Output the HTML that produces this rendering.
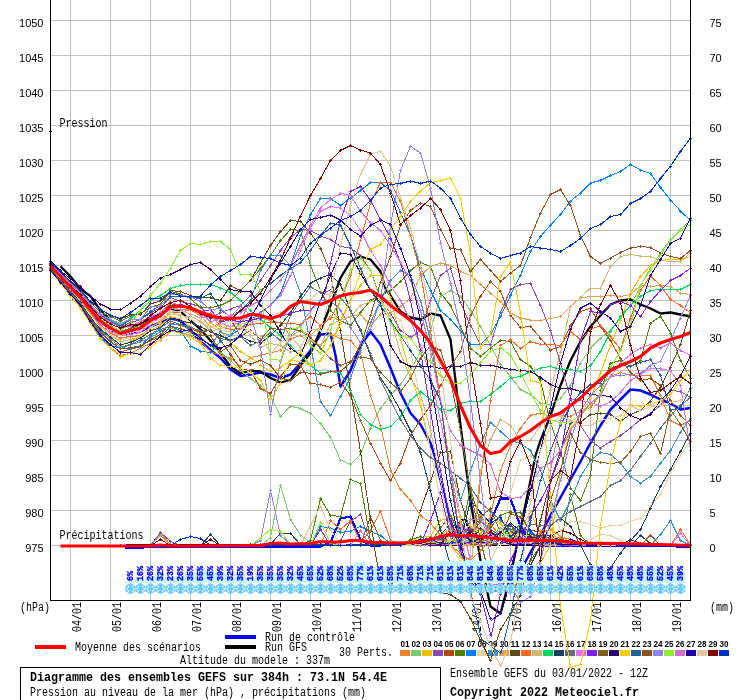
<!DOCTYPE html>
<html lang="fr"><head><meta charset="utf-8"><title>Diagramme des ensembles GEFS</title>
<style>html,body{margin:0;padding:0;background:#fff}svg{display:block;will-change:transform}text{white-space:pre}</style>
</head><body>
<svg width="740" height="700" viewBox="0 0 740 700">
<rect width="740" height="700" fill="#fff"/>
<g shape-rendering="crispEdges" stroke="#c0c0c0" stroke-width="1">
<line x1="70.5" y1="0" x2="70.5" y2="600"/>
<line x1="110.5" y1="0" x2="110.5" y2="600"/>
<line x1="150.5" y1="0" x2="150.5" y2="600"/>
<line x1="190.5" y1="0" x2="190.5" y2="600"/>
<line x1="230.5" y1="0" x2="230.5" y2="600"/>
<line x1="270.5" y1="0" x2="270.5" y2="600"/>
<line x1="310.5" y1="0" x2="310.5" y2="600"/>
<line x1="350.5" y1="0" x2="350.5" y2="600"/>
<line x1="390.5" y1="0" x2="390.5" y2="600"/>
<line x1="430.5" y1="0" x2="430.5" y2="600"/>
<line x1="470.5" y1="0" x2="470.5" y2="600"/>
<line x1="510.5" y1="0" x2="510.5" y2="600"/>
<line x1="550.5" y1="0" x2="550.5" y2="600"/>
<line x1="590.5" y1="0" x2="590.5" y2="600"/>
<line x1="630.5" y1="0" x2="630.5" y2="600"/>
<line x1="670.5" y1="0" x2="670.5" y2="600"/>
<line x1="51" y1="20.5" x2="690" y2="20.5"/>
<line x1="51" y1="55.5" x2="690" y2="55.5"/>
<line x1="51" y1="90.5" x2="690" y2="90.5"/>
<line x1="51" y1="125.5" x2="690" y2="125.5"/>
<line x1="51" y1="160.5" x2="690" y2="160.5"/>
<line x1="51" y1="195.5" x2="690" y2="195.5"/>
<line x1="51" y1="230.5" x2="690" y2="230.5"/>
<line x1="51" y1="265.5" x2="690" y2="265.5"/>
<line x1="51" y1="300.5" x2="690" y2="300.5"/>
<line x1="51" y1="335.5" x2="690" y2="335.5"/>
<line x1="51" y1="370.5" x2="690" y2="370.5"/>
<line x1="51" y1="405.5" x2="690" y2="405.5"/>
<line x1="51" y1="440.5" x2="690" y2="440.5"/>
<line x1="51" y1="475.5" x2="690" y2="475.5"/>
<line x1="51" y1="510.5" x2="690" y2="510.5"/>
<line x1="51" y1="545.5" x2="690" y2="545.5"/>
</g>
<g shape-rendering="crispEdges" fill="#000">
<rect x="50" y="0" width="1" height="601"/>
<rect x="690" y="0" width="1" height="601"/>
<rect x="50" y="600" width="641" height="1"/>
<rect x="49" y="131" width="3" height="1"/>
</g>
<g font-family="'Liberation Sans', sans-serif" font-size="11" fill="#000">
<text x="43.5" y="27" text-anchor="end">1050</text>
<text x="709.5" y="27">75</text>
<text x="43.5" y="62" text-anchor="end">1045</text>
<text x="709.5" y="62">70</text>
<text x="43.5" y="97" text-anchor="end">1040</text>
<text x="709.5" y="97">65</text>
<text x="43.5" y="132" text-anchor="end">1035</text>
<text x="709.5" y="132">60</text>
<text x="43.5" y="167" text-anchor="end">1030</text>
<text x="709.5" y="167">55</text>
<text x="43.5" y="202" text-anchor="end">1025</text>
<text x="709.5" y="202">50</text>
<text x="43.5" y="237" text-anchor="end">1020</text>
<text x="709.5" y="237">45</text>
<text x="43.5" y="272" text-anchor="end">1015</text>
<text x="709.5" y="272">40</text>
<text x="43.5" y="307" text-anchor="end">1010</text>
<text x="709.5" y="307">35</text>
<text x="43.5" y="342" text-anchor="end">1005</text>
<text x="709.5" y="342">30</text>
<text x="43.5" y="377" text-anchor="end">1000</text>
<text x="709.5" y="377">25</text>
<text x="43.5" y="412" text-anchor="end">995</text>
<text x="709.5" y="412">20</text>
<text x="43.5" y="447" text-anchor="end">990</text>
<text x="709.5" y="447">15</text>
<text x="43.5" y="482" text-anchor="end">985</text>
<text x="709.5" y="482">10</text>
<text x="43.5" y="517" text-anchor="end">980</text>
<text x="709.5" y="517">5</text>
<text x="43.5" y="552" text-anchor="end">975</text>
<text x="709.5" y="552">0</text>
</g>
<g font-family="'Liberation Mono', monospace">
<text x="59.5" y="127" font-size="12" textLength="48" lengthAdjust="spacingAndGlyphs" fill="#000" >Pression</text>
<text x="59.5" y="539" font-size="12" textLength="84" lengthAdjust="spacingAndGlyphs" fill="#000" >Précipitations</text>
<text x="20" y="611" font-size="12" textLength="30" lengthAdjust="spacingAndGlyphs" fill="#000" >(hPa)</text>
<text x="710" y="611" font-size="12" textLength="24" lengthAdjust="spacingAndGlyphs" fill="#000" >(mm)</text>
<g transform="translate(81,632) rotate(-90)"><text x="0" y="0" font-size="12" textLength="30" lengthAdjust="spacingAndGlyphs" fill="#000" >04/01</text></g>
<g transform="translate(121,632) rotate(-90)"><text x="0" y="0" font-size="12" textLength="30" lengthAdjust="spacingAndGlyphs" fill="#000" >05/01</text></g>
<g transform="translate(161,632) rotate(-90)"><text x="0" y="0" font-size="12" textLength="30" lengthAdjust="spacingAndGlyphs" fill="#000" >06/01</text></g>
<g transform="translate(201,632) rotate(-90)"><text x="0" y="0" font-size="12" textLength="30" lengthAdjust="spacingAndGlyphs" fill="#000" >07/01</text></g>
<g transform="translate(241,632) rotate(-90)"><text x="0" y="0" font-size="12" textLength="30" lengthAdjust="spacingAndGlyphs" fill="#000" >08/01</text></g>
<g transform="translate(281,632) rotate(-90)"><text x="0" y="0" font-size="12" textLength="30" lengthAdjust="spacingAndGlyphs" fill="#000" >09/01</text></g>
<g transform="translate(321,632) rotate(-90)"><text x="0" y="0" font-size="12" textLength="30" lengthAdjust="spacingAndGlyphs" fill="#000" >10/01</text></g>
<g transform="translate(361,632) rotate(-90)"><text x="0" y="0" font-size="12" textLength="30" lengthAdjust="spacingAndGlyphs" fill="#000" >11/01</text></g>
<g transform="translate(401,632) rotate(-90)"><text x="0" y="0" font-size="12" textLength="30" lengthAdjust="spacingAndGlyphs" fill="#000" >12/01</text></g>
<g transform="translate(441,632) rotate(-90)"><text x="0" y="0" font-size="12" textLength="30" lengthAdjust="spacingAndGlyphs" fill="#000" >13/01</text></g>
<g transform="translate(481,632) rotate(-90)"><text x="0" y="0" font-size="12" textLength="30" lengthAdjust="spacingAndGlyphs" fill="#000" >14/01</text></g>
<g transform="translate(521,632) rotate(-90)"><text x="0" y="0" font-size="12" textLength="30" lengthAdjust="spacingAndGlyphs" fill="#000" >15/01</text></g>
<g transform="translate(561,632) rotate(-90)"><text x="0" y="0" font-size="12" textLength="30" lengthAdjust="spacingAndGlyphs" fill="#000" >16/01</text></g>
<g transform="translate(601,632) rotate(-90)"><text x="0" y="0" font-size="12" textLength="30" lengthAdjust="spacingAndGlyphs" fill="#000" >17/01</text></g>
<g transform="translate(641,632) rotate(-90)"><text x="0" y="0" font-size="12" textLength="30" lengthAdjust="spacingAndGlyphs" fill="#000" >18/01</text></g>
<g transform="translate(681,632) rotate(-90)"><text x="0" y="0" font-size="12" textLength="30" lengthAdjust="spacingAndGlyphs" fill="#000" >19/01</text></g>
<text x="75" y="651" font-size="12" textLength="126" lengthAdjust="spacingAndGlyphs" fill="#000" >Moyenne des scénarios</text>
<text x="265" y="641" font-size="12" textLength="90" lengthAdjust="spacingAndGlyphs" fill="#000" >Run de contrôle</text>
<text x="265" y="651" font-size="12" textLength="42" lengthAdjust="spacingAndGlyphs" fill="#000" >Run GFS</text>
<text x="339" y="656" font-size="12" textLength="54" lengthAdjust="spacingAndGlyphs" fill="#000" >30 Perts.</text>
<text x="180" y="664" font-size="12" textLength="150" lengthAdjust="spacingAndGlyphs" fill="#000" >Altitude du modele : 337m</text>
<text x="30" y="681" font-size="12" font-weight="bold" textLength="357" lengthAdjust="spacingAndGlyphs" fill="#000" >Diagramme des ensembles GEFS sur 384h : 73.1N 54.4E</text>
<text x="30" y="696" font-size="12" textLength="336" lengthAdjust="spacingAndGlyphs" fill="#000" >Pression au niveau de la mer (hPa) , précipitations (mm)</text>
<text x="450" y="677" font-size="12" textLength="198" lengthAdjust="spacingAndGlyphs" fill="#000" >Ensemble GEFS du 03/01/2022 - 12Z</text>
<text x="450" y="696" font-size="12" font-weight="bold" textLength="189" lengthAdjust="spacingAndGlyphs" fill="#000" >Copyright 2022 Meteociel.fr</text>
</g>
<g shape-rendering="crispEdges">
<rect x="35" y="645" width="31" height="4" fill="#ff0000"/>
<rect x="225" y="635" width="31" height="4" fill="#0000ff"/>
<rect x="225" y="645" width="31" height="4" fill="#000"/>
<rect x="400" y="650" width="10" height="6" fill="#e88030"/>
<rect x="411" y="650" width="10" height="6" fill="#80c870"/>
<rect x="422" y="650" width="10" height="6" fill="#f0c000"/>
<rect x="433" y="650" width="10" height="6" fill="#9048b0"/>
<rect x="444" y="650" width="10" height="6" fill="#b04808"/>
<rect x="455" y="650" width="10" height="6" fill="#508008"/>
<rect x="466" y="650" width="10" height="6" fill="#0080ff"/>
<rect x="477" y="650" width="10" height="6" fill="#e8d0a0"/>
<rect x="488" y="650" width="10" height="6" fill="#4090c0"/>
<rect x="499" y="650" width="10" height="6" fill="#e0a050"/>
<rect x="510" y="650" width="10" height="6" fill="#604818"/>
<rect x="521" y="650" width="10" height="6" fill="#ff6820"/>
<rect x="532" y="650" width="10" height="6" fill="#d0b870"/>
<rect x="543" y="650" width="10" height="6" fill="#00d860"/>
<rect x="554" y="650" width="10" height="6" fill="#204060"/>
<rect x="565" y="650" width="10" height="6" fill="#607080"/>
<rect x="576" y="650" width="10" height="6" fill="#e070f0"/>
<rect x="587" y="650" width="10" height="6" fill="#8020f0"/>
<rect x="598" y="650" width="10" height="6" fill="#806020"/>
<rect x="609" y="650" width="10" height="6" fill="#300070"/>
<rect x="620" y="650" width="10" height="6" fill="#f0d000"/>
<rect x="631" y="650" width="10" height="6" fill="#2060a0"/>
<rect x="642" y="650" width="10" height="6" fill="#905020"/>
<rect x="653" y="650" width="10" height="6" fill="#9080f0"/>
<rect x="664" y="650" width="10" height="6" fill="#90f030"/>
<rect x="675" y="650" width="10" height="6" fill="#d070d0"/>
<rect x="686" y="650" width="10" height="6" fill="#2000a0"/>
<rect x="697" y="650" width="10" height="6" fill="#e0c8a0"/>
<rect x="708" y="650" width="10" height="6" fill="#800000"/>
<rect x="719" y="650" width="10" height="6" fill="#0030c0"/>
<rect x="20.5" y="667.5" width="420" height="40" fill="none" stroke="#000" stroke-width="1"/>
</g>
<g font-family="'Liberation Sans', sans-serif" font-size="8.5" font-weight="bold" fill="#000">
<text x="400.5" y="647" textLength="9" lengthAdjust="spacingAndGlyphs">01</text>
<text x="411.5" y="647" textLength="9" lengthAdjust="spacingAndGlyphs">02</text>
<text x="422.5" y="647" textLength="9" lengthAdjust="spacingAndGlyphs">03</text>
<text x="433.5" y="647" textLength="9" lengthAdjust="spacingAndGlyphs">04</text>
<text x="444.5" y="647" textLength="9" lengthAdjust="spacingAndGlyphs">05</text>
<text x="455.5" y="647" textLength="9" lengthAdjust="spacingAndGlyphs">06</text>
<text x="466.5" y="647" textLength="9" lengthAdjust="spacingAndGlyphs">07</text>
<text x="477.5" y="647" textLength="9" lengthAdjust="spacingAndGlyphs">08</text>
<text x="488.5" y="647" textLength="9" lengthAdjust="spacingAndGlyphs">09</text>
<text x="499.5" y="647" textLength="9" lengthAdjust="spacingAndGlyphs">10</text>
<text x="510.5" y="647" textLength="9" lengthAdjust="spacingAndGlyphs">11</text>
<text x="521.5" y="647" textLength="9" lengthAdjust="spacingAndGlyphs">12</text>
<text x="532.5" y="647" textLength="9" lengthAdjust="spacingAndGlyphs">13</text>
<text x="543.5" y="647" textLength="9" lengthAdjust="spacingAndGlyphs">14</text>
<text x="554.5" y="647" textLength="9" lengthAdjust="spacingAndGlyphs">15</text>
<text x="565.5" y="647" textLength="9" lengthAdjust="spacingAndGlyphs">16</text>
<text x="576.5" y="647" textLength="9" lengthAdjust="spacingAndGlyphs">17</text>
<text x="587.5" y="647" textLength="9" lengthAdjust="spacingAndGlyphs">18</text>
<text x="598.5" y="647" textLength="9" lengthAdjust="spacingAndGlyphs">19</text>
<text x="609.5" y="647" textLength="9" lengthAdjust="spacingAndGlyphs">20</text>
<text x="620.5" y="647" textLength="9" lengthAdjust="spacingAndGlyphs">21</text>
<text x="631.5" y="647" textLength="9" lengthAdjust="spacingAndGlyphs">22</text>
<text x="642.5" y="647" textLength="9" lengthAdjust="spacingAndGlyphs">23</text>
<text x="653.5" y="647" textLength="9" lengthAdjust="spacingAndGlyphs">24</text>
<text x="664.5" y="647" textLength="9" lengthAdjust="spacingAndGlyphs">25</text>
<text x="675.5" y="647" textLength="9" lengthAdjust="spacingAndGlyphs">26</text>
<text x="686.5" y="647" textLength="9" lengthAdjust="spacingAndGlyphs">27</text>
<text x="697.5" y="647" textLength="9" lengthAdjust="spacingAndGlyphs">28</text>
<text x="708.5" y="647" textLength="9" lengthAdjust="spacingAndGlyphs">29</text>
<text x="719.5" y="647" textLength="9" lengthAdjust="spacingAndGlyphs">30</text>
</g>
<g shape-rendering="crispEdges" stroke-linejoin="round">
<polyline points="125.5,545.0 430.5,545.0 440.5,542.0 450.5,535.0 460.5,520.0 465.5,520.0 470.5,535.0 480.5,542.0 490.5,545.0 690.5,545.0" fill="none" stroke="#000" stroke-width="1.6" />
<polyline points="125.5,547.5 320.5,546.5 330.5,542.5 340.5,518.5 350.5,516.5 360.5,539.5 370.5,545.5 470.5,544.5 480.5,539.5 490.5,521.5 500.5,498.5 510.5,498.5 520.5,526.5 530.5,541.5 540.5,545.5 690.5,546.5" fill="none" stroke="#0000ff" stroke-width="2.2" />
<polyline points="50.5,265.5 60.5,276.5 70.5,288.5 80.5,299.5 90.5,311.5 100.5,322.5 110.5,329.5 120.5,334.5 130.5,333.5 140.5,331.5 150.5,326.5 160.5,322.5 170.5,318.5 180.5,320.5 190.5,330.5 200.5,341.5 210.5,350.0 220.5,358.0 230.5,369.5 240.5,376.0 250.5,374.5 260.5,372.5 270.5,374.5 280.5,378.0 290.5,374.5 300.5,363.0 310.5,350.5 320.5,334.5 330.5,333.5 335.5,355.5 340.5,386.5 350.5,370.5 360.5,345.5 370.5,331.5 380.5,344.5 390.5,368.0 400.5,393.0 410.5,413.0 420.5,424.5 430.5,443.0 434.5,455.5 440.5,480.5 450.5,520.5 460.5,550.5 470.5,572.5 480.5,585.5 490.5,590.5 500.5,590.5 510.5,585.5 520.5,570.5 530.5,552.5 540.5,535.5 545.5,525.5 550.5,515.5 560.5,497.5 570.5,479.5 580.5,461.5 590.5,443.0 600.5,425.5 610.5,409.5 620.5,399.5 630.5,389.5 640.5,390.5 650.5,394.5 660.5,399.5 670.5,403.5 680.5,409.5 690.5,408.0" fill="none" stroke="#0000ff" stroke-width="2.5" shape-rendering="geometricPrecision"/>
<polyline points="60.5,266.2 70.5,276.5 80.5,289.0 90.5,296.1 100.5,310.5 110.5,320.5 120.5,326.0 130.5,326.0 140.5,324.5 150.5,318.5 160.5,313.5 170.5,308.5 180.5,311.5 190.5,320.5 200.5,329.5 210.5,340.5 220.5,353.0 230.5,366.5 240.5,373.5 250.5,370.5 260.5,371.5 270.5,378.0 280.5,382.5 290.5,380.0 300.5,365.5 310.5,353.0 320.5,330.5 330.5,305.5 340.5,278.0 350.5,261.5 360.5,256.5 370.5,259.5 380.5,271.5 385.5,288.5 390.5,295.5 400.5,311.5 410.5,317.5 420.5,319.5 430.5,313.5 440.5,315.5 450.5,339.5 455.5,380.5 460.5,425.5 464.5,455.5 470.5,500.5 480.5,560.5 490.5,606.5 500.5,613.5 510.5,575.5 520.5,528.5 530.5,480.5 535.5,455.5 540.5,440.5 550.5,415.5 560.5,385.5 570.5,360.5 580.5,341.5 590.5,326.5 600.5,315.5 610.5,304.5 620.5,300.5 630.5,299.5 640.5,304.5 650.5,308.5 660.5,313.5 670.5,312.5 680.5,314.5 690.5,316.5" fill="none" stroke="#000" stroke-width="2.3" shape-rendering="geometricPrecision"/>
<polyline points="120.5,545.5 130.5,545.5 140.5,545.5 150.5,545.5 160.5,533.5 170.5,544.5 180.5,545.5 190.5,545.5 200.5,545.5 210.5,545.5 220.5,545.5 230.5,545.5 240.5,545.5 250.5,545.5 260.5,545.5 270.5,545.5 280.5,545.5 290.5,545.5 300.5,545.5 310.5,545.5 320.5,545.5 330.5,545.5 340.5,545.5 350.5,545.5 360.5,545.5 370.5,545.5 380.5,545.5 390.5,545.5 400.5,544.5 410.5,544.5 420.5,544.8 430.5,545.3 440.5,543.1 450.5,539.8 460.5,527.1 470.5,535.6 480.5,529.0 490.5,538.5 500.5,539.4 510.5,542.6 520.5,544.3 530.5,543.2 540.5,542.7 550.5,544.5 560.5,543.0 570.5,544.6 580.5,544.0 590.5,544.8 600.5,545.3 610.5,545.3 620.5,545.5 630.5,545.5 640.5,545.5 650.5,545.5 660.5,545.5 670.5,545.5 680.5,545.5 690.5,545.5" fill="none" stroke="#e88030" stroke-width="1" /><path d="M120 544h1v1h1v1h-1v1h-1v-1h-1v-1h1zM130 544h1v1h1v1h-1v1h-1v-1h-1v-1h1zM140 544h1v1h1v1h-1v1h-1v-1h-1v-1h1zM150 544h1v1h1v1h-1v1h-1v-1h-1v-1h1zM160 532h1v1h1v1h-1v1h-1v-1h-1v-1h1zM170 543h1v1h1v1h-1v1h-1v-1h-1v-1h1zM180 544h1v1h1v1h-1v1h-1v-1h-1v-1h1zM190 544h1v1h1v1h-1v1h-1v-1h-1v-1h1zM200 544h1v1h1v1h-1v1h-1v-1h-1v-1h1zM210 544h1v1h1v1h-1v1h-1v-1h-1v-1h1zM220 544h1v1h1v1h-1v1h-1v-1h-1v-1h1zM230 544h1v1h1v1h-1v1h-1v-1h-1v-1h1zM240 544h1v1h1v1h-1v1h-1v-1h-1v-1h1zM250 544h1v1h1v1h-1v1h-1v-1h-1v-1h1zM260 544h1v1h1v1h-1v1h-1v-1h-1v-1h1zM270 544h1v1h1v1h-1v1h-1v-1h-1v-1h1zM280 544h1v1h1v1h-1v1h-1v-1h-1v-1h1zM290 544h1v1h1v1h-1v1h-1v-1h-1v-1h1zM300 544h1v1h1v1h-1v1h-1v-1h-1v-1h1zM310 544h1v1h1v1h-1v1h-1v-1h-1v-1h1zM320 544h1v1h1v1h-1v1h-1v-1h-1v-1h1zM330 544h1v1h1v1h-1v1h-1v-1h-1v-1h1zM340 544h1v1h1v1h-1v1h-1v-1h-1v-1h1zM350 544h1v1h1v1h-1v1h-1v-1h-1v-1h1zM360 544h1v1h1v1h-1v1h-1v-1h-1v-1h1zM370 544h1v1h1v1h-1v1h-1v-1h-1v-1h1zM380 544h1v1h1v1h-1v1h-1v-1h-1v-1h1zM390 544h1v1h1v1h-1v1h-1v-1h-1v-1h1zM400 543h1v1h1v1h-1v1h-1v-1h-1v-1h1zM410 543h1v1h1v1h-1v1h-1v-1h-1v-1h1zM420 543h1v1h1v1h-1v1h-1v-1h-1v-1h1zM430 544h1v1h1v1h-1v1h-1v-1h-1v-1h1zM440 542h1v1h1v1h-1v1h-1v-1h-1v-1h1zM450 538h1v1h1v1h-1v1h-1v-1h-1v-1h1zM460 526h1v1h1v1h-1v1h-1v-1h-1v-1h1zM470 534h1v1h1v1h-1v1h-1v-1h-1v-1h1zM480 528h1v1h1v1h-1v1h-1v-1h-1v-1h1zM490 537h1v1h1v1h-1v1h-1v-1h-1v-1h1zM500 538h1v1h1v1h-1v1h-1v-1h-1v-1h1zM510 541h1v1h1v1h-1v1h-1v-1h-1v-1h1zM520 543h1v1h1v1h-1v1h-1v-1h-1v-1h1zM530 542h1v1h1v1h-1v1h-1v-1h-1v-1h1zM540 541h1v1h1v1h-1v1h-1v-1h-1v-1h1zM550 543h1v1h1v1h-1v1h-1v-1h-1v-1h1zM560 541h1v1h1v1h-1v1h-1v-1h-1v-1h1zM570 543h1v1h1v1h-1v1h-1v-1h-1v-1h1zM580 542h1v1h1v1h-1v1h-1v-1h-1v-1h1zM590 543h1v1h1v1h-1v1h-1v-1h-1v-1h1zM600 544h1v1h1v1h-1v1h-1v-1h-1v-1h1zM610 544h1v1h1v1h-1v1h-1v-1h-1v-1h1zM620 544h1v1h1v1h-1v1h-1v-1h-1v-1h1zM630 544h1v1h1v1h-1v1h-1v-1h-1v-1h1zM640 544h1v1h1v1h-1v1h-1v-1h-1v-1h1zM650 544h1v1h1v1h-1v1h-1v-1h-1v-1h1zM660 544h1v1h1v1h-1v1h-1v-1h-1v-1h1zM670 544h1v1h1v1h-1v1h-1v-1h-1v-1h1zM680 544h1v1h1v1h-1v1h-1v-1h-1v-1h1zM690 544h1v1h1v1h-1v1h-1v-1h-1v-1h1z" fill="#e88030"/>
<polyline points="120.5,545.5 130.5,545.5 140.5,545.5 150.5,545.5 160.5,535.5 170.5,545.5 180.5,545.5 190.5,545.5 200.5,545.5 210.5,545.5 220.5,545.5 230.5,545.5 240.5,545.5 250.5,545.5 260.5,545.5 270.5,538.0 280.5,485.5 290.5,519.5 300.5,535.0 310.5,542.5 320.5,545.5 330.5,545.5 340.5,545.5 350.5,545.5 360.5,545.5 370.5,545.5 380.5,545.5 390.5,545.5 400.5,545.1 410.5,545.2 420.5,544.5 430.5,543.4 440.5,544.7 450.5,544.5 460.5,542.8 470.5,539.8 480.5,535.3 490.5,537.8 500.5,533.6 510.5,529.9 520.5,540.5 530.5,538.7 540.5,542.4 550.5,543.6 560.5,544.9 570.5,545.3 580.5,545.4 590.5,545.1 600.5,544.6 610.5,544.9 620.5,545.5 630.5,545.5 640.5,545.5 650.5,545.5 660.5,545.5 670.5,545.5 680.5,545.5 690.5,545.5" fill="none" stroke="#80c870" stroke-width="1" /><path d="M120 544h1v1h1v1h-1v1h-1v-1h-1v-1h1zM130 544h1v1h1v1h-1v1h-1v-1h-1v-1h1zM140 544h1v1h1v1h-1v1h-1v-1h-1v-1h1zM150 544h1v1h1v1h-1v1h-1v-1h-1v-1h1zM160 534h1v1h1v1h-1v1h-1v-1h-1v-1h1zM170 544h1v1h1v1h-1v1h-1v-1h-1v-1h1zM180 544h1v1h1v1h-1v1h-1v-1h-1v-1h1zM190 544h1v1h1v1h-1v1h-1v-1h-1v-1h1zM200 544h1v1h1v1h-1v1h-1v-1h-1v-1h1zM210 544h1v1h1v1h-1v1h-1v-1h-1v-1h1zM220 544h1v1h1v1h-1v1h-1v-1h-1v-1h1zM230 544h1v1h1v1h-1v1h-1v-1h-1v-1h1zM240 544h1v1h1v1h-1v1h-1v-1h-1v-1h1zM250 544h1v1h1v1h-1v1h-1v-1h-1v-1h1zM260 544h1v1h1v1h-1v1h-1v-1h-1v-1h1zM270 537h1v1h1v1h-1v1h-1v-1h-1v-1h1zM280 484h1v1h1v1h-1v1h-1v-1h-1v-1h1zM290 518h1v1h1v1h-1v1h-1v-1h-1v-1h1zM300 534h1v1h1v1h-1v1h-1v-1h-1v-1h1zM310 541h1v1h1v1h-1v1h-1v-1h-1v-1h1zM320 544h1v1h1v1h-1v1h-1v-1h-1v-1h1zM330 544h1v1h1v1h-1v1h-1v-1h-1v-1h1zM340 544h1v1h1v1h-1v1h-1v-1h-1v-1h1zM350 544h1v1h1v1h-1v1h-1v-1h-1v-1h1zM360 544h1v1h1v1h-1v1h-1v-1h-1v-1h1zM370 544h1v1h1v1h-1v1h-1v-1h-1v-1h1zM380 544h1v1h1v1h-1v1h-1v-1h-1v-1h1zM390 544h1v1h1v1h-1v1h-1v-1h-1v-1h1zM400 544h1v1h1v1h-1v1h-1v-1h-1v-1h1zM410 544h1v1h1v1h-1v1h-1v-1h-1v-1h1zM420 543h1v1h1v1h-1v1h-1v-1h-1v-1h1zM430 542h1v1h1v1h-1v1h-1v-1h-1v-1h1zM440 543h1v1h1v1h-1v1h-1v-1h-1v-1h1zM450 543h1v1h1v1h-1v1h-1v-1h-1v-1h1zM460 541h1v1h1v1h-1v1h-1v-1h-1v-1h1zM470 538h1v1h1v1h-1v1h-1v-1h-1v-1h1zM480 534h1v1h1v1h-1v1h-1v-1h-1v-1h1zM490 536h1v1h1v1h-1v1h-1v-1h-1v-1h1zM500 532h1v1h1v1h-1v1h-1v-1h-1v-1h1zM510 528h1v1h1v1h-1v1h-1v-1h-1v-1h1zM520 539h1v1h1v1h-1v1h-1v-1h-1v-1h1zM530 537h1v1h1v1h-1v1h-1v-1h-1v-1h1zM540 541h1v1h1v1h-1v1h-1v-1h-1v-1h1zM550 542h1v1h1v1h-1v1h-1v-1h-1v-1h1zM560 543h1v1h1v1h-1v1h-1v-1h-1v-1h1zM570 544h1v1h1v1h-1v1h-1v-1h-1v-1h1zM580 544h1v1h1v1h-1v1h-1v-1h-1v-1h1zM590 544h1v1h1v1h-1v1h-1v-1h-1v-1h1zM600 543h1v1h1v1h-1v1h-1v-1h-1v-1h1zM610 543h1v1h1v1h-1v1h-1v-1h-1v-1h1zM620 544h1v1h1v1h-1v1h-1v-1h-1v-1h1zM630 544h1v1h1v1h-1v1h-1v-1h-1v-1h1zM640 544h1v1h1v1h-1v1h-1v-1h-1v-1h1zM650 544h1v1h1v1h-1v1h-1v-1h-1v-1h1zM660 544h1v1h1v1h-1v1h-1v-1h-1v-1h1zM670 544h1v1h1v1h-1v1h-1v-1h-1v-1h1zM680 544h1v1h1v1h-1v1h-1v-1h-1v-1h1zM690 544h1v1h1v1h-1v1h-1v-1h-1v-1h1z" fill="#80c870"/>
<polyline points="120.5,545.5 130.5,545.5 140.5,545.5 150.5,545.5 160.5,545.5 170.5,545.5 180.5,545.5 190.5,545.5 200.5,545.5 210.5,545.5 220.5,545.5 230.5,545.5 240.5,545.5 250.5,545.5 260.5,545.5 270.5,545.5 280.5,545.5 290.5,545.5 300.5,545.5 310.5,545.5 320.5,545.5 330.5,545.5 340.5,545.5 350.5,545.5 360.5,545.5 370.5,545.5 380.5,545.5 390.5,545.5 400.5,542.7 410.5,541.7 420.5,537.3 430.5,536.2 440.5,520.5 450.5,517.6 460.5,516.3 470.5,526.4 480.5,534.2 490.5,515.8 500.5,523.3 510.5,538.2 520.5,529.8 530.5,511.7 540.5,535.3 550.5,528.6 560.5,536.0 570.5,540.1 580.5,543.5 590.5,542.6 600.5,542.2 610.5,544.0 620.5,545.5 630.5,545.5 640.5,545.5 650.5,545.5 660.5,545.5 670.5,545.5 680.5,545.5 690.5,545.5" fill="none" stroke="#f0c000" stroke-width="1" /><path d="M120 544h1v1h1v1h-1v1h-1v-1h-1v-1h1zM130 544h1v1h1v1h-1v1h-1v-1h-1v-1h1zM140 544h1v1h1v1h-1v1h-1v-1h-1v-1h1zM150 544h1v1h1v1h-1v1h-1v-1h-1v-1h1zM160 544h1v1h1v1h-1v1h-1v-1h-1v-1h1zM170 544h1v1h1v1h-1v1h-1v-1h-1v-1h1zM180 544h1v1h1v1h-1v1h-1v-1h-1v-1h1zM190 544h1v1h1v1h-1v1h-1v-1h-1v-1h1zM200 544h1v1h1v1h-1v1h-1v-1h-1v-1h1zM210 544h1v1h1v1h-1v1h-1v-1h-1v-1h1zM220 544h1v1h1v1h-1v1h-1v-1h-1v-1h1zM230 544h1v1h1v1h-1v1h-1v-1h-1v-1h1zM240 544h1v1h1v1h-1v1h-1v-1h-1v-1h1zM250 544h1v1h1v1h-1v1h-1v-1h-1v-1h1zM260 544h1v1h1v1h-1v1h-1v-1h-1v-1h1zM270 544h1v1h1v1h-1v1h-1v-1h-1v-1h1zM280 544h1v1h1v1h-1v1h-1v-1h-1v-1h1zM290 544h1v1h1v1h-1v1h-1v-1h-1v-1h1zM300 544h1v1h1v1h-1v1h-1v-1h-1v-1h1zM310 544h1v1h1v1h-1v1h-1v-1h-1v-1h1zM320 544h1v1h1v1h-1v1h-1v-1h-1v-1h1zM330 544h1v1h1v1h-1v1h-1v-1h-1v-1h1zM340 544h1v1h1v1h-1v1h-1v-1h-1v-1h1zM350 544h1v1h1v1h-1v1h-1v-1h-1v-1h1zM360 544h1v1h1v1h-1v1h-1v-1h-1v-1h1zM370 544h1v1h1v1h-1v1h-1v-1h-1v-1h1zM380 544h1v1h1v1h-1v1h-1v-1h-1v-1h1zM390 544h1v1h1v1h-1v1h-1v-1h-1v-1h1zM400 541h1v1h1v1h-1v1h-1v-1h-1v-1h1zM410 540h1v1h1v1h-1v1h-1v-1h-1v-1h1zM420 536h1v1h1v1h-1v1h-1v-1h-1v-1h1zM430 535h1v1h1v1h-1v1h-1v-1h-1v-1h1zM440 519h1v1h1v1h-1v1h-1v-1h-1v-1h1zM450 516h1v1h1v1h-1v1h-1v-1h-1v-1h1zM460 515h1v1h1v1h-1v1h-1v-1h-1v-1h1zM470 525h1v1h1v1h-1v1h-1v-1h-1v-1h1zM480 533h1v1h1v1h-1v1h-1v-1h-1v-1h1zM490 514h1v1h1v1h-1v1h-1v-1h-1v-1h1zM500 522h1v1h1v1h-1v1h-1v-1h-1v-1h1zM510 537h1v1h1v1h-1v1h-1v-1h-1v-1h1zM520 528h1v1h1v1h-1v1h-1v-1h-1v-1h1zM530 510h1v1h1v1h-1v1h-1v-1h-1v-1h1zM540 534h1v1h1v1h-1v1h-1v-1h-1v-1h1zM550 527h1v1h1v1h-1v1h-1v-1h-1v-1h1zM560 535h1v1h1v1h-1v1h-1v-1h-1v-1h1zM570 539h1v1h1v1h-1v1h-1v-1h-1v-1h1zM580 542h1v1h1v1h-1v1h-1v-1h-1v-1h1zM590 541h1v1h1v1h-1v1h-1v-1h-1v-1h1zM600 541h1v1h1v1h-1v1h-1v-1h-1v-1h1zM610 543h1v1h1v1h-1v1h-1v-1h-1v-1h1zM620 544h1v1h1v1h-1v1h-1v-1h-1v-1h1zM630 544h1v1h1v1h-1v1h-1v-1h-1v-1h1zM640 544h1v1h1v1h-1v1h-1v-1h-1v-1h1zM650 544h1v1h1v1h-1v1h-1v-1h-1v-1h1zM660 544h1v1h1v1h-1v1h-1v-1h-1v-1h1zM670 544h1v1h1v1h-1v1h-1v-1h-1v-1h1zM680 544h1v1h1v1h-1v1h-1v-1h-1v-1h1zM690 544h1v1h1v1h-1v1h-1v-1h-1v-1h1z" fill="#f0c000"/>
<polyline points="120.5,545.5 130.5,545.5 140.5,545.5 150.5,545.5 160.5,532.5 170.5,541.5 180.5,545.5 190.5,545.5 200.5,545.5 210.5,545.5 220.5,545.5 230.5,545.5 240.5,545.5 250.5,545.5 260.5,545.5 270.5,545.5 280.5,545.5 290.5,545.5 300.5,545.5 310.5,545.5 320.5,545.5 330.5,545.5 340.5,540.5 350.5,521.5 360.5,514.5 370.5,543.5 380.5,545.5 390.5,545.5 400.5,545.2 410.5,544.9 420.5,545.3 430.5,545.2 440.5,543.6 450.5,541.4 460.5,544.3 470.5,545.0 480.5,538.5 490.5,543.3 500.5,541.2 510.5,543.5 520.5,542.5 530.5,541.4 540.5,543.3 550.5,544.6 560.5,545.1 570.5,545.0 580.5,545.1 590.5,545.3 600.5,545.3 610.5,545.4 620.5,545.5 630.5,545.5 640.5,545.5 650.5,545.5 660.5,545.5 670.5,545.5 680.5,545.5 690.5,545.5" fill="none" stroke="#9048b0" stroke-width="1" /><path d="M120 544h1v1h1v1h-1v1h-1v-1h-1v-1h1zM130 544h1v1h1v1h-1v1h-1v-1h-1v-1h1zM140 544h1v1h1v1h-1v1h-1v-1h-1v-1h1zM150 544h1v1h1v1h-1v1h-1v-1h-1v-1h1zM160 531h1v1h1v1h-1v1h-1v-1h-1v-1h1zM170 540h1v1h1v1h-1v1h-1v-1h-1v-1h1zM180 544h1v1h1v1h-1v1h-1v-1h-1v-1h1zM190 544h1v1h1v1h-1v1h-1v-1h-1v-1h1zM200 544h1v1h1v1h-1v1h-1v-1h-1v-1h1zM210 544h1v1h1v1h-1v1h-1v-1h-1v-1h1zM220 544h1v1h1v1h-1v1h-1v-1h-1v-1h1zM230 544h1v1h1v1h-1v1h-1v-1h-1v-1h1zM240 544h1v1h1v1h-1v1h-1v-1h-1v-1h1zM250 544h1v1h1v1h-1v1h-1v-1h-1v-1h1zM260 544h1v1h1v1h-1v1h-1v-1h-1v-1h1zM270 544h1v1h1v1h-1v1h-1v-1h-1v-1h1zM280 544h1v1h1v1h-1v1h-1v-1h-1v-1h1zM290 544h1v1h1v1h-1v1h-1v-1h-1v-1h1zM300 544h1v1h1v1h-1v1h-1v-1h-1v-1h1zM310 544h1v1h1v1h-1v1h-1v-1h-1v-1h1zM320 544h1v1h1v1h-1v1h-1v-1h-1v-1h1zM330 544h1v1h1v1h-1v1h-1v-1h-1v-1h1zM340 539h1v1h1v1h-1v1h-1v-1h-1v-1h1zM350 520h1v1h1v1h-1v1h-1v-1h-1v-1h1zM360 513h1v1h1v1h-1v1h-1v-1h-1v-1h1zM370 542h1v1h1v1h-1v1h-1v-1h-1v-1h1zM380 544h1v1h1v1h-1v1h-1v-1h-1v-1h1zM390 544h1v1h1v1h-1v1h-1v-1h-1v-1h1zM400 544h1v1h1v1h-1v1h-1v-1h-1v-1h1zM410 543h1v1h1v1h-1v1h-1v-1h-1v-1h1zM420 544h1v1h1v1h-1v1h-1v-1h-1v-1h1zM430 544h1v1h1v1h-1v1h-1v-1h-1v-1h1zM440 542h1v1h1v1h-1v1h-1v-1h-1v-1h1zM450 540h1v1h1v1h-1v1h-1v-1h-1v-1h1zM460 543h1v1h1v1h-1v1h-1v-1h-1v-1h1zM470 543h1v1h1v1h-1v1h-1v-1h-1v-1h1zM480 537h1v1h1v1h-1v1h-1v-1h-1v-1h1zM490 542h1v1h1v1h-1v1h-1v-1h-1v-1h1zM500 540h1v1h1v1h-1v1h-1v-1h-1v-1h1zM510 542h1v1h1v1h-1v1h-1v-1h-1v-1h1zM520 541h1v1h1v1h-1v1h-1v-1h-1v-1h1zM530 540h1v1h1v1h-1v1h-1v-1h-1v-1h1zM540 542h1v1h1v1h-1v1h-1v-1h-1v-1h1zM550 543h1v1h1v1h-1v1h-1v-1h-1v-1h1zM560 544h1v1h1v1h-1v1h-1v-1h-1v-1h1zM570 543h1v1h1v1h-1v1h-1v-1h-1v-1h1zM580 544h1v1h1v1h-1v1h-1v-1h-1v-1h1zM590 544h1v1h1v1h-1v1h-1v-1h-1v-1h1zM600 544h1v1h1v1h-1v1h-1v-1h-1v-1h1zM610 544h1v1h1v1h-1v1h-1v-1h-1v-1h1zM620 544h1v1h1v1h-1v1h-1v-1h-1v-1h1zM630 544h1v1h1v1h-1v1h-1v-1h-1v-1h1zM640 544h1v1h1v1h-1v1h-1v-1h-1v-1h1zM650 544h1v1h1v1h-1v1h-1v-1h-1v-1h1zM660 544h1v1h1v1h-1v1h-1v-1h-1v-1h1zM670 544h1v1h1v1h-1v1h-1v-1h-1v-1h1zM680 544h1v1h1v1h-1v1h-1v-1h-1v-1h1zM690 544h1v1h1v1h-1v1h-1v-1h-1v-1h1z" fill="#9048b0"/>
<polyline points="120.5,545.5 130.5,545.5 140.5,545.5 150.5,545.5 160.5,545.5 170.5,545.5 180.5,545.5 190.5,545.5 200.5,545.5 210.5,545.5 220.5,545.5 230.5,545.5 240.5,545.5 250.5,545.5 260.5,545.5 270.5,545.5 280.5,545.5 290.5,545.5 300.5,545.5 310.5,545.5 320.5,545.5 330.5,545.5 340.5,545.5 350.5,545.5 360.5,545.5 370.5,545.5 380.5,545.5 390.5,545.5 400.5,544.9 410.5,545.3 420.5,545.4 430.5,543.2 440.5,539.9 450.5,542.2 460.5,521.6 470.5,537.7 480.5,514.1 490.5,535.9 500.5,537.4 510.5,513.9 520.5,517.1 530.5,530.4 540.5,531.9 550.5,539.4 560.5,539.1 570.5,541.6 580.5,542.7 590.5,544.6 600.5,545.1 610.5,544.5 620.5,545.5 630.5,545.5 640.5,545.5 650.5,545.5 660.5,545.5 670.5,545.5 680.5,545.5 690.5,545.5" fill="none" stroke="#b04808" stroke-width="1" /><path d="M120 544h1v1h1v1h-1v1h-1v-1h-1v-1h1zM130 544h1v1h1v1h-1v1h-1v-1h-1v-1h1zM140 544h1v1h1v1h-1v1h-1v-1h-1v-1h1zM150 544h1v1h1v1h-1v1h-1v-1h-1v-1h1zM160 544h1v1h1v1h-1v1h-1v-1h-1v-1h1zM170 544h1v1h1v1h-1v1h-1v-1h-1v-1h1zM180 544h1v1h1v1h-1v1h-1v-1h-1v-1h1zM190 544h1v1h1v1h-1v1h-1v-1h-1v-1h1zM200 544h1v1h1v1h-1v1h-1v-1h-1v-1h1zM210 544h1v1h1v1h-1v1h-1v-1h-1v-1h1zM220 544h1v1h1v1h-1v1h-1v-1h-1v-1h1zM230 544h1v1h1v1h-1v1h-1v-1h-1v-1h1zM240 544h1v1h1v1h-1v1h-1v-1h-1v-1h1zM250 544h1v1h1v1h-1v1h-1v-1h-1v-1h1zM260 544h1v1h1v1h-1v1h-1v-1h-1v-1h1zM270 544h1v1h1v1h-1v1h-1v-1h-1v-1h1zM280 544h1v1h1v1h-1v1h-1v-1h-1v-1h1zM290 544h1v1h1v1h-1v1h-1v-1h-1v-1h1zM300 544h1v1h1v1h-1v1h-1v-1h-1v-1h1zM310 544h1v1h1v1h-1v1h-1v-1h-1v-1h1zM320 544h1v1h1v1h-1v1h-1v-1h-1v-1h1zM330 544h1v1h1v1h-1v1h-1v-1h-1v-1h1zM340 544h1v1h1v1h-1v1h-1v-1h-1v-1h1zM350 544h1v1h1v1h-1v1h-1v-1h-1v-1h1zM360 544h1v1h1v1h-1v1h-1v-1h-1v-1h1zM370 544h1v1h1v1h-1v1h-1v-1h-1v-1h1zM380 544h1v1h1v1h-1v1h-1v-1h-1v-1h1zM390 544h1v1h1v1h-1v1h-1v-1h-1v-1h1zM400 543h1v1h1v1h-1v1h-1v-1h-1v-1h1zM410 544h1v1h1v1h-1v1h-1v-1h-1v-1h1zM420 544h1v1h1v1h-1v1h-1v-1h-1v-1h1zM430 542h1v1h1v1h-1v1h-1v-1h-1v-1h1zM440 538h1v1h1v1h-1v1h-1v-1h-1v-1h1zM450 541h1v1h1v1h-1v1h-1v-1h-1v-1h1zM460 520h1v1h1v1h-1v1h-1v-1h-1v-1h1zM470 536h1v1h1v1h-1v1h-1v-1h-1v-1h1zM480 513h1v1h1v1h-1v1h-1v-1h-1v-1h1zM490 534h1v1h1v1h-1v1h-1v-1h-1v-1h1zM500 536h1v1h1v1h-1v1h-1v-1h-1v-1h1zM510 512h1v1h1v1h-1v1h-1v-1h-1v-1h1zM520 516h1v1h1v1h-1v1h-1v-1h-1v-1h1zM530 529h1v1h1v1h-1v1h-1v-1h-1v-1h1zM540 530h1v1h1v1h-1v1h-1v-1h-1v-1h1zM550 538h1v1h1v1h-1v1h-1v-1h-1v-1h1zM560 538h1v1h1v1h-1v1h-1v-1h-1v-1h1zM570 540h1v1h1v1h-1v1h-1v-1h-1v-1h1zM580 541h1v1h1v1h-1v1h-1v-1h-1v-1h1zM590 543h1v1h1v1h-1v1h-1v-1h-1v-1h1zM600 544h1v1h1v1h-1v1h-1v-1h-1v-1h1zM610 543h1v1h1v1h-1v1h-1v-1h-1v-1h1zM620 544h1v1h1v1h-1v1h-1v-1h-1v-1h1zM630 544h1v1h1v1h-1v1h-1v-1h-1v-1h1zM640 544h1v1h1v1h-1v1h-1v-1h-1v-1h1zM650 544h1v1h1v1h-1v1h-1v-1h-1v-1h1zM660 544h1v1h1v1h-1v1h-1v-1h-1v-1h1zM670 544h1v1h1v1h-1v1h-1v-1h-1v-1h1zM680 544h1v1h1v1h-1v1h-1v-1h-1v-1h1zM690 544h1v1h1v1h-1v1h-1v-1h-1v-1h1z" fill="#b04808"/>
<polyline points="120.5,545.5 130.5,545.5 140.5,545.5 150.5,545.5 160.5,545.5 170.5,545.5 180.5,545.5 190.5,545.5 200.5,545.5 210.5,545.5 220.5,545.5 230.5,545.5 240.5,545.5 250.5,545.5 260.5,545.5 270.5,545.5 280.5,545.5 290.5,545.5 300.5,545.5 310.5,540.5 320.5,498.5 330.5,515.5 340.5,516.5 350.5,479.5 360.5,483.5 370.5,540.5 380.5,545.5 390.5,545.5 400.5,545.5 410.5,539.7 420.5,536.6 430.5,542.8 440.5,527.8 450.5,515.6 460.5,535.2 470.5,489.1 480.5,522.0 490.5,527.7 500.5,515.0 510.5,512.0 520.5,512.3 530.5,533.7 540.5,537.5 550.5,542.9 560.5,544.1 570.5,494.5 580.5,535.5 590.5,544.9 600.5,543.2 610.5,544.8 620.5,545.5 630.5,545.5 640.5,545.5 650.5,545.5 660.5,545.5 670.5,545.5 680.5,545.5 690.5,545.5" fill="none" stroke="#508008" stroke-width="1" /><path d="M120 544h1v1h1v1h-1v1h-1v-1h-1v-1h1zM130 544h1v1h1v1h-1v1h-1v-1h-1v-1h1zM140 544h1v1h1v1h-1v1h-1v-1h-1v-1h1zM150 544h1v1h1v1h-1v1h-1v-1h-1v-1h1zM160 544h1v1h1v1h-1v1h-1v-1h-1v-1h1zM170 544h1v1h1v1h-1v1h-1v-1h-1v-1h1zM180 544h1v1h1v1h-1v1h-1v-1h-1v-1h1zM190 544h1v1h1v1h-1v1h-1v-1h-1v-1h1zM200 544h1v1h1v1h-1v1h-1v-1h-1v-1h1zM210 544h1v1h1v1h-1v1h-1v-1h-1v-1h1zM220 544h1v1h1v1h-1v1h-1v-1h-1v-1h1zM230 544h1v1h1v1h-1v1h-1v-1h-1v-1h1zM240 544h1v1h1v1h-1v1h-1v-1h-1v-1h1zM250 544h1v1h1v1h-1v1h-1v-1h-1v-1h1zM260 544h1v1h1v1h-1v1h-1v-1h-1v-1h1zM270 544h1v1h1v1h-1v1h-1v-1h-1v-1h1zM280 544h1v1h1v1h-1v1h-1v-1h-1v-1h1zM290 544h1v1h1v1h-1v1h-1v-1h-1v-1h1zM300 544h1v1h1v1h-1v1h-1v-1h-1v-1h1zM310 539h1v1h1v1h-1v1h-1v-1h-1v-1h1zM320 497h1v1h1v1h-1v1h-1v-1h-1v-1h1zM330 514h1v1h1v1h-1v1h-1v-1h-1v-1h1zM340 515h1v1h1v1h-1v1h-1v-1h-1v-1h1zM350 478h1v1h1v1h-1v1h-1v-1h-1v-1h1zM360 482h1v1h1v1h-1v1h-1v-1h-1v-1h1zM370 539h1v1h1v1h-1v1h-1v-1h-1v-1h1zM380 544h1v1h1v1h-1v1h-1v-1h-1v-1h1zM390 544h1v1h1v1h-1v1h-1v-1h-1v-1h1zM400 544h1v1h1v1h-1v1h-1v-1h-1v-1h1zM410 538h1v1h1v1h-1v1h-1v-1h-1v-1h1zM420 535h1v1h1v1h-1v1h-1v-1h-1v-1h1zM430 541h1v1h1v1h-1v1h-1v-1h-1v-1h1zM440 526h1v1h1v1h-1v1h-1v-1h-1v-1h1zM450 514h1v1h1v1h-1v1h-1v-1h-1v-1h1zM460 534h1v1h1v1h-1v1h-1v-1h-1v-1h1zM470 488h1v1h1v1h-1v1h-1v-1h-1v-1h1zM480 521h1v1h1v1h-1v1h-1v-1h-1v-1h1zM490 526h1v1h1v1h-1v1h-1v-1h-1v-1h1zM500 514h1v1h1v1h-1v1h-1v-1h-1v-1h1zM510 510h1v1h1v1h-1v1h-1v-1h-1v-1h1zM520 511h1v1h1v1h-1v1h-1v-1h-1v-1h1zM530 532h1v1h1v1h-1v1h-1v-1h-1v-1h1zM540 536h1v1h1v1h-1v1h-1v-1h-1v-1h1zM550 541h1v1h1v1h-1v1h-1v-1h-1v-1h1zM560 543h1v1h1v1h-1v1h-1v-1h-1v-1h1zM570 493h1v1h1v1h-1v1h-1v-1h-1v-1h1zM580 534h1v1h1v1h-1v1h-1v-1h-1v-1h1zM590 543h1v1h1v1h-1v1h-1v-1h-1v-1h1zM600 542h1v1h1v1h-1v1h-1v-1h-1v-1h1zM610 543h1v1h1v1h-1v1h-1v-1h-1v-1h1zM620 544h1v1h1v1h-1v1h-1v-1h-1v-1h1zM630 544h1v1h1v1h-1v1h-1v-1h-1v-1h1zM640 544h1v1h1v1h-1v1h-1v-1h-1v-1h1zM650 544h1v1h1v1h-1v1h-1v-1h-1v-1h1zM660 544h1v1h1v1h-1v1h-1v-1h-1v-1h1zM670 544h1v1h1v1h-1v1h-1v-1h-1v-1h1zM680 544h1v1h1v1h-1v1h-1v-1h-1v-1h1zM690 544h1v1h1v1h-1v1h-1v-1h-1v-1h1z" fill="#508008"/>
<polyline points="120.5,545.5 130.5,545.5 140.5,545.5 150.5,545.5 160.5,545.5 170.5,545.5 180.5,545.5 190.5,545.5 200.5,545.5 210.5,545.5 220.5,545.5 230.5,545.5 240.5,545.5 250.5,545.5 260.5,545.5 270.5,545.5 280.5,545.5 290.5,545.5 300.5,545.5 310.5,545.5 320.5,526.5 330.5,528.0 340.5,532.5 350.5,531.0 360.5,526.5 370.5,531.5 380.5,535.5 390.5,543.5 400.5,545.1 410.5,544.0 420.5,543.0 430.5,543.8 440.5,539.3 450.5,529.9 460.5,537.8 470.5,537.5 480.5,542.9 490.5,543.1 500.5,544.8 510.5,536.9 520.5,528.7 530.5,532.3 540.5,541.3 550.5,539.6 560.5,543.6 570.5,544.9 580.5,544.8 590.5,545.2 600.5,545.4 610.5,544.9 620.5,545.5 630.5,545.5 640.5,545.5 650.5,545.5 660.5,545.5 670.5,545.5 680.5,545.5 690.5,545.5" fill="none" stroke="#0080ff" stroke-width="1" /><path d="M120 544h1v1h1v1h-1v1h-1v-1h-1v-1h1zM130 544h1v1h1v1h-1v1h-1v-1h-1v-1h1zM140 544h1v1h1v1h-1v1h-1v-1h-1v-1h1zM150 544h1v1h1v1h-1v1h-1v-1h-1v-1h1zM160 544h1v1h1v1h-1v1h-1v-1h-1v-1h1zM170 544h1v1h1v1h-1v1h-1v-1h-1v-1h1zM180 544h1v1h1v1h-1v1h-1v-1h-1v-1h1zM190 544h1v1h1v1h-1v1h-1v-1h-1v-1h1zM200 544h1v1h1v1h-1v1h-1v-1h-1v-1h1zM210 544h1v1h1v1h-1v1h-1v-1h-1v-1h1zM220 544h1v1h1v1h-1v1h-1v-1h-1v-1h1zM230 544h1v1h1v1h-1v1h-1v-1h-1v-1h1zM240 544h1v1h1v1h-1v1h-1v-1h-1v-1h1zM250 544h1v1h1v1h-1v1h-1v-1h-1v-1h1zM260 544h1v1h1v1h-1v1h-1v-1h-1v-1h1zM270 544h1v1h1v1h-1v1h-1v-1h-1v-1h1zM280 544h1v1h1v1h-1v1h-1v-1h-1v-1h1zM290 544h1v1h1v1h-1v1h-1v-1h-1v-1h1zM300 544h1v1h1v1h-1v1h-1v-1h-1v-1h1zM310 544h1v1h1v1h-1v1h-1v-1h-1v-1h1zM320 525h1v1h1v1h-1v1h-1v-1h-1v-1h1zM330 527h1v1h1v1h-1v1h-1v-1h-1v-1h1zM340 531h1v1h1v1h-1v1h-1v-1h-1v-1h1zM350 530h1v1h1v1h-1v1h-1v-1h-1v-1h1zM360 525h1v1h1v1h-1v1h-1v-1h-1v-1h1zM370 530h1v1h1v1h-1v1h-1v-1h-1v-1h1zM380 534h1v1h1v1h-1v1h-1v-1h-1v-1h1zM390 542h1v1h1v1h-1v1h-1v-1h-1v-1h1zM400 544h1v1h1v1h-1v1h-1v-1h-1v-1h1zM410 542h1v1h1v1h-1v1h-1v-1h-1v-1h1zM420 541h1v1h1v1h-1v1h-1v-1h-1v-1h1zM430 542h1v1h1v1h-1v1h-1v-1h-1v-1h1zM440 538h1v1h1v1h-1v1h-1v-1h-1v-1h1zM450 528h1v1h1v1h-1v1h-1v-1h-1v-1h1zM460 536h1v1h1v1h-1v1h-1v-1h-1v-1h1zM470 536h1v1h1v1h-1v1h-1v-1h-1v-1h1zM480 541h1v1h1v1h-1v1h-1v-1h-1v-1h1zM490 542h1v1h1v1h-1v1h-1v-1h-1v-1h1zM500 543h1v1h1v1h-1v1h-1v-1h-1v-1h1zM510 535h1v1h1v1h-1v1h-1v-1h-1v-1h1zM520 527h1v1h1v1h-1v1h-1v-1h-1v-1h1zM530 531h1v1h1v1h-1v1h-1v-1h-1v-1h1zM540 540h1v1h1v1h-1v1h-1v-1h-1v-1h1zM550 538h1v1h1v1h-1v1h-1v-1h-1v-1h1zM560 542h1v1h1v1h-1v1h-1v-1h-1v-1h1zM570 543h1v1h1v1h-1v1h-1v-1h-1v-1h1zM580 543h1v1h1v1h-1v1h-1v-1h-1v-1h1zM590 544h1v1h1v1h-1v1h-1v-1h-1v-1h1zM600 544h1v1h1v1h-1v1h-1v-1h-1v-1h1zM610 543h1v1h1v1h-1v1h-1v-1h-1v-1h1zM620 544h1v1h1v1h-1v1h-1v-1h-1v-1h1zM630 544h1v1h1v1h-1v1h-1v-1h-1v-1h1zM640 544h1v1h1v1h-1v1h-1v-1h-1v-1h1zM650 544h1v1h1v1h-1v1h-1v-1h-1v-1h1zM660 544h1v1h1v1h-1v1h-1v-1h-1v-1h1zM670 544h1v1h1v1h-1v1h-1v-1h-1v-1h1zM680 544h1v1h1v1h-1v1h-1v-1h-1v-1h1zM690 544h1v1h1v1h-1v1h-1v-1h-1v-1h1z" fill="#0080ff"/>
<polyline points="120.5,545.5 130.5,545.5 140.5,545.5 150.5,545.5 160.5,545.5 170.5,545.5 180.5,545.5 190.5,545.5 200.5,545.5 210.5,545.5 220.5,545.5 230.5,545.5 240.5,545.5 250.5,545.5 260.5,545.5 270.5,545.5 280.5,545.5 290.5,545.5 300.5,545.5 310.5,545.5 320.5,545.5 330.5,545.5 340.5,545.5 350.5,545.5 360.5,545.5 370.5,545.5 380.5,545.5 390.5,545.5 400.5,545.0 410.5,545.4 420.5,544.2 430.5,542.9 440.5,543.8 450.5,534.4 460.5,541.1 470.5,543.8 480.5,536.8 490.5,541.5 500.5,544.1 510.5,545.0 520.5,541.8 530.5,543.1 540.5,543.2 550.5,543.1 560.5,542.7 570.5,544.6 580.5,544.0 590.5,539.5 600.5,534.5 610.5,535.5 620.5,540.5 630.5,545.5 640.5,545.5 650.5,545.5 660.5,545.5 670.5,545.5 680.5,545.5 690.5,545.5" fill="none" stroke="#e8d0a0" stroke-width="1" /><path d="M120 544h1v1h1v1h-1v1h-1v-1h-1v-1h1zM130 544h1v1h1v1h-1v1h-1v-1h-1v-1h1zM140 544h1v1h1v1h-1v1h-1v-1h-1v-1h1zM150 544h1v1h1v1h-1v1h-1v-1h-1v-1h1zM160 544h1v1h1v1h-1v1h-1v-1h-1v-1h1zM170 544h1v1h1v1h-1v1h-1v-1h-1v-1h1zM180 544h1v1h1v1h-1v1h-1v-1h-1v-1h1zM190 544h1v1h1v1h-1v1h-1v-1h-1v-1h1zM200 544h1v1h1v1h-1v1h-1v-1h-1v-1h1zM210 544h1v1h1v1h-1v1h-1v-1h-1v-1h1zM220 544h1v1h1v1h-1v1h-1v-1h-1v-1h1zM230 544h1v1h1v1h-1v1h-1v-1h-1v-1h1zM240 544h1v1h1v1h-1v1h-1v-1h-1v-1h1zM250 544h1v1h1v1h-1v1h-1v-1h-1v-1h1zM260 544h1v1h1v1h-1v1h-1v-1h-1v-1h1zM270 544h1v1h1v1h-1v1h-1v-1h-1v-1h1zM280 544h1v1h1v1h-1v1h-1v-1h-1v-1h1zM290 544h1v1h1v1h-1v1h-1v-1h-1v-1h1zM300 544h1v1h1v1h-1v1h-1v-1h-1v-1h1zM310 544h1v1h1v1h-1v1h-1v-1h-1v-1h1zM320 544h1v1h1v1h-1v1h-1v-1h-1v-1h1zM330 544h1v1h1v1h-1v1h-1v-1h-1v-1h1zM340 544h1v1h1v1h-1v1h-1v-1h-1v-1h1zM350 544h1v1h1v1h-1v1h-1v-1h-1v-1h1zM360 544h1v1h1v1h-1v1h-1v-1h-1v-1h1zM370 544h1v1h1v1h-1v1h-1v-1h-1v-1h1zM380 544h1v1h1v1h-1v1h-1v-1h-1v-1h1zM390 544h1v1h1v1h-1v1h-1v-1h-1v-1h1zM400 544h1v1h1v1h-1v1h-1v-1h-1v-1h1zM410 544h1v1h1v1h-1v1h-1v-1h-1v-1h1zM420 543h1v1h1v1h-1v1h-1v-1h-1v-1h1zM430 541h1v1h1v1h-1v1h-1v-1h-1v-1h1zM440 542h1v1h1v1h-1v1h-1v-1h-1v-1h1zM450 533h1v1h1v1h-1v1h-1v-1h-1v-1h1zM460 540h1v1h1v1h-1v1h-1v-1h-1v-1h1zM470 542h1v1h1v1h-1v1h-1v-1h-1v-1h1zM480 535h1v1h1v1h-1v1h-1v-1h-1v-1h1zM490 540h1v1h1v1h-1v1h-1v-1h-1v-1h1zM500 543h1v1h1v1h-1v1h-1v-1h-1v-1h1zM510 544h1v1h1v1h-1v1h-1v-1h-1v-1h1zM520 540h1v1h1v1h-1v1h-1v-1h-1v-1h1zM530 542h1v1h1v1h-1v1h-1v-1h-1v-1h1zM540 542h1v1h1v1h-1v1h-1v-1h-1v-1h1zM550 542h1v1h1v1h-1v1h-1v-1h-1v-1h1zM560 541h1v1h1v1h-1v1h-1v-1h-1v-1h1zM570 543h1v1h1v1h-1v1h-1v-1h-1v-1h1zM580 543h1v1h1v1h-1v1h-1v-1h-1v-1h1zM590 538h1v1h1v1h-1v1h-1v-1h-1v-1h1zM600 533h1v1h1v1h-1v1h-1v-1h-1v-1h1zM610 534h1v1h1v1h-1v1h-1v-1h-1v-1h1zM620 539h1v1h1v1h-1v1h-1v-1h-1v-1h1zM630 544h1v1h1v1h-1v1h-1v-1h-1v-1h1zM640 544h1v1h1v1h-1v1h-1v-1h-1v-1h1zM650 544h1v1h1v1h-1v1h-1v-1h-1v-1h1zM660 544h1v1h1v1h-1v1h-1v-1h-1v-1h1zM670 544h1v1h1v1h-1v1h-1v-1h-1v-1h1zM680 544h1v1h1v1h-1v1h-1v-1h-1v-1h1zM690 544h1v1h1v1h-1v1h-1v-1h-1v-1h1z" fill="#e8d0a0"/>
<polyline points="120.5,545.5 130.5,545.5 140.5,545.5 150.5,545.5 160.5,545.5 170.5,545.5 180.5,545.5 190.5,545.5 200.5,545.5 210.5,545.5 220.5,545.5 230.5,545.5 240.5,545.5 250.5,545.5 260.5,545.5 270.5,545.5 280.5,545.5 290.5,545.5 300.5,545.5 310.5,545.5 320.5,545.5 330.5,545.5 340.5,545.5 350.5,545.5 360.5,545.5 370.5,545.5 380.5,545.5 390.5,545.5 400.5,545.4 410.5,544.9 420.5,545.3 430.5,545.2 440.5,542.6 450.5,543.3 460.5,524.0 470.5,539.0 480.5,542.3 490.5,537.9 500.5,538.5 510.5,532.7 520.5,524.5 530.5,538.1 540.5,538.1 550.5,537.9 560.5,542.8 570.5,543.8 580.5,544.1 590.5,545.1 600.5,545.2 610.5,545.4 620.5,545.5 630.5,545.5 640.5,545.5 650.5,545.5 660.5,534.5 670.5,520.5 680.5,540.5 690.5,545.5" fill="none" stroke="#4090c0" stroke-width="1" /><path d="M120 544h1v1h1v1h-1v1h-1v-1h-1v-1h1zM130 544h1v1h1v1h-1v1h-1v-1h-1v-1h1zM140 544h1v1h1v1h-1v1h-1v-1h-1v-1h1zM150 544h1v1h1v1h-1v1h-1v-1h-1v-1h1zM160 544h1v1h1v1h-1v1h-1v-1h-1v-1h1zM170 544h1v1h1v1h-1v1h-1v-1h-1v-1h1zM180 544h1v1h1v1h-1v1h-1v-1h-1v-1h1zM190 544h1v1h1v1h-1v1h-1v-1h-1v-1h1zM200 544h1v1h1v1h-1v1h-1v-1h-1v-1h1zM210 544h1v1h1v1h-1v1h-1v-1h-1v-1h1zM220 544h1v1h1v1h-1v1h-1v-1h-1v-1h1zM230 544h1v1h1v1h-1v1h-1v-1h-1v-1h1zM240 544h1v1h1v1h-1v1h-1v-1h-1v-1h1zM250 544h1v1h1v1h-1v1h-1v-1h-1v-1h1zM260 544h1v1h1v1h-1v1h-1v-1h-1v-1h1zM270 544h1v1h1v1h-1v1h-1v-1h-1v-1h1zM280 544h1v1h1v1h-1v1h-1v-1h-1v-1h1zM290 544h1v1h1v1h-1v1h-1v-1h-1v-1h1zM300 544h1v1h1v1h-1v1h-1v-1h-1v-1h1zM310 544h1v1h1v1h-1v1h-1v-1h-1v-1h1zM320 544h1v1h1v1h-1v1h-1v-1h-1v-1h1zM330 544h1v1h1v1h-1v1h-1v-1h-1v-1h1zM340 544h1v1h1v1h-1v1h-1v-1h-1v-1h1zM350 544h1v1h1v1h-1v1h-1v-1h-1v-1h1zM360 544h1v1h1v1h-1v1h-1v-1h-1v-1h1zM370 544h1v1h1v1h-1v1h-1v-1h-1v-1h1zM380 544h1v1h1v1h-1v1h-1v-1h-1v-1h1zM390 544h1v1h1v1h-1v1h-1v-1h-1v-1h1zM400 544h1v1h1v1h-1v1h-1v-1h-1v-1h1zM410 543h1v1h1v1h-1v1h-1v-1h-1v-1h1zM420 544h1v1h1v1h-1v1h-1v-1h-1v-1h1zM430 544h1v1h1v1h-1v1h-1v-1h-1v-1h1zM440 541h1v1h1v1h-1v1h-1v-1h-1v-1h1zM450 542h1v1h1v1h-1v1h-1v-1h-1v-1h1zM460 523h1v1h1v1h-1v1h-1v-1h-1v-1h1zM470 537h1v1h1v1h-1v1h-1v-1h-1v-1h1zM480 541h1v1h1v1h-1v1h-1v-1h-1v-1h1zM490 536h1v1h1v1h-1v1h-1v-1h-1v-1h1zM500 537h1v1h1v1h-1v1h-1v-1h-1v-1h1zM510 531h1v1h1v1h-1v1h-1v-1h-1v-1h1zM520 523h1v1h1v1h-1v1h-1v-1h-1v-1h1zM530 537h1v1h1v1h-1v1h-1v-1h-1v-1h1zM540 537h1v1h1v1h-1v1h-1v-1h-1v-1h1zM550 536h1v1h1v1h-1v1h-1v-1h-1v-1h1zM560 541h1v1h1v1h-1v1h-1v-1h-1v-1h1zM570 542h1v1h1v1h-1v1h-1v-1h-1v-1h1zM580 543h1v1h1v1h-1v1h-1v-1h-1v-1h1zM590 544h1v1h1v1h-1v1h-1v-1h-1v-1h1zM600 544h1v1h1v1h-1v1h-1v-1h-1v-1h1zM610 544h1v1h1v1h-1v1h-1v-1h-1v-1h1zM620 544h1v1h1v1h-1v1h-1v-1h-1v-1h1zM630 544h1v1h1v1h-1v1h-1v-1h-1v-1h1zM640 544h1v1h1v1h-1v1h-1v-1h-1v-1h1zM650 544h1v1h1v1h-1v1h-1v-1h-1v-1h1zM660 533h1v1h1v1h-1v1h-1v-1h-1v-1h1zM670 519h1v1h1v1h-1v1h-1v-1h-1v-1h1zM680 539h1v1h1v1h-1v1h-1v-1h-1v-1h1zM690 544h1v1h1v1h-1v1h-1v-1h-1v-1h1z" fill="#4090c0"/>
<polyline points="120.5,545.5 130.5,545.5 140.5,545.5 150.5,545.5 160.5,545.5 170.5,545.5 180.5,545.5 190.5,545.5 200.5,545.5 210.5,545.5 220.5,545.5 230.5,545.5 240.5,545.5 250.5,545.5 260.5,545.5 270.5,545.5 280.5,545.5 290.5,545.5 300.5,545.5 310.5,545.5 320.5,545.5 330.5,545.5 340.5,545.5 350.5,545.5 360.5,545.5 370.5,545.5 380.5,545.5 390.5,545.5 400.5,543.9 410.5,543.3 420.5,543.6 430.5,539.0 440.5,535.3 450.5,528.3 460.5,529.1 470.5,530.5 480.5,515.3 490.5,536.0 500.5,530.6 510.5,540.9 520.5,538.2 530.5,543.3 540.5,531.0 550.5,530.3 560.5,536.1 570.5,542.4 580.5,544.3 590.5,544.8 600.5,545.3 610.5,545.2 620.5,545.5 630.5,545.5 640.5,545.5 650.5,545.5 660.5,545.5 670.5,545.5 680.5,545.5 690.5,545.5" fill="none" stroke="#e0a050" stroke-width="1" /><path d="M120 544h1v1h1v1h-1v1h-1v-1h-1v-1h1zM130 544h1v1h1v1h-1v1h-1v-1h-1v-1h1zM140 544h1v1h1v1h-1v1h-1v-1h-1v-1h1zM150 544h1v1h1v1h-1v1h-1v-1h-1v-1h1zM160 544h1v1h1v1h-1v1h-1v-1h-1v-1h1zM170 544h1v1h1v1h-1v1h-1v-1h-1v-1h1zM180 544h1v1h1v1h-1v1h-1v-1h-1v-1h1zM190 544h1v1h1v1h-1v1h-1v-1h-1v-1h1zM200 544h1v1h1v1h-1v1h-1v-1h-1v-1h1zM210 544h1v1h1v1h-1v1h-1v-1h-1v-1h1zM220 544h1v1h1v1h-1v1h-1v-1h-1v-1h1zM230 544h1v1h1v1h-1v1h-1v-1h-1v-1h1zM240 544h1v1h1v1h-1v1h-1v-1h-1v-1h1zM250 544h1v1h1v1h-1v1h-1v-1h-1v-1h1zM260 544h1v1h1v1h-1v1h-1v-1h-1v-1h1zM270 544h1v1h1v1h-1v1h-1v-1h-1v-1h1zM280 544h1v1h1v1h-1v1h-1v-1h-1v-1h1zM290 544h1v1h1v1h-1v1h-1v-1h-1v-1h1zM300 544h1v1h1v1h-1v1h-1v-1h-1v-1h1zM310 544h1v1h1v1h-1v1h-1v-1h-1v-1h1zM320 544h1v1h1v1h-1v1h-1v-1h-1v-1h1zM330 544h1v1h1v1h-1v1h-1v-1h-1v-1h1zM340 544h1v1h1v1h-1v1h-1v-1h-1v-1h1zM350 544h1v1h1v1h-1v1h-1v-1h-1v-1h1zM360 544h1v1h1v1h-1v1h-1v-1h-1v-1h1zM370 544h1v1h1v1h-1v1h-1v-1h-1v-1h1zM380 544h1v1h1v1h-1v1h-1v-1h-1v-1h1zM390 544h1v1h1v1h-1v1h-1v-1h-1v-1h1zM400 542h1v1h1v1h-1v1h-1v-1h-1v-1h1zM410 542h1v1h1v1h-1v1h-1v-1h-1v-1h1zM420 542h1v1h1v1h-1v1h-1v-1h-1v-1h1zM430 537h1v1h1v1h-1v1h-1v-1h-1v-1h1zM440 534h1v1h1v1h-1v1h-1v-1h-1v-1h1zM450 527h1v1h1v1h-1v1h-1v-1h-1v-1h1zM460 528h1v1h1v1h-1v1h-1v-1h-1v-1h1zM470 529h1v1h1v1h-1v1h-1v-1h-1v-1h1zM480 514h1v1h1v1h-1v1h-1v-1h-1v-1h1zM490 534h1v1h1v1h-1v1h-1v-1h-1v-1h1zM500 529h1v1h1v1h-1v1h-1v-1h-1v-1h1zM510 539h1v1h1v1h-1v1h-1v-1h-1v-1h1zM520 537h1v1h1v1h-1v1h-1v-1h-1v-1h1zM530 542h1v1h1v1h-1v1h-1v-1h-1v-1h1zM540 529h1v1h1v1h-1v1h-1v-1h-1v-1h1zM550 529h1v1h1v1h-1v1h-1v-1h-1v-1h1zM560 535h1v1h1v1h-1v1h-1v-1h-1v-1h1zM570 541h1v1h1v1h-1v1h-1v-1h-1v-1h1zM580 543h1v1h1v1h-1v1h-1v-1h-1v-1h1zM590 543h1v1h1v1h-1v1h-1v-1h-1v-1h1zM600 544h1v1h1v1h-1v1h-1v-1h-1v-1h1zM610 544h1v1h1v1h-1v1h-1v-1h-1v-1h1zM620 544h1v1h1v1h-1v1h-1v-1h-1v-1h1zM630 544h1v1h1v1h-1v1h-1v-1h-1v-1h1zM640 544h1v1h1v1h-1v1h-1v-1h-1v-1h1zM650 544h1v1h1v1h-1v1h-1v-1h-1v-1h1zM660 544h1v1h1v1h-1v1h-1v-1h-1v-1h1zM670 544h1v1h1v1h-1v1h-1v-1h-1v-1h1zM680 544h1v1h1v1h-1v1h-1v-1h-1v-1h1zM690 544h1v1h1v1h-1v1h-1v-1h-1v-1h1z" fill="#e0a050"/>
<polyline points="120.5,545.5 130.5,545.5 140.5,545.5 150.5,545.5 160.5,545.5 170.5,545.5 180.5,545.5 190.5,545.5 200.5,545.5 210.5,545.5 220.5,545.5 230.5,545.5 240.5,545.5 250.5,545.5 260.5,545.5 270.5,545.5 280.5,545.5 290.5,545.5 300.5,545.5 310.5,545.5 320.5,545.5 330.5,545.5 340.5,545.5 350.5,545.5 360.5,545.5 370.5,545.5 380.5,545.5 390.5,545.5 400.5,544.4 410.5,545.0 420.5,510.5 430.5,481.5 440.5,452.5 450.5,451.5 460.5,500.5 470.5,530.5 480.5,542.1 490.5,540.1 500.5,528.1 510.5,530.2 520.5,538.9 530.5,536.2 540.5,538.6 550.5,540.2 560.5,543.1 570.5,544.8 580.5,544.4 590.5,544.4 600.5,544.2 610.5,545.0 620.5,545.5 630.5,545.5 640.5,545.5 650.5,545.5 660.5,545.5 670.5,545.5 680.5,545.5 690.5,545.5" fill="none" stroke="#604818" stroke-width="1" /><path d="M120 544h1v1h1v1h-1v1h-1v-1h-1v-1h1zM130 544h1v1h1v1h-1v1h-1v-1h-1v-1h1zM140 544h1v1h1v1h-1v1h-1v-1h-1v-1h1zM150 544h1v1h1v1h-1v1h-1v-1h-1v-1h1zM160 544h1v1h1v1h-1v1h-1v-1h-1v-1h1zM170 544h1v1h1v1h-1v1h-1v-1h-1v-1h1zM180 544h1v1h1v1h-1v1h-1v-1h-1v-1h1zM190 544h1v1h1v1h-1v1h-1v-1h-1v-1h1zM200 544h1v1h1v1h-1v1h-1v-1h-1v-1h1zM210 544h1v1h1v1h-1v1h-1v-1h-1v-1h1zM220 544h1v1h1v1h-1v1h-1v-1h-1v-1h1zM230 544h1v1h1v1h-1v1h-1v-1h-1v-1h1zM240 544h1v1h1v1h-1v1h-1v-1h-1v-1h1zM250 544h1v1h1v1h-1v1h-1v-1h-1v-1h1zM260 544h1v1h1v1h-1v1h-1v-1h-1v-1h1zM270 544h1v1h1v1h-1v1h-1v-1h-1v-1h1zM280 544h1v1h1v1h-1v1h-1v-1h-1v-1h1zM290 544h1v1h1v1h-1v1h-1v-1h-1v-1h1zM300 544h1v1h1v1h-1v1h-1v-1h-1v-1h1zM310 544h1v1h1v1h-1v1h-1v-1h-1v-1h1zM320 544h1v1h1v1h-1v1h-1v-1h-1v-1h1zM330 544h1v1h1v1h-1v1h-1v-1h-1v-1h1zM340 544h1v1h1v1h-1v1h-1v-1h-1v-1h1zM350 544h1v1h1v1h-1v1h-1v-1h-1v-1h1zM360 544h1v1h1v1h-1v1h-1v-1h-1v-1h1zM370 544h1v1h1v1h-1v1h-1v-1h-1v-1h1zM380 544h1v1h1v1h-1v1h-1v-1h-1v-1h1zM390 544h1v1h1v1h-1v1h-1v-1h-1v-1h1zM400 543h1v1h1v1h-1v1h-1v-1h-1v-1h1zM410 543h1v1h1v1h-1v1h-1v-1h-1v-1h1zM420 509h1v1h1v1h-1v1h-1v-1h-1v-1h1zM430 480h1v1h1v1h-1v1h-1v-1h-1v-1h1zM440 451h1v1h1v1h-1v1h-1v-1h-1v-1h1zM450 450h1v1h1v1h-1v1h-1v-1h-1v-1h1zM460 499h1v1h1v1h-1v1h-1v-1h-1v-1h1zM470 529h1v1h1v1h-1v1h-1v-1h-1v-1h1zM480 541h1v1h1v1h-1v1h-1v-1h-1v-1h1zM490 539h1v1h1v1h-1v1h-1v-1h-1v-1h1zM500 527h1v1h1v1h-1v1h-1v-1h-1v-1h1zM510 529h1v1h1v1h-1v1h-1v-1h-1v-1h1zM520 537h1v1h1v1h-1v1h-1v-1h-1v-1h1zM530 535h1v1h1v1h-1v1h-1v-1h-1v-1h1zM540 537h1v1h1v1h-1v1h-1v-1h-1v-1h1zM550 539h1v1h1v1h-1v1h-1v-1h-1v-1h1zM560 542h1v1h1v1h-1v1h-1v-1h-1v-1h1zM570 543h1v1h1v1h-1v1h-1v-1h-1v-1h1zM580 543h1v1h1v1h-1v1h-1v-1h-1v-1h1zM590 543h1v1h1v1h-1v1h-1v-1h-1v-1h1zM600 543h1v1h1v1h-1v1h-1v-1h-1v-1h1zM610 544h1v1h1v1h-1v1h-1v-1h-1v-1h1zM620 544h1v1h1v1h-1v1h-1v-1h-1v-1h1zM630 544h1v1h1v1h-1v1h-1v-1h-1v-1h1zM640 544h1v1h1v1h-1v1h-1v-1h-1v-1h1zM650 544h1v1h1v1h-1v1h-1v-1h-1v-1h1zM660 544h1v1h1v1h-1v1h-1v-1h-1v-1h1zM670 544h1v1h1v1h-1v1h-1v-1h-1v-1h1zM680 544h1v1h1v1h-1v1h-1v-1h-1v-1h1zM690 544h1v1h1v1h-1v1h-1v-1h-1v-1h1z" fill="#604818"/>
<polyline points="120.5,545.5 130.5,545.5 140.5,545.5 150.5,545.5 160.5,545.5 170.5,545.5 180.5,545.5 190.5,545.5 200.5,545.5 210.5,545.5 220.5,545.5 230.5,545.5 240.5,545.5 250.5,545.5 260.5,545.5 270.5,545.5 280.5,545.5 290.5,545.5 300.5,545.5 310.5,545.5 320.5,545.5 330.5,520.5 340.5,529.5 350.5,520.5 360.5,542.5 370.5,530.5 380.5,511.5 390.5,540.5 400.5,543.3 410.5,542.8 420.5,543.9 430.5,542.2 440.5,540.4 450.5,527.9 460.5,534.5 470.5,528.4 480.5,540.3 490.5,524.0 500.5,536.4 510.5,533.0 520.5,539.4 530.5,542.8 540.5,533.5 550.5,535.6 560.5,538.2 570.5,539.2 580.5,542.3 590.5,543.9 600.5,544.6 610.5,545.2 620.5,545.5 630.5,545.5 640.5,545.5 650.5,545.5 660.5,545.5 670.5,545.5 680.5,529.5 690.5,544.5" fill="none" stroke="#ff6820" stroke-width="1" /><path d="M120 544h1v1h1v1h-1v1h-1v-1h-1v-1h1zM130 544h1v1h1v1h-1v1h-1v-1h-1v-1h1zM140 544h1v1h1v1h-1v1h-1v-1h-1v-1h1zM150 544h1v1h1v1h-1v1h-1v-1h-1v-1h1zM160 544h1v1h1v1h-1v1h-1v-1h-1v-1h1zM170 544h1v1h1v1h-1v1h-1v-1h-1v-1h1zM180 544h1v1h1v1h-1v1h-1v-1h-1v-1h1zM190 544h1v1h1v1h-1v1h-1v-1h-1v-1h1zM200 544h1v1h1v1h-1v1h-1v-1h-1v-1h1zM210 544h1v1h1v1h-1v1h-1v-1h-1v-1h1zM220 544h1v1h1v1h-1v1h-1v-1h-1v-1h1zM230 544h1v1h1v1h-1v1h-1v-1h-1v-1h1zM240 544h1v1h1v1h-1v1h-1v-1h-1v-1h1zM250 544h1v1h1v1h-1v1h-1v-1h-1v-1h1zM260 544h1v1h1v1h-1v1h-1v-1h-1v-1h1zM270 544h1v1h1v1h-1v1h-1v-1h-1v-1h1zM280 544h1v1h1v1h-1v1h-1v-1h-1v-1h1zM290 544h1v1h1v1h-1v1h-1v-1h-1v-1h1zM300 544h1v1h1v1h-1v1h-1v-1h-1v-1h1zM310 544h1v1h1v1h-1v1h-1v-1h-1v-1h1zM320 544h1v1h1v1h-1v1h-1v-1h-1v-1h1zM330 519h1v1h1v1h-1v1h-1v-1h-1v-1h1zM340 528h1v1h1v1h-1v1h-1v-1h-1v-1h1zM350 519h1v1h1v1h-1v1h-1v-1h-1v-1h1zM360 541h1v1h1v1h-1v1h-1v-1h-1v-1h1zM370 529h1v1h1v1h-1v1h-1v-1h-1v-1h1zM380 510h1v1h1v1h-1v1h-1v-1h-1v-1h1zM390 539h1v1h1v1h-1v1h-1v-1h-1v-1h1zM400 542h1v1h1v1h-1v1h-1v-1h-1v-1h1zM410 541h1v1h1v1h-1v1h-1v-1h-1v-1h1zM420 542h1v1h1v1h-1v1h-1v-1h-1v-1h1zM430 541h1v1h1v1h-1v1h-1v-1h-1v-1h1zM440 539h1v1h1v1h-1v1h-1v-1h-1v-1h1zM450 526h1v1h1v1h-1v1h-1v-1h-1v-1h1zM460 533h1v1h1v1h-1v1h-1v-1h-1v-1h1zM470 527h1v1h1v1h-1v1h-1v-1h-1v-1h1zM480 539h1v1h1v1h-1v1h-1v-1h-1v-1h1zM490 523h1v1h1v1h-1v1h-1v-1h-1v-1h1zM500 535h1v1h1v1h-1v1h-1v-1h-1v-1h1zM510 531h1v1h1v1h-1v1h-1v-1h-1v-1h1zM520 538h1v1h1v1h-1v1h-1v-1h-1v-1h1zM530 541h1v1h1v1h-1v1h-1v-1h-1v-1h1zM540 532h1v1h1v1h-1v1h-1v-1h-1v-1h1zM550 534h1v1h1v1h-1v1h-1v-1h-1v-1h1zM560 537h1v1h1v1h-1v1h-1v-1h-1v-1h1zM570 538h1v1h1v1h-1v1h-1v-1h-1v-1h1zM580 541h1v1h1v1h-1v1h-1v-1h-1v-1h1zM590 542h1v1h1v1h-1v1h-1v-1h-1v-1h1zM600 543h1v1h1v1h-1v1h-1v-1h-1v-1h1zM610 544h1v1h1v1h-1v1h-1v-1h-1v-1h1zM620 544h1v1h1v1h-1v1h-1v-1h-1v-1h1zM630 544h1v1h1v1h-1v1h-1v-1h-1v-1h1zM640 544h1v1h1v1h-1v1h-1v-1h-1v-1h1zM650 544h1v1h1v1h-1v1h-1v-1h-1v-1h1zM660 544h1v1h1v1h-1v1h-1v-1h-1v-1h1zM670 544h1v1h1v1h-1v1h-1v-1h-1v-1h1zM680 528h1v1h1v1h-1v1h-1v-1h-1v-1h1zM690 543h1v1h1v1h-1v1h-1v-1h-1v-1h1z" fill="#ff6820"/>
<polyline points="120.5,545.5 130.5,545.5 140.5,545.5 150.5,545.5 160.5,545.5 170.5,545.5 180.5,545.5 190.5,545.5 200.5,545.5 210.5,545.5 220.5,545.5 230.5,545.5 240.5,545.5 250.5,545.5 260.5,545.5 270.5,545.5 280.5,545.5 290.5,545.5 300.5,545.5 310.5,545.5 320.5,545.5 330.5,545.5 340.5,545.5 350.5,545.5 360.5,545.5 370.5,545.5 380.5,545.5 390.5,545.5 400.5,545.3 410.5,544.8 420.5,545.2 430.5,545.0 440.5,545.0 450.5,544.4 460.5,545.2 470.5,545.4 480.5,545.4 490.5,544.8 500.5,537.1 510.5,542.4 520.5,544.0 530.5,544.9 540.5,544.9 550.5,545.2 560.5,544.4 570.5,544.9 580.5,545.3 590.5,545.2 600.5,545.4 610.5,545.5 620.5,545.5 630.5,545.5 640.5,545.5 650.5,545.5 660.5,545.5 670.5,545.5 680.5,545.5 690.5,545.5" fill="none" stroke="#d0b870" stroke-width="1" /><path d="M120 544h1v1h1v1h-1v1h-1v-1h-1v-1h1zM130 544h1v1h1v1h-1v1h-1v-1h-1v-1h1zM140 544h1v1h1v1h-1v1h-1v-1h-1v-1h1zM150 544h1v1h1v1h-1v1h-1v-1h-1v-1h1zM160 544h1v1h1v1h-1v1h-1v-1h-1v-1h1zM170 544h1v1h1v1h-1v1h-1v-1h-1v-1h1zM180 544h1v1h1v1h-1v1h-1v-1h-1v-1h1zM190 544h1v1h1v1h-1v1h-1v-1h-1v-1h1zM200 544h1v1h1v1h-1v1h-1v-1h-1v-1h1zM210 544h1v1h1v1h-1v1h-1v-1h-1v-1h1zM220 544h1v1h1v1h-1v1h-1v-1h-1v-1h1zM230 544h1v1h1v1h-1v1h-1v-1h-1v-1h1zM240 544h1v1h1v1h-1v1h-1v-1h-1v-1h1zM250 544h1v1h1v1h-1v1h-1v-1h-1v-1h1zM260 544h1v1h1v1h-1v1h-1v-1h-1v-1h1zM270 544h1v1h1v1h-1v1h-1v-1h-1v-1h1zM280 544h1v1h1v1h-1v1h-1v-1h-1v-1h1zM290 544h1v1h1v1h-1v1h-1v-1h-1v-1h1zM300 544h1v1h1v1h-1v1h-1v-1h-1v-1h1zM310 544h1v1h1v1h-1v1h-1v-1h-1v-1h1zM320 544h1v1h1v1h-1v1h-1v-1h-1v-1h1zM330 544h1v1h1v1h-1v1h-1v-1h-1v-1h1zM340 544h1v1h1v1h-1v1h-1v-1h-1v-1h1zM350 544h1v1h1v1h-1v1h-1v-1h-1v-1h1zM360 544h1v1h1v1h-1v1h-1v-1h-1v-1h1zM370 544h1v1h1v1h-1v1h-1v-1h-1v-1h1zM380 544h1v1h1v1h-1v1h-1v-1h-1v-1h1zM390 544h1v1h1v1h-1v1h-1v-1h-1v-1h1zM400 544h1v1h1v1h-1v1h-1v-1h-1v-1h1zM410 543h1v1h1v1h-1v1h-1v-1h-1v-1h1zM420 544h1v1h1v1h-1v1h-1v-1h-1v-1h1zM430 543h1v1h1v1h-1v1h-1v-1h-1v-1h1zM440 543h1v1h1v1h-1v1h-1v-1h-1v-1h1zM450 543h1v1h1v1h-1v1h-1v-1h-1v-1h1zM460 544h1v1h1v1h-1v1h-1v-1h-1v-1h1zM470 544h1v1h1v1h-1v1h-1v-1h-1v-1h1zM480 544h1v1h1v1h-1v1h-1v-1h-1v-1h1zM490 543h1v1h1v1h-1v1h-1v-1h-1v-1h1zM500 536h1v1h1v1h-1v1h-1v-1h-1v-1h1zM510 541h1v1h1v1h-1v1h-1v-1h-1v-1h1zM520 542h1v1h1v1h-1v1h-1v-1h-1v-1h1zM530 543h1v1h1v1h-1v1h-1v-1h-1v-1h1zM540 543h1v1h1v1h-1v1h-1v-1h-1v-1h1zM550 544h1v1h1v1h-1v1h-1v-1h-1v-1h1zM560 543h1v1h1v1h-1v1h-1v-1h-1v-1h1zM570 543h1v1h1v1h-1v1h-1v-1h-1v-1h1zM580 544h1v1h1v1h-1v1h-1v-1h-1v-1h1zM590 544h1v1h1v1h-1v1h-1v-1h-1v-1h1zM600 544h1v1h1v1h-1v1h-1v-1h-1v-1h1zM610 544h1v1h1v1h-1v1h-1v-1h-1v-1h1zM620 544h1v1h1v1h-1v1h-1v-1h-1v-1h1zM630 544h1v1h1v1h-1v1h-1v-1h-1v-1h1zM640 544h1v1h1v1h-1v1h-1v-1h-1v-1h1zM650 544h1v1h1v1h-1v1h-1v-1h-1v-1h1zM660 544h1v1h1v1h-1v1h-1v-1h-1v-1h1zM670 544h1v1h1v1h-1v1h-1v-1h-1v-1h1zM680 544h1v1h1v1h-1v1h-1v-1h-1v-1h1zM690 544h1v1h1v1h-1v1h-1v-1h-1v-1h1z" fill="#d0b870"/>
<polyline points="120.5,545.5 130.5,545.5 140.5,545.5 150.5,545.5 160.5,545.5 170.5,545.5 180.5,545.5 190.5,545.5 200.5,545.5 210.5,545.5 220.5,545.5 230.5,545.5 240.5,545.5 250.5,545.5 260.5,545.5 270.5,545.5 280.5,545.5 290.5,545.5 300.5,545.5 310.5,545.5 320.5,545.5 330.5,545.5 340.5,545.5 350.5,545.5 360.5,545.5 370.5,545.5 380.5,545.5 390.5,545.5 400.5,545.1 410.5,545.2 420.5,541.5 430.5,542.2 440.5,544.5 450.5,541.6 460.5,539.3 470.5,538.6 480.5,536.4 490.5,536.7 500.5,528.6 510.5,538.0 520.5,535.4 530.5,534.7 540.5,542.2 550.5,541.0 560.5,543.7 570.5,544.0 580.5,543.3 590.5,544.4 600.5,544.2 610.5,545.0 620.5,545.5 630.5,545.5 640.5,545.5 650.5,545.5 660.5,545.5 670.5,545.5 680.5,545.5 690.5,545.5" fill="none" stroke="#00d860" stroke-width="1" /><path d="M120 544h1v1h1v1h-1v1h-1v-1h-1v-1h1zM130 544h1v1h1v1h-1v1h-1v-1h-1v-1h1zM140 544h1v1h1v1h-1v1h-1v-1h-1v-1h1zM150 544h1v1h1v1h-1v1h-1v-1h-1v-1h1zM160 544h1v1h1v1h-1v1h-1v-1h-1v-1h1zM170 544h1v1h1v1h-1v1h-1v-1h-1v-1h1zM180 544h1v1h1v1h-1v1h-1v-1h-1v-1h1zM190 544h1v1h1v1h-1v1h-1v-1h-1v-1h1zM200 544h1v1h1v1h-1v1h-1v-1h-1v-1h1zM210 544h1v1h1v1h-1v1h-1v-1h-1v-1h1zM220 544h1v1h1v1h-1v1h-1v-1h-1v-1h1zM230 544h1v1h1v1h-1v1h-1v-1h-1v-1h1zM240 544h1v1h1v1h-1v1h-1v-1h-1v-1h1zM250 544h1v1h1v1h-1v1h-1v-1h-1v-1h1zM260 544h1v1h1v1h-1v1h-1v-1h-1v-1h1zM270 544h1v1h1v1h-1v1h-1v-1h-1v-1h1zM280 544h1v1h1v1h-1v1h-1v-1h-1v-1h1zM290 544h1v1h1v1h-1v1h-1v-1h-1v-1h1zM300 544h1v1h1v1h-1v1h-1v-1h-1v-1h1zM310 544h1v1h1v1h-1v1h-1v-1h-1v-1h1zM320 544h1v1h1v1h-1v1h-1v-1h-1v-1h1zM330 544h1v1h1v1h-1v1h-1v-1h-1v-1h1zM340 544h1v1h1v1h-1v1h-1v-1h-1v-1h1zM350 544h1v1h1v1h-1v1h-1v-1h-1v-1h1zM360 544h1v1h1v1h-1v1h-1v-1h-1v-1h1zM370 544h1v1h1v1h-1v1h-1v-1h-1v-1h1zM380 544h1v1h1v1h-1v1h-1v-1h-1v-1h1zM390 544h1v1h1v1h-1v1h-1v-1h-1v-1h1zM400 544h1v1h1v1h-1v1h-1v-1h-1v-1h1zM410 544h1v1h1v1h-1v1h-1v-1h-1v-1h1zM420 540h1v1h1v1h-1v1h-1v-1h-1v-1h1zM430 541h1v1h1v1h-1v1h-1v-1h-1v-1h1zM440 543h1v1h1v1h-1v1h-1v-1h-1v-1h1zM450 540h1v1h1v1h-1v1h-1v-1h-1v-1h1zM460 538h1v1h1v1h-1v1h-1v-1h-1v-1h1zM470 537h1v1h1v1h-1v1h-1v-1h-1v-1h1zM480 535h1v1h1v1h-1v1h-1v-1h-1v-1h1zM490 535h1v1h1v1h-1v1h-1v-1h-1v-1h1zM500 527h1v1h1v1h-1v1h-1v-1h-1v-1h1zM510 537h1v1h1v1h-1v1h-1v-1h-1v-1h1zM520 534h1v1h1v1h-1v1h-1v-1h-1v-1h1zM530 533h1v1h1v1h-1v1h-1v-1h-1v-1h1zM540 541h1v1h1v1h-1v1h-1v-1h-1v-1h1zM550 540h1v1h1v1h-1v1h-1v-1h-1v-1h1zM560 542h1v1h1v1h-1v1h-1v-1h-1v-1h1zM570 542h1v1h1v1h-1v1h-1v-1h-1v-1h1zM580 542h1v1h1v1h-1v1h-1v-1h-1v-1h1zM590 543h1v1h1v1h-1v1h-1v-1h-1v-1h1zM600 543h1v1h1v1h-1v1h-1v-1h-1v-1h1zM610 543h1v1h1v1h-1v1h-1v-1h-1v-1h1zM620 544h1v1h1v1h-1v1h-1v-1h-1v-1h1zM630 544h1v1h1v1h-1v1h-1v-1h-1v-1h1zM640 544h1v1h1v1h-1v1h-1v-1h-1v-1h1zM650 544h1v1h1v1h-1v1h-1v-1h-1v-1h1zM660 544h1v1h1v1h-1v1h-1v-1h-1v-1h1zM670 544h1v1h1v1h-1v1h-1v-1h-1v-1h1zM680 544h1v1h1v1h-1v1h-1v-1h-1v-1h1zM690 544h1v1h1v1h-1v1h-1v-1h-1v-1h1z" fill="#00d860"/>
<polyline points="120.5,545.5 130.5,545.5 140.5,545.5 150.5,545.5 160.5,545.5 170.5,545.5 180.5,545.5 190.5,545.5 200.5,545.5 210.5,534.5 220.5,545.5 230.5,545.3 240.5,545.1 250.5,544.9 260.5,544.7 270.5,544.5 280.5,533.0 290.5,533.5 300.5,544.5 310.5,544.5 320.5,544.6 330.5,544.6 340.5,544.6 350.5,544.7 360.5,544.7 370.5,544.7 380.5,544.7 390.5,544.8 400.5,544.8 410.5,544.8 420.5,544.9 430.5,541.5 440.5,535.1 450.5,523.8 460.5,528.3 470.5,530.2 480.5,528.3 490.5,534.3 500.5,534.1 510.5,541.7 520.5,544.3 530.5,534.4 540.5,535.7 550.5,535.9 560.5,540.2 570.5,542.8 580.5,544.6 590.5,543.7 600.5,544.6 610.5,544.6 620.5,545.5 630.5,545.5 640.5,535.5 650.5,543.5 660.5,545.5 670.5,545.5 680.5,545.5 690.5,545.5" fill="none" stroke="#204060" stroke-width="1" /><path d="M120 544h1v1h1v1h-1v1h-1v-1h-1v-1h1zM130 544h1v1h1v1h-1v1h-1v-1h-1v-1h1zM140 544h1v1h1v1h-1v1h-1v-1h-1v-1h1zM150 544h1v1h1v1h-1v1h-1v-1h-1v-1h1zM160 544h1v1h1v1h-1v1h-1v-1h-1v-1h1zM170 544h1v1h1v1h-1v1h-1v-1h-1v-1h1zM180 544h1v1h1v1h-1v1h-1v-1h-1v-1h1zM190 544h1v1h1v1h-1v1h-1v-1h-1v-1h1zM200 544h1v1h1v1h-1v1h-1v-1h-1v-1h1zM210 533h1v1h1v1h-1v1h-1v-1h-1v-1h1zM220 544h1v1h1v1h-1v1h-1v-1h-1v-1h1zM230 544h1v1h1v1h-1v1h-1v-1h-1v-1h1zM240 544h1v1h1v1h-1v1h-1v-1h-1v-1h1zM250 543h1v1h1v1h-1v1h-1v-1h-1v-1h1zM260 543h1v1h1v1h-1v1h-1v-1h-1v-1h1zM270 543h1v1h1v1h-1v1h-1v-1h-1v-1h1zM280 532h1v1h1v1h-1v1h-1v-1h-1v-1h1zM290 532h1v1h1v1h-1v1h-1v-1h-1v-1h1zM300 543h1v1h1v1h-1v1h-1v-1h-1v-1h1zM310 543h1v1h1v1h-1v1h-1v-1h-1v-1h1zM320 543h1v1h1v1h-1v1h-1v-1h-1v-1h1zM330 543h1v1h1v1h-1v1h-1v-1h-1v-1h1zM340 543h1v1h1v1h-1v1h-1v-1h-1v-1h1zM350 543h1v1h1v1h-1v1h-1v-1h-1v-1h1zM360 543h1v1h1v1h-1v1h-1v-1h-1v-1h1zM370 543h1v1h1v1h-1v1h-1v-1h-1v-1h1zM380 543h1v1h1v1h-1v1h-1v-1h-1v-1h1zM390 543h1v1h1v1h-1v1h-1v-1h-1v-1h1zM400 543h1v1h1v1h-1v1h-1v-1h-1v-1h1zM410 543h1v1h1v1h-1v1h-1v-1h-1v-1h1zM420 543h1v1h1v1h-1v1h-1v-1h-1v-1h1zM430 540h1v1h1v1h-1v1h-1v-1h-1v-1h1zM440 534h1v1h1v1h-1v1h-1v-1h-1v-1h1zM450 522h1v1h1v1h-1v1h-1v-1h-1v-1h1zM460 527h1v1h1v1h-1v1h-1v-1h-1v-1h1zM470 529h1v1h1v1h-1v1h-1v-1h-1v-1h1zM480 527h1v1h1v1h-1v1h-1v-1h-1v-1h1zM490 533h1v1h1v1h-1v1h-1v-1h-1v-1h1zM500 533h1v1h1v1h-1v1h-1v-1h-1v-1h1zM510 540h1v1h1v1h-1v1h-1v-1h-1v-1h1zM520 543h1v1h1v1h-1v1h-1v-1h-1v-1h1zM530 533h1v1h1v1h-1v1h-1v-1h-1v-1h1zM540 534h1v1h1v1h-1v1h-1v-1h-1v-1h1zM550 534h1v1h1v1h-1v1h-1v-1h-1v-1h1zM560 539h1v1h1v1h-1v1h-1v-1h-1v-1h1zM570 541h1v1h1v1h-1v1h-1v-1h-1v-1h1zM580 543h1v1h1v1h-1v1h-1v-1h-1v-1h1zM590 542h1v1h1v1h-1v1h-1v-1h-1v-1h1zM600 543h1v1h1v1h-1v1h-1v-1h-1v-1h1zM610 543h1v1h1v1h-1v1h-1v-1h-1v-1h1zM620 544h1v1h1v1h-1v1h-1v-1h-1v-1h1zM630 544h1v1h1v1h-1v1h-1v-1h-1v-1h1zM640 534h1v1h1v1h-1v1h-1v-1h-1v-1h1zM650 542h1v1h1v1h-1v1h-1v-1h-1v-1h1zM660 544h1v1h1v1h-1v1h-1v-1h-1v-1h1zM670 544h1v1h1v1h-1v1h-1v-1h-1v-1h1zM680 544h1v1h1v1h-1v1h-1v-1h-1v-1h1zM690 544h1v1h1v1h-1v1h-1v-1h-1v-1h1z" fill="#204060"/>
<polyline points="120.5,545.5 130.5,545.5 140.5,545.5 150.5,545.5 160.5,545.5 170.5,545.5 180.5,545.5 190.5,545.5 200.5,545.5 210.5,545.5 220.5,545.5 230.5,545.5 240.5,545.5 250.5,545.5 260.5,545.5 270.5,545.5 280.5,545.5 290.5,545.5 300.5,545.5 310.5,545.5 320.5,545.5 330.5,545.5 340.5,545.5 350.5,545.5 360.5,545.5 370.5,545.5 380.5,545.5 390.5,545.5 400.5,545.5 410.5,544.3 420.5,542.5 430.5,543.1 440.5,542.2 450.5,543.6 460.5,541.4 470.5,536.0 480.5,521.7 490.5,529.6 500.5,535.4 510.5,540.4 520.5,532.5 530.5,540.4 540.5,543.9 550.5,543.1 560.5,543.7 570.5,542.5 580.5,544.2 590.5,544.2 600.5,544.9 610.5,545.2 620.5,545.5 630.5,545.5 640.5,545.5 650.5,545.5 660.5,545.5 670.5,545.5 680.5,545.5 690.5,545.5" fill="none" stroke="#607080" stroke-width="1" /><path d="M120 544h1v1h1v1h-1v1h-1v-1h-1v-1h1zM130 544h1v1h1v1h-1v1h-1v-1h-1v-1h1zM140 544h1v1h1v1h-1v1h-1v-1h-1v-1h1zM150 544h1v1h1v1h-1v1h-1v-1h-1v-1h1zM160 544h1v1h1v1h-1v1h-1v-1h-1v-1h1zM170 544h1v1h1v1h-1v1h-1v-1h-1v-1h1zM180 544h1v1h1v1h-1v1h-1v-1h-1v-1h1zM190 544h1v1h1v1h-1v1h-1v-1h-1v-1h1zM200 544h1v1h1v1h-1v1h-1v-1h-1v-1h1zM210 544h1v1h1v1h-1v1h-1v-1h-1v-1h1zM220 544h1v1h1v1h-1v1h-1v-1h-1v-1h1zM230 544h1v1h1v1h-1v1h-1v-1h-1v-1h1zM240 544h1v1h1v1h-1v1h-1v-1h-1v-1h1zM250 544h1v1h1v1h-1v1h-1v-1h-1v-1h1zM260 544h1v1h1v1h-1v1h-1v-1h-1v-1h1zM270 544h1v1h1v1h-1v1h-1v-1h-1v-1h1zM280 544h1v1h1v1h-1v1h-1v-1h-1v-1h1zM290 544h1v1h1v1h-1v1h-1v-1h-1v-1h1zM300 544h1v1h1v1h-1v1h-1v-1h-1v-1h1zM310 544h1v1h1v1h-1v1h-1v-1h-1v-1h1zM320 544h1v1h1v1h-1v1h-1v-1h-1v-1h1zM330 544h1v1h1v1h-1v1h-1v-1h-1v-1h1zM340 544h1v1h1v1h-1v1h-1v-1h-1v-1h1zM350 544h1v1h1v1h-1v1h-1v-1h-1v-1h1zM360 544h1v1h1v1h-1v1h-1v-1h-1v-1h1zM370 544h1v1h1v1h-1v1h-1v-1h-1v-1h1zM380 544h1v1h1v1h-1v1h-1v-1h-1v-1h1zM390 544h1v1h1v1h-1v1h-1v-1h-1v-1h1zM400 544h1v1h1v1h-1v1h-1v-1h-1v-1h1zM410 543h1v1h1v1h-1v1h-1v-1h-1v-1h1zM420 541h1v1h1v1h-1v1h-1v-1h-1v-1h1zM430 542h1v1h1v1h-1v1h-1v-1h-1v-1h1zM440 541h1v1h1v1h-1v1h-1v-1h-1v-1h1zM450 542h1v1h1v1h-1v1h-1v-1h-1v-1h1zM460 540h1v1h1v1h-1v1h-1v-1h-1v-1h1zM470 535h1v1h1v1h-1v1h-1v-1h-1v-1h1zM480 520h1v1h1v1h-1v1h-1v-1h-1v-1h1zM490 528h1v1h1v1h-1v1h-1v-1h-1v-1h1zM500 534h1v1h1v1h-1v1h-1v-1h-1v-1h1zM510 539h1v1h1v1h-1v1h-1v-1h-1v-1h1zM520 531h1v1h1v1h-1v1h-1v-1h-1v-1h1zM530 539h1v1h1v1h-1v1h-1v-1h-1v-1h1zM540 542h1v1h1v1h-1v1h-1v-1h-1v-1h1zM550 542h1v1h1v1h-1v1h-1v-1h-1v-1h1zM560 542h1v1h1v1h-1v1h-1v-1h-1v-1h1zM570 541h1v1h1v1h-1v1h-1v-1h-1v-1h1zM580 543h1v1h1v1h-1v1h-1v-1h-1v-1h1zM590 543h1v1h1v1h-1v1h-1v-1h-1v-1h1zM600 543h1v1h1v1h-1v1h-1v-1h-1v-1h1zM610 544h1v1h1v1h-1v1h-1v-1h-1v-1h1zM620 544h1v1h1v1h-1v1h-1v-1h-1v-1h1zM630 544h1v1h1v1h-1v1h-1v-1h-1v-1h1zM640 544h1v1h1v1h-1v1h-1v-1h-1v-1h1zM650 544h1v1h1v1h-1v1h-1v-1h-1v-1h1zM660 544h1v1h1v1h-1v1h-1v-1h-1v-1h1zM670 544h1v1h1v1h-1v1h-1v-1h-1v-1h1zM680 544h1v1h1v1h-1v1h-1v-1h-1v-1h1zM690 544h1v1h1v1h-1v1h-1v-1h-1v-1h1z" fill="#607080"/>
<polyline points="120.5,545.5 130.5,545.5 140.5,545.5 150.5,545.5 160.5,545.5 170.5,545.5 180.5,545.5 190.5,545.5 200.5,545.5 210.5,545.5 220.5,545.5 230.5,545.5 240.5,545.5 250.5,545.5 260.5,545.5 270.5,545.5 280.5,545.5 290.5,545.5 300.5,545.5 310.5,545.5 320.5,545.5 330.5,545.5 340.5,545.5 350.5,545.5 360.5,545.5 370.5,545.5 380.5,545.5 390.5,545.5 400.5,545.5 410.5,545.4 420.5,542.6 430.5,543.0 440.5,540.0 450.5,536.6 460.5,524.9 470.5,537.4 480.5,539.0 490.5,534.2 500.5,541.8 510.5,542.0 520.5,544.4 530.5,543.3 540.5,541.7 550.5,543.5 560.5,544.8 570.5,544.9 580.5,545.3 590.5,544.6 600.5,544.2 610.5,545.1 620.5,545.5 630.5,545.5 640.5,545.5 650.5,545.5 660.5,545.5 670.5,545.5 680.5,533.5 690.5,545.5" fill="none" stroke="#e070f0" stroke-width="1" /><path d="M120 544h1v1h1v1h-1v1h-1v-1h-1v-1h1zM130 544h1v1h1v1h-1v1h-1v-1h-1v-1h1zM140 544h1v1h1v1h-1v1h-1v-1h-1v-1h1zM150 544h1v1h1v1h-1v1h-1v-1h-1v-1h1zM160 544h1v1h1v1h-1v1h-1v-1h-1v-1h1zM170 544h1v1h1v1h-1v1h-1v-1h-1v-1h1zM180 544h1v1h1v1h-1v1h-1v-1h-1v-1h1zM190 544h1v1h1v1h-1v1h-1v-1h-1v-1h1zM200 544h1v1h1v1h-1v1h-1v-1h-1v-1h1zM210 544h1v1h1v1h-1v1h-1v-1h-1v-1h1zM220 544h1v1h1v1h-1v1h-1v-1h-1v-1h1zM230 544h1v1h1v1h-1v1h-1v-1h-1v-1h1zM240 544h1v1h1v1h-1v1h-1v-1h-1v-1h1zM250 544h1v1h1v1h-1v1h-1v-1h-1v-1h1zM260 544h1v1h1v1h-1v1h-1v-1h-1v-1h1zM270 544h1v1h1v1h-1v1h-1v-1h-1v-1h1zM280 544h1v1h1v1h-1v1h-1v-1h-1v-1h1zM290 544h1v1h1v1h-1v1h-1v-1h-1v-1h1zM300 544h1v1h1v1h-1v1h-1v-1h-1v-1h1zM310 544h1v1h1v1h-1v1h-1v-1h-1v-1h1zM320 544h1v1h1v1h-1v1h-1v-1h-1v-1h1zM330 544h1v1h1v1h-1v1h-1v-1h-1v-1h1zM340 544h1v1h1v1h-1v1h-1v-1h-1v-1h1zM350 544h1v1h1v1h-1v1h-1v-1h-1v-1h1zM360 544h1v1h1v1h-1v1h-1v-1h-1v-1h1zM370 544h1v1h1v1h-1v1h-1v-1h-1v-1h1zM380 544h1v1h1v1h-1v1h-1v-1h-1v-1h1zM390 544h1v1h1v1h-1v1h-1v-1h-1v-1h1zM400 544h1v1h1v1h-1v1h-1v-1h-1v-1h1zM410 544h1v1h1v1h-1v1h-1v-1h-1v-1h1zM420 541h1v1h1v1h-1v1h-1v-1h-1v-1h1zM430 541h1v1h1v1h-1v1h-1v-1h-1v-1h1zM440 538h1v1h1v1h-1v1h-1v-1h-1v-1h1zM450 535h1v1h1v1h-1v1h-1v-1h-1v-1h1zM460 523h1v1h1v1h-1v1h-1v-1h-1v-1h1zM470 536h1v1h1v1h-1v1h-1v-1h-1v-1h1zM480 537h1v1h1v1h-1v1h-1v-1h-1v-1h1zM490 533h1v1h1v1h-1v1h-1v-1h-1v-1h1zM500 540h1v1h1v1h-1v1h-1v-1h-1v-1h1zM510 540h1v1h1v1h-1v1h-1v-1h-1v-1h1zM520 543h1v1h1v1h-1v1h-1v-1h-1v-1h1zM530 542h1v1h1v1h-1v1h-1v-1h-1v-1h1zM540 540h1v1h1v1h-1v1h-1v-1h-1v-1h1zM550 542h1v1h1v1h-1v1h-1v-1h-1v-1h1zM560 543h1v1h1v1h-1v1h-1v-1h-1v-1h1zM570 543h1v1h1v1h-1v1h-1v-1h-1v-1h1zM580 544h1v1h1v1h-1v1h-1v-1h-1v-1h1zM590 543h1v1h1v1h-1v1h-1v-1h-1v-1h1zM600 543h1v1h1v1h-1v1h-1v-1h-1v-1h1zM610 544h1v1h1v1h-1v1h-1v-1h-1v-1h1zM620 544h1v1h1v1h-1v1h-1v-1h-1v-1h1zM630 544h1v1h1v1h-1v1h-1v-1h-1v-1h1zM640 544h1v1h1v1h-1v1h-1v-1h-1v-1h1zM650 544h1v1h1v1h-1v1h-1v-1h-1v-1h1zM660 544h1v1h1v1h-1v1h-1v-1h-1v-1h1zM670 544h1v1h1v1h-1v1h-1v-1h-1v-1h1zM680 532h1v1h1v1h-1v1h-1v-1h-1v-1h1zM690 544h1v1h1v1h-1v1h-1v-1h-1v-1h1z" fill="#e070f0"/>
<polyline points="120.5,545.5 130.5,545.5 140.5,545.5 150.5,545.5 160.5,545.5 170.5,545.5 180.5,545.5 190.5,545.5 200.5,545.5 210.5,545.5 220.5,545.5 230.5,545.5 240.5,545.5 250.5,545.5 260.5,545.5 270.5,545.5 280.5,545.5 290.5,545.5 300.5,545.5 310.5,545.5 320.5,529.5 330.5,545.5 340.5,545.5 350.5,545.5 360.5,545.5 370.5,545.5 380.5,545.5 390.5,545.5 400.5,545.4 410.5,544.6 420.5,545.0 430.5,520.5 440.5,492.5 450.5,535.5 460.5,542.2 470.5,529.4 480.5,539.0 490.5,532.7 500.5,541.4 510.5,539.5 520.5,537.5 530.5,537.1 540.5,537.8 550.5,542.0 560.5,542.7 570.5,543.0 580.5,543.6 590.5,544.9 600.5,544.7 610.5,545.1 620.5,545.5 630.5,545.5 640.5,545.5 650.5,545.5 660.5,545.5 670.5,545.5 680.5,545.5 690.5,545.5" fill="none" stroke="#8020f0" stroke-width="1" /><path d="M120 544h1v1h1v1h-1v1h-1v-1h-1v-1h1zM130 544h1v1h1v1h-1v1h-1v-1h-1v-1h1zM140 544h1v1h1v1h-1v1h-1v-1h-1v-1h1zM150 544h1v1h1v1h-1v1h-1v-1h-1v-1h1zM160 544h1v1h1v1h-1v1h-1v-1h-1v-1h1zM170 544h1v1h1v1h-1v1h-1v-1h-1v-1h1zM180 544h1v1h1v1h-1v1h-1v-1h-1v-1h1zM190 544h1v1h1v1h-1v1h-1v-1h-1v-1h1zM200 544h1v1h1v1h-1v1h-1v-1h-1v-1h1zM210 544h1v1h1v1h-1v1h-1v-1h-1v-1h1zM220 544h1v1h1v1h-1v1h-1v-1h-1v-1h1zM230 544h1v1h1v1h-1v1h-1v-1h-1v-1h1zM240 544h1v1h1v1h-1v1h-1v-1h-1v-1h1zM250 544h1v1h1v1h-1v1h-1v-1h-1v-1h1zM260 544h1v1h1v1h-1v1h-1v-1h-1v-1h1zM270 544h1v1h1v1h-1v1h-1v-1h-1v-1h1zM280 544h1v1h1v1h-1v1h-1v-1h-1v-1h1zM290 544h1v1h1v1h-1v1h-1v-1h-1v-1h1zM300 544h1v1h1v1h-1v1h-1v-1h-1v-1h1zM310 544h1v1h1v1h-1v1h-1v-1h-1v-1h1zM320 528h1v1h1v1h-1v1h-1v-1h-1v-1h1zM330 544h1v1h1v1h-1v1h-1v-1h-1v-1h1zM340 544h1v1h1v1h-1v1h-1v-1h-1v-1h1zM350 544h1v1h1v1h-1v1h-1v-1h-1v-1h1zM360 544h1v1h1v1h-1v1h-1v-1h-1v-1h1zM370 544h1v1h1v1h-1v1h-1v-1h-1v-1h1zM380 544h1v1h1v1h-1v1h-1v-1h-1v-1h1zM390 544h1v1h1v1h-1v1h-1v-1h-1v-1h1zM400 544h1v1h1v1h-1v1h-1v-1h-1v-1h1zM410 543h1v1h1v1h-1v1h-1v-1h-1v-1h1zM420 544h1v1h1v1h-1v1h-1v-1h-1v-1h1zM430 519h1v1h1v1h-1v1h-1v-1h-1v-1h1zM440 491h1v1h1v1h-1v1h-1v-1h-1v-1h1zM450 534h1v1h1v1h-1v1h-1v-1h-1v-1h1zM460 541h1v1h1v1h-1v1h-1v-1h-1v-1h1zM470 528h1v1h1v1h-1v1h-1v-1h-1v-1h1zM480 538h1v1h1v1h-1v1h-1v-1h-1v-1h1zM490 531h1v1h1v1h-1v1h-1v-1h-1v-1h1zM500 540h1v1h1v1h-1v1h-1v-1h-1v-1h1zM510 538h1v1h1v1h-1v1h-1v-1h-1v-1h1zM520 536h1v1h1v1h-1v1h-1v-1h-1v-1h1zM530 536h1v1h1v1h-1v1h-1v-1h-1v-1h1zM540 536h1v1h1v1h-1v1h-1v-1h-1v-1h1zM550 540h1v1h1v1h-1v1h-1v-1h-1v-1h1zM560 541h1v1h1v1h-1v1h-1v-1h-1v-1h1zM570 541h1v1h1v1h-1v1h-1v-1h-1v-1h1zM580 542h1v1h1v1h-1v1h-1v-1h-1v-1h1zM590 543h1v1h1v1h-1v1h-1v-1h-1v-1h1zM600 543h1v1h1v1h-1v1h-1v-1h-1v-1h1zM610 544h1v1h1v1h-1v1h-1v-1h-1v-1h1zM620 544h1v1h1v1h-1v1h-1v-1h-1v-1h1zM630 544h1v1h1v1h-1v1h-1v-1h-1v-1h1zM640 544h1v1h1v1h-1v1h-1v-1h-1v-1h1zM650 544h1v1h1v1h-1v1h-1v-1h-1v-1h1zM660 544h1v1h1v1h-1v1h-1v-1h-1v-1h1zM670 544h1v1h1v1h-1v1h-1v-1h-1v-1h1zM680 544h1v1h1v1h-1v1h-1v-1h-1v-1h1zM690 544h1v1h1v1h-1v1h-1v-1h-1v-1h1z" fill="#8020f0"/>
<polyline points="120.5,545.5 130.5,545.5 140.5,545.5 150.5,545.5 160.5,545.5 170.5,545.5 180.5,545.5 190.5,545.5 200.5,545.5 210.5,545.5 220.5,545.5 230.5,545.5 240.5,545.5 250.5,545.5 260.5,545.5 270.5,545.5 280.5,545.5 290.5,545.5 300.5,545.5 310.5,545.5 320.5,545.5 330.5,545.5 340.5,545.5 350.5,545.5 360.5,545.5 370.5,516.5 380.5,540.5 390.5,545.5 400.5,545.5 410.5,543.6 420.5,543.6 430.5,537.9 440.5,539.7 450.5,540.8 460.5,544.0 470.5,540.9 480.5,517.5 490.5,508.0 500.5,532.8 510.5,525.1 520.5,538.7 530.5,539.0 540.5,542.1 550.5,544.1 560.5,544.3 570.5,543.3 580.5,543.7 590.5,544.8 600.5,545.3 610.5,545.4 620.5,545.5 630.5,545.5 640.5,545.5 650.5,545.5 660.5,545.5 670.5,545.5 680.5,545.5 690.5,545.5" fill="none" stroke="#806020" stroke-width="1" /><path d="M120 544h1v1h1v1h-1v1h-1v-1h-1v-1h1zM130 544h1v1h1v1h-1v1h-1v-1h-1v-1h1zM140 544h1v1h1v1h-1v1h-1v-1h-1v-1h1zM150 544h1v1h1v1h-1v1h-1v-1h-1v-1h1zM160 544h1v1h1v1h-1v1h-1v-1h-1v-1h1zM170 544h1v1h1v1h-1v1h-1v-1h-1v-1h1zM180 544h1v1h1v1h-1v1h-1v-1h-1v-1h1zM190 544h1v1h1v1h-1v1h-1v-1h-1v-1h1zM200 544h1v1h1v1h-1v1h-1v-1h-1v-1h1zM210 544h1v1h1v1h-1v1h-1v-1h-1v-1h1zM220 544h1v1h1v1h-1v1h-1v-1h-1v-1h1zM230 544h1v1h1v1h-1v1h-1v-1h-1v-1h1zM240 544h1v1h1v1h-1v1h-1v-1h-1v-1h1zM250 544h1v1h1v1h-1v1h-1v-1h-1v-1h1zM260 544h1v1h1v1h-1v1h-1v-1h-1v-1h1zM270 544h1v1h1v1h-1v1h-1v-1h-1v-1h1zM280 544h1v1h1v1h-1v1h-1v-1h-1v-1h1zM290 544h1v1h1v1h-1v1h-1v-1h-1v-1h1zM300 544h1v1h1v1h-1v1h-1v-1h-1v-1h1zM310 544h1v1h1v1h-1v1h-1v-1h-1v-1h1zM320 544h1v1h1v1h-1v1h-1v-1h-1v-1h1zM330 544h1v1h1v1h-1v1h-1v-1h-1v-1h1zM340 544h1v1h1v1h-1v1h-1v-1h-1v-1h1zM350 544h1v1h1v1h-1v1h-1v-1h-1v-1h1zM360 544h1v1h1v1h-1v1h-1v-1h-1v-1h1zM370 515h1v1h1v1h-1v1h-1v-1h-1v-1h1zM380 539h1v1h1v1h-1v1h-1v-1h-1v-1h1zM390 544h1v1h1v1h-1v1h-1v-1h-1v-1h1zM400 544h1v1h1v1h-1v1h-1v-1h-1v-1h1zM410 542h1v1h1v1h-1v1h-1v-1h-1v-1h1zM420 542h1v1h1v1h-1v1h-1v-1h-1v-1h1zM430 536h1v1h1v1h-1v1h-1v-1h-1v-1h1zM440 538h1v1h1v1h-1v1h-1v-1h-1v-1h1zM450 539h1v1h1v1h-1v1h-1v-1h-1v-1h1zM460 542h1v1h1v1h-1v1h-1v-1h-1v-1h1zM470 539h1v1h1v1h-1v1h-1v-1h-1v-1h1zM480 516h1v1h1v1h-1v1h-1v-1h-1v-1h1zM490 507h1v1h1v1h-1v1h-1v-1h-1v-1h1zM500 531h1v1h1v1h-1v1h-1v-1h-1v-1h1zM510 524h1v1h1v1h-1v1h-1v-1h-1v-1h1zM520 537h1v1h1v1h-1v1h-1v-1h-1v-1h1zM530 537h1v1h1v1h-1v1h-1v-1h-1v-1h1zM540 541h1v1h1v1h-1v1h-1v-1h-1v-1h1zM550 543h1v1h1v1h-1v1h-1v-1h-1v-1h1zM560 543h1v1h1v1h-1v1h-1v-1h-1v-1h1zM570 542h1v1h1v1h-1v1h-1v-1h-1v-1h1zM580 542h1v1h1v1h-1v1h-1v-1h-1v-1h1zM590 543h1v1h1v1h-1v1h-1v-1h-1v-1h1zM600 544h1v1h1v1h-1v1h-1v-1h-1v-1h1zM610 544h1v1h1v1h-1v1h-1v-1h-1v-1h1zM620 544h1v1h1v1h-1v1h-1v-1h-1v-1h1zM630 544h1v1h1v1h-1v1h-1v-1h-1v-1h1zM640 544h1v1h1v1h-1v1h-1v-1h-1v-1h1zM650 544h1v1h1v1h-1v1h-1v-1h-1v-1h1zM660 544h1v1h1v1h-1v1h-1v-1h-1v-1h1zM670 544h1v1h1v1h-1v1h-1v-1h-1v-1h1zM680 544h1v1h1v1h-1v1h-1v-1h-1v-1h1zM690 544h1v1h1v1h-1v1h-1v-1h-1v-1h1z" fill="#806020"/>
<polyline points="120.5,545.5 130.5,545.5 140.5,545.5 150.5,545.5 160.5,545.5 170.5,545.5 180.5,545.5 190.5,545.5 200.5,545.5 210.5,545.5 220.5,545.5 230.5,545.5 240.5,545.5 250.5,545.5 260.5,545.5 270.5,545.5 280.5,545.5 290.5,545.5 300.5,545.5 310.5,545.5 320.5,545.5 330.5,545.5 340.5,545.5 350.5,545.5 360.5,545.5 370.5,545.5 380.5,545.5 390.5,545.5 400.5,545.5 410.5,543.2 420.5,543.3 430.5,543.0 440.5,535.7 450.5,542.5 460.5,532.5 470.5,540.8 480.5,543.0 490.5,542.8 500.5,532.1 510.5,523.1 520.5,531.0 530.5,540.2 540.5,543.8 550.5,544.6 560.5,545.1 570.5,544.7 580.5,544.8 590.5,545.3 600.5,545.4 610.5,545.0 620.5,545.5 630.5,545.5 640.5,545.5 650.5,545.5 660.5,545.5 670.5,545.5 680.5,545.5 690.5,545.5" fill="none" stroke="#300070" stroke-width="1" /><path d="M120 544h1v1h1v1h-1v1h-1v-1h-1v-1h1zM130 544h1v1h1v1h-1v1h-1v-1h-1v-1h1zM140 544h1v1h1v1h-1v1h-1v-1h-1v-1h1zM150 544h1v1h1v1h-1v1h-1v-1h-1v-1h1zM160 544h1v1h1v1h-1v1h-1v-1h-1v-1h1zM170 544h1v1h1v1h-1v1h-1v-1h-1v-1h1zM180 544h1v1h1v1h-1v1h-1v-1h-1v-1h1zM190 544h1v1h1v1h-1v1h-1v-1h-1v-1h1zM200 544h1v1h1v1h-1v1h-1v-1h-1v-1h1zM210 544h1v1h1v1h-1v1h-1v-1h-1v-1h1zM220 544h1v1h1v1h-1v1h-1v-1h-1v-1h1zM230 544h1v1h1v1h-1v1h-1v-1h-1v-1h1zM240 544h1v1h1v1h-1v1h-1v-1h-1v-1h1zM250 544h1v1h1v1h-1v1h-1v-1h-1v-1h1zM260 544h1v1h1v1h-1v1h-1v-1h-1v-1h1zM270 544h1v1h1v1h-1v1h-1v-1h-1v-1h1zM280 544h1v1h1v1h-1v1h-1v-1h-1v-1h1zM290 544h1v1h1v1h-1v1h-1v-1h-1v-1h1zM300 544h1v1h1v1h-1v1h-1v-1h-1v-1h1zM310 544h1v1h1v1h-1v1h-1v-1h-1v-1h1zM320 544h1v1h1v1h-1v1h-1v-1h-1v-1h1zM330 544h1v1h1v1h-1v1h-1v-1h-1v-1h1zM340 544h1v1h1v1h-1v1h-1v-1h-1v-1h1zM350 544h1v1h1v1h-1v1h-1v-1h-1v-1h1zM360 544h1v1h1v1h-1v1h-1v-1h-1v-1h1zM370 544h1v1h1v1h-1v1h-1v-1h-1v-1h1zM380 544h1v1h1v1h-1v1h-1v-1h-1v-1h1zM390 544h1v1h1v1h-1v1h-1v-1h-1v-1h1zM400 544h1v1h1v1h-1v1h-1v-1h-1v-1h1zM410 542h1v1h1v1h-1v1h-1v-1h-1v-1h1zM420 542h1v1h1v1h-1v1h-1v-1h-1v-1h1zM430 541h1v1h1v1h-1v1h-1v-1h-1v-1h1zM440 534h1v1h1v1h-1v1h-1v-1h-1v-1h1zM450 541h1v1h1v1h-1v1h-1v-1h-1v-1h1zM460 531h1v1h1v1h-1v1h-1v-1h-1v-1h1zM470 539h1v1h1v1h-1v1h-1v-1h-1v-1h1zM480 541h1v1h1v1h-1v1h-1v-1h-1v-1h1zM490 541h1v1h1v1h-1v1h-1v-1h-1v-1h1zM500 531h1v1h1v1h-1v1h-1v-1h-1v-1h1zM510 522h1v1h1v1h-1v1h-1v-1h-1v-1h1zM520 529h1v1h1v1h-1v1h-1v-1h-1v-1h1zM530 539h1v1h1v1h-1v1h-1v-1h-1v-1h1zM540 542h1v1h1v1h-1v1h-1v-1h-1v-1h1zM550 543h1v1h1v1h-1v1h-1v-1h-1v-1h1zM560 544h1v1h1v1h-1v1h-1v-1h-1v-1h1zM570 543h1v1h1v1h-1v1h-1v-1h-1v-1h1zM580 543h1v1h1v1h-1v1h-1v-1h-1v-1h1zM590 544h1v1h1v1h-1v1h-1v-1h-1v-1h1zM600 544h1v1h1v1h-1v1h-1v-1h-1v-1h1zM610 543h1v1h1v1h-1v1h-1v-1h-1v-1h1zM620 544h1v1h1v1h-1v1h-1v-1h-1v-1h1zM630 544h1v1h1v1h-1v1h-1v-1h-1v-1h1zM640 544h1v1h1v1h-1v1h-1v-1h-1v-1h1zM650 544h1v1h1v1h-1v1h-1v-1h-1v-1h1zM660 544h1v1h1v1h-1v1h-1v-1h-1v-1h1zM670 544h1v1h1v1h-1v1h-1v-1h-1v-1h1zM680 544h1v1h1v1h-1v1h-1v-1h-1v-1h1zM690 544h1v1h1v1h-1v1h-1v-1h-1v-1h1z" fill="#300070"/>
<polyline points="120.5,545.5 130.5,545.5 140.5,545.5 150.5,545.5 160.5,545.5 170.5,545.5 180.5,545.5 190.5,545.5 200.5,545.5 210.5,545.5 220.5,545.5 230.5,545.5 240.5,545.5 250.5,545.5 260.5,545.5 270.5,545.5 280.5,545.5 290.5,545.5 300.5,545.5 310.5,545.5 320.5,545.5 330.5,545.5 340.5,545.5 350.5,545.5 360.5,545.5 370.5,545.5 380.5,545.5 390.5,545.5 400.5,545.5 410.5,544.3 420.5,544.2 430.5,545.0 440.5,541.4 450.5,544.1 460.5,544.0 470.5,544.7 480.5,539.9 490.5,543.8 500.5,537.4 510.5,533.4 520.5,534.4 530.5,541.0 540.5,544.1 550.5,544.4 560.5,543.0 570.5,543.3 580.5,544.7 590.5,544.9 600.5,545.3 610.5,545.4 620.5,545.5 630.5,545.5 640.5,545.5 650.5,545.5 660.5,545.5 670.5,545.5 680.5,545.5 690.5,545.5" fill="none" stroke="#f0d000" stroke-width="1" /><path d="M120 544h1v1h1v1h-1v1h-1v-1h-1v-1h1zM130 544h1v1h1v1h-1v1h-1v-1h-1v-1h1zM140 544h1v1h1v1h-1v1h-1v-1h-1v-1h1zM150 544h1v1h1v1h-1v1h-1v-1h-1v-1h1zM160 544h1v1h1v1h-1v1h-1v-1h-1v-1h1zM170 544h1v1h1v1h-1v1h-1v-1h-1v-1h1zM180 544h1v1h1v1h-1v1h-1v-1h-1v-1h1zM190 544h1v1h1v1h-1v1h-1v-1h-1v-1h1zM200 544h1v1h1v1h-1v1h-1v-1h-1v-1h1zM210 544h1v1h1v1h-1v1h-1v-1h-1v-1h1zM220 544h1v1h1v1h-1v1h-1v-1h-1v-1h1zM230 544h1v1h1v1h-1v1h-1v-1h-1v-1h1zM240 544h1v1h1v1h-1v1h-1v-1h-1v-1h1zM250 544h1v1h1v1h-1v1h-1v-1h-1v-1h1zM260 544h1v1h1v1h-1v1h-1v-1h-1v-1h1zM270 544h1v1h1v1h-1v1h-1v-1h-1v-1h1zM280 544h1v1h1v1h-1v1h-1v-1h-1v-1h1zM290 544h1v1h1v1h-1v1h-1v-1h-1v-1h1zM300 544h1v1h1v1h-1v1h-1v-1h-1v-1h1zM310 544h1v1h1v1h-1v1h-1v-1h-1v-1h1zM320 544h1v1h1v1h-1v1h-1v-1h-1v-1h1zM330 544h1v1h1v1h-1v1h-1v-1h-1v-1h1zM340 544h1v1h1v1h-1v1h-1v-1h-1v-1h1zM350 544h1v1h1v1h-1v1h-1v-1h-1v-1h1zM360 544h1v1h1v1h-1v1h-1v-1h-1v-1h1zM370 544h1v1h1v1h-1v1h-1v-1h-1v-1h1zM380 544h1v1h1v1h-1v1h-1v-1h-1v-1h1zM390 544h1v1h1v1h-1v1h-1v-1h-1v-1h1zM400 544h1v1h1v1h-1v1h-1v-1h-1v-1h1zM410 543h1v1h1v1h-1v1h-1v-1h-1v-1h1zM420 543h1v1h1v1h-1v1h-1v-1h-1v-1h1zM430 544h1v1h1v1h-1v1h-1v-1h-1v-1h1zM440 540h1v1h1v1h-1v1h-1v-1h-1v-1h1zM450 543h1v1h1v1h-1v1h-1v-1h-1v-1h1zM460 542h1v1h1v1h-1v1h-1v-1h-1v-1h1zM470 543h1v1h1v1h-1v1h-1v-1h-1v-1h1zM480 538h1v1h1v1h-1v1h-1v-1h-1v-1h1zM490 542h1v1h1v1h-1v1h-1v-1h-1v-1h1zM500 536h1v1h1v1h-1v1h-1v-1h-1v-1h1zM510 532h1v1h1v1h-1v1h-1v-1h-1v-1h1zM520 533h1v1h1v1h-1v1h-1v-1h-1v-1h1zM530 540h1v1h1v1h-1v1h-1v-1h-1v-1h1zM540 543h1v1h1v1h-1v1h-1v-1h-1v-1h1zM550 543h1v1h1v1h-1v1h-1v-1h-1v-1h1zM560 541h1v1h1v1h-1v1h-1v-1h-1v-1h1zM570 542h1v1h1v1h-1v1h-1v-1h-1v-1h1zM580 543h1v1h1v1h-1v1h-1v-1h-1v-1h1zM590 543h1v1h1v1h-1v1h-1v-1h-1v-1h1zM600 544h1v1h1v1h-1v1h-1v-1h-1v-1h1zM610 544h1v1h1v1h-1v1h-1v-1h-1v-1h1zM620 544h1v1h1v1h-1v1h-1v-1h-1v-1h1zM630 544h1v1h1v1h-1v1h-1v-1h-1v-1h1zM640 544h1v1h1v1h-1v1h-1v-1h-1v-1h1zM650 544h1v1h1v1h-1v1h-1v-1h-1v-1h1zM660 544h1v1h1v1h-1v1h-1v-1h-1v-1h1zM670 544h1v1h1v1h-1v1h-1v-1h-1v-1h1zM680 544h1v1h1v1h-1v1h-1v-1h-1v-1h1zM690 544h1v1h1v1h-1v1h-1v-1h-1v-1h1z" fill="#f0d000"/>
<polyline points="120.5,545.5 130.5,545.5 140.5,545.5 150.5,545.5 160.5,545.5 170.5,545.5 180.5,545.5 190.5,545.5 200.5,545.5 210.5,545.5 220.5,545.5 230.5,545.5 240.5,545.5 250.5,545.5 260.5,545.5 270.5,545.5 280.5,545.5 290.5,545.5 300.5,545.5 310.5,545.5 320.5,545.5 330.5,545.5 340.5,545.5 350.5,545.5 360.5,545.5 370.5,545.5 380.5,545.5 390.5,545.5 400.5,545.1 410.5,545.2 420.5,541.8 430.5,541.5 440.5,538.6 450.5,540.7 460.5,530.5 470.5,530.0 480.5,533.6 490.5,541.7 500.5,540.2 510.5,524.2 520.5,534.5 530.5,540.8 540.5,541.1 550.5,544.1 560.5,544.8 570.5,543.6 580.5,544.5 590.5,545.0 600.5,544.2 610.5,544.9 620.5,545.5 630.5,545.5 640.5,545.5 650.5,545.5 660.5,545.5 670.5,545.5 680.5,545.5 690.5,545.5" fill="none" stroke="#2060a0" stroke-width="1" /><path d="M120 544h1v1h1v1h-1v1h-1v-1h-1v-1h1zM130 544h1v1h1v1h-1v1h-1v-1h-1v-1h1zM140 544h1v1h1v1h-1v1h-1v-1h-1v-1h1zM150 544h1v1h1v1h-1v1h-1v-1h-1v-1h1zM160 544h1v1h1v1h-1v1h-1v-1h-1v-1h1zM170 544h1v1h1v1h-1v1h-1v-1h-1v-1h1zM180 544h1v1h1v1h-1v1h-1v-1h-1v-1h1zM190 544h1v1h1v1h-1v1h-1v-1h-1v-1h1zM200 544h1v1h1v1h-1v1h-1v-1h-1v-1h1zM210 544h1v1h1v1h-1v1h-1v-1h-1v-1h1zM220 544h1v1h1v1h-1v1h-1v-1h-1v-1h1zM230 544h1v1h1v1h-1v1h-1v-1h-1v-1h1zM240 544h1v1h1v1h-1v1h-1v-1h-1v-1h1zM250 544h1v1h1v1h-1v1h-1v-1h-1v-1h1zM260 544h1v1h1v1h-1v1h-1v-1h-1v-1h1zM270 544h1v1h1v1h-1v1h-1v-1h-1v-1h1zM280 544h1v1h1v1h-1v1h-1v-1h-1v-1h1zM290 544h1v1h1v1h-1v1h-1v-1h-1v-1h1zM300 544h1v1h1v1h-1v1h-1v-1h-1v-1h1zM310 544h1v1h1v1h-1v1h-1v-1h-1v-1h1zM320 544h1v1h1v1h-1v1h-1v-1h-1v-1h1zM330 544h1v1h1v1h-1v1h-1v-1h-1v-1h1zM340 544h1v1h1v1h-1v1h-1v-1h-1v-1h1zM350 544h1v1h1v1h-1v1h-1v-1h-1v-1h1zM360 544h1v1h1v1h-1v1h-1v-1h-1v-1h1zM370 544h1v1h1v1h-1v1h-1v-1h-1v-1h1zM380 544h1v1h1v1h-1v1h-1v-1h-1v-1h1zM390 544h1v1h1v1h-1v1h-1v-1h-1v-1h1zM400 544h1v1h1v1h-1v1h-1v-1h-1v-1h1zM410 544h1v1h1v1h-1v1h-1v-1h-1v-1h1zM420 540h1v1h1v1h-1v1h-1v-1h-1v-1h1zM430 540h1v1h1v1h-1v1h-1v-1h-1v-1h1zM440 537h1v1h1v1h-1v1h-1v-1h-1v-1h1zM450 539h1v1h1v1h-1v1h-1v-1h-1v-1h1zM460 529h1v1h1v1h-1v1h-1v-1h-1v-1h1zM470 529h1v1h1v1h-1v1h-1v-1h-1v-1h1zM480 532h1v1h1v1h-1v1h-1v-1h-1v-1h1zM490 540h1v1h1v1h-1v1h-1v-1h-1v-1h1zM500 539h1v1h1v1h-1v1h-1v-1h-1v-1h1zM510 523h1v1h1v1h-1v1h-1v-1h-1v-1h1zM520 533h1v1h1v1h-1v1h-1v-1h-1v-1h1zM530 539h1v1h1v1h-1v1h-1v-1h-1v-1h1zM540 540h1v1h1v1h-1v1h-1v-1h-1v-1h1zM550 543h1v1h1v1h-1v1h-1v-1h-1v-1h1zM560 543h1v1h1v1h-1v1h-1v-1h-1v-1h1zM570 542h1v1h1v1h-1v1h-1v-1h-1v-1h1zM580 543h1v1h1v1h-1v1h-1v-1h-1v-1h1zM590 543h1v1h1v1h-1v1h-1v-1h-1v-1h1zM600 543h1v1h1v1h-1v1h-1v-1h-1v-1h1zM610 543h1v1h1v1h-1v1h-1v-1h-1v-1h1zM620 544h1v1h1v1h-1v1h-1v-1h-1v-1h1zM630 544h1v1h1v1h-1v1h-1v-1h-1v-1h1zM640 544h1v1h1v1h-1v1h-1v-1h-1v-1h1zM650 544h1v1h1v1h-1v1h-1v-1h-1v-1h1zM660 544h1v1h1v1h-1v1h-1v-1h-1v-1h1zM670 544h1v1h1v1h-1v1h-1v-1h-1v-1h1zM680 544h1v1h1v1h-1v1h-1v-1h-1v-1h1zM690 544h1v1h1v1h-1v1h-1v-1h-1v-1h1z" fill="#2060a0"/>
<polyline points="120.5,545.5 130.5,545.5 140.5,545.5 150.5,545.5 160.5,545.5 170.5,545.5 180.5,545.5 190.5,545.5 200.5,545.5 210.5,545.5 220.5,545.5 230.5,545.5 240.5,545.5 250.5,545.5 260.5,545.5 270.5,545.5 280.5,545.5 290.5,545.5 300.5,545.5 310.5,545.5 320.5,545.5 330.5,545.5 340.5,545.5 350.5,545.5 360.5,545.5 370.5,545.5 380.5,545.5 390.5,545.5 400.5,545.5 410.5,545.0 420.5,545.3 430.5,543.9 440.5,542.1 450.5,543.8 460.5,542.9 470.5,543.9 480.5,545.0 490.5,545.2 500.5,542.9 510.5,541.1 520.5,544.1 530.5,541.5 540.5,542.5 550.5,543.0 560.5,544.6 570.5,545.2 580.5,545.0 590.5,545.4 600.5,545.5 610.5,545.4 620.5,545.5 630.5,545.5 640.5,545.5 650.5,535.0 660.5,545.5 670.5,545.5 680.5,545.5 690.5,545.5" fill="none" stroke="#905020" stroke-width="1" /><path d="M120 544h1v1h1v1h-1v1h-1v-1h-1v-1h1zM130 544h1v1h1v1h-1v1h-1v-1h-1v-1h1zM140 544h1v1h1v1h-1v1h-1v-1h-1v-1h1zM150 544h1v1h1v1h-1v1h-1v-1h-1v-1h1zM160 544h1v1h1v1h-1v1h-1v-1h-1v-1h1zM170 544h1v1h1v1h-1v1h-1v-1h-1v-1h1zM180 544h1v1h1v1h-1v1h-1v-1h-1v-1h1zM190 544h1v1h1v1h-1v1h-1v-1h-1v-1h1zM200 544h1v1h1v1h-1v1h-1v-1h-1v-1h1zM210 544h1v1h1v1h-1v1h-1v-1h-1v-1h1zM220 544h1v1h1v1h-1v1h-1v-1h-1v-1h1zM230 544h1v1h1v1h-1v1h-1v-1h-1v-1h1zM240 544h1v1h1v1h-1v1h-1v-1h-1v-1h1zM250 544h1v1h1v1h-1v1h-1v-1h-1v-1h1zM260 544h1v1h1v1h-1v1h-1v-1h-1v-1h1zM270 544h1v1h1v1h-1v1h-1v-1h-1v-1h1zM280 544h1v1h1v1h-1v1h-1v-1h-1v-1h1zM290 544h1v1h1v1h-1v1h-1v-1h-1v-1h1zM300 544h1v1h1v1h-1v1h-1v-1h-1v-1h1zM310 544h1v1h1v1h-1v1h-1v-1h-1v-1h1zM320 544h1v1h1v1h-1v1h-1v-1h-1v-1h1zM330 544h1v1h1v1h-1v1h-1v-1h-1v-1h1zM340 544h1v1h1v1h-1v1h-1v-1h-1v-1h1zM350 544h1v1h1v1h-1v1h-1v-1h-1v-1h1zM360 544h1v1h1v1h-1v1h-1v-1h-1v-1h1zM370 544h1v1h1v1h-1v1h-1v-1h-1v-1h1zM380 544h1v1h1v1h-1v1h-1v-1h-1v-1h1zM390 544h1v1h1v1h-1v1h-1v-1h-1v-1h1zM400 544h1v1h1v1h-1v1h-1v-1h-1v-1h1zM410 543h1v1h1v1h-1v1h-1v-1h-1v-1h1zM420 544h1v1h1v1h-1v1h-1v-1h-1v-1h1zM430 542h1v1h1v1h-1v1h-1v-1h-1v-1h1zM440 541h1v1h1v1h-1v1h-1v-1h-1v-1h1zM450 542h1v1h1v1h-1v1h-1v-1h-1v-1h1zM460 541h1v1h1v1h-1v1h-1v-1h-1v-1h1zM470 542h1v1h1v1h-1v1h-1v-1h-1v-1h1zM480 544h1v1h1v1h-1v1h-1v-1h-1v-1h1zM490 544h1v1h1v1h-1v1h-1v-1h-1v-1h1zM500 541h1v1h1v1h-1v1h-1v-1h-1v-1h1zM510 540h1v1h1v1h-1v1h-1v-1h-1v-1h1zM520 543h1v1h1v1h-1v1h-1v-1h-1v-1h1zM530 540h1v1h1v1h-1v1h-1v-1h-1v-1h1zM540 541h1v1h1v1h-1v1h-1v-1h-1v-1h1zM550 541h1v1h1v1h-1v1h-1v-1h-1v-1h1zM560 543h1v1h1v1h-1v1h-1v-1h-1v-1h1zM570 544h1v1h1v1h-1v1h-1v-1h-1v-1h1zM580 544h1v1h1v1h-1v1h-1v-1h-1v-1h1zM590 544h1v1h1v1h-1v1h-1v-1h-1v-1h1zM600 544h1v1h1v1h-1v1h-1v-1h-1v-1h1zM610 544h1v1h1v1h-1v1h-1v-1h-1v-1h1zM620 544h1v1h1v1h-1v1h-1v-1h-1v-1h1zM630 544h1v1h1v1h-1v1h-1v-1h-1v-1h1zM640 544h1v1h1v1h-1v1h-1v-1h-1v-1h1zM650 534h1v1h1v1h-1v1h-1v-1h-1v-1h1zM660 544h1v1h1v1h-1v1h-1v-1h-1v-1h1zM670 544h1v1h1v1h-1v1h-1v-1h-1v-1h1zM680 544h1v1h1v1h-1v1h-1v-1h-1v-1h1zM690 544h1v1h1v1h-1v1h-1v-1h-1v-1h1z" fill="#905020"/>
<polyline points="120.5,545.5 130.5,545.5 140.5,545.5 150.5,545.5 160.5,545.5 170.5,545.5 180.5,545.5 190.5,545.5 200.5,545.5 210.5,545.5 220.5,545.5 230.5,545.5 240.5,545.5 250.5,545.5 260.5,540.5 270.5,490.5 280.5,535.5 290.5,544.5 300.5,545.5 310.5,545.5 320.5,545.5 330.5,545.5 340.5,545.5 350.5,545.5 360.5,545.5 370.5,545.5 380.5,545.5 390.5,545.5 400.5,545.1 410.5,545.3 420.5,540.6 430.5,543.0 440.5,537.1 450.5,543.0 460.5,544.3 470.5,520.0 480.5,519.4 490.5,537.7 500.5,537.3 510.5,539.0 520.5,542.7 530.5,544.6 540.5,544.4 550.5,545.1 560.5,545.2 570.5,542.8 580.5,544.4 590.5,545.0 600.5,545.2 610.5,545.4 620.5,545.5 630.5,545.5 640.5,545.5 650.5,545.5 660.5,545.5 670.5,545.5 680.5,545.5 690.5,545.5" fill="none" stroke="#9080f0" stroke-width="1" /><path d="M120 544h1v1h1v1h-1v1h-1v-1h-1v-1h1zM130 544h1v1h1v1h-1v1h-1v-1h-1v-1h1zM140 544h1v1h1v1h-1v1h-1v-1h-1v-1h1zM150 544h1v1h1v1h-1v1h-1v-1h-1v-1h1zM160 544h1v1h1v1h-1v1h-1v-1h-1v-1h1zM170 544h1v1h1v1h-1v1h-1v-1h-1v-1h1zM180 544h1v1h1v1h-1v1h-1v-1h-1v-1h1zM190 544h1v1h1v1h-1v1h-1v-1h-1v-1h1zM200 544h1v1h1v1h-1v1h-1v-1h-1v-1h1zM210 544h1v1h1v1h-1v1h-1v-1h-1v-1h1zM220 544h1v1h1v1h-1v1h-1v-1h-1v-1h1zM230 544h1v1h1v1h-1v1h-1v-1h-1v-1h1zM240 544h1v1h1v1h-1v1h-1v-1h-1v-1h1zM250 544h1v1h1v1h-1v1h-1v-1h-1v-1h1zM260 539h1v1h1v1h-1v1h-1v-1h-1v-1h1zM270 489h1v1h1v1h-1v1h-1v-1h-1v-1h1zM280 534h1v1h1v1h-1v1h-1v-1h-1v-1h1zM290 543h1v1h1v1h-1v1h-1v-1h-1v-1h1zM300 544h1v1h1v1h-1v1h-1v-1h-1v-1h1zM310 544h1v1h1v1h-1v1h-1v-1h-1v-1h1zM320 544h1v1h1v1h-1v1h-1v-1h-1v-1h1zM330 544h1v1h1v1h-1v1h-1v-1h-1v-1h1zM340 544h1v1h1v1h-1v1h-1v-1h-1v-1h1zM350 544h1v1h1v1h-1v1h-1v-1h-1v-1h1zM360 544h1v1h1v1h-1v1h-1v-1h-1v-1h1zM370 544h1v1h1v1h-1v1h-1v-1h-1v-1h1zM380 544h1v1h1v1h-1v1h-1v-1h-1v-1h1zM390 544h1v1h1v1h-1v1h-1v-1h-1v-1h1zM400 544h1v1h1v1h-1v1h-1v-1h-1v-1h1zM410 544h1v1h1v1h-1v1h-1v-1h-1v-1h1zM420 539h1v1h1v1h-1v1h-1v-1h-1v-1h1zM430 541h1v1h1v1h-1v1h-1v-1h-1v-1h1zM440 536h1v1h1v1h-1v1h-1v-1h-1v-1h1zM450 541h1v1h1v1h-1v1h-1v-1h-1v-1h1zM460 543h1v1h1v1h-1v1h-1v-1h-1v-1h1zM470 518h1v1h1v1h-1v1h-1v-1h-1v-1h1zM480 518h1v1h1v1h-1v1h-1v-1h-1v-1h1zM490 536h1v1h1v1h-1v1h-1v-1h-1v-1h1zM500 536h1v1h1v1h-1v1h-1v-1h-1v-1h1zM510 538h1v1h1v1h-1v1h-1v-1h-1v-1h1zM520 541h1v1h1v1h-1v1h-1v-1h-1v-1h1zM530 543h1v1h1v1h-1v1h-1v-1h-1v-1h1zM540 543h1v1h1v1h-1v1h-1v-1h-1v-1h1zM550 544h1v1h1v1h-1v1h-1v-1h-1v-1h1zM560 544h1v1h1v1h-1v1h-1v-1h-1v-1h1zM570 541h1v1h1v1h-1v1h-1v-1h-1v-1h1zM580 543h1v1h1v1h-1v1h-1v-1h-1v-1h1zM590 544h1v1h1v1h-1v1h-1v-1h-1v-1h1zM600 544h1v1h1v1h-1v1h-1v-1h-1v-1h1zM610 544h1v1h1v1h-1v1h-1v-1h-1v-1h1zM620 544h1v1h1v1h-1v1h-1v-1h-1v-1h1zM630 544h1v1h1v1h-1v1h-1v-1h-1v-1h1zM640 544h1v1h1v1h-1v1h-1v-1h-1v-1h1zM650 544h1v1h1v1h-1v1h-1v-1h-1v-1h1zM660 544h1v1h1v1h-1v1h-1v-1h-1v-1h1zM670 544h1v1h1v1h-1v1h-1v-1h-1v-1h1zM680 544h1v1h1v1h-1v1h-1v-1h-1v-1h1zM690 544h1v1h1v1h-1v1h-1v-1h-1v-1h1z" fill="#9080f0"/>
<polyline points="120.5,545.5 130.5,545.5 140.5,545.5 150.5,545.5 160.5,545.5 170.5,545.5 180.5,545.5 190.5,545.5 200.5,545.5 210.5,545.5 220.5,545.5 230.5,545.5 240.5,545.5 250.5,545.5 260.5,538.0 270.5,529.5 280.5,531.5 290.5,544.5 300.5,545.0 310.5,545.5 320.5,522.5 330.5,543.5 340.5,545.5 350.5,545.5 360.5,545.5 370.5,545.5 380.5,545.5 390.5,545.5 400.5,545.5 410.5,543.9 420.5,544.7 430.5,542.3 440.5,543.5 450.5,539.8 460.5,536.9 470.5,542.9 480.5,533.9 490.5,541.6 500.5,538.9 510.5,529.7 520.5,534.6 530.5,535.9 540.5,542.1 550.5,543.3 560.5,544.7 570.5,544.7 580.5,545.2 590.5,544.0 600.5,545.0 610.5,545.1 620.5,545.5 630.5,545.5 640.5,545.5 650.5,545.5 660.5,545.5 670.5,545.5 680.5,545.5 690.5,545.5" fill="none" stroke="#90f030" stroke-width="1" /><path d="M120 544h1v1h1v1h-1v1h-1v-1h-1v-1h1zM130 544h1v1h1v1h-1v1h-1v-1h-1v-1h1zM140 544h1v1h1v1h-1v1h-1v-1h-1v-1h1zM150 544h1v1h1v1h-1v1h-1v-1h-1v-1h1zM160 544h1v1h1v1h-1v1h-1v-1h-1v-1h1zM170 544h1v1h1v1h-1v1h-1v-1h-1v-1h1zM180 544h1v1h1v1h-1v1h-1v-1h-1v-1h1zM190 544h1v1h1v1h-1v1h-1v-1h-1v-1h1zM200 544h1v1h1v1h-1v1h-1v-1h-1v-1h1zM210 544h1v1h1v1h-1v1h-1v-1h-1v-1h1zM220 544h1v1h1v1h-1v1h-1v-1h-1v-1h1zM230 544h1v1h1v1h-1v1h-1v-1h-1v-1h1zM240 544h1v1h1v1h-1v1h-1v-1h-1v-1h1zM250 544h1v1h1v1h-1v1h-1v-1h-1v-1h1zM260 537h1v1h1v1h-1v1h-1v-1h-1v-1h1zM270 528h1v1h1v1h-1v1h-1v-1h-1v-1h1zM280 530h1v1h1v1h-1v1h-1v-1h-1v-1h1zM290 543h1v1h1v1h-1v1h-1v-1h-1v-1h1zM300 544h1v1h1v1h-1v1h-1v-1h-1v-1h1zM310 544h1v1h1v1h-1v1h-1v-1h-1v-1h1zM320 521h1v1h1v1h-1v1h-1v-1h-1v-1h1zM330 542h1v1h1v1h-1v1h-1v-1h-1v-1h1zM340 544h1v1h1v1h-1v1h-1v-1h-1v-1h1zM350 544h1v1h1v1h-1v1h-1v-1h-1v-1h1zM360 544h1v1h1v1h-1v1h-1v-1h-1v-1h1zM370 544h1v1h1v1h-1v1h-1v-1h-1v-1h1zM380 544h1v1h1v1h-1v1h-1v-1h-1v-1h1zM390 544h1v1h1v1h-1v1h-1v-1h-1v-1h1zM400 544h1v1h1v1h-1v1h-1v-1h-1v-1h1zM410 542h1v1h1v1h-1v1h-1v-1h-1v-1h1zM420 543h1v1h1v1h-1v1h-1v-1h-1v-1h1zM430 541h1v1h1v1h-1v1h-1v-1h-1v-1h1zM440 542h1v1h1v1h-1v1h-1v-1h-1v-1h1zM450 538h1v1h1v1h-1v1h-1v-1h-1v-1h1zM460 535h1v1h1v1h-1v1h-1v-1h-1v-1h1zM470 541h1v1h1v1h-1v1h-1v-1h-1v-1h1zM480 532h1v1h1v1h-1v1h-1v-1h-1v-1h1zM490 540h1v1h1v1h-1v1h-1v-1h-1v-1h1zM500 537h1v1h1v1h-1v1h-1v-1h-1v-1h1zM510 528h1v1h1v1h-1v1h-1v-1h-1v-1h1zM520 533h1v1h1v1h-1v1h-1v-1h-1v-1h1zM530 534h1v1h1v1h-1v1h-1v-1h-1v-1h1zM540 541h1v1h1v1h-1v1h-1v-1h-1v-1h1zM550 542h1v1h1v1h-1v1h-1v-1h-1v-1h1zM560 543h1v1h1v1h-1v1h-1v-1h-1v-1h1zM570 543h1v1h1v1h-1v1h-1v-1h-1v-1h1zM580 544h1v1h1v1h-1v1h-1v-1h-1v-1h1zM590 542h1v1h1v1h-1v1h-1v-1h-1v-1h1zM600 543h1v1h1v1h-1v1h-1v-1h-1v-1h1zM610 544h1v1h1v1h-1v1h-1v-1h-1v-1h1zM620 544h1v1h1v1h-1v1h-1v-1h-1v-1h1zM630 544h1v1h1v1h-1v1h-1v-1h-1v-1h1zM640 544h1v1h1v1h-1v1h-1v-1h-1v-1h1zM650 544h1v1h1v1h-1v1h-1v-1h-1v-1h1zM660 544h1v1h1v1h-1v1h-1v-1h-1v-1h1zM670 544h1v1h1v1h-1v1h-1v-1h-1v-1h1zM680 544h1v1h1v1h-1v1h-1v-1h-1v-1h1zM690 544h1v1h1v1h-1v1h-1v-1h-1v-1h1z" fill="#90f030"/>
<polyline points="120.5,545.5 130.5,545.5 140.5,545.5 150.5,545.5 160.5,545.5 170.5,545.5 180.5,545.5 190.5,545.5 200.5,545.5 210.5,545.5 220.5,545.5 230.5,545.5 240.5,545.5 250.5,545.5 260.5,545.5 270.5,545.5 280.5,545.5 290.5,545.5 300.5,545.5 310.5,545.5 320.5,545.5 330.5,545.5 340.5,545.5 350.5,545.5 360.5,530.5 370.5,545.5 380.5,545.5 390.5,545.5 400.5,545.4 410.5,545.3 420.5,544.8 430.5,544.9 440.5,544.6 450.5,545.1 460.5,545.3 470.5,542.5 480.5,544.6 490.5,541.5 500.5,541.9 510.5,543.6 520.5,541.4 530.5,543.7 540.5,544.5 550.5,543.9 560.5,544.7 570.5,545.0 580.5,545.4 590.5,545.2 600.5,545.4 610.5,545.5 620.5,545.5 630.5,545.5 640.5,545.5 650.5,545.5 660.5,545.5 670.5,545.5 680.5,545.5 690.5,545.5" fill="none" stroke="#d070d0" stroke-width="1" /><path d="M120 544h1v1h1v1h-1v1h-1v-1h-1v-1h1zM130 544h1v1h1v1h-1v1h-1v-1h-1v-1h1zM140 544h1v1h1v1h-1v1h-1v-1h-1v-1h1zM150 544h1v1h1v1h-1v1h-1v-1h-1v-1h1zM160 544h1v1h1v1h-1v1h-1v-1h-1v-1h1zM170 544h1v1h1v1h-1v1h-1v-1h-1v-1h1zM180 544h1v1h1v1h-1v1h-1v-1h-1v-1h1zM190 544h1v1h1v1h-1v1h-1v-1h-1v-1h1zM200 544h1v1h1v1h-1v1h-1v-1h-1v-1h1zM210 544h1v1h1v1h-1v1h-1v-1h-1v-1h1zM220 544h1v1h1v1h-1v1h-1v-1h-1v-1h1zM230 544h1v1h1v1h-1v1h-1v-1h-1v-1h1zM240 544h1v1h1v1h-1v1h-1v-1h-1v-1h1zM250 544h1v1h1v1h-1v1h-1v-1h-1v-1h1zM260 544h1v1h1v1h-1v1h-1v-1h-1v-1h1zM270 544h1v1h1v1h-1v1h-1v-1h-1v-1h1zM280 544h1v1h1v1h-1v1h-1v-1h-1v-1h1zM290 544h1v1h1v1h-1v1h-1v-1h-1v-1h1zM300 544h1v1h1v1h-1v1h-1v-1h-1v-1h1zM310 544h1v1h1v1h-1v1h-1v-1h-1v-1h1zM320 544h1v1h1v1h-1v1h-1v-1h-1v-1h1zM330 544h1v1h1v1h-1v1h-1v-1h-1v-1h1zM340 544h1v1h1v1h-1v1h-1v-1h-1v-1h1zM350 544h1v1h1v1h-1v1h-1v-1h-1v-1h1zM360 529h1v1h1v1h-1v1h-1v-1h-1v-1h1zM370 544h1v1h1v1h-1v1h-1v-1h-1v-1h1zM380 544h1v1h1v1h-1v1h-1v-1h-1v-1h1zM390 544h1v1h1v1h-1v1h-1v-1h-1v-1h1zM400 544h1v1h1v1h-1v1h-1v-1h-1v-1h1zM410 544h1v1h1v1h-1v1h-1v-1h-1v-1h1zM420 543h1v1h1v1h-1v1h-1v-1h-1v-1h1zM430 543h1v1h1v1h-1v1h-1v-1h-1v-1h1zM440 543h1v1h1v1h-1v1h-1v-1h-1v-1h1zM450 544h1v1h1v1h-1v1h-1v-1h-1v-1h1zM460 544h1v1h1v1h-1v1h-1v-1h-1v-1h1zM470 541h1v1h1v1h-1v1h-1v-1h-1v-1h1zM480 543h1v1h1v1h-1v1h-1v-1h-1v-1h1zM490 540h1v1h1v1h-1v1h-1v-1h-1v-1h1zM500 540h1v1h1v1h-1v1h-1v-1h-1v-1h1zM510 542h1v1h1v1h-1v1h-1v-1h-1v-1h1zM520 540h1v1h1v1h-1v1h-1v-1h-1v-1h1zM530 542h1v1h1v1h-1v1h-1v-1h-1v-1h1zM540 543h1v1h1v1h-1v1h-1v-1h-1v-1h1zM550 542h1v1h1v1h-1v1h-1v-1h-1v-1h1zM560 543h1v1h1v1h-1v1h-1v-1h-1v-1h1zM570 544h1v1h1v1h-1v1h-1v-1h-1v-1h1zM580 544h1v1h1v1h-1v1h-1v-1h-1v-1h1zM590 544h1v1h1v1h-1v1h-1v-1h-1v-1h1zM600 544h1v1h1v1h-1v1h-1v-1h-1v-1h1zM610 544h1v1h1v1h-1v1h-1v-1h-1v-1h1zM620 544h1v1h1v1h-1v1h-1v-1h-1v-1h1zM630 544h1v1h1v1h-1v1h-1v-1h-1v-1h1zM640 544h1v1h1v1h-1v1h-1v-1h-1v-1h1zM650 544h1v1h1v1h-1v1h-1v-1h-1v-1h1zM660 544h1v1h1v1h-1v1h-1v-1h-1v-1h1zM670 544h1v1h1v1h-1v1h-1v-1h-1v-1h1zM680 544h1v1h1v1h-1v1h-1v-1h-1v-1h1zM690 544h1v1h1v1h-1v1h-1v-1h-1v-1h1z" fill="#d070d0"/>
<polyline points="120.5,545.5 130.5,545.5 140.5,545.5 150.5,545.5 160.5,545.5 170.5,545.5 180.5,545.5 190.5,545.5 200.5,545.5 210.5,545.5 220.5,545.5 230.5,545.5 240.5,545.5 250.5,545.5 260.5,545.5 270.5,545.5 280.5,545.5 290.5,545.5 300.5,545.5 310.5,545.5 320.5,545.5 330.5,545.5 340.5,545.5 350.5,545.5 360.5,545.5 370.5,545.5 380.5,545.5 390.5,545.5 400.5,545.1 410.5,545.1 420.5,544.4 430.5,545.2 440.5,545.2 450.5,545.2 460.5,545.1 470.5,542.0 480.5,538.1 490.5,535.8 500.5,541.5 510.5,544.3 520.5,544.7 530.5,544.2 540.5,543.0 550.5,542.9 560.5,544.5 570.5,544.5 580.5,544.8 590.5,545.2 600.5,545.4 610.5,545.4 620.5,545.5 630.5,545.5 640.5,545.5 650.5,545.5 660.5,545.5 670.5,545.5 680.5,545.5 690.5,545.5" fill="none" stroke="#2000a0" stroke-width="1" /><path d="M120 544h1v1h1v1h-1v1h-1v-1h-1v-1h1zM130 544h1v1h1v1h-1v1h-1v-1h-1v-1h1zM140 544h1v1h1v1h-1v1h-1v-1h-1v-1h1zM150 544h1v1h1v1h-1v1h-1v-1h-1v-1h1zM160 544h1v1h1v1h-1v1h-1v-1h-1v-1h1zM170 544h1v1h1v1h-1v1h-1v-1h-1v-1h1zM180 544h1v1h1v1h-1v1h-1v-1h-1v-1h1zM190 544h1v1h1v1h-1v1h-1v-1h-1v-1h1zM200 544h1v1h1v1h-1v1h-1v-1h-1v-1h1zM210 544h1v1h1v1h-1v1h-1v-1h-1v-1h1zM220 544h1v1h1v1h-1v1h-1v-1h-1v-1h1zM230 544h1v1h1v1h-1v1h-1v-1h-1v-1h1zM240 544h1v1h1v1h-1v1h-1v-1h-1v-1h1zM250 544h1v1h1v1h-1v1h-1v-1h-1v-1h1zM260 544h1v1h1v1h-1v1h-1v-1h-1v-1h1zM270 544h1v1h1v1h-1v1h-1v-1h-1v-1h1zM280 544h1v1h1v1h-1v1h-1v-1h-1v-1h1zM290 544h1v1h1v1h-1v1h-1v-1h-1v-1h1zM300 544h1v1h1v1h-1v1h-1v-1h-1v-1h1zM310 544h1v1h1v1h-1v1h-1v-1h-1v-1h1zM320 544h1v1h1v1h-1v1h-1v-1h-1v-1h1zM330 544h1v1h1v1h-1v1h-1v-1h-1v-1h1zM340 544h1v1h1v1h-1v1h-1v-1h-1v-1h1zM350 544h1v1h1v1h-1v1h-1v-1h-1v-1h1zM360 544h1v1h1v1h-1v1h-1v-1h-1v-1h1zM370 544h1v1h1v1h-1v1h-1v-1h-1v-1h1zM380 544h1v1h1v1h-1v1h-1v-1h-1v-1h1zM390 544h1v1h1v1h-1v1h-1v-1h-1v-1h1zM400 544h1v1h1v1h-1v1h-1v-1h-1v-1h1zM410 544h1v1h1v1h-1v1h-1v-1h-1v-1h1zM420 543h1v1h1v1h-1v1h-1v-1h-1v-1h1zM430 544h1v1h1v1h-1v1h-1v-1h-1v-1h1zM440 544h1v1h1v1h-1v1h-1v-1h-1v-1h1zM450 544h1v1h1v1h-1v1h-1v-1h-1v-1h1zM460 544h1v1h1v1h-1v1h-1v-1h-1v-1h1zM470 540h1v1h1v1h-1v1h-1v-1h-1v-1h1zM480 537h1v1h1v1h-1v1h-1v-1h-1v-1h1zM490 534h1v1h1v1h-1v1h-1v-1h-1v-1h1zM500 540h1v1h1v1h-1v1h-1v-1h-1v-1h1zM510 543h1v1h1v1h-1v1h-1v-1h-1v-1h1zM520 543h1v1h1v1h-1v1h-1v-1h-1v-1h1zM530 543h1v1h1v1h-1v1h-1v-1h-1v-1h1zM540 542h1v1h1v1h-1v1h-1v-1h-1v-1h1zM550 541h1v1h1v1h-1v1h-1v-1h-1v-1h1zM560 543h1v1h1v1h-1v1h-1v-1h-1v-1h1zM570 543h1v1h1v1h-1v1h-1v-1h-1v-1h1zM580 543h1v1h1v1h-1v1h-1v-1h-1v-1h1zM590 544h1v1h1v1h-1v1h-1v-1h-1v-1h1zM600 544h1v1h1v1h-1v1h-1v-1h-1v-1h1zM610 544h1v1h1v1h-1v1h-1v-1h-1v-1h1zM620 544h1v1h1v1h-1v1h-1v-1h-1v-1h1zM630 544h1v1h1v1h-1v1h-1v-1h-1v-1h1zM640 544h1v1h1v1h-1v1h-1v-1h-1v-1h1zM650 544h1v1h1v1h-1v1h-1v-1h-1v-1h1zM660 544h1v1h1v1h-1v1h-1v-1h-1v-1h1zM670 544h1v1h1v1h-1v1h-1v-1h-1v-1h1zM680 544h1v1h1v1h-1v1h-1v-1h-1v-1h1zM690 544h1v1h1v1h-1v1h-1v-1h-1v-1h1z" fill="#2000a0"/>
<polyline points="120.5,545.5 130.5,545.5 140.5,545.5 150.5,545.5 160.5,545.5 170.5,545.5 180.5,545.5 190.5,545.5 200.5,545.5 210.5,545.5 220.5,545.5 230.5,545.5 240.5,545.5 250.5,545.5 260.5,545.5 270.5,545.5 280.5,545.5 290.5,545.5 300.5,545.5 310.5,525.5 320.5,506.0 330.5,529.5 340.5,544.5 350.5,545.5 360.5,545.5 370.5,545.5 380.5,545.5 390.5,545.5 400.5,545.3 410.5,545.2 420.5,544.6 430.5,539.5 440.5,542.9 450.5,540.8 460.5,536.8 470.5,536.5 480.5,524.8 490.5,537.6 500.5,529.2 510.5,540.6 520.5,534.8 530.5,542.2 540.5,538.9 550.5,541.3 560.5,541.2 570.5,541.4 580.5,543.8 590.5,544.8 600.5,545.1 610.5,545.2 620.5,545.5 630.5,545.5 640.5,545.5 650.5,545.5 660.5,545.5 670.5,545.5 680.5,545.5 690.5,545.5" fill="none" stroke="#e0c8a0" stroke-width="1" /><path d="M120 544h1v1h1v1h-1v1h-1v-1h-1v-1h1zM130 544h1v1h1v1h-1v1h-1v-1h-1v-1h1zM140 544h1v1h1v1h-1v1h-1v-1h-1v-1h1zM150 544h1v1h1v1h-1v1h-1v-1h-1v-1h1zM160 544h1v1h1v1h-1v1h-1v-1h-1v-1h1zM170 544h1v1h1v1h-1v1h-1v-1h-1v-1h1zM180 544h1v1h1v1h-1v1h-1v-1h-1v-1h1zM190 544h1v1h1v1h-1v1h-1v-1h-1v-1h1zM200 544h1v1h1v1h-1v1h-1v-1h-1v-1h1zM210 544h1v1h1v1h-1v1h-1v-1h-1v-1h1zM220 544h1v1h1v1h-1v1h-1v-1h-1v-1h1zM230 544h1v1h1v1h-1v1h-1v-1h-1v-1h1zM240 544h1v1h1v1h-1v1h-1v-1h-1v-1h1zM250 544h1v1h1v1h-1v1h-1v-1h-1v-1h1zM260 544h1v1h1v1h-1v1h-1v-1h-1v-1h1zM270 544h1v1h1v1h-1v1h-1v-1h-1v-1h1zM280 544h1v1h1v1h-1v1h-1v-1h-1v-1h1zM290 544h1v1h1v1h-1v1h-1v-1h-1v-1h1zM300 544h1v1h1v1h-1v1h-1v-1h-1v-1h1zM310 524h1v1h1v1h-1v1h-1v-1h-1v-1h1zM320 505h1v1h1v1h-1v1h-1v-1h-1v-1h1zM330 528h1v1h1v1h-1v1h-1v-1h-1v-1h1zM340 543h1v1h1v1h-1v1h-1v-1h-1v-1h1zM350 544h1v1h1v1h-1v1h-1v-1h-1v-1h1zM360 544h1v1h1v1h-1v1h-1v-1h-1v-1h1zM370 544h1v1h1v1h-1v1h-1v-1h-1v-1h1zM380 544h1v1h1v1h-1v1h-1v-1h-1v-1h1zM390 544h1v1h1v1h-1v1h-1v-1h-1v-1h1zM400 544h1v1h1v1h-1v1h-1v-1h-1v-1h1zM410 544h1v1h1v1h-1v1h-1v-1h-1v-1h1zM420 543h1v1h1v1h-1v1h-1v-1h-1v-1h1zM430 538h1v1h1v1h-1v1h-1v-1h-1v-1h1zM440 541h1v1h1v1h-1v1h-1v-1h-1v-1h1zM450 539h1v1h1v1h-1v1h-1v-1h-1v-1h1zM460 535h1v1h1v1h-1v1h-1v-1h-1v-1h1zM470 535h1v1h1v1h-1v1h-1v-1h-1v-1h1zM480 523h1v1h1v1h-1v1h-1v-1h-1v-1h1zM490 536h1v1h1v1h-1v1h-1v-1h-1v-1h1zM500 528h1v1h1v1h-1v1h-1v-1h-1v-1h1zM510 539h1v1h1v1h-1v1h-1v-1h-1v-1h1zM520 533h1v1h1v1h-1v1h-1v-1h-1v-1h1zM530 541h1v1h1v1h-1v1h-1v-1h-1v-1h1zM540 537h1v1h1v1h-1v1h-1v-1h-1v-1h1zM550 540h1v1h1v1h-1v1h-1v-1h-1v-1h1zM560 540h1v1h1v1h-1v1h-1v-1h-1v-1h1zM570 540h1v1h1v1h-1v1h-1v-1h-1v-1h1zM580 542h1v1h1v1h-1v1h-1v-1h-1v-1h1zM590 543h1v1h1v1h-1v1h-1v-1h-1v-1h1zM600 544h1v1h1v1h-1v1h-1v-1h-1v-1h1zM610 544h1v1h1v1h-1v1h-1v-1h-1v-1h1zM620 544h1v1h1v1h-1v1h-1v-1h-1v-1h1zM630 544h1v1h1v1h-1v1h-1v-1h-1v-1h1zM640 544h1v1h1v1h-1v1h-1v-1h-1v-1h1zM650 544h1v1h1v1h-1v1h-1v-1h-1v-1h1zM660 544h1v1h1v1h-1v1h-1v-1h-1v-1h1zM670 544h1v1h1v1h-1v1h-1v-1h-1v-1h1zM680 544h1v1h1v1h-1v1h-1v-1h-1v-1h1zM690 544h1v1h1v1h-1v1h-1v-1h-1v-1h1z" fill="#e0c8a0"/>
<polyline points="120.5,545.5 130.5,545.5 140.5,545.5 150.5,545.5 160.5,539.5 170.5,545.5 180.5,545.5 190.5,545.5 200.5,545.5 210.5,539.5 220.5,545.5 230.5,545.5 240.5,545.5 250.5,545.5 260.5,545.5 270.5,545.5 280.5,545.5 290.5,545.5 300.5,545.5 310.5,545.5 320.5,545.5 330.5,545.5 340.5,545.5 350.5,545.5 360.5,545.5 370.5,545.5 380.5,545.5 390.5,545.5 400.5,545.5 410.5,542.9 420.5,542.4 430.5,543.6 440.5,544.4 450.5,531.4 460.5,540.3 470.5,531.3 480.5,540.8 490.5,531.5 500.5,539.5 510.5,542.6 520.5,526.3 530.5,536.8 540.5,539.5 550.5,536.5 560.5,530.5 570.5,533.0 580.5,539.5 590.5,543.8 600.5,544.0 610.5,544.3 620.5,545.5 630.5,539.5 640.5,543.5 650.5,545.5 660.5,545.5 670.5,545.5 680.5,545.5 690.5,545.5" fill="none" stroke="#800000" stroke-width="1" /><path d="M120 544h1v1h1v1h-1v1h-1v-1h-1v-1h1zM130 544h1v1h1v1h-1v1h-1v-1h-1v-1h1zM140 544h1v1h1v1h-1v1h-1v-1h-1v-1h1zM150 544h1v1h1v1h-1v1h-1v-1h-1v-1h1zM160 538h1v1h1v1h-1v1h-1v-1h-1v-1h1zM170 544h1v1h1v1h-1v1h-1v-1h-1v-1h1zM180 544h1v1h1v1h-1v1h-1v-1h-1v-1h1zM190 544h1v1h1v1h-1v1h-1v-1h-1v-1h1zM200 544h1v1h1v1h-1v1h-1v-1h-1v-1h1zM210 538h1v1h1v1h-1v1h-1v-1h-1v-1h1zM220 544h1v1h1v1h-1v1h-1v-1h-1v-1h1zM230 544h1v1h1v1h-1v1h-1v-1h-1v-1h1zM240 544h1v1h1v1h-1v1h-1v-1h-1v-1h1zM250 544h1v1h1v1h-1v1h-1v-1h-1v-1h1zM260 544h1v1h1v1h-1v1h-1v-1h-1v-1h1zM270 544h1v1h1v1h-1v1h-1v-1h-1v-1h1zM280 544h1v1h1v1h-1v1h-1v-1h-1v-1h1zM290 544h1v1h1v1h-1v1h-1v-1h-1v-1h1zM300 544h1v1h1v1h-1v1h-1v-1h-1v-1h1zM310 544h1v1h1v1h-1v1h-1v-1h-1v-1h1zM320 544h1v1h1v1h-1v1h-1v-1h-1v-1h1zM330 544h1v1h1v1h-1v1h-1v-1h-1v-1h1zM340 544h1v1h1v1h-1v1h-1v-1h-1v-1h1zM350 544h1v1h1v1h-1v1h-1v-1h-1v-1h1zM360 544h1v1h1v1h-1v1h-1v-1h-1v-1h1zM370 544h1v1h1v1h-1v1h-1v-1h-1v-1h1zM380 544h1v1h1v1h-1v1h-1v-1h-1v-1h1zM390 544h1v1h1v1h-1v1h-1v-1h-1v-1h1zM400 544h1v1h1v1h-1v1h-1v-1h-1v-1h1zM410 541h1v1h1v1h-1v1h-1v-1h-1v-1h1zM420 541h1v1h1v1h-1v1h-1v-1h-1v-1h1zM430 542h1v1h1v1h-1v1h-1v-1h-1v-1h1zM440 543h1v1h1v1h-1v1h-1v-1h-1v-1h1zM450 530h1v1h1v1h-1v1h-1v-1h-1v-1h1zM460 539h1v1h1v1h-1v1h-1v-1h-1v-1h1zM470 530h1v1h1v1h-1v1h-1v-1h-1v-1h1zM480 539h1v1h1v1h-1v1h-1v-1h-1v-1h1zM490 530h1v1h1v1h-1v1h-1v-1h-1v-1h1zM500 538h1v1h1v1h-1v1h-1v-1h-1v-1h1zM510 541h1v1h1v1h-1v1h-1v-1h-1v-1h1zM520 525h1v1h1v1h-1v1h-1v-1h-1v-1h1zM530 535h1v1h1v1h-1v1h-1v-1h-1v-1h1zM540 538h1v1h1v1h-1v1h-1v-1h-1v-1h1zM550 535h1v1h1v1h-1v1h-1v-1h-1v-1h1zM560 529h1v1h1v1h-1v1h-1v-1h-1v-1h1zM570 532h1v1h1v1h-1v1h-1v-1h-1v-1h1zM580 538h1v1h1v1h-1v1h-1v-1h-1v-1h1zM590 542h1v1h1v1h-1v1h-1v-1h-1v-1h1zM600 543h1v1h1v1h-1v1h-1v-1h-1v-1h1zM610 543h1v1h1v1h-1v1h-1v-1h-1v-1h1zM620 544h1v1h1v1h-1v1h-1v-1h-1v-1h1zM630 538h1v1h1v1h-1v1h-1v-1h-1v-1h1zM640 542h1v1h1v1h-1v1h-1v-1h-1v-1h1zM650 544h1v1h1v1h-1v1h-1v-1h-1v-1h1zM660 544h1v1h1v1h-1v1h-1v-1h-1v-1h1zM670 544h1v1h1v1h-1v1h-1v-1h-1v-1h1zM680 544h1v1h1v1h-1v1h-1v-1h-1v-1h1zM690 544h1v1h1v1h-1v1h-1v-1h-1v-1h1z" fill="#800000"/>
<polyline points="120.5,545.5 130.5,545.5 140.5,545.5 150.5,545.5 160.5,545.5 170.5,545.5 180.5,539.5 190.5,536.5 200.5,538.5 210.5,545.5 220.5,545.5 230.5,545.5 240.5,545.5 250.5,545.5 260.5,545.5 270.5,545.5 280.5,545.5 290.5,545.5 300.5,545.5 310.5,545.5 320.5,545.5 330.5,545.5 340.5,545.5 350.5,545.5 360.5,545.5 370.5,545.5 380.5,545.5 390.5,545.5 400.5,545.3 410.5,542.7 420.5,539.2 430.5,538.8 440.5,543.5 450.5,543.5 460.5,541.0 470.5,500.5 480.5,512.4 490.5,523.2 500.5,517.3 510.5,536.7 520.5,527.4 530.5,530.3 540.5,540.4 550.5,542.7 560.5,543.5 570.5,539.2 580.5,543.1 590.5,544.8 600.5,543.6 610.5,544.0 620.5,545.5 630.5,545.5 640.5,545.5 650.5,545.5 660.5,545.5 670.5,545.5 680.5,545.5 690.5,545.5" fill="none" stroke="#0030c0" stroke-width="1" /><path d="M120 544h1v1h1v1h-1v1h-1v-1h-1v-1h1zM130 544h1v1h1v1h-1v1h-1v-1h-1v-1h1zM140 544h1v1h1v1h-1v1h-1v-1h-1v-1h1zM150 544h1v1h1v1h-1v1h-1v-1h-1v-1h1zM160 544h1v1h1v1h-1v1h-1v-1h-1v-1h1zM170 544h1v1h1v1h-1v1h-1v-1h-1v-1h1zM180 538h1v1h1v1h-1v1h-1v-1h-1v-1h1zM190 535h1v1h1v1h-1v1h-1v-1h-1v-1h1zM200 537h1v1h1v1h-1v1h-1v-1h-1v-1h1zM210 544h1v1h1v1h-1v1h-1v-1h-1v-1h1zM220 544h1v1h1v1h-1v1h-1v-1h-1v-1h1zM230 544h1v1h1v1h-1v1h-1v-1h-1v-1h1zM240 544h1v1h1v1h-1v1h-1v-1h-1v-1h1zM250 544h1v1h1v1h-1v1h-1v-1h-1v-1h1zM260 544h1v1h1v1h-1v1h-1v-1h-1v-1h1zM270 544h1v1h1v1h-1v1h-1v-1h-1v-1h1zM280 544h1v1h1v1h-1v1h-1v-1h-1v-1h1zM290 544h1v1h1v1h-1v1h-1v-1h-1v-1h1zM300 544h1v1h1v1h-1v1h-1v-1h-1v-1h1zM310 544h1v1h1v1h-1v1h-1v-1h-1v-1h1zM320 544h1v1h1v1h-1v1h-1v-1h-1v-1h1zM330 544h1v1h1v1h-1v1h-1v-1h-1v-1h1zM340 544h1v1h1v1h-1v1h-1v-1h-1v-1h1zM350 544h1v1h1v1h-1v1h-1v-1h-1v-1h1zM360 544h1v1h1v1h-1v1h-1v-1h-1v-1h1zM370 544h1v1h1v1h-1v1h-1v-1h-1v-1h1zM380 544h1v1h1v1h-1v1h-1v-1h-1v-1h1zM390 544h1v1h1v1h-1v1h-1v-1h-1v-1h1zM400 544h1v1h1v1h-1v1h-1v-1h-1v-1h1zM410 541h1v1h1v1h-1v1h-1v-1h-1v-1h1zM420 538h1v1h1v1h-1v1h-1v-1h-1v-1h1zM430 537h1v1h1v1h-1v1h-1v-1h-1v-1h1zM440 542h1v1h1v1h-1v1h-1v-1h-1v-1h1zM450 542h1v1h1v1h-1v1h-1v-1h-1v-1h1zM460 539h1v1h1v1h-1v1h-1v-1h-1v-1h1zM470 499h1v1h1v1h-1v1h-1v-1h-1v-1h1zM480 511h1v1h1v1h-1v1h-1v-1h-1v-1h1zM490 522h1v1h1v1h-1v1h-1v-1h-1v-1h1zM500 516h1v1h1v1h-1v1h-1v-1h-1v-1h1zM510 535h1v1h1v1h-1v1h-1v-1h-1v-1h1zM520 526h1v1h1v1h-1v1h-1v-1h-1v-1h1zM530 529h1v1h1v1h-1v1h-1v-1h-1v-1h1zM540 539h1v1h1v1h-1v1h-1v-1h-1v-1h1zM550 541h1v1h1v1h-1v1h-1v-1h-1v-1h1zM560 542h1v1h1v1h-1v1h-1v-1h-1v-1h1zM570 538h1v1h1v1h-1v1h-1v-1h-1v-1h1zM580 542h1v1h1v1h-1v1h-1v-1h-1v-1h1zM590 543h1v1h1v1h-1v1h-1v-1h-1v-1h1zM600 542h1v1h1v1h-1v1h-1v-1h-1v-1h1zM610 542h1v1h1v1h-1v1h-1v-1h-1v-1h1zM620 544h1v1h1v1h-1v1h-1v-1h-1v-1h1zM630 544h1v1h1v1h-1v1h-1v-1h-1v-1h1zM640 544h1v1h1v1h-1v1h-1v-1h-1v-1h1zM650 544h1v1h1v1h-1v1h-1v-1h-1v-1h1zM660 544h1v1h1v1h-1v1h-1v-1h-1v-1h1zM670 544h1v1h1v1h-1v1h-1v-1h-1v-1h1zM680 544h1v1h1v1h-1v1h-1v-1h-1v-1h1zM690 544h1v1h1v1h-1v1h-1v-1h-1v-1h1z" fill="#0030c0"/>
<polyline points="50.5,269.8 60.5,282.0 70.5,296.3 80.5,307.9 90.5,322.3 100.5,337.9 110.5,347.9 120.5,355.2 130.5,353.5 140.5,348.0 150.5,343.8 160.5,340.4 170.5,331.2 180.5,332.2 190.5,335.4 200.5,341.2 210.5,351.5 220.5,355.5 230.5,358.0 240.5,366.5 250.5,357.5 260.5,355.5 270.5,352.9 280.5,350.5 290.5,339.1 300.5,335.5 310.5,341.5 320.5,345.5 330.5,334.6 340.5,338.5 350.5,340.5 360.5,352.5 370.5,395.5 380.5,425.5 390.5,470.5 400.5,489.5 410.5,500.5 420.5,515.5 430.5,523.0 440.5,535.5 450.5,545.5 460.5,553.0 470.5,560.5 480.5,550.5 485.5,545.5 490.5,515.6 500.5,470.5 510.5,445.5 520.5,428.0 530.5,415.5 540.5,413.0 550.5,416.5 560.5,415.5 570.5,416.2 580.5,411.2 590.5,407.5 600.5,394.3 610.5,376.5 620.5,372.5 630.5,375.5 640.5,375.5 650.5,375.5 660.5,395.5 670.5,420.5 680.5,425.5 690.5,420.5" fill="none" stroke="#e88030" stroke-width="1" /><path d="M50 268h1v1h1v1h-1v1h-1v-1h-1v-1h1zM60 280h1v1h1v1h-1v1h-1v-1h-1v-1h1zM70 295h1v1h1v1h-1v1h-1v-1h-1v-1h1zM80 306h1v1h1v1h-1v1h-1v-1h-1v-1h1zM90 321h1v1h1v1h-1v1h-1v-1h-1v-1h1zM100 336h1v1h1v1h-1v1h-1v-1h-1v-1h1zM110 346h1v1h1v1h-1v1h-1v-1h-1v-1h1zM120 354h1v1h1v1h-1v1h-1v-1h-1v-1h1zM130 352h1v1h1v1h-1v1h-1v-1h-1v-1h1zM140 347h1v1h1v1h-1v1h-1v-1h-1v-1h1zM150 342h1v1h1v1h-1v1h-1v-1h-1v-1h1zM160 339h1v1h1v1h-1v1h-1v-1h-1v-1h1zM170 330h1v1h1v1h-1v1h-1v-1h-1v-1h1zM180 331h1v1h1v1h-1v1h-1v-1h-1v-1h1zM190 334h1v1h1v1h-1v1h-1v-1h-1v-1h1zM200 340h1v1h1v1h-1v1h-1v-1h-1v-1h1zM210 350h1v1h1v1h-1v1h-1v-1h-1v-1h1zM220 354h1v1h1v1h-1v1h-1v-1h-1v-1h1zM230 357h1v1h1v1h-1v1h-1v-1h-1v-1h1zM240 365h1v1h1v1h-1v1h-1v-1h-1v-1h1zM250 356h1v1h1v1h-1v1h-1v-1h-1v-1h1zM260 354h1v1h1v1h-1v1h-1v-1h-1v-1h1zM270 351h1v1h1v1h-1v1h-1v-1h-1v-1h1zM280 349h1v1h1v1h-1v1h-1v-1h-1v-1h1zM290 338h1v1h1v1h-1v1h-1v-1h-1v-1h1zM300 334h1v1h1v1h-1v1h-1v-1h-1v-1h1zM310 340h1v1h1v1h-1v1h-1v-1h-1v-1h1zM320 344h1v1h1v1h-1v1h-1v-1h-1v-1h1zM330 333h1v1h1v1h-1v1h-1v-1h-1v-1h1zM340 337h1v1h1v1h-1v1h-1v-1h-1v-1h1zM350 339h1v1h1v1h-1v1h-1v-1h-1v-1h1zM360 351h1v1h1v1h-1v1h-1v-1h-1v-1h1zM370 394h1v1h1v1h-1v1h-1v-1h-1v-1h1zM380 424h1v1h1v1h-1v1h-1v-1h-1v-1h1zM390 469h1v1h1v1h-1v1h-1v-1h-1v-1h1zM400 488h1v1h1v1h-1v1h-1v-1h-1v-1h1zM410 499h1v1h1v1h-1v1h-1v-1h-1v-1h1zM420 514h1v1h1v1h-1v1h-1v-1h-1v-1h1zM430 522h1v1h1v1h-1v1h-1v-1h-1v-1h1zM440 534h1v1h1v1h-1v1h-1v-1h-1v-1h1zM450 544h1v1h1v1h-1v1h-1v-1h-1v-1h1zM460 552h1v1h1v1h-1v1h-1v-1h-1v-1h1zM470 559h1v1h1v1h-1v1h-1v-1h-1v-1h1zM480 549h1v1h1v1h-1v1h-1v-1h-1v-1h1zM490 514h1v1h1v1h-1v1h-1v-1h-1v-1h1zM500 469h1v1h1v1h-1v1h-1v-1h-1v-1h1zM510 444h1v1h1v1h-1v1h-1v-1h-1v-1h1zM520 427h1v1h1v1h-1v1h-1v-1h-1v-1h1zM530 414h1v1h1v1h-1v1h-1v-1h-1v-1h1zM540 412h1v1h1v1h-1v1h-1v-1h-1v-1h1zM550 415h1v1h1v1h-1v1h-1v-1h-1v-1h1zM560 414h1v1h1v1h-1v1h-1v-1h-1v-1h1zM570 415h1v1h1v1h-1v1h-1v-1h-1v-1h1zM580 410h1v1h1v1h-1v1h-1v-1h-1v-1h1zM590 406h1v1h1v1h-1v1h-1v-1h-1v-1h1zM600 393h1v1h1v1h-1v1h-1v-1h-1v-1h1zM610 375h1v1h1v1h-1v1h-1v-1h-1v-1h1zM620 371h1v1h1v1h-1v1h-1v-1h-1v-1h1zM630 374h1v1h1v1h-1v1h-1v-1h-1v-1h1zM640 374h1v1h1v1h-1v1h-1v-1h-1v-1h1zM650 374h1v1h1v1h-1v1h-1v-1h-1v-1h1zM660 394h1v1h1v1h-1v1h-1v-1h-1v-1h1zM670 419h1v1h1v1h-1v1h-1v-1h-1v-1h1zM680 424h1v1h1v1h-1v1h-1v-1h-1v-1h1zM690 419h1v1h1v1h-1v1h-1v-1h-1v-1h1z" fill="#e88030"/>
<polyline points="50.5,270.9 60.5,282.1 70.5,294.4 80.5,306.8 90.5,321.1 100.5,335.8 110.5,345.0 120.5,352.2 130.5,349.0 140.5,347.1 150.5,339.8 160.5,335.2 170.5,328.6 180.5,330.5 190.5,333.4 200.5,338.1 210.5,345.5 220.5,352.5 230.5,360.5 240.5,370.5 250.5,378.5 260.5,385.5 270.5,395.5 280.5,416.5 290.5,406.0 300.5,408.5 310.5,413.5 320.5,423.5 330.5,437.5 340.5,460.0 350.5,464.5 360.5,454.5 370.5,428.0 380.5,408.0 390.5,395.5 400.5,384.5 410.5,369.5 420.5,352.5 430.5,330.5 440.5,296.5 450.5,290.5 460.5,296.5 470.5,310.5 480.5,326.5 490.5,345.5 500.5,364.5 510.5,376.5 520.5,389.5 530.5,394.5 540.5,403.0 550.5,404.5 560.5,398.0 570.5,385.5 580.5,363.0 590.5,348.0 600.5,338.0 610.5,330.5 620.5,318.0 630.5,305.5 640.5,286.5 650.5,268.0 660.5,253.0 670.5,239.5 680.5,229.5 690.5,220.5" fill="none" stroke="#80c870" stroke-width="1" /><path d="M50 269h1v1h1v1h-1v1h-1v-1h-1v-1h1zM60 281h1v1h1v1h-1v1h-1v-1h-1v-1h1zM70 293h1v1h1v1h-1v1h-1v-1h-1v-1h1zM80 305h1v1h1v1h-1v1h-1v-1h-1v-1h1zM90 320h1v1h1v1h-1v1h-1v-1h-1v-1h1zM100 334h1v1h1v1h-1v1h-1v-1h-1v-1h1zM110 344h1v1h1v1h-1v1h-1v-1h-1v-1h1zM120 351h1v1h1v1h-1v1h-1v-1h-1v-1h1zM130 348h1v1h1v1h-1v1h-1v-1h-1v-1h1zM140 346h1v1h1v1h-1v1h-1v-1h-1v-1h1zM150 338h1v1h1v1h-1v1h-1v-1h-1v-1h1zM160 334h1v1h1v1h-1v1h-1v-1h-1v-1h1zM170 327h1v1h1v1h-1v1h-1v-1h-1v-1h1zM180 329h1v1h1v1h-1v1h-1v-1h-1v-1h1zM190 332h1v1h1v1h-1v1h-1v-1h-1v-1h1zM200 337h1v1h1v1h-1v1h-1v-1h-1v-1h1zM210 344h1v1h1v1h-1v1h-1v-1h-1v-1h1zM220 351h1v1h1v1h-1v1h-1v-1h-1v-1h1zM230 359h1v1h1v1h-1v1h-1v-1h-1v-1h1zM240 369h1v1h1v1h-1v1h-1v-1h-1v-1h1zM250 377h1v1h1v1h-1v1h-1v-1h-1v-1h1zM260 384h1v1h1v1h-1v1h-1v-1h-1v-1h1zM270 394h1v1h1v1h-1v1h-1v-1h-1v-1h1zM280 415h1v1h1v1h-1v1h-1v-1h-1v-1h1zM290 405h1v1h1v1h-1v1h-1v-1h-1v-1h1zM300 407h1v1h1v1h-1v1h-1v-1h-1v-1h1zM310 412h1v1h1v1h-1v1h-1v-1h-1v-1h1zM320 422h1v1h1v1h-1v1h-1v-1h-1v-1h1zM330 436h1v1h1v1h-1v1h-1v-1h-1v-1h1zM340 459h1v1h1v1h-1v1h-1v-1h-1v-1h1zM350 463h1v1h1v1h-1v1h-1v-1h-1v-1h1zM360 453h1v1h1v1h-1v1h-1v-1h-1v-1h1zM370 427h1v1h1v1h-1v1h-1v-1h-1v-1h1zM380 407h1v1h1v1h-1v1h-1v-1h-1v-1h1zM390 394h1v1h1v1h-1v1h-1v-1h-1v-1h1zM400 383h1v1h1v1h-1v1h-1v-1h-1v-1h1zM410 368h1v1h1v1h-1v1h-1v-1h-1v-1h1zM420 351h1v1h1v1h-1v1h-1v-1h-1v-1h1zM430 329h1v1h1v1h-1v1h-1v-1h-1v-1h1zM440 295h1v1h1v1h-1v1h-1v-1h-1v-1h1zM450 289h1v1h1v1h-1v1h-1v-1h-1v-1h1zM460 295h1v1h1v1h-1v1h-1v-1h-1v-1h1zM470 309h1v1h1v1h-1v1h-1v-1h-1v-1h1zM480 325h1v1h1v1h-1v1h-1v-1h-1v-1h1zM490 344h1v1h1v1h-1v1h-1v-1h-1v-1h1zM500 363h1v1h1v1h-1v1h-1v-1h-1v-1h1zM510 375h1v1h1v1h-1v1h-1v-1h-1v-1h1zM520 388h1v1h1v1h-1v1h-1v-1h-1v-1h1zM530 393h1v1h1v1h-1v1h-1v-1h-1v-1h1zM540 402h1v1h1v1h-1v1h-1v-1h-1v-1h1zM550 403h1v1h1v1h-1v1h-1v-1h-1v-1h1zM560 397h1v1h1v1h-1v1h-1v-1h-1v-1h1zM570 384h1v1h1v1h-1v1h-1v-1h-1v-1h1zM580 362h1v1h1v1h-1v1h-1v-1h-1v-1h1zM590 347h1v1h1v1h-1v1h-1v-1h-1v-1h1zM600 337h1v1h1v1h-1v1h-1v-1h-1v-1h1zM610 329h1v1h1v1h-1v1h-1v-1h-1v-1h1zM620 317h1v1h1v1h-1v1h-1v-1h-1v-1h1zM630 304h1v1h1v1h-1v1h-1v-1h-1v-1h1zM640 285h1v1h1v1h-1v1h-1v-1h-1v-1h1zM650 267h1v1h1v1h-1v1h-1v-1h-1v-1h1zM660 252h1v1h1v1h-1v1h-1v-1h-1v-1h1zM670 238h1v1h1v1h-1v1h-1v-1h-1v-1h1zM680 228h1v1h1v1h-1v1h-1v-1h-1v-1h1zM690 219h1v1h1v1h-1v1h-1v-1h-1v-1h1z" fill="#80c870"/>
<polyline points="50.5,268.0 60.5,279.4 70.5,291.4 80.5,302.3 90.5,317.3 100.5,329.4 110.5,338.2 120.5,345.3 130.5,341.3 140.5,336.8 150.5,330.0 160.5,325.6 170.5,316.9 180.5,318.9 190.5,326.9 200.5,334.7 210.5,322.5 220.5,331.0 230.5,342.5 240.5,351.5 250.5,357.5 260.5,365.1 270.5,371.5 280.5,367.5 290.5,360.5 300.5,361.5 310.5,365.1 320.5,360.5 330.5,345.5 340.5,320.5 350.5,300.5 360.5,285.5 370.5,275.5 380.5,275.5 390.5,297.0 400.5,339.1 410.5,374.0 420.5,405.5 430.5,450.5 440.5,500.5 450.5,545.5 460.5,556.8 470.5,568.0 480.5,579.2 490.5,590.5 500.5,588.0 510.5,585.5 520.5,583.0 530.5,580.5 540.5,563.0 550.5,545.5 560.5,470.5 570.5,428.5 580.5,415.5 590.5,398.5 600.5,373.0 610.5,345.5 620.5,320.5 630.5,293.0 640.5,276.5 650.5,265.5 660.5,260.5 670.5,259.5 680.5,259.5 690.5,256.5" fill="none" stroke="#f0c000" stroke-width="1" /><path d="M50 266h1v1h1v1h-1v1h-1v-1h-1v-1h1zM60 278h1v1h1v1h-1v1h-1v-1h-1v-1h1zM70 290h1v1h1v1h-1v1h-1v-1h-1v-1h1zM80 301h1v1h1v1h-1v1h-1v-1h-1v-1h1zM90 316h1v1h1v1h-1v1h-1v-1h-1v-1h1zM100 328h1v1h1v1h-1v1h-1v-1h-1v-1h1zM110 337h1v1h1v1h-1v1h-1v-1h-1v-1h1zM120 344h1v1h1v1h-1v1h-1v-1h-1v-1h1zM130 340h1v1h1v1h-1v1h-1v-1h-1v-1h1zM140 335h1v1h1v1h-1v1h-1v-1h-1v-1h1zM150 328h1v1h1v1h-1v1h-1v-1h-1v-1h1zM160 324h1v1h1v1h-1v1h-1v-1h-1v-1h1zM170 315h1v1h1v1h-1v1h-1v-1h-1v-1h1zM180 317h1v1h1v1h-1v1h-1v-1h-1v-1h1zM190 325h1v1h1v1h-1v1h-1v-1h-1v-1h1zM200 333h1v1h1v1h-1v1h-1v-1h-1v-1h1zM210 321h1v1h1v1h-1v1h-1v-1h-1v-1h1zM220 330h1v1h1v1h-1v1h-1v-1h-1v-1h1zM230 341h1v1h1v1h-1v1h-1v-1h-1v-1h1zM240 350h1v1h1v1h-1v1h-1v-1h-1v-1h1zM250 356h1v1h1v1h-1v1h-1v-1h-1v-1h1zM260 364h1v1h1v1h-1v1h-1v-1h-1v-1h1zM270 370h1v1h1v1h-1v1h-1v-1h-1v-1h1zM280 366h1v1h1v1h-1v1h-1v-1h-1v-1h1zM290 359h1v1h1v1h-1v1h-1v-1h-1v-1h1zM300 360h1v1h1v1h-1v1h-1v-1h-1v-1h1zM310 364h1v1h1v1h-1v1h-1v-1h-1v-1h1zM320 359h1v1h1v1h-1v1h-1v-1h-1v-1h1zM330 344h1v1h1v1h-1v1h-1v-1h-1v-1h1zM340 319h1v1h1v1h-1v1h-1v-1h-1v-1h1zM350 299h1v1h1v1h-1v1h-1v-1h-1v-1h1zM360 284h1v1h1v1h-1v1h-1v-1h-1v-1h1zM370 274h1v1h1v1h-1v1h-1v-1h-1v-1h1zM380 274h1v1h1v1h-1v1h-1v-1h-1v-1h1zM390 296h1v1h1v1h-1v1h-1v-1h-1v-1h1zM400 338h1v1h1v1h-1v1h-1v-1h-1v-1h1zM410 373h1v1h1v1h-1v1h-1v-1h-1v-1h1zM420 404h1v1h1v1h-1v1h-1v-1h-1v-1h1zM430 449h1v1h1v1h-1v1h-1v-1h-1v-1h1zM440 499h1v1h1v1h-1v1h-1v-1h-1v-1h1zM450 544h1v1h1v1h-1v1h-1v-1h-1v-1h1zM460 555h1v1h1v1h-1v1h-1v-1h-1v-1h1zM470 567h1v1h1v1h-1v1h-1v-1h-1v-1h1zM480 578h1v1h1v1h-1v1h-1v-1h-1v-1h1zM490 589h1v1h1v1h-1v1h-1v-1h-1v-1h1zM500 587h1v1h1v1h-1v1h-1v-1h-1v-1h1zM510 584h1v1h1v1h-1v1h-1v-1h-1v-1h1zM520 582h1v1h1v1h-1v1h-1v-1h-1v-1h1zM530 579h1v1h1v1h-1v1h-1v-1h-1v-1h1zM540 562h1v1h1v1h-1v1h-1v-1h-1v-1h1zM550 544h1v1h1v1h-1v1h-1v-1h-1v-1h1zM560 469h1v1h1v1h-1v1h-1v-1h-1v-1h1zM570 427h1v1h1v1h-1v1h-1v-1h-1v-1h1zM580 414h1v1h1v1h-1v1h-1v-1h-1v-1h1zM590 397h1v1h1v1h-1v1h-1v-1h-1v-1h1zM600 372h1v1h1v1h-1v1h-1v-1h-1v-1h1zM610 344h1v1h1v1h-1v1h-1v-1h-1v-1h1zM620 319h1v1h1v1h-1v1h-1v-1h-1v-1h1zM630 292h1v1h1v1h-1v1h-1v-1h-1v-1h1zM640 275h1v1h1v1h-1v1h-1v-1h-1v-1h1zM650 264h1v1h1v1h-1v1h-1v-1h-1v-1h1zM660 259h1v1h1v1h-1v1h-1v-1h-1v-1h1zM670 258h1v1h1v1h-1v1h-1v-1h-1v-1h1zM680 258h1v1h1v1h-1v1h-1v-1h-1v-1h1zM690 255h1v1h1v1h-1v1h-1v-1h-1v-1h1z" fill="#f0c000"/>
<polyline points="50.5,264.2 60.5,275.5 70.5,284.9 80.5,294.6 90.5,306.4 100.5,317.1 110.5,322.3 120.5,327.2 130.5,322.7 140.5,319.4 150.5,313.2 160.5,307.4 170.5,297.5 180.5,301.5 190.5,303.8 200.5,306.8 210.5,318.0 220.5,312.5 230.5,309.0 240.5,305.5 250.5,295.5 260.5,280.5 270.5,265.5 280.5,250.5 290.5,237.5 300.5,229.5 310.5,230.5 320.5,236.0 330.5,239.5 340.5,246.5 350.5,248.0 360.5,255.5 370.5,270.5 380.5,298.5 390.5,313.2 400.5,330.2 410.5,337.5 420.5,330.5 430.5,300.5 440.5,275.5 450.5,268.0 460.5,302.5 470.5,325.5 480.5,344.5 490.5,344.5 500.5,312.5 510.5,289.5 520.5,284.5 530.5,283.5 540.5,305.5 550.5,330.5 560.5,363.0 570.5,398.0 580.5,425.5 590.5,440.5 600.5,448.0 610.5,441.5 620.5,435.5 630.5,428.0 640.5,419.5 650.5,413.0 660.5,405.5 670.5,390.5 680.5,391.5 690.5,397.5" fill="none" stroke="#9048b0" stroke-width="1" /><path d="M50 263h1v1h1v1h-1v1h-1v-1h-1v-1h1zM60 274h1v1h1v1h-1v1h-1v-1h-1v-1h1zM70 283h1v1h1v1h-1v1h-1v-1h-1v-1h1zM80 293h1v1h1v1h-1v1h-1v-1h-1v-1h1zM90 305h1v1h1v1h-1v1h-1v-1h-1v-1h1zM100 316h1v1h1v1h-1v1h-1v-1h-1v-1h1zM110 321h1v1h1v1h-1v1h-1v-1h-1v-1h1zM120 326h1v1h1v1h-1v1h-1v-1h-1v-1h1zM130 321h1v1h1v1h-1v1h-1v-1h-1v-1h1zM140 318h1v1h1v1h-1v1h-1v-1h-1v-1h1zM150 312h1v1h1v1h-1v1h-1v-1h-1v-1h1zM160 306h1v1h1v1h-1v1h-1v-1h-1v-1h1zM170 296h1v1h1v1h-1v1h-1v-1h-1v-1h1zM180 300h1v1h1v1h-1v1h-1v-1h-1v-1h1zM190 302h1v1h1v1h-1v1h-1v-1h-1v-1h1zM200 305h1v1h1v1h-1v1h-1v-1h-1v-1h1zM210 317h1v1h1v1h-1v1h-1v-1h-1v-1h1zM220 311h1v1h1v1h-1v1h-1v-1h-1v-1h1zM230 308h1v1h1v1h-1v1h-1v-1h-1v-1h1zM240 304h1v1h1v1h-1v1h-1v-1h-1v-1h1zM250 294h1v1h1v1h-1v1h-1v-1h-1v-1h1zM260 279h1v1h1v1h-1v1h-1v-1h-1v-1h1zM270 264h1v1h1v1h-1v1h-1v-1h-1v-1h1zM280 249h1v1h1v1h-1v1h-1v-1h-1v-1h1zM290 236h1v1h1v1h-1v1h-1v-1h-1v-1h1zM300 228h1v1h1v1h-1v1h-1v-1h-1v-1h1zM310 229h1v1h1v1h-1v1h-1v-1h-1v-1h1zM320 235h1v1h1v1h-1v1h-1v-1h-1v-1h1zM330 238h1v1h1v1h-1v1h-1v-1h-1v-1h1zM340 245h1v1h1v1h-1v1h-1v-1h-1v-1h1zM350 247h1v1h1v1h-1v1h-1v-1h-1v-1h1zM360 254h1v1h1v1h-1v1h-1v-1h-1v-1h1zM370 269h1v1h1v1h-1v1h-1v-1h-1v-1h1zM380 297h1v1h1v1h-1v1h-1v-1h-1v-1h1zM390 312h1v1h1v1h-1v1h-1v-1h-1v-1h1zM400 329h1v1h1v1h-1v1h-1v-1h-1v-1h1zM410 336h1v1h1v1h-1v1h-1v-1h-1v-1h1zM420 329h1v1h1v1h-1v1h-1v-1h-1v-1h1zM430 299h1v1h1v1h-1v1h-1v-1h-1v-1h1zM440 274h1v1h1v1h-1v1h-1v-1h-1v-1h1zM450 267h1v1h1v1h-1v1h-1v-1h-1v-1h1zM460 301h1v1h1v1h-1v1h-1v-1h-1v-1h1zM470 324h1v1h1v1h-1v1h-1v-1h-1v-1h1zM480 343h1v1h1v1h-1v1h-1v-1h-1v-1h1zM490 343h1v1h1v1h-1v1h-1v-1h-1v-1h1zM500 311h1v1h1v1h-1v1h-1v-1h-1v-1h1zM510 288h1v1h1v1h-1v1h-1v-1h-1v-1h1zM520 283h1v1h1v1h-1v1h-1v-1h-1v-1h1zM530 282h1v1h1v1h-1v1h-1v-1h-1v-1h1zM540 304h1v1h1v1h-1v1h-1v-1h-1v-1h1zM550 329h1v1h1v1h-1v1h-1v-1h-1v-1h1zM560 362h1v1h1v1h-1v1h-1v-1h-1v-1h1zM570 397h1v1h1v1h-1v1h-1v-1h-1v-1h1zM580 424h1v1h1v1h-1v1h-1v-1h-1v-1h1zM590 439h1v1h1v1h-1v1h-1v-1h-1v-1h1zM600 447h1v1h1v1h-1v1h-1v-1h-1v-1h1zM610 440h1v1h1v1h-1v1h-1v-1h-1v-1h1zM620 434h1v1h1v1h-1v1h-1v-1h-1v-1h1zM630 427h1v1h1v1h-1v1h-1v-1h-1v-1h1zM640 418h1v1h1v1h-1v1h-1v-1h-1v-1h1zM650 412h1v1h1v1h-1v1h-1v-1h-1v-1h1zM660 404h1v1h1v1h-1v1h-1v-1h-1v-1h1zM670 389h1v1h1v1h-1v1h-1v-1h-1v-1h1zM680 390h1v1h1v1h-1v1h-1v-1h-1v-1h1zM690 396h1v1h1v1h-1v1h-1v-1h-1v-1h1z" fill="#9048b0"/>
<polyline points="50.5,270.0 60.5,281.8 70.5,293.4 80.5,305.8 90.5,320.6 100.5,334.0 110.5,344.9 120.5,352.2 130.5,349.0 140.5,346.7 150.5,339.5 160.5,334.4 170.5,323.2 180.5,325.6 190.5,328.6 200.5,332.5 210.5,330.0 220.5,340.5 230.5,354.3 240.5,369.1 250.5,370.5 260.5,388.5 270.5,393.5 280.5,376.5 290.5,364.5 300.5,365.0 310.5,383.5 320.5,384.5 330.5,387.5 340.5,382.1 350.5,395.5 360.5,420.5 370.5,443.0 380.5,463.0 390.5,480.5 400.5,463.0 410.5,435.5 420.5,419.5 430.5,405.5 440.5,385.5 450.5,366.5 460.5,351.5 470.5,315.5 480.5,296.5 490.5,281.5 500.5,291.5 510.5,315.5 520.5,327.5 530.5,326.5 540.5,338.0 550.5,350.0 560.5,346.5 570.5,325.5 580.5,311.5 590.5,308.0 600.5,326.5 610.5,340.5 620.5,358.5 630.5,372.5 640.5,380.5 650.5,378.5 660.5,385.5 670.5,400.5 680.5,415.5 690.5,425.5" fill="none" stroke="#b04808" stroke-width="1" /><path d="M50 268h1v1h1v1h-1v1h-1v-1h-1v-1h1zM60 280h1v1h1v1h-1v1h-1v-1h-1v-1h1zM70 292h1v1h1v1h-1v1h-1v-1h-1v-1h1zM80 304h1v1h1v1h-1v1h-1v-1h-1v-1h1zM90 319h1v1h1v1h-1v1h-1v-1h-1v-1h1zM100 333h1v1h1v1h-1v1h-1v-1h-1v-1h1zM110 343h1v1h1v1h-1v1h-1v-1h-1v-1h1zM120 351h1v1h1v1h-1v1h-1v-1h-1v-1h1zM130 347h1v1h1v1h-1v1h-1v-1h-1v-1h1zM140 345h1v1h1v1h-1v1h-1v-1h-1v-1h1zM150 338h1v1h1v1h-1v1h-1v-1h-1v-1h1zM160 333h1v1h1v1h-1v1h-1v-1h-1v-1h1zM170 322h1v1h1v1h-1v1h-1v-1h-1v-1h1zM180 324h1v1h1v1h-1v1h-1v-1h-1v-1h1zM190 327h1v1h1v1h-1v1h-1v-1h-1v-1h1zM200 331h1v1h1v1h-1v1h-1v-1h-1v-1h1zM210 328h1v1h1v1h-1v1h-1v-1h-1v-1h1zM220 339h1v1h1v1h-1v1h-1v-1h-1v-1h1zM230 353h1v1h1v1h-1v1h-1v-1h-1v-1h1zM240 368h1v1h1v1h-1v1h-1v-1h-1v-1h1zM250 369h1v1h1v1h-1v1h-1v-1h-1v-1h1zM260 387h1v1h1v1h-1v1h-1v-1h-1v-1h1zM270 392h1v1h1v1h-1v1h-1v-1h-1v-1h1zM280 375h1v1h1v1h-1v1h-1v-1h-1v-1h1zM290 363h1v1h1v1h-1v1h-1v-1h-1v-1h1zM300 364h1v1h1v1h-1v1h-1v-1h-1v-1h1zM310 382h1v1h1v1h-1v1h-1v-1h-1v-1h1zM320 383h1v1h1v1h-1v1h-1v-1h-1v-1h1zM330 386h1v1h1v1h-1v1h-1v-1h-1v-1h1zM340 381h1v1h1v1h-1v1h-1v-1h-1v-1h1zM350 394h1v1h1v1h-1v1h-1v-1h-1v-1h1zM360 419h1v1h1v1h-1v1h-1v-1h-1v-1h1zM370 442h1v1h1v1h-1v1h-1v-1h-1v-1h1zM380 462h1v1h1v1h-1v1h-1v-1h-1v-1h1zM390 479h1v1h1v1h-1v1h-1v-1h-1v-1h1zM400 462h1v1h1v1h-1v1h-1v-1h-1v-1h1zM410 434h1v1h1v1h-1v1h-1v-1h-1v-1h1zM420 418h1v1h1v1h-1v1h-1v-1h-1v-1h1zM430 404h1v1h1v1h-1v1h-1v-1h-1v-1h1zM440 384h1v1h1v1h-1v1h-1v-1h-1v-1h1zM450 365h1v1h1v1h-1v1h-1v-1h-1v-1h1zM460 350h1v1h1v1h-1v1h-1v-1h-1v-1h1zM470 314h1v1h1v1h-1v1h-1v-1h-1v-1h1zM480 295h1v1h1v1h-1v1h-1v-1h-1v-1h1zM490 280h1v1h1v1h-1v1h-1v-1h-1v-1h1zM500 290h1v1h1v1h-1v1h-1v-1h-1v-1h1zM510 314h1v1h1v1h-1v1h-1v-1h-1v-1h1zM520 326h1v1h1v1h-1v1h-1v-1h-1v-1h1zM530 325h1v1h1v1h-1v1h-1v-1h-1v-1h1zM540 337h1v1h1v1h-1v1h-1v-1h-1v-1h1zM550 349h1v1h1v1h-1v1h-1v-1h-1v-1h1zM560 345h1v1h1v1h-1v1h-1v-1h-1v-1h1zM570 324h1v1h1v1h-1v1h-1v-1h-1v-1h1zM580 310h1v1h1v1h-1v1h-1v-1h-1v-1h1zM590 307h1v1h1v1h-1v1h-1v-1h-1v-1h1zM600 325h1v1h1v1h-1v1h-1v-1h-1v-1h1zM610 339h1v1h1v1h-1v1h-1v-1h-1v-1h1zM620 357h1v1h1v1h-1v1h-1v-1h-1v-1h1zM630 371h1v1h1v1h-1v1h-1v-1h-1v-1h1zM640 379h1v1h1v1h-1v1h-1v-1h-1v-1h1zM650 377h1v1h1v1h-1v1h-1v-1h-1v-1h1zM660 384h1v1h1v1h-1v1h-1v-1h-1v-1h1zM670 399h1v1h1v1h-1v1h-1v-1h-1v-1h1zM680 414h1v1h1v1h-1v1h-1v-1h-1v-1h1zM690 424h1v1h1v1h-1v1h-1v-1h-1v-1h1z" fill="#b04808"/>
<polyline points="50.5,264.2 60.5,273.1 70.5,282.7 80.5,292.0 90.5,302.8 100.5,312.4 110.5,316.5 120.5,321.2 130.5,316.1 140.5,313.4 150.5,307.3 160.5,304.1 170.5,291.4 180.5,294.1 190.5,298.8 200.5,307.6 210.5,307.8 220.5,305.5 230.5,300.5 240.5,290.5 250.5,280.5 260.5,268.5 270.5,255.5 280.5,240.5 290.5,229.5 300.5,230.5 310.5,265.5 320.5,290.5 330.5,310.5 340.5,320.5 350.5,325.5 360.5,312.5 370.5,300.5 380.5,295.5 390.5,290.5 400.5,281.5 410.5,270.5 420.5,262.5 430.5,266.5 440.5,293.0 450.5,305.5 460.5,326.5 470.5,348.0 480.5,356.5 490.5,348.0 500.5,340.5 510.5,341.5 520.5,359.5 530.5,366.5 540.5,380.5 550.5,423.0 560.5,451.5 570.5,488.0 580.5,500.5 590.5,475.5 600.5,390.5 610.5,363.0 620.5,360.5 630.5,366.5 640.5,360.5 650.5,323.0 660.5,316.5 670.5,333.0 680.5,360.5 690.5,378.0" fill="none" stroke="#508008" stroke-width="1" /><path d="M50 263h1v1h1v1h-1v1h-1v-1h-1v-1h1zM60 272h1v1h1v1h-1v1h-1v-1h-1v-1h1zM70 281h1v1h1v1h-1v1h-1v-1h-1v-1h1zM80 291h1v1h1v1h-1v1h-1v-1h-1v-1h1zM90 301h1v1h1v1h-1v1h-1v-1h-1v-1h1zM100 311h1v1h1v1h-1v1h-1v-1h-1v-1h1zM110 315h1v1h1v1h-1v1h-1v-1h-1v-1h1zM120 320h1v1h1v1h-1v1h-1v-1h-1v-1h1zM130 315h1v1h1v1h-1v1h-1v-1h-1v-1h1zM140 312h1v1h1v1h-1v1h-1v-1h-1v-1h1zM150 306h1v1h1v1h-1v1h-1v-1h-1v-1h1zM160 303h1v1h1v1h-1v1h-1v-1h-1v-1h1zM170 290h1v1h1v1h-1v1h-1v-1h-1v-1h1zM180 293h1v1h1v1h-1v1h-1v-1h-1v-1h1zM190 297h1v1h1v1h-1v1h-1v-1h-1v-1h1zM200 306h1v1h1v1h-1v1h-1v-1h-1v-1h1zM210 306h1v1h1v1h-1v1h-1v-1h-1v-1h1zM220 304h1v1h1v1h-1v1h-1v-1h-1v-1h1zM230 299h1v1h1v1h-1v1h-1v-1h-1v-1h1zM240 289h1v1h1v1h-1v1h-1v-1h-1v-1h1zM250 279h1v1h1v1h-1v1h-1v-1h-1v-1h1zM260 267h1v1h1v1h-1v1h-1v-1h-1v-1h1zM270 254h1v1h1v1h-1v1h-1v-1h-1v-1h1zM280 239h1v1h1v1h-1v1h-1v-1h-1v-1h1zM290 228h1v1h1v1h-1v1h-1v-1h-1v-1h1zM300 229h1v1h1v1h-1v1h-1v-1h-1v-1h1zM310 264h1v1h1v1h-1v1h-1v-1h-1v-1h1zM320 289h1v1h1v1h-1v1h-1v-1h-1v-1h1zM330 309h1v1h1v1h-1v1h-1v-1h-1v-1h1zM340 319h1v1h1v1h-1v1h-1v-1h-1v-1h1zM350 324h1v1h1v1h-1v1h-1v-1h-1v-1h1zM360 311h1v1h1v1h-1v1h-1v-1h-1v-1h1zM370 299h1v1h1v1h-1v1h-1v-1h-1v-1h1zM380 294h1v1h1v1h-1v1h-1v-1h-1v-1h1zM390 289h1v1h1v1h-1v1h-1v-1h-1v-1h1zM400 280h1v1h1v1h-1v1h-1v-1h-1v-1h1zM410 269h1v1h1v1h-1v1h-1v-1h-1v-1h1zM420 261h1v1h1v1h-1v1h-1v-1h-1v-1h1zM430 265h1v1h1v1h-1v1h-1v-1h-1v-1h1zM440 292h1v1h1v1h-1v1h-1v-1h-1v-1h1zM450 304h1v1h1v1h-1v1h-1v-1h-1v-1h1zM460 325h1v1h1v1h-1v1h-1v-1h-1v-1h1zM470 347h1v1h1v1h-1v1h-1v-1h-1v-1h1zM480 355h1v1h1v1h-1v1h-1v-1h-1v-1h1zM490 347h1v1h1v1h-1v1h-1v-1h-1v-1h1zM500 339h1v1h1v1h-1v1h-1v-1h-1v-1h1zM510 340h1v1h1v1h-1v1h-1v-1h-1v-1h1zM520 358h1v1h1v1h-1v1h-1v-1h-1v-1h1zM530 365h1v1h1v1h-1v1h-1v-1h-1v-1h1zM540 379h1v1h1v1h-1v1h-1v-1h-1v-1h1zM550 422h1v1h1v1h-1v1h-1v-1h-1v-1h1zM560 450h1v1h1v1h-1v1h-1v-1h-1v-1h1zM570 487h1v1h1v1h-1v1h-1v-1h-1v-1h1zM580 499h1v1h1v1h-1v1h-1v-1h-1v-1h1zM590 474h1v1h1v1h-1v1h-1v-1h-1v-1h1zM600 389h1v1h1v1h-1v1h-1v-1h-1v-1h1zM610 362h1v1h1v1h-1v1h-1v-1h-1v-1h1zM620 359h1v1h1v1h-1v1h-1v-1h-1v-1h1zM630 365h1v1h1v1h-1v1h-1v-1h-1v-1h1zM640 359h1v1h1v1h-1v1h-1v-1h-1v-1h1zM650 322h1v1h1v1h-1v1h-1v-1h-1v-1h1zM660 315h1v1h1v1h-1v1h-1v-1h-1v-1h1zM670 332h1v1h1v1h-1v1h-1v-1h-1v-1h1zM680 359h1v1h1v1h-1v1h-1v-1h-1v-1h1zM690 377h1v1h1v1h-1v1h-1v-1h-1v-1h1z" fill="#508008"/>
<polyline points="50.5,270.3 60.5,282.6 70.5,296.5 80.5,307.9 90.5,322.8 100.5,337.8 110.5,345.5 120.5,348.0 130.5,348.0 140.5,346.5 150.5,335.5 160.5,329.5 170.5,326.5 180.5,330.5 190.5,346.0 200.5,351.0 210.5,352.5 220.5,341.5 230.5,335.5 240.5,328.5 250.5,320.5 260.5,312.5 270.5,305.5 280.5,293.5 290.5,265.5 300.5,235.5 310.5,214.5 320.5,198.5 330.5,198.5 340.5,205.5 350.5,198.0 360.5,190.5 370.5,182.5 380.5,182.5 390.5,190.5 400.5,212.5 410.5,235.5 420.5,267.5 430.5,290.5 440.5,310.5 450.5,319.5 460.5,330.5 470.5,344.5 480.5,344.5 490.5,334.5 500.5,316.5 510.5,295.5 520.5,275.0 530.5,251.5 540.5,236.5 550.5,225.0 560.5,214.5 570.5,201.0 580.5,193.0 590.5,183.0 600.5,180.5 610.5,175.5 620.5,171.5 630.5,164.5 640.5,170.0 650.5,173.5 660.5,187.5 670.5,200.0 680.5,211.0 690.5,220.5" fill="none" stroke="#0080ff" stroke-width="1" /><path d="M50 269h1v1h1v1h-1v1h-1v-1h-1v-1h1zM60 281h1v1h1v1h-1v1h-1v-1h-1v-1h1zM70 295h1v1h1v1h-1v1h-1v-1h-1v-1h1zM80 306h1v1h1v1h-1v1h-1v-1h-1v-1h1zM90 321h1v1h1v1h-1v1h-1v-1h-1v-1h1zM100 336h1v1h1v1h-1v1h-1v-1h-1v-1h1zM110 344h1v1h1v1h-1v1h-1v-1h-1v-1h1zM120 347h1v1h1v1h-1v1h-1v-1h-1v-1h1zM130 347h1v1h1v1h-1v1h-1v-1h-1v-1h1zM140 345h1v1h1v1h-1v1h-1v-1h-1v-1h1zM150 334h1v1h1v1h-1v1h-1v-1h-1v-1h1zM160 328h1v1h1v1h-1v1h-1v-1h-1v-1h1zM170 325h1v1h1v1h-1v1h-1v-1h-1v-1h1zM180 329h1v1h1v1h-1v1h-1v-1h-1v-1h1zM190 345h1v1h1v1h-1v1h-1v-1h-1v-1h1zM200 350h1v1h1v1h-1v1h-1v-1h-1v-1h1zM210 351h1v1h1v1h-1v1h-1v-1h-1v-1h1zM220 340h1v1h1v1h-1v1h-1v-1h-1v-1h1zM230 334h1v1h1v1h-1v1h-1v-1h-1v-1h1zM240 327h1v1h1v1h-1v1h-1v-1h-1v-1h1zM250 319h1v1h1v1h-1v1h-1v-1h-1v-1h1zM260 311h1v1h1v1h-1v1h-1v-1h-1v-1h1zM270 304h1v1h1v1h-1v1h-1v-1h-1v-1h1zM280 292h1v1h1v1h-1v1h-1v-1h-1v-1h1zM290 264h1v1h1v1h-1v1h-1v-1h-1v-1h1zM300 234h1v1h1v1h-1v1h-1v-1h-1v-1h1zM310 213h1v1h1v1h-1v1h-1v-1h-1v-1h1zM320 197h1v1h1v1h-1v1h-1v-1h-1v-1h1zM330 197h1v1h1v1h-1v1h-1v-1h-1v-1h1zM340 204h1v1h1v1h-1v1h-1v-1h-1v-1h1zM350 197h1v1h1v1h-1v1h-1v-1h-1v-1h1zM360 189h1v1h1v1h-1v1h-1v-1h-1v-1h1zM370 181h1v1h1v1h-1v1h-1v-1h-1v-1h1zM380 181h1v1h1v1h-1v1h-1v-1h-1v-1h1zM390 189h1v1h1v1h-1v1h-1v-1h-1v-1h1zM400 211h1v1h1v1h-1v1h-1v-1h-1v-1h1zM410 234h1v1h1v1h-1v1h-1v-1h-1v-1h1zM420 266h1v1h1v1h-1v1h-1v-1h-1v-1h1zM430 289h1v1h1v1h-1v1h-1v-1h-1v-1h1zM440 309h1v1h1v1h-1v1h-1v-1h-1v-1h1zM450 318h1v1h1v1h-1v1h-1v-1h-1v-1h1zM460 329h1v1h1v1h-1v1h-1v-1h-1v-1h1zM470 343h1v1h1v1h-1v1h-1v-1h-1v-1h1zM480 343h1v1h1v1h-1v1h-1v-1h-1v-1h1zM490 333h1v1h1v1h-1v1h-1v-1h-1v-1h1zM500 315h1v1h1v1h-1v1h-1v-1h-1v-1h1zM510 294h1v1h1v1h-1v1h-1v-1h-1v-1h1zM520 274h1v1h1v1h-1v1h-1v-1h-1v-1h1zM530 250h1v1h1v1h-1v1h-1v-1h-1v-1h1zM540 235h1v1h1v1h-1v1h-1v-1h-1v-1h1zM550 224h1v1h1v1h-1v1h-1v-1h-1v-1h1zM560 213h1v1h1v1h-1v1h-1v-1h-1v-1h1zM570 200h1v1h1v1h-1v1h-1v-1h-1v-1h1zM580 192h1v1h1v1h-1v1h-1v-1h-1v-1h1zM590 182h1v1h1v1h-1v1h-1v-1h-1v-1h1zM600 179h1v1h1v1h-1v1h-1v-1h-1v-1h1zM610 174h1v1h1v1h-1v1h-1v-1h-1v-1h1zM620 170h1v1h1v1h-1v1h-1v-1h-1v-1h1zM630 163h1v1h1v1h-1v1h-1v-1h-1v-1h1zM640 169h1v1h1v1h-1v1h-1v-1h-1v-1h1zM650 172h1v1h1v1h-1v1h-1v-1h-1v-1h1zM660 186h1v1h1v1h-1v1h-1v-1h-1v-1h1zM670 199h1v1h1v1h-1v1h-1v-1h-1v-1h1zM680 210h1v1h1v1h-1v1h-1v-1h-1v-1h1zM690 219h1v1h1v1h-1v1h-1v-1h-1v-1h1z" fill="#0080ff"/>
<polyline points="50.5,267.6 60.5,278.6 70.5,290.6 80.5,301.5 90.5,314.1 100.5,326.4 110.5,334.1 120.5,340.5 130.5,337.5 140.5,336.1 150.5,327.3 160.5,322.2 170.5,314.1 180.5,315.1 190.5,319.2 200.5,322.9 210.5,326.9 220.5,330.5 230.5,331.7 240.5,324.2 250.5,322.5 260.5,319.8 270.5,315.4 280.5,312.5 290.5,315.3 300.5,300.5 310.5,299.5 320.5,290.5 330.5,295.5 340.5,285.5 350.5,296.8 360.5,290.5 370.5,290.7 380.5,300.5 390.5,311.7 400.5,320.5 410.5,350.5 420.5,400.5 430.5,450.5 440.5,500.5 450.5,545.5 460.5,560.5 470.5,575.5 480.5,570.5 490.5,560.5 500.5,540.5 510.5,492.5 520.5,460.5 530.5,455.5 540.5,470.5 550.5,500.5 560.5,530.5 570.5,521.5 580.5,521.5 590.5,524.5 600.5,528.0 610.5,525.5 620.5,525.5 630.5,521.5 640.5,518.0 650.5,506.5 660.5,494.5 670.5,473.0 680.5,455.5 690.5,440.5" fill="none" stroke="#e8d0a0" stroke-width="1" /><path d="M50 266h1v1h1v1h-1v1h-1v-1h-1v-1h1zM60 277h1v1h1v1h-1v1h-1v-1h-1v-1h1zM70 289h1v1h1v1h-1v1h-1v-1h-1v-1h1zM80 300h1v1h1v1h-1v1h-1v-1h-1v-1h1zM90 313h1v1h1v1h-1v1h-1v-1h-1v-1h1zM100 325h1v1h1v1h-1v1h-1v-1h-1v-1h1zM110 333h1v1h1v1h-1v1h-1v-1h-1v-1h1zM120 339h1v1h1v1h-1v1h-1v-1h-1v-1h1zM130 336h1v1h1v1h-1v1h-1v-1h-1v-1h1zM140 335h1v1h1v1h-1v1h-1v-1h-1v-1h1zM150 326h1v1h1v1h-1v1h-1v-1h-1v-1h1zM160 321h1v1h1v1h-1v1h-1v-1h-1v-1h1zM170 313h1v1h1v1h-1v1h-1v-1h-1v-1h1zM180 314h1v1h1v1h-1v1h-1v-1h-1v-1h1zM190 318h1v1h1v1h-1v1h-1v-1h-1v-1h1zM200 321h1v1h1v1h-1v1h-1v-1h-1v-1h1zM210 325h1v1h1v1h-1v1h-1v-1h-1v-1h1zM220 329h1v1h1v1h-1v1h-1v-1h-1v-1h1zM230 330h1v1h1v1h-1v1h-1v-1h-1v-1h1zM240 323h1v1h1v1h-1v1h-1v-1h-1v-1h1zM250 321h1v1h1v1h-1v1h-1v-1h-1v-1h1zM260 318h1v1h1v1h-1v1h-1v-1h-1v-1h1zM270 314h1v1h1v1h-1v1h-1v-1h-1v-1h1zM280 311h1v1h1v1h-1v1h-1v-1h-1v-1h1zM290 314h1v1h1v1h-1v1h-1v-1h-1v-1h1zM300 299h1v1h1v1h-1v1h-1v-1h-1v-1h1zM310 298h1v1h1v1h-1v1h-1v-1h-1v-1h1zM320 289h1v1h1v1h-1v1h-1v-1h-1v-1h1zM330 294h1v1h1v1h-1v1h-1v-1h-1v-1h1zM340 284h1v1h1v1h-1v1h-1v-1h-1v-1h1zM350 295h1v1h1v1h-1v1h-1v-1h-1v-1h1zM360 289h1v1h1v1h-1v1h-1v-1h-1v-1h1zM370 289h1v1h1v1h-1v1h-1v-1h-1v-1h1zM380 299h1v1h1v1h-1v1h-1v-1h-1v-1h1zM390 310h1v1h1v1h-1v1h-1v-1h-1v-1h1zM400 319h1v1h1v1h-1v1h-1v-1h-1v-1h1zM410 349h1v1h1v1h-1v1h-1v-1h-1v-1h1zM420 399h1v1h1v1h-1v1h-1v-1h-1v-1h1zM430 449h1v1h1v1h-1v1h-1v-1h-1v-1h1zM440 499h1v1h1v1h-1v1h-1v-1h-1v-1h1zM450 544h1v1h1v1h-1v1h-1v-1h-1v-1h1zM460 559h1v1h1v1h-1v1h-1v-1h-1v-1h1zM470 574h1v1h1v1h-1v1h-1v-1h-1v-1h1zM480 569h1v1h1v1h-1v1h-1v-1h-1v-1h1zM490 559h1v1h1v1h-1v1h-1v-1h-1v-1h1zM500 539h1v1h1v1h-1v1h-1v-1h-1v-1h1zM510 491h1v1h1v1h-1v1h-1v-1h-1v-1h1zM520 459h1v1h1v1h-1v1h-1v-1h-1v-1h1zM530 454h1v1h1v1h-1v1h-1v-1h-1v-1h1zM540 469h1v1h1v1h-1v1h-1v-1h-1v-1h1zM550 499h1v1h1v1h-1v1h-1v-1h-1v-1h1zM560 529h1v1h1v1h-1v1h-1v-1h-1v-1h1zM570 520h1v1h1v1h-1v1h-1v-1h-1v-1h1zM580 520h1v1h1v1h-1v1h-1v-1h-1v-1h1zM590 523h1v1h1v1h-1v1h-1v-1h-1v-1h1zM600 527h1v1h1v1h-1v1h-1v-1h-1v-1h1zM610 524h1v1h1v1h-1v1h-1v-1h-1v-1h1zM620 524h1v1h1v1h-1v1h-1v-1h-1v-1h1zM630 520h1v1h1v1h-1v1h-1v-1h-1v-1h1zM640 517h1v1h1v1h-1v1h-1v-1h-1v-1h1zM650 505h1v1h1v1h-1v1h-1v-1h-1v-1h1zM660 493h1v1h1v1h-1v1h-1v-1h-1v-1h1zM670 472h1v1h1v1h-1v1h-1v-1h-1v-1h1zM680 454h1v1h1v1h-1v1h-1v-1h-1v-1h1zM690 439h1v1h1v1h-1v1h-1v-1h-1v-1h1z" fill="#e8d0a0"/>
<polyline points="50.5,269.8 60.5,281.0 70.5,291.7 80.5,302.8 90.5,318.0 100.5,330.3 110.5,339.3 120.5,347.0 130.5,344.9 140.5,341.8 150.5,337.6 160.5,331.7 170.5,324.2 180.5,324.7 190.5,329.5 200.5,337.5 210.5,345.5 220.5,332.0 230.5,335.5 240.5,321.4 250.5,300.5 260.5,270.5 270.5,255.5 280.5,255.5 290.5,265.5 300.5,293.5 310.5,344.0 320.5,401.5 330.5,415.5 340.5,396.5 350.5,378.0 360.5,350.5 370.5,322.9 380.5,300.5 390.5,280.5 400.5,270.5 410.5,275.5 420.5,300.5 430.5,340.5 440.5,400.5 450.5,470.5 460.5,500.5 470.5,470.5 480.5,444.1 490.5,422.3 500.5,431.2 510.5,440.5 520.5,443.5 530.5,450.5 540.5,470.5 550.5,500.5 560.5,520.5 570.5,500.5 580.5,476.5 590.5,460.5 600.5,452.5 610.5,454.5 620.5,463.0 630.5,476.5 640.5,483.0 650.5,476.5 660.5,463.0 670.5,450.5 680.5,432.5 690.5,418.0" fill="none" stroke="#4090c0" stroke-width="1" /><path d="M50 268h1v1h1v1h-1v1h-1v-1h-1v-1h1zM60 279h1v1h1v1h-1v1h-1v-1h-1v-1h1zM70 290h1v1h1v1h-1v1h-1v-1h-1v-1h1zM80 301h1v1h1v1h-1v1h-1v-1h-1v-1h1zM90 316h1v1h1v1h-1v1h-1v-1h-1v-1h1zM100 329h1v1h1v1h-1v1h-1v-1h-1v-1h1zM110 338h1v1h1v1h-1v1h-1v-1h-1v-1h1zM120 345h1v1h1v1h-1v1h-1v-1h-1v-1h1zM130 343h1v1h1v1h-1v1h-1v-1h-1v-1h1zM140 340h1v1h1v1h-1v1h-1v-1h-1v-1h1zM150 336h1v1h1v1h-1v1h-1v-1h-1v-1h1zM160 330h1v1h1v1h-1v1h-1v-1h-1v-1h1zM170 323h1v1h1v1h-1v1h-1v-1h-1v-1h1zM180 323h1v1h1v1h-1v1h-1v-1h-1v-1h1zM190 328h1v1h1v1h-1v1h-1v-1h-1v-1h1zM200 336h1v1h1v1h-1v1h-1v-1h-1v-1h1zM210 344h1v1h1v1h-1v1h-1v-1h-1v-1h1zM220 330h1v1h1v1h-1v1h-1v-1h-1v-1h1zM230 334h1v1h1v1h-1v1h-1v-1h-1v-1h1zM240 320h1v1h1v1h-1v1h-1v-1h-1v-1h1zM250 299h1v1h1v1h-1v1h-1v-1h-1v-1h1zM260 269h1v1h1v1h-1v1h-1v-1h-1v-1h1zM270 254h1v1h1v1h-1v1h-1v-1h-1v-1h1zM280 254h1v1h1v1h-1v1h-1v-1h-1v-1h1zM290 264h1v1h1v1h-1v1h-1v-1h-1v-1h1zM300 292h1v1h1v1h-1v1h-1v-1h-1v-1h1zM310 343h1v1h1v1h-1v1h-1v-1h-1v-1h1zM320 400h1v1h1v1h-1v1h-1v-1h-1v-1h1zM330 414h1v1h1v1h-1v1h-1v-1h-1v-1h1zM340 395h1v1h1v1h-1v1h-1v-1h-1v-1h1zM350 377h1v1h1v1h-1v1h-1v-1h-1v-1h1zM360 349h1v1h1v1h-1v1h-1v-1h-1v-1h1zM370 321h1v1h1v1h-1v1h-1v-1h-1v-1h1zM380 299h1v1h1v1h-1v1h-1v-1h-1v-1h1zM390 279h1v1h1v1h-1v1h-1v-1h-1v-1h1zM400 269h1v1h1v1h-1v1h-1v-1h-1v-1h1zM410 274h1v1h1v1h-1v1h-1v-1h-1v-1h1zM420 299h1v1h1v1h-1v1h-1v-1h-1v-1h1zM430 339h1v1h1v1h-1v1h-1v-1h-1v-1h1zM440 399h1v1h1v1h-1v1h-1v-1h-1v-1h1zM450 469h1v1h1v1h-1v1h-1v-1h-1v-1h1zM460 499h1v1h1v1h-1v1h-1v-1h-1v-1h1zM470 469h1v1h1v1h-1v1h-1v-1h-1v-1h1zM480 443h1v1h1v1h-1v1h-1v-1h-1v-1h1zM490 421h1v1h1v1h-1v1h-1v-1h-1v-1h1zM500 430h1v1h1v1h-1v1h-1v-1h-1v-1h1zM510 439h1v1h1v1h-1v1h-1v-1h-1v-1h1zM520 442h1v1h1v1h-1v1h-1v-1h-1v-1h1zM530 449h1v1h1v1h-1v1h-1v-1h-1v-1h1zM540 469h1v1h1v1h-1v1h-1v-1h-1v-1h1zM550 499h1v1h1v1h-1v1h-1v-1h-1v-1h1zM560 519h1v1h1v1h-1v1h-1v-1h-1v-1h1zM570 499h1v1h1v1h-1v1h-1v-1h-1v-1h1zM580 475h1v1h1v1h-1v1h-1v-1h-1v-1h1zM590 459h1v1h1v1h-1v1h-1v-1h-1v-1h1zM600 451h1v1h1v1h-1v1h-1v-1h-1v-1h1zM610 453h1v1h1v1h-1v1h-1v-1h-1v-1h1zM620 462h1v1h1v1h-1v1h-1v-1h-1v-1h1zM630 475h1v1h1v1h-1v1h-1v-1h-1v-1h1zM640 482h1v1h1v1h-1v1h-1v-1h-1v-1h1zM650 475h1v1h1v1h-1v1h-1v-1h-1v-1h1zM660 462h1v1h1v1h-1v1h-1v-1h-1v-1h1zM670 449h1v1h1v1h-1v1h-1v-1h-1v-1h1zM680 431h1v1h1v1h-1v1h-1v-1h-1v-1h1zM690 417h1v1h1v1h-1v1h-1v-1h-1v-1h1z" fill="#4090c0"/>
<polyline points="50.5,266.5 60.5,276.9 70.5,286.3 80.5,297.3 90.5,309.5 100.5,319.3 110.5,327.6 120.5,332.2 130.5,328.9 140.5,330.0 150.5,319.3 160.5,314.9 170.5,306.6 180.5,309.8 190.5,308.9 200.5,314.5 210.5,327.8 220.5,322.5 230.5,315.6 240.5,328.9 250.5,318.5 260.5,317.8 270.5,320.9 280.5,322.5 290.5,336.3 300.5,330.5 310.5,335.1 320.5,326.5 330.5,316.7 340.5,320.5 350.5,316.1 360.5,314.5 370.5,325.5 380.5,314.5 390.5,313.2 400.5,306.5 410.5,298.5 420.5,275.5 430.5,266.5 440.5,263.0 450.5,265.5 460.5,271.5 470.5,275.5 480.5,284.5 490.5,293.0 500.5,301.5 510.5,313.0 520.5,318.0 530.5,320.0 540.5,320.5 550.5,318.5 560.5,316.5 570.5,306.5 580.5,298.0 590.5,296.5 600.5,296.5 610.5,295.5 620.5,296.5 630.5,294.5 640.5,285.5 650.5,286.5 660.5,285.5 670.5,286.5 680.5,293.0 690.5,294.5" fill="none" stroke="#e0a050" stroke-width="1" /><path d="M50 265h1v1h1v1h-1v1h-1v-1h-1v-1h1zM60 275h1v1h1v1h-1v1h-1v-1h-1v-1h1zM70 285h1v1h1v1h-1v1h-1v-1h-1v-1h1zM80 296h1v1h1v1h-1v1h-1v-1h-1v-1h1zM90 308h1v1h1v1h-1v1h-1v-1h-1v-1h1zM100 318h1v1h1v1h-1v1h-1v-1h-1v-1h1zM110 326h1v1h1v1h-1v1h-1v-1h-1v-1h1zM120 331h1v1h1v1h-1v1h-1v-1h-1v-1h1zM130 327h1v1h1v1h-1v1h-1v-1h-1v-1h1zM140 328h1v1h1v1h-1v1h-1v-1h-1v-1h1zM150 318h1v1h1v1h-1v1h-1v-1h-1v-1h1zM160 313h1v1h1v1h-1v1h-1v-1h-1v-1h1zM170 305h1v1h1v1h-1v1h-1v-1h-1v-1h1zM180 308h1v1h1v1h-1v1h-1v-1h-1v-1h1zM190 307h1v1h1v1h-1v1h-1v-1h-1v-1h1zM200 313h1v1h1v1h-1v1h-1v-1h-1v-1h1zM210 326h1v1h1v1h-1v1h-1v-1h-1v-1h1zM220 321h1v1h1v1h-1v1h-1v-1h-1v-1h1zM230 314h1v1h1v1h-1v1h-1v-1h-1v-1h1zM240 327h1v1h1v1h-1v1h-1v-1h-1v-1h1zM250 317h1v1h1v1h-1v1h-1v-1h-1v-1h1zM260 316h1v1h1v1h-1v1h-1v-1h-1v-1h1zM270 319h1v1h1v1h-1v1h-1v-1h-1v-1h1zM280 321h1v1h1v1h-1v1h-1v-1h-1v-1h1zM290 335h1v1h1v1h-1v1h-1v-1h-1v-1h1zM300 329h1v1h1v1h-1v1h-1v-1h-1v-1h1zM310 334h1v1h1v1h-1v1h-1v-1h-1v-1h1zM320 325h1v1h1v1h-1v1h-1v-1h-1v-1h1zM330 315h1v1h1v1h-1v1h-1v-1h-1v-1h1zM340 319h1v1h1v1h-1v1h-1v-1h-1v-1h1zM350 315h1v1h1v1h-1v1h-1v-1h-1v-1h1zM360 313h1v1h1v1h-1v1h-1v-1h-1v-1h1zM370 324h1v1h1v1h-1v1h-1v-1h-1v-1h1zM380 313h1v1h1v1h-1v1h-1v-1h-1v-1h1zM390 312h1v1h1v1h-1v1h-1v-1h-1v-1h1zM400 305h1v1h1v1h-1v1h-1v-1h-1v-1h1zM410 297h1v1h1v1h-1v1h-1v-1h-1v-1h1zM420 274h1v1h1v1h-1v1h-1v-1h-1v-1h1zM430 265h1v1h1v1h-1v1h-1v-1h-1v-1h1zM440 262h1v1h1v1h-1v1h-1v-1h-1v-1h1zM450 264h1v1h1v1h-1v1h-1v-1h-1v-1h1zM460 270h1v1h1v1h-1v1h-1v-1h-1v-1h1zM470 274h1v1h1v1h-1v1h-1v-1h-1v-1h1zM480 283h1v1h1v1h-1v1h-1v-1h-1v-1h1zM490 292h1v1h1v1h-1v1h-1v-1h-1v-1h1zM500 300h1v1h1v1h-1v1h-1v-1h-1v-1h1zM510 312h1v1h1v1h-1v1h-1v-1h-1v-1h1zM520 317h1v1h1v1h-1v1h-1v-1h-1v-1h1zM530 319h1v1h1v1h-1v1h-1v-1h-1v-1h1zM540 319h1v1h1v1h-1v1h-1v-1h-1v-1h1zM550 317h1v1h1v1h-1v1h-1v-1h-1v-1h1zM560 315h1v1h1v1h-1v1h-1v-1h-1v-1h1zM570 305h1v1h1v1h-1v1h-1v-1h-1v-1h1zM580 297h1v1h1v1h-1v1h-1v-1h-1v-1h1zM590 295h1v1h1v1h-1v1h-1v-1h-1v-1h1zM600 295h1v1h1v1h-1v1h-1v-1h-1v-1h1zM610 294h1v1h1v1h-1v1h-1v-1h-1v-1h1zM620 295h1v1h1v1h-1v1h-1v-1h-1v-1h1zM630 293h1v1h1v1h-1v1h-1v-1h-1v-1h1zM640 284h1v1h1v1h-1v1h-1v-1h-1v-1h1zM650 285h1v1h1v1h-1v1h-1v-1h-1v-1h1zM660 284h1v1h1v1h-1v1h-1v-1h-1v-1h1zM670 285h1v1h1v1h-1v1h-1v-1h-1v-1h1zM680 292h1v1h1v1h-1v1h-1v-1h-1v-1h1zM690 293h1v1h1v1h-1v1h-1v-1h-1v-1h1z" fill="#e0a050"/>
<polyline points="50.5,263.4 60.5,272.1 70.5,281.6 80.5,290.7 90.5,301.8 100.5,309.3 110.5,315.5 120.5,319.1 130.5,314.9 140.5,314.5 150.5,303.9 160.5,300.9 170.5,290.8 180.5,291.3 190.5,295.7 200.5,297.9 210.5,298.0 220.5,300.5 230.5,285.9 240.5,290.5 250.5,280.5 260.5,263.0 270.5,245.5 280.5,231.5 290.5,220.5 300.5,221.5 310.5,233.0 320.5,248.0 330.5,273.0 340.5,330.5 350.5,390.5 360.5,451.5 370.5,520.5 376.5,560.5 380.5,575.5 390.5,585.5 400.5,572.5 410.5,585.5 420.5,588.0 430.5,590.5 440.5,592.5 450.5,594.5 460.5,601.5 470.5,618.5 480.5,640.5 490.5,660.5 500.5,629.5 510.5,613.5 520.5,595.5 530.5,560.5 540.5,520.5 550.5,480.5 560.5,450.5 570.5,423.0 580.5,422.2 590.5,414.5 600.5,413.5 610.5,414.5 620.5,421.3 630.5,414.5 640.5,410.3 650.5,401.0 660.5,387.5 670.5,367.3 680.5,344.5 690.5,310.5" fill="none" stroke="#604818" stroke-width="1" /><path d="M50 262h1v1h1v1h-1v1h-1v-1h-1v-1h1zM60 271h1v1h1v1h-1v1h-1v-1h-1v-1h1zM70 280h1v1h1v1h-1v1h-1v-1h-1v-1h1zM80 289h1v1h1v1h-1v1h-1v-1h-1v-1h1zM90 300h1v1h1v1h-1v1h-1v-1h-1v-1h1zM100 308h1v1h1v1h-1v1h-1v-1h-1v-1h1zM110 314h1v1h1v1h-1v1h-1v-1h-1v-1h1zM120 318h1v1h1v1h-1v1h-1v-1h-1v-1h1zM130 313h1v1h1v1h-1v1h-1v-1h-1v-1h1zM140 313h1v1h1v1h-1v1h-1v-1h-1v-1h1zM150 302h1v1h1v1h-1v1h-1v-1h-1v-1h1zM160 299h1v1h1v1h-1v1h-1v-1h-1v-1h1zM170 289h1v1h1v1h-1v1h-1v-1h-1v-1h1zM180 290h1v1h1v1h-1v1h-1v-1h-1v-1h1zM190 294h1v1h1v1h-1v1h-1v-1h-1v-1h1zM200 296h1v1h1v1h-1v1h-1v-1h-1v-1h1zM210 296h1v1h1v1h-1v1h-1v-1h-1v-1h1zM220 299h1v1h1v1h-1v1h-1v-1h-1v-1h1zM230 284h1v1h1v1h-1v1h-1v-1h-1v-1h1zM240 289h1v1h1v1h-1v1h-1v-1h-1v-1h1zM250 279h1v1h1v1h-1v1h-1v-1h-1v-1h1zM260 262h1v1h1v1h-1v1h-1v-1h-1v-1h1zM270 244h1v1h1v1h-1v1h-1v-1h-1v-1h1zM280 230h1v1h1v1h-1v1h-1v-1h-1v-1h1zM290 219h1v1h1v1h-1v1h-1v-1h-1v-1h1zM300 220h1v1h1v1h-1v1h-1v-1h-1v-1h1zM310 232h1v1h1v1h-1v1h-1v-1h-1v-1h1zM320 247h1v1h1v1h-1v1h-1v-1h-1v-1h1zM330 272h1v1h1v1h-1v1h-1v-1h-1v-1h1zM340 329h1v1h1v1h-1v1h-1v-1h-1v-1h1zM350 389h1v1h1v1h-1v1h-1v-1h-1v-1h1zM360 450h1v1h1v1h-1v1h-1v-1h-1v-1h1zM370 519h1v1h1v1h-1v1h-1v-1h-1v-1h1zM380 574h1v1h1v1h-1v1h-1v-1h-1v-1h1zM390 584h1v1h1v1h-1v1h-1v-1h-1v-1h1zM400 571h1v1h1v1h-1v1h-1v-1h-1v-1h1zM410 584h1v1h1v1h-1v1h-1v-1h-1v-1h1zM420 587h1v1h1v1h-1v1h-1v-1h-1v-1h1zM430 589h1v1h1v1h-1v1h-1v-1h-1v-1h1zM440 591h1v1h1v1h-1v1h-1v-1h-1v-1h1zM450 593h1v1h1v1h-1v1h-1v-1h-1v-1h1zM460 600h1v1h1v1h-1v1h-1v-1h-1v-1h1zM470 617h1v1h1v1h-1v1h-1v-1h-1v-1h1zM480 639h1v1h1v1h-1v1h-1v-1h-1v-1h1zM490 659h1v1h1v1h-1v1h-1v-1h-1v-1h1zM500 628h1v1h1v1h-1v1h-1v-1h-1v-1h1zM510 612h1v1h1v1h-1v1h-1v-1h-1v-1h1zM520 594h1v1h1v1h-1v1h-1v-1h-1v-1h1zM530 559h1v1h1v1h-1v1h-1v-1h-1v-1h1zM540 519h1v1h1v1h-1v1h-1v-1h-1v-1h1zM550 479h1v1h1v1h-1v1h-1v-1h-1v-1h1zM560 449h1v1h1v1h-1v1h-1v-1h-1v-1h1zM570 422h1v1h1v1h-1v1h-1v-1h-1v-1h1zM580 421h1v1h1v1h-1v1h-1v-1h-1v-1h1zM590 413h1v1h1v1h-1v1h-1v-1h-1v-1h1zM600 412h1v1h1v1h-1v1h-1v-1h-1v-1h1zM610 413h1v1h1v1h-1v1h-1v-1h-1v-1h1zM620 420h1v1h1v1h-1v1h-1v-1h-1v-1h1zM630 413h1v1h1v1h-1v1h-1v-1h-1v-1h1zM640 409h1v1h1v1h-1v1h-1v-1h-1v-1h1zM650 400h1v1h1v1h-1v1h-1v-1h-1v-1h1zM660 386h1v1h1v1h-1v1h-1v-1h-1v-1h1zM670 366h1v1h1v1h-1v1h-1v-1h-1v-1h1zM680 343h1v1h1v1h-1v1h-1v-1h-1v-1h1zM690 309h1v1h1v1h-1v1h-1v-1h-1v-1h1z" fill="#604818"/>
<polyline points="50.5,266.8 60.5,278.1 70.5,289.2 80.5,298.7 90.5,313.7 100.5,325.0 110.5,333.0 120.5,338.1 130.5,336.3 140.5,335.8 150.5,327.1 160.5,321.3 170.5,313.0 180.5,312.0 190.5,309.7 200.5,316.0 210.5,313.3 220.5,326.5 230.5,329.5 240.5,328.5 250.5,324.5 260.5,323.5 270.5,322.1 280.5,322.9 290.5,323.5 300.5,324.5 310.5,316.5 320.5,325.5 330.5,318.5 340.5,300.5 350.5,275.5 360.5,240.5 370.5,203.0 380.5,182.5 390.5,182.5 400.5,201.5 410.5,235.5 420.5,273.0 430.5,330.5 440.5,400.5 450.5,470.5 460.5,540.5 470.5,570.5 480.5,480.5 490.5,400.5 500.5,345.5 510.5,339.5 520.5,348.5 530.5,341.5 540.5,344.5 550.5,344.5 560.5,345.5 570.5,331.5 580.5,339.5 590.5,329.5 600.5,325.5 610.5,336.5 620.5,349.5 630.5,318.0 640.5,290.5 650.5,276.0 660.5,285.5 670.5,299.5 680.5,305.5 690.5,313.0" fill="none" stroke="#ff6820" stroke-width="1" /><path d="M50 265h1v1h1v1h-1v1h-1v-1h-1v-1h1zM60 277h1v1h1v1h-1v1h-1v-1h-1v-1h1zM70 288h1v1h1v1h-1v1h-1v-1h-1v-1h1zM80 297h1v1h1v1h-1v1h-1v-1h-1v-1h1zM90 312h1v1h1v1h-1v1h-1v-1h-1v-1h1zM100 324h1v1h1v1h-1v1h-1v-1h-1v-1h1zM110 331h1v1h1v1h-1v1h-1v-1h-1v-1h1zM120 337h1v1h1v1h-1v1h-1v-1h-1v-1h1zM130 335h1v1h1v1h-1v1h-1v-1h-1v-1h1zM140 334h1v1h1v1h-1v1h-1v-1h-1v-1h1zM150 326h1v1h1v1h-1v1h-1v-1h-1v-1h1zM160 320h1v1h1v1h-1v1h-1v-1h-1v-1h1zM170 311h1v1h1v1h-1v1h-1v-1h-1v-1h1zM180 310h1v1h1v1h-1v1h-1v-1h-1v-1h1zM190 308h1v1h1v1h-1v1h-1v-1h-1v-1h1zM200 314h1v1h1v1h-1v1h-1v-1h-1v-1h1zM210 312h1v1h1v1h-1v1h-1v-1h-1v-1h1zM220 325h1v1h1v1h-1v1h-1v-1h-1v-1h1zM230 328h1v1h1v1h-1v1h-1v-1h-1v-1h1zM240 327h1v1h1v1h-1v1h-1v-1h-1v-1h1zM250 323h1v1h1v1h-1v1h-1v-1h-1v-1h1zM260 322h1v1h1v1h-1v1h-1v-1h-1v-1h1zM270 321h1v1h1v1h-1v1h-1v-1h-1v-1h1zM280 321h1v1h1v1h-1v1h-1v-1h-1v-1h1zM290 322h1v1h1v1h-1v1h-1v-1h-1v-1h1zM300 323h1v1h1v1h-1v1h-1v-1h-1v-1h1zM310 315h1v1h1v1h-1v1h-1v-1h-1v-1h1zM320 324h1v1h1v1h-1v1h-1v-1h-1v-1h1zM330 317h1v1h1v1h-1v1h-1v-1h-1v-1h1zM340 299h1v1h1v1h-1v1h-1v-1h-1v-1h1zM350 274h1v1h1v1h-1v1h-1v-1h-1v-1h1zM360 239h1v1h1v1h-1v1h-1v-1h-1v-1h1zM370 202h1v1h1v1h-1v1h-1v-1h-1v-1h1zM380 181h1v1h1v1h-1v1h-1v-1h-1v-1h1zM390 181h1v1h1v1h-1v1h-1v-1h-1v-1h1zM400 200h1v1h1v1h-1v1h-1v-1h-1v-1h1zM410 234h1v1h1v1h-1v1h-1v-1h-1v-1h1zM420 272h1v1h1v1h-1v1h-1v-1h-1v-1h1zM430 329h1v1h1v1h-1v1h-1v-1h-1v-1h1zM440 399h1v1h1v1h-1v1h-1v-1h-1v-1h1zM450 469h1v1h1v1h-1v1h-1v-1h-1v-1h1zM460 539h1v1h1v1h-1v1h-1v-1h-1v-1h1zM470 569h1v1h1v1h-1v1h-1v-1h-1v-1h1zM480 479h1v1h1v1h-1v1h-1v-1h-1v-1h1zM490 399h1v1h1v1h-1v1h-1v-1h-1v-1h1zM500 344h1v1h1v1h-1v1h-1v-1h-1v-1h1zM510 338h1v1h1v1h-1v1h-1v-1h-1v-1h1zM520 347h1v1h1v1h-1v1h-1v-1h-1v-1h1zM530 340h1v1h1v1h-1v1h-1v-1h-1v-1h1zM540 343h1v1h1v1h-1v1h-1v-1h-1v-1h1zM550 343h1v1h1v1h-1v1h-1v-1h-1v-1h1zM560 344h1v1h1v1h-1v1h-1v-1h-1v-1h1zM570 330h1v1h1v1h-1v1h-1v-1h-1v-1h1zM580 338h1v1h1v1h-1v1h-1v-1h-1v-1h1zM590 328h1v1h1v1h-1v1h-1v-1h-1v-1h1zM600 324h1v1h1v1h-1v1h-1v-1h-1v-1h1zM610 335h1v1h1v1h-1v1h-1v-1h-1v-1h1zM620 348h1v1h1v1h-1v1h-1v-1h-1v-1h1zM630 317h1v1h1v1h-1v1h-1v-1h-1v-1h1zM640 289h1v1h1v1h-1v1h-1v-1h-1v-1h1zM650 275h1v1h1v1h-1v1h-1v-1h-1v-1h1zM660 284h1v1h1v1h-1v1h-1v-1h-1v-1h1zM670 298h1v1h1v1h-1v1h-1v-1h-1v-1h1zM680 304h1v1h1v1h-1v1h-1v-1h-1v-1h1zM690 312h1v1h1v1h-1v1h-1v-1h-1v-1h1z" fill="#ff6820"/>
<polyline points="50.5,267.4 60.5,277.9 70.5,291.1 80.5,300.8 90.5,314.2 100.5,327.0 110.5,336.0 120.5,341.7 130.5,339.4 140.5,336.7 150.5,327.3 160.5,322.5 170.5,312.1 180.5,315.8 190.5,316.4 200.5,321.0 210.5,331.1 220.5,328.5 230.5,326.0 240.5,326.2 250.5,335.5 260.5,347.2 270.5,343.6 280.5,345.5 290.5,352.0 300.5,350.5 310.5,339.8 320.5,345.5 330.5,324.2 340.5,320.5 350.5,316.8 360.5,305.5 370.5,301.5 380.5,300.5 390.5,318.0 400.5,353.5 410.5,377.5 420.5,394.2 430.5,430.5 440.5,480.5 450.5,530.5 460.5,550.5 470.5,570.5 480.5,470.5 490.5,439.5 500.5,419.5 510.5,425.5 520.5,440.5 530.5,440.5 540.5,425.5 550.5,390.5 560.5,352.5 570.5,306.5 580.5,297.5 590.5,288.0 600.5,288.0 610.5,266.5 620.5,256.5 630.5,254.5 640.5,256.0 650.5,256.5 660.5,260.5 670.5,261.5 680.5,261.5 690.5,253.0" fill="none" stroke="#d0b870" stroke-width="1" /><path d="M50 266h1v1h1v1h-1v1h-1v-1h-1v-1h1zM60 276h1v1h1v1h-1v1h-1v-1h-1v-1h1zM70 290h1v1h1v1h-1v1h-1v-1h-1v-1h1zM80 299h1v1h1v1h-1v1h-1v-1h-1v-1h1zM90 313h1v1h1v1h-1v1h-1v-1h-1v-1h1zM100 326h1v1h1v1h-1v1h-1v-1h-1v-1h1zM110 335h1v1h1v1h-1v1h-1v-1h-1v-1h1zM120 340h1v1h1v1h-1v1h-1v-1h-1v-1h1zM130 338h1v1h1v1h-1v1h-1v-1h-1v-1h1zM140 335h1v1h1v1h-1v1h-1v-1h-1v-1h1zM150 326h1v1h1v1h-1v1h-1v-1h-1v-1h1zM160 321h1v1h1v1h-1v1h-1v-1h-1v-1h1zM170 311h1v1h1v1h-1v1h-1v-1h-1v-1h1zM180 314h1v1h1v1h-1v1h-1v-1h-1v-1h1zM190 315h1v1h1v1h-1v1h-1v-1h-1v-1h1zM200 320h1v1h1v1h-1v1h-1v-1h-1v-1h1zM210 330h1v1h1v1h-1v1h-1v-1h-1v-1h1zM220 327h1v1h1v1h-1v1h-1v-1h-1v-1h1zM230 325h1v1h1v1h-1v1h-1v-1h-1v-1h1zM240 325h1v1h1v1h-1v1h-1v-1h-1v-1h1zM250 334h1v1h1v1h-1v1h-1v-1h-1v-1h1zM260 346h1v1h1v1h-1v1h-1v-1h-1v-1h1zM270 342h1v1h1v1h-1v1h-1v-1h-1v-1h1zM280 344h1v1h1v1h-1v1h-1v-1h-1v-1h1zM290 351h1v1h1v1h-1v1h-1v-1h-1v-1h1zM300 349h1v1h1v1h-1v1h-1v-1h-1v-1h1zM310 338h1v1h1v1h-1v1h-1v-1h-1v-1h1zM320 344h1v1h1v1h-1v1h-1v-1h-1v-1h1zM330 323h1v1h1v1h-1v1h-1v-1h-1v-1h1zM340 319h1v1h1v1h-1v1h-1v-1h-1v-1h1zM350 315h1v1h1v1h-1v1h-1v-1h-1v-1h1zM360 304h1v1h1v1h-1v1h-1v-1h-1v-1h1zM370 300h1v1h1v1h-1v1h-1v-1h-1v-1h1zM380 299h1v1h1v1h-1v1h-1v-1h-1v-1h1zM390 317h1v1h1v1h-1v1h-1v-1h-1v-1h1zM400 352h1v1h1v1h-1v1h-1v-1h-1v-1h1zM410 376h1v1h1v1h-1v1h-1v-1h-1v-1h1zM420 393h1v1h1v1h-1v1h-1v-1h-1v-1h1zM430 429h1v1h1v1h-1v1h-1v-1h-1v-1h1zM440 479h1v1h1v1h-1v1h-1v-1h-1v-1h1zM450 529h1v1h1v1h-1v1h-1v-1h-1v-1h1zM460 549h1v1h1v1h-1v1h-1v-1h-1v-1h1zM470 569h1v1h1v1h-1v1h-1v-1h-1v-1h1zM480 469h1v1h1v1h-1v1h-1v-1h-1v-1h1zM490 438h1v1h1v1h-1v1h-1v-1h-1v-1h1zM500 418h1v1h1v1h-1v1h-1v-1h-1v-1h1zM510 424h1v1h1v1h-1v1h-1v-1h-1v-1h1zM520 439h1v1h1v1h-1v1h-1v-1h-1v-1h1zM530 439h1v1h1v1h-1v1h-1v-1h-1v-1h1zM540 424h1v1h1v1h-1v1h-1v-1h-1v-1h1zM550 389h1v1h1v1h-1v1h-1v-1h-1v-1h1zM560 351h1v1h1v1h-1v1h-1v-1h-1v-1h1zM570 305h1v1h1v1h-1v1h-1v-1h-1v-1h1zM580 296h1v1h1v1h-1v1h-1v-1h-1v-1h1zM590 287h1v1h1v1h-1v1h-1v-1h-1v-1h1zM600 287h1v1h1v1h-1v1h-1v-1h-1v-1h1zM610 265h1v1h1v1h-1v1h-1v-1h-1v-1h1zM620 255h1v1h1v1h-1v1h-1v-1h-1v-1h1zM630 253h1v1h1v1h-1v1h-1v-1h-1v-1h1zM640 255h1v1h1v1h-1v1h-1v-1h-1v-1h1zM650 255h1v1h1v1h-1v1h-1v-1h-1v-1h1zM660 259h1v1h1v1h-1v1h-1v-1h-1v-1h1zM670 260h1v1h1v1h-1v1h-1v-1h-1v-1h1zM680 260h1v1h1v1h-1v1h-1v-1h-1v-1h1zM690 252h1v1h1v1h-1v1h-1v-1h-1v-1h1z" fill="#d0b870"/>
<polyline points="50.5,263.7 60.5,275.1 70.5,284.8 80.5,294.5 90.5,304.4 100.5,315.7 110.5,320.1 120.5,325.5 130.5,318.5 140.5,310.5 150.5,300.5 160.5,295.5 170.5,288.5 180.5,285.5 190.5,284.5 200.5,284.5 210.5,284.5 220.5,288.0 230.5,292.5 240.5,300.5 250.5,310.5 260.5,319.5 270.5,327.5 280.5,335.5 290.5,345.5 300.5,355.5 310.5,365.5 320.5,373.0 330.5,371.5 340.5,373.0 350.5,390.5 360.5,414.5 370.5,424.5 380.5,429.5 390.5,426.5 400.5,416.5 410.5,400.5 420.5,391.5 430.5,399.5 440.5,409.5 450.5,410.5 460.5,403.0 470.5,401.5 480.5,401.5 490.5,394.5 500.5,386.5 510.5,378.0 520.5,376.5 530.5,371.5 540.5,368.0 550.5,366.5 560.5,369.5 570.5,369.5 580.5,371.5 590.5,365.5 600.5,351.5 610.5,331.5 620.5,316.5 630.5,305.5 640.5,296.5 650.5,290.5 660.5,289.5 670.5,289.5 680.5,289.5 690.5,284.5" fill="none" stroke="#00d860" stroke-width="1" /><path d="M50 262h1v1h1v1h-1v1h-1v-1h-1v-1h1zM60 274h1v1h1v1h-1v1h-1v-1h-1v-1h1zM70 283h1v1h1v1h-1v1h-1v-1h-1v-1h1zM80 293h1v1h1v1h-1v1h-1v-1h-1v-1h1zM90 303h1v1h1v1h-1v1h-1v-1h-1v-1h1zM100 314h1v1h1v1h-1v1h-1v-1h-1v-1h1zM110 319h1v1h1v1h-1v1h-1v-1h-1v-1h1zM120 324h1v1h1v1h-1v1h-1v-1h-1v-1h1zM130 317h1v1h1v1h-1v1h-1v-1h-1v-1h1zM140 309h1v1h1v1h-1v1h-1v-1h-1v-1h1zM150 299h1v1h1v1h-1v1h-1v-1h-1v-1h1zM160 294h1v1h1v1h-1v1h-1v-1h-1v-1h1zM170 287h1v1h1v1h-1v1h-1v-1h-1v-1h1zM180 284h1v1h1v1h-1v1h-1v-1h-1v-1h1zM190 283h1v1h1v1h-1v1h-1v-1h-1v-1h1zM200 283h1v1h1v1h-1v1h-1v-1h-1v-1h1zM210 283h1v1h1v1h-1v1h-1v-1h-1v-1h1zM220 287h1v1h1v1h-1v1h-1v-1h-1v-1h1zM230 291h1v1h1v1h-1v1h-1v-1h-1v-1h1zM240 299h1v1h1v1h-1v1h-1v-1h-1v-1h1zM250 309h1v1h1v1h-1v1h-1v-1h-1v-1h1zM260 318h1v1h1v1h-1v1h-1v-1h-1v-1h1zM270 326h1v1h1v1h-1v1h-1v-1h-1v-1h1zM280 334h1v1h1v1h-1v1h-1v-1h-1v-1h1zM290 344h1v1h1v1h-1v1h-1v-1h-1v-1h1zM300 354h1v1h1v1h-1v1h-1v-1h-1v-1h1zM310 364h1v1h1v1h-1v1h-1v-1h-1v-1h1zM320 372h1v1h1v1h-1v1h-1v-1h-1v-1h1zM330 370h1v1h1v1h-1v1h-1v-1h-1v-1h1zM340 372h1v1h1v1h-1v1h-1v-1h-1v-1h1zM350 389h1v1h1v1h-1v1h-1v-1h-1v-1h1zM360 413h1v1h1v1h-1v1h-1v-1h-1v-1h1zM370 423h1v1h1v1h-1v1h-1v-1h-1v-1h1zM380 428h1v1h1v1h-1v1h-1v-1h-1v-1h1zM390 425h1v1h1v1h-1v1h-1v-1h-1v-1h1zM400 415h1v1h1v1h-1v1h-1v-1h-1v-1h1zM410 399h1v1h1v1h-1v1h-1v-1h-1v-1h1zM420 390h1v1h1v1h-1v1h-1v-1h-1v-1h1zM430 398h1v1h1v1h-1v1h-1v-1h-1v-1h1zM440 408h1v1h1v1h-1v1h-1v-1h-1v-1h1zM450 409h1v1h1v1h-1v1h-1v-1h-1v-1h1zM460 402h1v1h1v1h-1v1h-1v-1h-1v-1h1zM470 400h1v1h1v1h-1v1h-1v-1h-1v-1h1zM480 400h1v1h1v1h-1v1h-1v-1h-1v-1h1zM490 393h1v1h1v1h-1v1h-1v-1h-1v-1h1zM500 385h1v1h1v1h-1v1h-1v-1h-1v-1h1zM510 377h1v1h1v1h-1v1h-1v-1h-1v-1h1zM520 375h1v1h1v1h-1v1h-1v-1h-1v-1h1zM530 370h1v1h1v1h-1v1h-1v-1h-1v-1h1zM540 367h1v1h1v1h-1v1h-1v-1h-1v-1h1zM550 365h1v1h1v1h-1v1h-1v-1h-1v-1h1zM560 368h1v1h1v1h-1v1h-1v-1h-1v-1h1zM570 368h1v1h1v1h-1v1h-1v-1h-1v-1h1zM580 370h1v1h1v1h-1v1h-1v-1h-1v-1h1zM590 364h1v1h1v1h-1v1h-1v-1h-1v-1h1zM600 350h1v1h1v1h-1v1h-1v-1h-1v-1h1zM610 330h1v1h1v1h-1v1h-1v-1h-1v-1h1zM620 315h1v1h1v1h-1v1h-1v-1h-1v-1h1zM630 304h1v1h1v1h-1v1h-1v-1h-1v-1h1zM640 295h1v1h1v1h-1v1h-1v-1h-1v-1h1zM650 289h1v1h1v1h-1v1h-1v-1h-1v-1h1zM660 288h1v1h1v1h-1v1h-1v-1h-1v-1h1zM670 288h1v1h1v1h-1v1h-1v-1h-1v-1h1zM680 288h1v1h1v1h-1v1h-1v-1h-1v-1h1zM690 283h1v1h1v1h-1v1h-1v-1h-1v-1h1z" fill="#00d860"/>
<polyline points="50.5,269.2 60.5,279.6 70.5,291.3 80.5,302.7 90.5,317.7 100.5,329.1 110.5,337.2 120.5,344.9 130.5,342.3 140.5,338.1 150.5,330.9 160.5,327.3 170.5,318.1 180.5,321.7 190.5,322.3 200.5,326.9 210.5,331.8 220.5,335.5 230.5,340.5 240.5,335.8 250.5,341.5 260.5,343.0 270.5,335.5 280.5,325.5 290.5,312.5 300.5,296.5 310.5,283.0 320.5,278.0 330.5,274.5 340.5,284.5 350.5,310.5 360.5,330.5 370.5,355.5 380.5,378.0 390.5,392.5 400.5,410.5 410.5,430.5 420.5,452.5 430.5,490.5 440.5,530.5 450.5,565.5 460.5,573.8 470.5,582.2 480.5,590.5 490.5,588.8 500.5,587.2 510.5,585.5 520.5,575.5 530.5,565.5 540.5,545.5 550.5,525.5 560.5,518.0 570.5,526.5 580.5,545.5 590.5,564.5 600.5,575.5 610.5,568.0 620.5,553.0 630.5,540.5 640.5,529.5 650.5,508.0 660.5,486.5 670.5,469.5 680.5,451.5 690.5,433.0" fill="none" stroke="#204060" stroke-width="1" /><path d="M50 268h1v1h1v1h-1v1h-1v-1h-1v-1h1zM60 278h1v1h1v1h-1v1h-1v-1h-1v-1h1zM70 290h1v1h1v1h-1v1h-1v-1h-1v-1h1zM80 301h1v1h1v1h-1v1h-1v-1h-1v-1h1zM90 316h1v1h1v1h-1v1h-1v-1h-1v-1h1zM100 328h1v1h1v1h-1v1h-1v-1h-1v-1h1zM110 336h1v1h1v1h-1v1h-1v-1h-1v-1h1zM120 343h1v1h1v1h-1v1h-1v-1h-1v-1h1zM130 341h1v1h1v1h-1v1h-1v-1h-1v-1h1zM140 337h1v1h1v1h-1v1h-1v-1h-1v-1h1zM150 329h1v1h1v1h-1v1h-1v-1h-1v-1h1zM160 326h1v1h1v1h-1v1h-1v-1h-1v-1h1zM170 317h1v1h1v1h-1v1h-1v-1h-1v-1h1zM180 320h1v1h1v1h-1v1h-1v-1h-1v-1h1zM190 321h1v1h1v1h-1v1h-1v-1h-1v-1h1zM200 325h1v1h1v1h-1v1h-1v-1h-1v-1h1zM210 330h1v1h1v1h-1v1h-1v-1h-1v-1h1zM220 334h1v1h1v1h-1v1h-1v-1h-1v-1h1zM230 339h1v1h1v1h-1v1h-1v-1h-1v-1h1zM240 334h1v1h1v1h-1v1h-1v-1h-1v-1h1zM250 340h1v1h1v1h-1v1h-1v-1h-1v-1h1zM260 342h1v1h1v1h-1v1h-1v-1h-1v-1h1zM270 334h1v1h1v1h-1v1h-1v-1h-1v-1h1zM280 324h1v1h1v1h-1v1h-1v-1h-1v-1h1zM290 311h1v1h1v1h-1v1h-1v-1h-1v-1h1zM300 295h1v1h1v1h-1v1h-1v-1h-1v-1h1zM310 282h1v1h1v1h-1v1h-1v-1h-1v-1h1zM320 277h1v1h1v1h-1v1h-1v-1h-1v-1h1zM330 273h1v1h1v1h-1v1h-1v-1h-1v-1h1zM340 283h1v1h1v1h-1v1h-1v-1h-1v-1h1zM350 309h1v1h1v1h-1v1h-1v-1h-1v-1h1zM360 329h1v1h1v1h-1v1h-1v-1h-1v-1h1zM370 354h1v1h1v1h-1v1h-1v-1h-1v-1h1zM380 377h1v1h1v1h-1v1h-1v-1h-1v-1h1zM390 391h1v1h1v1h-1v1h-1v-1h-1v-1h1zM400 409h1v1h1v1h-1v1h-1v-1h-1v-1h1zM410 429h1v1h1v1h-1v1h-1v-1h-1v-1h1zM420 451h1v1h1v1h-1v1h-1v-1h-1v-1h1zM430 489h1v1h1v1h-1v1h-1v-1h-1v-1h1zM440 529h1v1h1v1h-1v1h-1v-1h-1v-1h1zM450 564h1v1h1v1h-1v1h-1v-1h-1v-1h1zM460 572h1v1h1v1h-1v1h-1v-1h-1v-1h1zM470 581h1v1h1v1h-1v1h-1v-1h-1v-1h1zM480 589h1v1h1v1h-1v1h-1v-1h-1v-1h1zM490 587h1v1h1v1h-1v1h-1v-1h-1v-1h1zM500 586h1v1h1v1h-1v1h-1v-1h-1v-1h1zM510 584h1v1h1v1h-1v1h-1v-1h-1v-1h1zM520 574h1v1h1v1h-1v1h-1v-1h-1v-1h1zM530 564h1v1h1v1h-1v1h-1v-1h-1v-1h1zM540 544h1v1h1v1h-1v1h-1v-1h-1v-1h1zM550 524h1v1h1v1h-1v1h-1v-1h-1v-1h1zM560 517h1v1h1v1h-1v1h-1v-1h-1v-1h1zM570 525h1v1h1v1h-1v1h-1v-1h-1v-1h1zM580 544h1v1h1v1h-1v1h-1v-1h-1v-1h1zM590 563h1v1h1v1h-1v1h-1v-1h-1v-1h1zM600 574h1v1h1v1h-1v1h-1v-1h-1v-1h1zM610 567h1v1h1v1h-1v1h-1v-1h-1v-1h1zM620 552h1v1h1v1h-1v1h-1v-1h-1v-1h1zM630 539h1v1h1v1h-1v1h-1v-1h-1v-1h1zM640 528h1v1h1v1h-1v1h-1v-1h-1v-1h1zM650 507h1v1h1v1h-1v1h-1v-1h-1v-1h1zM660 485h1v1h1v1h-1v1h-1v-1h-1v-1h1zM670 468h1v1h1v1h-1v1h-1v-1h-1v-1h1zM680 450h1v1h1v1h-1v1h-1v-1h-1v-1h1zM690 432h1v1h1v1h-1v1h-1v-1h-1v-1h1z" fill="#204060"/>
<polyline points="50.5,268.5 60.5,280.2 70.5,292.2 80.5,303.8 90.5,318.8 100.5,332.1 110.5,342.0 120.5,348.9 130.5,344.1 140.5,340.1 150.5,334.8 160.5,327.5 170.5,321.2 180.5,324.4 190.5,327.1 200.5,331.2 210.5,330.7 220.5,338.5 230.5,340.8 240.5,336.7 250.5,345.5 260.5,340.8 270.5,332.5 280.5,340.5 290.5,315.5 300.5,300.5 310.5,286.8 320.5,292.5 330.5,290.5 340.5,297.5 350.5,310.0 360.5,329.5 370.5,353.5 380.5,379.5 390.5,400.5 400.5,419.5 410.5,435.5 420.5,448.0 430.5,457.8 440.5,463.0 450.5,471.0 460.5,478.0 470.5,487.1 480.5,502.5 490.5,511.2 500.5,520.5 510.5,529.8 520.5,530.5 530.5,524.1 540.5,525.5 550.5,524.9 560.5,518.0 570.5,511.5 580.5,506.5 590.5,501.5 600.5,496.5 610.5,485.5 620.5,480.5 630.5,470.0 640.5,456.5 650.5,443.0 660.5,428.0 670.5,415.5 680.5,405.5 690.5,397.5" fill="none" stroke="#607080" stroke-width="1" /><path d="M50 267h1v1h1v1h-1v1h-1v-1h-1v-1h1zM60 279h1v1h1v1h-1v1h-1v-1h-1v-1h1zM70 291h1v1h1v1h-1v1h-1v-1h-1v-1h1zM80 302h1v1h1v1h-1v1h-1v-1h-1v-1h1zM90 317h1v1h1v1h-1v1h-1v-1h-1v-1h1zM100 331h1v1h1v1h-1v1h-1v-1h-1v-1h1zM110 340h1v1h1v1h-1v1h-1v-1h-1v-1h1zM120 347h1v1h1v1h-1v1h-1v-1h-1v-1h1zM130 343h1v1h1v1h-1v1h-1v-1h-1v-1h1zM140 339h1v1h1v1h-1v1h-1v-1h-1v-1h1zM150 333h1v1h1v1h-1v1h-1v-1h-1v-1h1zM160 326h1v1h1v1h-1v1h-1v-1h-1v-1h1zM170 320h1v1h1v1h-1v1h-1v-1h-1v-1h1zM180 323h1v1h1v1h-1v1h-1v-1h-1v-1h1zM190 326h1v1h1v1h-1v1h-1v-1h-1v-1h1zM200 330h1v1h1v1h-1v1h-1v-1h-1v-1h1zM210 329h1v1h1v1h-1v1h-1v-1h-1v-1h1zM220 337h1v1h1v1h-1v1h-1v-1h-1v-1h1zM230 339h1v1h1v1h-1v1h-1v-1h-1v-1h1zM240 335h1v1h1v1h-1v1h-1v-1h-1v-1h1zM250 344h1v1h1v1h-1v1h-1v-1h-1v-1h1zM260 339h1v1h1v1h-1v1h-1v-1h-1v-1h1zM270 331h1v1h1v1h-1v1h-1v-1h-1v-1h1zM280 339h1v1h1v1h-1v1h-1v-1h-1v-1h1zM290 314h1v1h1v1h-1v1h-1v-1h-1v-1h1zM300 299h1v1h1v1h-1v1h-1v-1h-1v-1h1zM310 285h1v1h1v1h-1v1h-1v-1h-1v-1h1zM320 291h1v1h1v1h-1v1h-1v-1h-1v-1h1zM330 289h1v1h1v1h-1v1h-1v-1h-1v-1h1zM340 296h1v1h1v1h-1v1h-1v-1h-1v-1h1zM350 309h1v1h1v1h-1v1h-1v-1h-1v-1h1zM360 328h1v1h1v1h-1v1h-1v-1h-1v-1h1zM370 352h1v1h1v1h-1v1h-1v-1h-1v-1h1zM380 378h1v1h1v1h-1v1h-1v-1h-1v-1h1zM390 399h1v1h1v1h-1v1h-1v-1h-1v-1h1zM400 418h1v1h1v1h-1v1h-1v-1h-1v-1h1zM410 434h1v1h1v1h-1v1h-1v-1h-1v-1h1zM420 447h1v1h1v1h-1v1h-1v-1h-1v-1h1zM430 456h1v1h1v1h-1v1h-1v-1h-1v-1h1zM440 462h1v1h1v1h-1v1h-1v-1h-1v-1h1zM450 470h1v1h1v1h-1v1h-1v-1h-1v-1h1zM460 477h1v1h1v1h-1v1h-1v-1h-1v-1h1zM470 486h1v1h1v1h-1v1h-1v-1h-1v-1h1zM480 501h1v1h1v1h-1v1h-1v-1h-1v-1h1zM490 510h1v1h1v1h-1v1h-1v-1h-1v-1h1zM500 519h1v1h1v1h-1v1h-1v-1h-1v-1h1zM510 528h1v1h1v1h-1v1h-1v-1h-1v-1h1zM520 529h1v1h1v1h-1v1h-1v-1h-1v-1h1zM530 523h1v1h1v1h-1v1h-1v-1h-1v-1h1zM540 524h1v1h1v1h-1v1h-1v-1h-1v-1h1zM550 523h1v1h1v1h-1v1h-1v-1h-1v-1h1zM560 517h1v1h1v1h-1v1h-1v-1h-1v-1h1zM570 510h1v1h1v1h-1v1h-1v-1h-1v-1h1zM580 505h1v1h1v1h-1v1h-1v-1h-1v-1h1zM590 500h1v1h1v1h-1v1h-1v-1h-1v-1h1zM600 495h1v1h1v1h-1v1h-1v-1h-1v-1h1zM610 484h1v1h1v1h-1v1h-1v-1h-1v-1h1zM620 479h1v1h1v1h-1v1h-1v-1h-1v-1h1zM630 469h1v1h1v1h-1v1h-1v-1h-1v-1h1zM640 455h1v1h1v1h-1v1h-1v-1h-1v-1h1zM650 442h1v1h1v1h-1v1h-1v-1h-1v-1h1zM660 427h1v1h1v1h-1v1h-1v-1h-1v-1h1zM670 414h1v1h1v1h-1v1h-1v-1h-1v-1h1zM680 404h1v1h1v1h-1v1h-1v-1h-1v-1h1zM690 396h1v1h1v1h-1v1h-1v-1h-1v-1h1z" fill="#607080"/>
<polyline points="50.5,266.5 60.5,277.2 70.5,289.0 80.5,298.4 90.5,311.5 100.5,323.2 110.5,331.1 120.5,335.9 130.5,334.6 140.5,331.9 150.5,324.6 160.5,316.7 170.5,308.5 180.5,309.8 190.5,314.0 200.5,317.8 210.5,317.0 220.5,322.5 230.5,326.8 240.5,322.0 250.5,315.5 260.5,313.2 270.5,305.5 280.5,295.5 290.5,275.5 300.5,250.5 310.5,228.0 320.5,211.5 330.5,206.5 340.5,208.0 350.5,215.5 360.5,230.5 370.5,250.5 380.5,265.5 390.5,285.5 400.5,300.5 410.5,320.5 420.5,345.5 430.5,375.5 440.5,420.5 450.5,470.5 460.5,520.5 470.5,560.5 480.5,573.0 490.5,585.5 500.5,583.8 510.5,582.2 520.5,580.5 530.5,570.5 540.5,560.5 550.5,470.5 560.5,420.5 570.5,399.5 580.5,400.5 590.5,402.5 600.5,406.1 610.5,401.9 620.5,392.5 630.5,380.5 640.5,374.5 650.5,368.1 660.5,368.9 670.5,370.5 680.5,385.0 690.5,450.5" fill="none" stroke="#e070f0" stroke-width="1" /><path d="M50 265h1v1h1v1h-1v1h-1v-1h-1v-1h1zM60 276h1v1h1v1h-1v1h-1v-1h-1v-1h1zM70 288h1v1h1v1h-1v1h-1v-1h-1v-1h1zM80 297h1v1h1v1h-1v1h-1v-1h-1v-1h1zM90 310h1v1h1v1h-1v1h-1v-1h-1v-1h1zM100 322h1v1h1v1h-1v1h-1v-1h-1v-1h1zM110 330h1v1h1v1h-1v1h-1v-1h-1v-1h1zM120 334h1v1h1v1h-1v1h-1v-1h-1v-1h1zM130 333h1v1h1v1h-1v1h-1v-1h-1v-1h1zM140 330h1v1h1v1h-1v1h-1v-1h-1v-1h1zM150 323h1v1h1v1h-1v1h-1v-1h-1v-1h1zM160 315h1v1h1v1h-1v1h-1v-1h-1v-1h1zM170 307h1v1h1v1h-1v1h-1v-1h-1v-1h1zM180 308h1v1h1v1h-1v1h-1v-1h-1v-1h1zM190 313h1v1h1v1h-1v1h-1v-1h-1v-1h1zM200 316h1v1h1v1h-1v1h-1v-1h-1v-1h1zM210 316h1v1h1v1h-1v1h-1v-1h-1v-1h1zM220 321h1v1h1v1h-1v1h-1v-1h-1v-1h1zM230 325h1v1h1v1h-1v1h-1v-1h-1v-1h1zM240 320h1v1h1v1h-1v1h-1v-1h-1v-1h1zM250 314h1v1h1v1h-1v1h-1v-1h-1v-1h1zM260 312h1v1h1v1h-1v1h-1v-1h-1v-1h1zM270 304h1v1h1v1h-1v1h-1v-1h-1v-1h1zM280 294h1v1h1v1h-1v1h-1v-1h-1v-1h1zM290 274h1v1h1v1h-1v1h-1v-1h-1v-1h1zM300 249h1v1h1v1h-1v1h-1v-1h-1v-1h1zM310 227h1v1h1v1h-1v1h-1v-1h-1v-1h1zM320 210h1v1h1v1h-1v1h-1v-1h-1v-1h1zM330 205h1v1h1v1h-1v1h-1v-1h-1v-1h1zM340 207h1v1h1v1h-1v1h-1v-1h-1v-1h1zM350 214h1v1h1v1h-1v1h-1v-1h-1v-1h1zM360 229h1v1h1v1h-1v1h-1v-1h-1v-1h1zM370 249h1v1h1v1h-1v1h-1v-1h-1v-1h1zM380 264h1v1h1v1h-1v1h-1v-1h-1v-1h1zM390 284h1v1h1v1h-1v1h-1v-1h-1v-1h1zM400 299h1v1h1v1h-1v1h-1v-1h-1v-1h1zM410 319h1v1h1v1h-1v1h-1v-1h-1v-1h1zM420 344h1v1h1v1h-1v1h-1v-1h-1v-1h1zM430 374h1v1h1v1h-1v1h-1v-1h-1v-1h1zM440 419h1v1h1v1h-1v1h-1v-1h-1v-1h1zM450 469h1v1h1v1h-1v1h-1v-1h-1v-1h1zM460 519h1v1h1v1h-1v1h-1v-1h-1v-1h1zM470 559h1v1h1v1h-1v1h-1v-1h-1v-1h1zM480 572h1v1h1v1h-1v1h-1v-1h-1v-1h1zM490 584h1v1h1v1h-1v1h-1v-1h-1v-1h1zM500 582h1v1h1v1h-1v1h-1v-1h-1v-1h1zM510 581h1v1h1v1h-1v1h-1v-1h-1v-1h1zM520 579h1v1h1v1h-1v1h-1v-1h-1v-1h1zM530 569h1v1h1v1h-1v1h-1v-1h-1v-1h1zM540 559h1v1h1v1h-1v1h-1v-1h-1v-1h1zM550 469h1v1h1v1h-1v1h-1v-1h-1v-1h1zM560 419h1v1h1v1h-1v1h-1v-1h-1v-1h1zM570 398h1v1h1v1h-1v1h-1v-1h-1v-1h1zM580 399h1v1h1v1h-1v1h-1v-1h-1v-1h1zM590 401h1v1h1v1h-1v1h-1v-1h-1v-1h1zM600 405h1v1h1v1h-1v1h-1v-1h-1v-1h1zM610 400h1v1h1v1h-1v1h-1v-1h-1v-1h1zM620 391h1v1h1v1h-1v1h-1v-1h-1v-1h1zM630 379h1v1h1v1h-1v1h-1v-1h-1v-1h1zM640 373h1v1h1v1h-1v1h-1v-1h-1v-1h1zM650 367h1v1h1v1h-1v1h-1v-1h-1v-1h1zM660 367h1v1h1v1h-1v1h-1v-1h-1v-1h1zM670 369h1v1h1v1h-1v1h-1v-1h-1v-1h1zM680 384h1v1h1v1h-1v1h-1v-1h-1v-1h1zM690 449h1v1h1v1h-1v1h-1v-1h-1v-1h1z" fill="#e070f0"/>
<polyline points="50.5,266.0 60.5,276.1 70.5,286.5 80.5,296.7 90.5,309.0 100.5,321.3 110.5,327.3 120.5,333.3 130.5,332.0 140.5,328.6 150.5,318.4 160.5,313.9 170.5,306.3 180.5,304.2 190.5,307.4 200.5,311.4 210.5,309.7 220.5,321.5 230.5,320.5 240.5,321.5 250.5,320.5 260.5,318.0 270.5,317.2 280.5,316.5 290.5,313.2 300.5,310.5 310.5,310.0 320.5,300.5 325.5,292.5 330.5,263.0 340.5,220.5 350.5,191.5 360.5,186.5 370.5,200.5 380.5,219.5 390.5,238.0 400.5,262.5 410.5,300.5 420.5,350.5 430.5,410.5 440.5,470.5 450.5,520.5 460.5,550.5 470.5,575.5 480.5,594.9 480.8,595.5 490.5,634.1 491.1,636.5 500.2,595.5 500.5,594.5 510.5,560.5 520.5,540.5 530.5,516.3 540.5,500.5 550.5,481.4 560.5,455.5 570.5,398.0 580.5,340.5 590.5,311.5 600.5,313.0 610.5,304.5 620.5,301.5 630.5,305.5 640.5,316.5 650.5,301.5 660.5,290.5 670.5,280.5 680.5,275.5 690.5,268.0" fill="none" stroke="#8020f0" stroke-width="1" /><path d="M50 264h1v1h1v1h-1v1h-1v-1h-1v-1h1zM60 275h1v1h1v1h-1v1h-1v-1h-1v-1h1zM70 285h1v1h1v1h-1v1h-1v-1h-1v-1h1zM80 295h1v1h1v1h-1v1h-1v-1h-1v-1h1zM90 307h1v1h1v1h-1v1h-1v-1h-1v-1h1zM100 320h1v1h1v1h-1v1h-1v-1h-1v-1h1zM110 326h1v1h1v1h-1v1h-1v-1h-1v-1h1zM120 332h1v1h1v1h-1v1h-1v-1h-1v-1h1zM130 330h1v1h1v1h-1v1h-1v-1h-1v-1h1zM140 327h1v1h1v1h-1v1h-1v-1h-1v-1h1zM150 317h1v1h1v1h-1v1h-1v-1h-1v-1h1zM160 312h1v1h1v1h-1v1h-1v-1h-1v-1h1zM170 305h1v1h1v1h-1v1h-1v-1h-1v-1h1zM180 303h1v1h1v1h-1v1h-1v-1h-1v-1h1zM190 306h1v1h1v1h-1v1h-1v-1h-1v-1h1zM200 310h1v1h1v1h-1v1h-1v-1h-1v-1h1zM210 308h1v1h1v1h-1v1h-1v-1h-1v-1h1zM220 320h1v1h1v1h-1v1h-1v-1h-1v-1h1zM230 319h1v1h1v1h-1v1h-1v-1h-1v-1h1zM240 320h1v1h1v1h-1v1h-1v-1h-1v-1h1zM250 319h1v1h1v1h-1v1h-1v-1h-1v-1h1zM260 317h1v1h1v1h-1v1h-1v-1h-1v-1h1zM270 316h1v1h1v1h-1v1h-1v-1h-1v-1h1zM280 315h1v1h1v1h-1v1h-1v-1h-1v-1h1zM290 312h1v1h1v1h-1v1h-1v-1h-1v-1h1zM300 309h1v1h1v1h-1v1h-1v-1h-1v-1h1zM310 309h1v1h1v1h-1v1h-1v-1h-1v-1h1zM320 299h1v1h1v1h-1v1h-1v-1h-1v-1h1zM330 262h1v1h1v1h-1v1h-1v-1h-1v-1h1zM340 219h1v1h1v1h-1v1h-1v-1h-1v-1h1zM350 190h1v1h1v1h-1v1h-1v-1h-1v-1h1zM360 185h1v1h1v1h-1v1h-1v-1h-1v-1h1zM370 199h1v1h1v1h-1v1h-1v-1h-1v-1h1zM380 218h1v1h1v1h-1v1h-1v-1h-1v-1h1zM390 237h1v1h1v1h-1v1h-1v-1h-1v-1h1zM400 261h1v1h1v1h-1v1h-1v-1h-1v-1h1zM410 299h1v1h1v1h-1v1h-1v-1h-1v-1h1zM420 349h1v1h1v1h-1v1h-1v-1h-1v-1h1zM430 409h1v1h1v1h-1v1h-1v-1h-1v-1h1zM440 469h1v1h1v1h-1v1h-1v-1h-1v-1h1zM450 519h1v1h1v1h-1v1h-1v-1h-1v-1h1zM460 549h1v1h1v1h-1v1h-1v-1h-1v-1h1zM470 574h1v1h1v1h-1v1h-1v-1h-1v-1h1zM480 593h1v1h1v1h-1v1h-1v-1h-1v-1h1zM490 633h1v1h1v1h-1v1h-1v-1h-1v-1h1zM500 593h1v1h1v1h-1v1h-1v-1h-1v-1h1zM510 559h1v1h1v1h-1v1h-1v-1h-1v-1h1zM520 539h1v1h1v1h-1v1h-1v-1h-1v-1h1zM530 515h1v1h1v1h-1v1h-1v-1h-1v-1h1zM540 499h1v1h1v1h-1v1h-1v-1h-1v-1h1zM550 480h1v1h1v1h-1v1h-1v-1h-1v-1h1zM560 454h1v1h1v1h-1v1h-1v-1h-1v-1h1zM570 397h1v1h1v1h-1v1h-1v-1h-1v-1h1zM580 339h1v1h1v1h-1v1h-1v-1h-1v-1h1zM590 310h1v1h1v1h-1v1h-1v-1h-1v-1h1zM600 312h1v1h1v1h-1v1h-1v-1h-1v-1h1zM610 303h1v1h1v1h-1v1h-1v-1h-1v-1h1zM620 300h1v1h1v1h-1v1h-1v-1h-1v-1h1zM630 304h1v1h1v1h-1v1h-1v-1h-1v-1h1zM640 315h1v1h1v1h-1v1h-1v-1h-1v-1h1zM650 300h1v1h1v1h-1v1h-1v-1h-1v-1h1zM660 289h1v1h1v1h-1v1h-1v-1h-1v-1h1zM670 279h1v1h1v1h-1v1h-1v-1h-1v-1h1zM680 274h1v1h1v1h-1v1h-1v-1h-1v-1h1zM690 267h1v1h1v1h-1v1h-1v-1h-1v-1h1z" fill="#8020f0"/>
<polyline points="50.5,266.5 60.5,276.3 70.5,286.3 80.5,296.1 90.5,308.3 100.5,319.4 110.5,325.5 120.5,331.4 130.5,328.3 140.5,325.1 150.5,319.5 160.5,314.9 170.5,303.5 180.5,306.3 190.5,307.5 200.5,313.9 210.5,316.1 220.5,320.5 230.5,319.1 240.5,336.4 250.5,330.5 260.5,339.0 270.5,328.5 280.5,329.4 290.5,328.5 300.5,331.0 310.5,337.5 320.5,348.0 330.5,358.5 340.5,365.5 350.5,361.5 360.5,357.0 370.5,358.5 380.5,372.5 390.5,382.5 400.5,391.5 410.5,378.0 420.5,358.5 430.5,345.5 440.5,350.5 450.5,380.5 460.5,430.5 470.5,490.5 480.5,540.5 490.5,580.5 500.5,578.8 510.5,577.2 520.5,575.5 530.5,560.5 540.5,545.5 550.5,500.5 560.5,470.5 570.5,433.1 580.5,452.5 590.5,459.3 600.5,462.5 610.5,463.5 620.5,462.5 630.5,451.5 640.5,436.5 650.5,433.1 660.5,453.5 670.5,409.5 680.5,424.5 690.5,441.5" fill="none" stroke="#806020" stroke-width="1" /><path d="M50 265h1v1h1v1h-1v1h-1v-1h-1v-1h1zM60 275h1v1h1v1h-1v1h-1v-1h-1v-1h1zM70 285h1v1h1v1h-1v1h-1v-1h-1v-1h1zM80 295h1v1h1v1h-1v1h-1v-1h-1v-1h1zM90 307h1v1h1v1h-1v1h-1v-1h-1v-1h1zM100 318h1v1h1v1h-1v1h-1v-1h-1v-1h1zM110 324h1v1h1v1h-1v1h-1v-1h-1v-1h1zM120 330h1v1h1v1h-1v1h-1v-1h-1v-1h1zM130 327h1v1h1v1h-1v1h-1v-1h-1v-1h1zM140 324h1v1h1v1h-1v1h-1v-1h-1v-1h1zM150 318h1v1h1v1h-1v1h-1v-1h-1v-1h1zM160 313h1v1h1v1h-1v1h-1v-1h-1v-1h1zM170 302h1v1h1v1h-1v1h-1v-1h-1v-1h1zM180 305h1v1h1v1h-1v1h-1v-1h-1v-1h1zM190 306h1v1h1v1h-1v1h-1v-1h-1v-1h1zM200 312h1v1h1v1h-1v1h-1v-1h-1v-1h1zM210 315h1v1h1v1h-1v1h-1v-1h-1v-1h1zM220 319h1v1h1v1h-1v1h-1v-1h-1v-1h1zM230 318h1v1h1v1h-1v1h-1v-1h-1v-1h1zM240 335h1v1h1v1h-1v1h-1v-1h-1v-1h1zM250 329h1v1h1v1h-1v1h-1v-1h-1v-1h1zM260 337h1v1h1v1h-1v1h-1v-1h-1v-1h1zM270 327h1v1h1v1h-1v1h-1v-1h-1v-1h1zM280 328h1v1h1v1h-1v1h-1v-1h-1v-1h1zM290 327h1v1h1v1h-1v1h-1v-1h-1v-1h1zM300 330h1v1h1v1h-1v1h-1v-1h-1v-1h1zM310 336h1v1h1v1h-1v1h-1v-1h-1v-1h1zM320 347h1v1h1v1h-1v1h-1v-1h-1v-1h1zM330 357h1v1h1v1h-1v1h-1v-1h-1v-1h1zM340 364h1v1h1v1h-1v1h-1v-1h-1v-1h1zM350 360h1v1h1v1h-1v1h-1v-1h-1v-1h1zM360 356h1v1h1v1h-1v1h-1v-1h-1v-1h1zM370 357h1v1h1v1h-1v1h-1v-1h-1v-1h1zM380 371h1v1h1v1h-1v1h-1v-1h-1v-1h1zM390 381h1v1h1v1h-1v1h-1v-1h-1v-1h1zM400 390h1v1h1v1h-1v1h-1v-1h-1v-1h1zM410 377h1v1h1v1h-1v1h-1v-1h-1v-1h1zM420 357h1v1h1v1h-1v1h-1v-1h-1v-1h1zM430 344h1v1h1v1h-1v1h-1v-1h-1v-1h1zM440 349h1v1h1v1h-1v1h-1v-1h-1v-1h1zM450 379h1v1h1v1h-1v1h-1v-1h-1v-1h1zM460 429h1v1h1v1h-1v1h-1v-1h-1v-1h1zM470 489h1v1h1v1h-1v1h-1v-1h-1v-1h1zM480 539h1v1h1v1h-1v1h-1v-1h-1v-1h1zM490 579h1v1h1v1h-1v1h-1v-1h-1v-1h1zM500 577h1v1h1v1h-1v1h-1v-1h-1v-1h1zM510 576h1v1h1v1h-1v1h-1v-1h-1v-1h1zM520 574h1v1h1v1h-1v1h-1v-1h-1v-1h1zM530 559h1v1h1v1h-1v1h-1v-1h-1v-1h1zM540 544h1v1h1v1h-1v1h-1v-1h-1v-1h1zM550 499h1v1h1v1h-1v1h-1v-1h-1v-1h1zM560 469h1v1h1v1h-1v1h-1v-1h-1v-1h1zM570 432h1v1h1v1h-1v1h-1v-1h-1v-1h1zM580 451h1v1h1v1h-1v1h-1v-1h-1v-1h1zM590 458h1v1h1v1h-1v1h-1v-1h-1v-1h1zM600 461h1v1h1v1h-1v1h-1v-1h-1v-1h1zM610 462h1v1h1v1h-1v1h-1v-1h-1v-1h1zM620 461h1v1h1v1h-1v1h-1v-1h-1v-1h1zM630 450h1v1h1v1h-1v1h-1v-1h-1v-1h1zM640 435h1v1h1v1h-1v1h-1v-1h-1v-1h1zM650 432h1v1h1v1h-1v1h-1v-1h-1v-1h1zM660 452h1v1h1v1h-1v1h-1v-1h-1v-1h1zM670 408h1v1h1v1h-1v1h-1v-1h-1v-1h1zM680 423h1v1h1v1h-1v1h-1v-1h-1v-1h1zM690 440h1v1h1v1h-1v1h-1v-1h-1v-1h1z" fill="#806020"/>
<polyline points="50.5,261.1 60.5,270.9 70.5,278.6 80.5,286.8 90.5,296.1 100.5,304.0 110.5,309.0 120.5,309.9 130.5,303.2 140.5,296.1 150.5,286.5 160.5,278.0 170.5,274.5 180.5,269.5 190.5,264.5 200.5,262.5 210.5,269.5 220.5,279.5 230.5,289.5 240.5,291.5 250.5,291.5 260.5,305.5 270.5,315.5 280.5,332.5 290.5,348.0 300.5,355.5 310.5,330.5 320.5,300.5 330.5,275.5 340.5,253.0 350.5,254.5 360.5,273.0 370.5,290.5 380.5,303.0 390.5,345.5 400.5,361.5 410.5,366.5 420.5,366.5 430.5,366.5 440.5,368.5 450.5,366.5 460.5,366.5 470.5,362.5 480.5,365.0 490.5,365.0 500.5,367.5 510.5,369.5 520.5,370.5 530.5,371.5 540.5,377.5 550.5,384.5 560.5,388.5 570.5,388.5 580.5,391.5 590.5,394.5 600.5,395.5 610.5,396.5 620.5,408.0 630.5,415.5 640.5,419.5 650.5,414.5 660.5,400.5 670.5,390.5 680.5,375.5 690.5,356.5" fill="none" stroke="#300070" stroke-width="1" /><path d="M50 260h1v1h1v1h-1v1h-1v-1h-1v-1h1zM60 269h1v1h1v1h-1v1h-1v-1h-1v-1h1zM70 277h1v1h1v1h-1v1h-1v-1h-1v-1h1zM80 285h1v1h1v1h-1v1h-1v-1h-1v-1h1zM90 295h1v1h1v1h-1v1h-1v-1h-1v-1h1zM100 303h1v1h1v1h-1v1h-1v-1h-1v-1h1zM110 308h1v1h1v1h-1v1h-1v-1h-1v-1h1zM120 308h1v1h1v1h-1v1h-1v-1h-1v-1h1zM130 302h1v1h1v1h-1v1h-1v-1h-1v-1h1zM140 295h1v1h1v1h-1v1h-1v-1h-1v-1h1zM150 285h1v1h1v1h-1v1h-1v-1h-1v-1h1zM160 277h1v1h1v1h-1v1h-1v-1h-1v-1h1zM170 273h1v1h1v1h-1v1h-1v-1h-1v-1h1zM180 268h1v1h1v1h-1v1h-1v-1h-1v-1h1zM190 263h1v1h1v1h-1v1h-1v-1h-1v-1h1zM200 261h1v1h1v1h-1v1h-1v-1h-1v-1h1zM210 268h1v1h1v1h-1v1h-1v-1h-1v-1h1zM220 278h1v1h1v1h-1v1h-1v-1h-1v-1h1zM230 288h1v1h1v1h-1v1h-1v-1h-1v-1h1zM240 290h1v1h1v1h-1v1h-1v-1h-1v-1h1zM250 290h1v1h1v1h-1v1h-1v-1h-1v-1h1zM260 304h1v1h1v1h-1v1h-1v-1h-1v-1h1zM270 314h1v1h1v1h-1v1h-1v-1h-1v-1h1zM280 331h1v1h1v1h-1v1h-1v-1h-1v-1h1zM290 347h1v1h1v1h-1v1h-1v-1h-1v-1h1zM300 354h1v1h1v1h-1v1h-1v-1h-1v-1h1zM310 329h1v1h1v1h-1v1h-1v-1h-1v-1h1zM320 299h1v1h1v1h-1v1h-1v-1h-1v-1h1zM330 274h1v1h1v1h-1v1h-1v-1h-1v-1h1zM340 252h1v1h1v1h-1v1h-1v-1h-1v-1h1zM350 253h1v1h1v1h-1v1h-1v-1h-1v-1h1zM360 272h1v1h1v1h-1v1h-1v-1h-1v-1h1zM370 289h1v1h1v1h-1v1h-1v-1h-1v-1h1zM380 302h1v1h1v1h-1v1h-1v-1h-1v-1h1zM390 344h1v1h1v1h-1v1h-1v-1h-1v-1h1zM400 360h1v1h1v1h-1v1h-1v-1h-1v-1h1zM410 365h1v1h1v1h-1v1h-1v-1h-1v-1h1zM420 365h1v1h1v1h-1v1h-1v-1h-1v-1h1zM430 365h1v1h1v1h-1v1h-1v-1h-1v-1h1zM440 367h1v1h1v1h-1v1h-1v-1h-1v-1h1zM450 365h1v1h1v1h-1v1h-1v-1h-1v-1h1zM460 365h1v1h1v1h-1v1h-1v-1h-1v-1h1zM470 361h1v1h1v1h-1v1h-1v-1h-1v-1h1zM480 364h1v1h1v1h-1v1h-1v-1h-1v-1h1zM490 364h1v1h1v1h-1v1h-1v-1h-1v-1h1zM500 366h1v1h1v1h-1v1h-1v-1h-1v-1h1zM510 368h1v1h1v1h-1v1h-1v-1h-1v-1h1zM520 369h1v1h1v1h-1v1h-1v-1h-1v-1h1zM530 370h1v1h1v1h-1v1h-1v-1h-1v-1h1zM540 376h1v1h1v1h-1v1h-1v-1h-1v-1h1zM550 383h1v1h1v1h-1v1h-1v-1h-1v-1h1zM560 387h1v1h1v1h-1v1h-1v-1h-1v-1h1zM570 387h1v1h1v1h-1v1h-1v-1h-1v-1h1zM580 390h1v1h1v1h-1v1h-1v-1h-1v-1h1zM590 393h1v1h1v1h-1v1h-1v-1h-1v-1h1zM600 394h1v1h1v1h-1v1h-1v-1h-1v-1h1zM610 395h1v1h1v1h-1v1h-1v-1h-1v-1h1zM620 407h1v1h1v1h-1v1h-1v-1h-1v-1h1zM630 414h1v1h1v1h-1v1h-1v-1h-1v-1h1zM640 418h1v1h1v1h-1v1h-1v-1h-1v-1h1zM650 413h1v1h1v1h-1v1h-1v-1h-1v-1h1zM660 399h1v1h1v1h-1v1h-1v-1h-1v-1h1zM670 389h1v1h1v1h-1v1h-1v-1h-1v-1h1zM680 374h1v1h1v1h-1v1h-1v-1h-1v-1h1zM690 355h1v1h1v1h-1v1h-1v-1h-1v-1h1z" fill="#300070"/>
<polyline points="50.5,270.0 60.5,283.0 70.5,296.2 80.5,308.3 90.5,323.8 100.5,339.0 110.5,348.0 120.5,357.4 130.5,352.8 140.5,353.3 150.5,347.0 160.5,339.6 170.5,331.0 180.5,333.4 190.5,337.2 200.5,343.4 210.5,358.0 220.5,365.5 230.5,366.5 240.5,368.5 250.5,372.5 260.5,380.5 270.5,399.5 280.5,383.0 290.5,360.5 300.5,352.5 310.5,365.0 320.5,360.2 330.5,346.5 340.5,323.5 350.5,300.2 360.5,272.5 370.5,249.5 380.5,244.5 390.5,229.5 400.5,216.5 410.5,201.5 420.5,191.0 430.5,182.5 440.5,180.5 450.5,178.0 460.5,198.0 470.5,254.5 480.5,348.0 490.5,334.5 500.5,276.5 510.5,262.5 520.5,313.0 530.5,380.5 540.5,383.0 550.5,495.5 560.5,605.5 570.5,667.5 580.5,664.5 590.5,620.5 600.5,525.5 610.5,463.5 620.5,421.5 630.5,404.5 640.5,406.5 650.5,404.5 660.5,400.5 670.5,394.5 680.5,380.5 690.5,369.5" fill="none" stroke="#f0d000" stroke-width="1" /><path d="M50 268h1v1h1v1h-1v1h-1v-1h-1v-1h1zM60 282h1v1h1v1h-1v1h-1v-1h-1v-1h1zM70 295h1v1h1v1h-1v1h-1v-1h-1v-1h1zM80 307h1v1h1v1h-1v1h-1v-1h-1v-1h1zM90 322h1v1h1v1h-1v1h-1v-1h-1v-1h1zM100 337h1v1h1v1h-1v1h-1v-1h-1v-1h1zM110 346h1v1h1v1h-1v1h-1v-1h-1v-1h1zM120 356h1v1h1v1h-1v1h-1v-1h-1v-1h1zM130 351h1v1h1v1h-1v1h-1v-1h-1v-1h1zM140 352h1v1h1v1h-1v1h-1v-1h-1v-1h1zM150 346h1v1h1v1h-1v1h-1v-1h-1v-1h1zM160 338h1v1h1v1h-1v1h-1v-1h-1v-1h1zM170 330h1v1h1v1h-1v1h-1v-1h-1v-1h1zM180 332h1v1h1v1h-1v1h-1v-1h-1v-1h1zM190 336h1v1h1v1h-1v1h-1v-1h-1v-1h1zM200 342h1v1h1v1h-1v1h-1v-1h-1v-1h1zM210 357h1v1h1v1h-1v1h-1v-1h-1v-1h1zM220 364h1v1h1v1h-1v1h-1v-1h-1v-1h1zM230 365h1v1h1v1h-1v1h-1v-1h-1v-1h1zM240 367h1v1h1v1h-1v1h-1v-1h-1v-1h1zM250 371h1v1h1v1h-1v1h-1v-1h-1v-1h1zM260 379h1v1h1v1h-1v1h-1v-1h-1v-1h1zM270 398h1v1h1v1h-1v1h-1v-1h-1v-1h1zM280 382h1v1h1v1h-1v1h-1v-1h-1v-1h1zM290 359h1v1h1v1h-1v1h-1v-1h-1v-1h1zM300 351h1v1h1v1h-1v1h-1v-1h-1v-1h1zM310 364h1v1h1v1h-1v1h-1v-1h-1v-1h1zM320 359h1v1h1v1h-1v1h-1v-1h-1v-1h1zM330 345h1v1h1v1h-1v1h-1v-1h-1v-1h1zM340 322h1v1h1v1h-1v1h-1v-1h-1v-1h1zM350 299h1v1h1v1h-1v1h-1v-1h-1v-1h1zM360 271h1v1h1v1h-1v1h-1v-1h-1v-1h1zM370 248h1v1h1v1h-1v1h-1v-1h-1v-1h1zM380 243h1v1h1v1h-1v1h-1v-1h-1v-1h1zM390 228h1v1h1v1h-1v1h-1v-1h-1v-1h1zM400 215h1v1h1v1h-1v1h-1v-1h-1v-1h1zM410 200h1v1h1v1h-1v1h-1v-1h-1v-1h1zM420 190h1v1h1v1h-1v1h-1v-1h-1v-1h1zM430 181h1v1h1v1h-1v1h-1v-1h-1v-1h1zM440 179h1v1h1v1h-1v1h-1v-1h-1v-1h1zM450 177h1v1h1v1h-1v1h-1v-1h-1v-1h1zM460 197h1v1h1v1h-1v1h-1v-1h-1v-1h1zM470 253h1v1h1v1h-1v1h-1v-1h-1v-1h1zM480 347h1v1h1v1h-1v1h-1v-1h-1v-1h1zM490 333h1v1h1v1h-1v1h-1v-1h-1v-1h1zM500 275h1v1h1v1h-1v1h-1v-1h-1v-1h1zM510 261h1v1h1v1h-1v1h-1v-1h-1v-1h1zM520 312h1v1h1v1h-1v1h-1v-1h-1v-1h1zM530 379h1v1h1v1h-1v1h-1v-1h-1v-1h1zM540 382h1v1h1v1h-1v1h-1v-1h-1v-1h1zM550 494h1v1h1v1h-1v1h-1v-1h-1v-1h1zM560 604h1v1h1v1h-1v1h-1v-1h-1v-1h1zM570 666h1v1h1v1h-1v1h-1v-1h-1v-1h1zM580 663h1v1h1v1h-1v1h-1v-1h-1v-1h1zM590 619h1v1h1v1h-1v1h-1v-1h-1v-1h1zM600 524h1v1h1v1h-1v1h-1v-1h-1v-1h1zM610 462h1v1h1v1h-1v1h-1v-1h-1v-1h1zM620 420h1v1h1v1h-1v1h-1v-1h-1v-1h1zM630 403h1v1h1v1h-1v1h-1v-1h-1v-1h1zM640 405h1v1h1v1h-1v1h-1v-1h-1v-1h1zM650 403h1v1h1v1h-1v1h-1v-1h-1v-1h1zM660 399h1v1h1v1h-1v1h-1v-1h-1v-1h1zM670 393h1v1h1v1h-1v1h-1v-1h-1v-1h1zM680 379h1v1h1v1h-1v1h-1v-1h-1v-1h1zM690 368h1v1h1v1h-1v1h-1v-1h-1v-1h1z" fill="#f0d000"/>
<polyline points="50.5,264.3 60.5,273.6 70.5,284.7 80.5,293.3 90.5,304.7 100.5,315.2 110.5,321.1 120.5,326.3 130.5,319.9 140.5,319.1 150.5,311.7 160.5,305.2 170.5,297.0 180.5,295.9 190.5,297.6 200.5,298.3 210.5,293.5 220.5,310.0 230.5,316.5 240.5,310.5 250.5,300.5 260.5,290.5 270.5,283.5 280.5,275.5 290.5,268.5 300.5,262.5 310.5,250.5 320.5,235.5 330.5,223.0 340.5,225.5 350.5,245.5 360.5,268.0 370.5,290.5 380.5,305.5 390.5,320.5 400.5,335.5 410.5,350.5 420.5,365.5 430.5,380.5 440.5,400.5 450.5,480.5 460.5,540.5 470.5,590.5 471.5,595.5 480.5,634.8 481.5,639.2 490.5,646.0 491.1,646.5 500.5,652.9 500.9,653.2 510.5,615.3 511.2,612.5 514.2,595.5 520.5,560.5 530.5,520.5 540.5,480.5 550.5,450.5 560.5,425.5 570.5,405.5 580.5,392.5 590.5,384.5 600.5,383.0 610.5,367.5 620.5,365.5 630.5,366.5 640.5,362.5 650.5,359.5 660.5,375.5 670.5,410.5 680.5,407.5 690.5,388.0" fill="none" stroke="#2060a0" stroke-width="1" /><path d="M50 263h1v1h1v1h-1v1h-1v-1h-1v-1h1zM60 272h1v1h1v1h-1v1h-1v-1h-1v-1h1zM70 283h1v1h1v1h-1v1h-1v-1h-1v-1h1zM80 292h1v1h1v1h-1v1h-1v-1h-1v-1h1zM90 303h1v1h1v1h-1v1h-1v-1h-1v-1h1zM100 314h1v1h1v1h-1v1h-1v-1h-1v-1h1zM110 320h1v1h1v1h-1v1h-1v-1h-1v-1h1zM120 325h1v1h1v1h-1v1h-1v-1h-1v-1h1zM130 318h1v1h1v1h-1v1h-1v-1h-1v-1h1zM140 318h1v1h1v1h-1v1h-1v-1h-1v-1h1zM150 310h1v1h1v1h-1v1h-1v-1h-1v-1h1zM160 304h1v1h1v1h-1v1h-1v-1h-1v-1h1zM170 295h1v1h1v1h-1v1h-1v-1h-1v-1h1zM180 294h1v1h1v1h-1v1h-1v-1h-1v-1h1zM190 296h1v1h1v1h-1v1h-1v-1h-1v-1h1zM200 297h1v1h1v1h-1v1h-1v-1h-1v-1h1zM210 292h1v1h1v1h-1v1h-1v-1h-1v-1h1zM220 309h1v1h1v1h-1v1h-1v-1h-1v-1h1zM230 315h1v1h1v1h-1v1h-1v-1h-1v-1h1zM240 309h1v1h1v1h-1v1h-1v-1h-1v-1h1zM250 299h1v1h1v1h-1v1h-1v-1h-1v-1h1zM260 289h1v1h1v1h-1v1h-1v-1h-1v-1h1zM270 282h1v1h1v1h-1v1h-1v-1h-1v-1h1zM280 274h1v1h1v1h-1v1h-1v-1h-1v-1h1zM290 267h1v1h1v1h-1v1h-1v-1h-1v-1h1zM300 261h1v1h1v1h-1v1h-1v-1h-1v-1h1zM310 249h1v1h1v1h-1v1h-1v-1h-1v-1h1zM320 234h1v1h1v1h-1v1h-1v-1h-1v-1h1zM330 222h1v1h1v1h-1v1h-1v-1h-1v-1h1zM340 224h1v1h1v1h-1v1h-1v-1h-1v-1h1zM350 244h1v1h1v1h-1v1h-1v-1h-1v-1h1zM360 267h1v1h1v1h-1v1h-1v-1h-1v-1h1zM370 289h1v1h1v1h-1v1h-1v-1h-1v-1h1zM380 304h1v1h1v1h-1v1h-1v-1h-1v-1h1zM390 319h1v1h1v1h-1v1h-1v-1h-1v-1h1zM400 334h1v1h1v1h-1v1h-1v-1h-1v-1h1zM410 349h1v1h1v1h-1v1h-1v-1h-1v-1h1zM420 364h1v1h1v1h-1v1h-1v-1h-1v-1h1zM430 379h1v1h1v1h-1v1h-1v-1h-1v-1h1zM440 399h1v1h1v1h-1v1h-1v-1h-1v-1h1zM450 479h1v1h1v1h-1v1h-1v-1h-1v-1h1zM460 539h1v1h1v1h-1v1h-1v-1h-1v-1h1zM470 589h1v1h1v1h-1v1h-1v-1h-1v-1h1zM480 633h1v1h1v1h-1v1h-1v-1h-1v-1h1zM490 645h1v1h1v1h-1v1h-1v-1h-1v-1h1zM500 651h1v1h1v1h-1v1h-1v-1h-1v-1h1zM510 614h1v1h1v1h-1v1h-1v-1h-1v-1h1zM520 559h1v1h1v1h-1v1h-1v-1h-1v-1h1zM530 519h1v1h1v1h-1v1h-1v-1h-1v-1h1zM540 479h1v1h1v1h-1v1h-1v-1h-1v-1h1zM550 449h1v1h1v1h-1v1h-1v-1h-1v-1h1zM560 424h1v1h1v1h-1v1h-1v-1h-1v-1h1zM570 404h1v1h1v1h-1v1h-1v-1h-1v-1h1zM580 391h1v1h1v1h-1v1h-1v-1h-1v-1h1zM590 383h1v1h1v1h-1v1h-1v-1h-1v-1h1zM600 382h1v1h1v1h-1v1h-1v-1h-1v-1h1zM610 366h1v1h1v1h-1v1h-1v-1h-1v-1h1zM620 364h1v1h1v1h-1v1h-1v-1h-1v-1h1zM630 365h1v1h1v1h-1v1h-1v-1h-1v-1h1zM640 361h1v1h1v1h-1v1h-1v-1h-1v-1h1zM650 358h1v1h1v1h-1v1h-1v-1h-1v-1h1zM660 374h1v1h1v1h-1v1h-1v-1h-1v-1h1zM670 409h1v1h1v1h-1v1h-1v-1h-1v-1h1zM680 406h1v1h1v1h-1v1h-1v-1h-1v-1h1zM690 387h1v1h1v1h-1v1h-1v-1h-1v-1h1z" fill="#2060a0"/>
<polyline points="50.5,269.5 60.5,280.9 70.5,293.7 80.5,304.8 90.5,319.7 100.5,333.3 110.5,341.3 120.5,348.9 130.5,347.7 140.5,345.6 150.5,340.6 160.5,337.2 170.5,326.0 180.5,328.7 190.5,331.7 200.5,335.3 210.5,335.2 220.5,351.8 230.5,345.5 240.5,360.5 250.5,364.2 260.5,360.2 270.5,365.5 280.5,378.0 290.5,380.5 300.5,372.5 310.5,373.2 320.5,374.5 330.5,371.5 340.5,371.5 350.5,362.5 360.5,345.5 370.5,315.5 380.5,282.5 390.5,256.5 400.5,225.5 410.5,210.5 420.5,203.0 430.5,206.5 440.5,229.5 450.5,248.5 460.5,249.5 470.5,271.5 480.5,259.5 490.5,270.5 500.5,281.5 510.5,273.0 520.5,265.5 530.5,237.5 540.5,213.0 550.5,194.5 560.5,189.5 570.5,205.5 580.5,236.0 590.5,256.5 600.5,263.5 610.5,258.0 620.5,252.5 630.5,248.0 640.5,246.5 650.5,247.5 660.5,253.0 670.5,256.5 680.5,258.5 690.5,250.5" fill="none" stroke="#905020" stroke-width="1" /><path d="M50 268h1v1h1v1h-1v1h-1v-1h-1v-1h1zM60 279h1v1h1v1h-1v1h-1v-1h-1v-1h1zM70 292h1v1h1v1h-1v1h-1v-1h-1v-1h1zM80 303h1v1h1v1h-1v1h-1v-1h-1v-1h1zM90 318h1v1h1v1h-1v1h-1v-1h-1v-1h1zM100 332h1v1h1v1h-1v1h-1v-1h-1v-1h1zM110 340h1v1h1v1h-1v1h-1v-1h-1v-1h1zM120 347h1v1h1v1h-1v1h-1v-1h-1v-1h1zM130 346h1v1h1v1h-1v1h-1v-1h-1v-1h1zM140 344h1v1h1v1h-1v1h-1v-1h-1v-1h1zM150 339h1v1h1v1h-1v1h-1v-1h-1v-1h1zM160 336h1v1h1v1h-1v1h-1v-1h-1v-1h1zM170 325h1v1h1v1h-1v1h-1v-1h-1v-1h1zM180 327h1v1h1v1h-1v1h-1v-1h-1v-1h1zM190 330h1v1h1v1h-1v1h-1v-1h-1v-1h1zM200 334h1v1h1v1h-1v1h-1v-1h-1v-1h1zM210 334h1v1h1v1h-1v1h-1v-1h-1v-1h1zM220 350h1v1h1v1h-1v1h-1v-1h-1v-1h1zM230 344h1v1h1v1h-1v1h-1v-1h-1v-1h1zM240 359h1v1h1v1h-1v1h-1v-1h-1v-1h1zM250 363h1v1h1v1h-1v1h-1v-1h-1v-1h1zM260 359h1v1h1v1h-1v1h-1v-1h-1v-1h1zM270 364h1v1h1v1h-1v1h-1v-1h-1v-1h1zM280 377h1v1h1v1h-1v1h-1v-1h-1v-1h1zM290 379h1v1h1v1h-1v1h-1v-1h-1v-1h1zM300 371h1v1h1v1h-1v1h-1v-1h-1v-1h1zM310 372h1v1h1v1h-1v1h-1v-1h-1v-1h1zM320 373h1v1h1v1h-1v1h-1v-1h-1v-1h1zM330 370h1v1h1v1h-1v1h-1v-1h-1v-1h1zM340 370h1v1h1v1h-1v1h-1v-1h-1v-1h1zM350 361h1v1h1v1h-1v1h-1v-1h-1v-1h1zM360 344h1v1h1v1h-1v1h-1v-1h-1v-1h1zM370 314h1v1h1v1h-1v1h-1v-1h-1v-1h1zM380 281h1v1h1v1h-1v1h-1v-1h-1v-1h1zM390 255h1v1h1v1h-1v1h-1v-1h-1v-1h1zM400 224h1v1h1v1h-1v1h-1v-1h-1v-1h1zM410 209h1v1h1v1h-1v1h-1v-1h-1v-1h1zM420 202h1v1h1v1h-1v1h-1v-1h-1v-1h1zM430 205h1v1h1v1h-1v1h-1v-1h-1v-1h1zM440 228h1v1h1v1h-1v1h-1v-1h-1v-1h1zM450 247h1v1h1v1h-1v1h-1v-1h-1v-1h1zM460 248h1v1h1v1h-1v1h-1v-1h-1v-1h1zM470 270h1v1h1v1h-1v1h-1v-1h-1v-1h1zM480 258h1v1h1v1h-1v1h-1v-1h-1v-1h1zM490 269h1v1h1v1h-1v1h-1v-1h-1v-1h1zM500 280h1v1h1v1h-1v1h-1v-1h-1v-1h1zM510 272h1v1h1v1h-1v1h-1v-1h-1v-1h1zM520 264h1v1h1v1h-1v1h-1v-1h-1v-1h1zM530 236h1v1h1v1h-1v1h-1v-1h-1v-1h1zM540 212h1v1h1v1h-1v1h-1v-1h-1v-1h1zM550 193h1v1h1v1h-1v1h-1v-1h-1v-1h1zM560 188h1v1h1v1h-1v1h-1v-1h-1v-1h1zM570 204h1v1h1v1h-1v1h-1v-1h-1v-1h1zM580 235h1v1h1v1h-1v1h-1v-1h-1v-1h1zM590 255h1v1h1v1h-1v1h-1v-1h-1v-1h1zM600 262h1v1h1v1h-1v1h-1v-1h-1v-1h1zM610 257h1v1h1v1h-1v1h-1v-1h-1v-1h1zM620 251h1v1h1v1h-1v1h-1v-1h-1v-1h1zM630 247h1v1h1v1h-1v1h-1v-1h-1v-1h1zM640 245h1v1h1v1h-1v1h-1v-1h-1v-1h1zM650 246h1v1h1v1h-1v1h-1v-1h-1v-1h1zM660 252h1v1h1v1h-1v1h-1v-1h-1v-1h1zM670 255h1v1h1v1h-1v1h-1v-1h-1v-1h1zM680 257h1v1h1v1h-1v1h-1v-1h-1v-1h1zM690 249h1v1h1v1h-1v1h-1v-1h-1v-1h1z" fill="#905020"/>
<polyline points="50.5,263.5 60.5,274.1 70.5,284.1 80.5,292.1 90.5,304.7 100.5,314.3 110.5,319.5 120.5,323.5 130.5,319.3 140.5,319.4 150.5,307.1 160.5,306.0 170.5,293.9 180.5,295.2 190.5,296.7 200.5,301.5 210.5,309.7 220.5,308.5 230.5,317.1 240.5,306.0 250.5,315.5 260.5,347.5 270.5,414.5 280.5,361.5 290.5,335.5 300.5,325.5 310.5,310.5 320.5,300.5 330.5,300.5 340.5,310.0 350.5,327.5 360.5,342.5 370.5,329.5 380.5,300.2 390.5,225.5 400.5,170.5 410.5,146.2 420.5,153.0 430.5,188.0 440.5,243.0 450.5,283.0 460.5,330.5 470.5,400.5 480.5,480.5 490.5,560.5 500.5,590.5 510.5,585.5 520.5,602.5 530.5,596.5 540.5,560.5 550.5,520.5 560.5,480.5 570.5,440.5 580.5,410.5 590.5,395.5 600.5,385.5 610.5,376.5 620.5,375.5 630.5,374.5 640.5,373.5 650.5,365.5 660.5,361.5 670.5,340.5 680.5,318.0 690.5,295.5" fill="none" stroke="#9080f0" stroke-width="1" /><path d="M50 262h1v1h1v1h-1v1h-1v-1h-1v-1h1zM60 273h1v1h1v1h-1v1h-1v-1h-1v-1h1zM70 283h1v1h1v1h-1v1h-1v-1h-1v-1h1zM80 291h1v1h1v1h-1v1h-1v-1h-1v-1h1zM90 303h1v1h1v1h-1v1h-1v-1h-1v-1h1zM100 313h1v1h1v1h-1v1h-1v-1h-1v-1h1zM110 318h1v1h1v1h-1v1h-1v-1h-1v-1h1zM120 322h1v1h1v1h-1v1h-1v-1h-1v-1h1zM130 318h1v1h1v1h-1v1h-1v-1h-1v-1h1zM140 318h1v1h1v1h-1v1h-1v-1h-1v-1h1zM150 306h1v1h1v1h-1v1h-1v-1h-1v-1h1zM160 304h1v1h1v1h-1v1h-1v-1h-1v-1h1zM170 292h1v1h1v1h-1v1h-1v-1h-1v-1h1zM180 294h1v1h1v1h-1v1h-1v-1h-1v-1h1zM190 295h1v1h1v1h-1v1h-1v-1h-1v-1h1zM200 300h1v1h1v1h-1v1h-1v-1h-1v-1h1zM210 308h1v1h1v1h-1v1h-1v-1h-1v-1h1zM220 307h1v1h1v1h-1v1h-1v-1h-1v-1h1zM230 316h1v1h1v1h-1v1h-1v-1h-1v-1h1zM240 304h1v1h1v1h-1v1h-1v-1h-1v-1h1zM250 314h1v1h1v1h-1v1h-1v-1h-1v-1h1zM260 346h1v1h1v1h-1v1h-1v-1h-1v-1h1zM270 413h1v1h1v1h-1v1h-1v-1h-1v-1h1zM280 360h1v1h1v1h-1v1h-1v-1h-1v-1h1zM290 334h1v1h1v1h-1v1h-1v-1h-1v-1h1zM300 324h1v1h1v1h-1v1h-1v-1h-1v-1h1zM310 309h1v1h1v1h-1v1h-1v-1h-1v-1h1zM320 299h1v1h1v1h-1v1h-1v-1h-1v-1h1zM330 299h1v1h1v1h-1v1h-1v-1h-1v-1h1zM340 309h1v1h1v1h-1v1h-1v-1h-1v-1h1zM350 326h1v1h1v1h-1v1h-1v-1h-1v-1h1zM360 341h1v1h1v1h-1v1h-1v-1h-1v-1h1zM370 328h1v1h1v1h-1v1h-1v-1h-1v-1h1zM380 299h1v1h1v1h-1v1h-1v-1h-1v-1h1zM390 224h1v1h1v1h-1v1h-1v-1h-1v-1h1zM400 169h1v1h1v1h-1v1h-1v-1h-1v-1h1zM410 145h1v1h1v1h-1v1h-1v-1h-1v-1h1zM420 152h1v1h1v1h-1v1h-1v-1h-1v-1h1zM430 187h1v1h1v1h-1v1h-1v-1h-1v-1h1zM440 242h1v1h1v1h-1v1h-1v-1h-1v-1h1zM450 282h1v1h1v1h-1v1h-1v-1h-1v-1h1zM460 329h1v1h1v1h-1v1h-1v-1h-1v-1h1zM470 399h1v1h1v1h-1v1h-1v-1h-1v-1h1zM480 479h1v1h1v1h-1v1h-1v-1h-1v-1h1zM490 559h1v1h1v1h-1v1h-1v-1h-1v-1h1zM500 589h1v1h1v1h-1v1h-1v-1h-1v-1h1zM510 584h1v1h1v1h-1v1h-1v-1h-1v-1h1zM520 601h1v1h1v1h-1v1h-1v-1h-1v-1h1zM530 595h1v1h1v1h-1v1h-1v-1h-1v-1h1zM540 559h1v1h1v1h-1v1h-1v-1h-1v-1h1zM550 519h1v1h1v1h-1v1h-1v-1h-1v-1h1zM560 479h1v1h1v1h-1v1h-1v-1h-1v-1h1zM570 439h1v1h1v1h-1v1h-1v-1h-1v-1h1zM580 409h1v1h1v1h-1v1h-1v-1h-1v-1h1zM590 394h1v1h1v1h-1v1h-1v-1h-1v-1h1zM600 384h1v1h1v1h-1v1h-1v-1h-1v-1h1zM610 375h1v1h1v1h-1v1h-1v-1h-1v-1h1zM620 374h1v1h1v1h-1v1h-1v-1h-1v-1h1zM630 373h1v1h1v1h-1v1h-1v-1h-1v-1h1zM640 372h1v1h1v1h-1v1h-1v-1h-1v-1h1zM650 364h1v1h1v1h-1v1h-1v-1h-1v-1h1zM660 360h1v1h1v1h-1v1h-1v-1h-1v-1h1zM670 339h1v1h1v1h-1v1h-1v-1h-1v-1h1zM680 317h1v1h1v1h-1v1h-1v-1h-1v-1h1zM690 294h1v1h1v1h-1v1h-1v-1h-1v-1h1z" fill="#9080f0"/>
<polyline points="50.5,265.6 60.5,275.7 70.5,287.1 80.5,296.8 90.5,308.9 100.5,318.9 110.5,326.2 120.5,330.5 130.5,323.0 140.5,310.5 150.5,295.5 160.5,283.5 170.5,268.0 180.5,250.5 190.5,243.5 200.5,244.5 210.5,241.5 220.5,241.5 230.5,249.5 240.5,274.5 250.5,274.5 260.5,290.5 270.5,359.5 280.5,360.2 290.5,329.5 300.5,327.0 310.5,345.5 320.5,353.5 330.5,330.5 340.5,300.5 350.5,270.5 360.5,258.5 370.5,270.5 380.5,300.5 390.5,323.0 400.5,336.5 410.5,338.0 420.5,353.0 430.5,361.5 440.5,375.5 450.5,383.0 460.5,383.0 470.5,375.0 480.5,362.5 490.5,351.5 500.5,347.5 510.5,355.5 520.5,373.0 530.5,393.0 540.5,410.5 550.5,419.5 560.5,423.0 570.5,421.5 580.5,415.5 590.5,404.5 600.5,393.5 610.5,367.5 620.5,350.5 630.5,325.5 640.5,285.5 650.5,270.5 660.5,255.5 670.5,240.5 680.5,230.5 690.5,224.5" fill="none" stroke="#90f030" stroke-width="1" /><path d="M50 264h1v1h1v1h-1v1h-1v-1h-1v-1h1zM60 274h1v1h1v1h-1v1h-1v-1h-1v-1h1zM70 286h1v1h1v1h-1v1h-1v-1h-1v-1h1zM80 295h1v1h1v1h-1v1h-1v-1h-1v-1h1zM90 307h1v1h1v1h-1v1h-1v-1h-1v-1h1zM100 317h1v1h1v1h-1v1h-1v-1h-1v-1h1zM110 325h1v1h1v1h-1v1h-1v-1h-1v-1h1zM120 329h1v1h1v1h-1v1h-1v-1h-1v-1h1zM130 322h1v1h1v1h-1v1h-1v-1h-1v-1h1zM140 309h1v1h1v1h-1v1h-1v-1h-1v-1h1zM150 294h1v1h1v1h-1v1h-1v-1h-1v-1h1zM160 282h1v1h1v1h-1v1h-1v-1h-1v-1h1zM170 267h1v1h1v1h-1v1h-1v-1h-1v-1h1zM180 249h1v1h1v1h-1v1h-1v-1h-1v-1h1zM190 242h1v1h1v1h-1v1h-1v-1h-1v-1h1zM200 243h1v1h1v1h-1v1h-1v-1h-1v-1h1zM210 240h1v1h1v1h-1v1h-1v-1h-1v-1h1zM220 240h1v1h1v1h-1v1h-1v-1h-1v-1h1zM230 248h1v1h1v1h-1v1h-1v-1h-1v-1h1zM240 273h1v1h1v1h-1v1h-1v-1h-1v-1h1zM250 273h1v1h1v1h-1v1h-1v-1h-1v-1h1zM260 289h1v1h1v1h-1v1h-1v-1h-1v-1h1zM270 358h1v1h1v1h-1v1h-1v-1h-1v-1h1zM280 359h1v1h1v1h-1v1h-1v-1h-1v-1h1zM290 328h1v1h1v1h-1v1h-1v-1h-1v-1h1zM300 326h1v1h1v1h-1v1h-1v-1h-1v-1h1zM310 344h1v1h1v1h-1v1h-1v-1h-1v-1h1zM320 352h1v1h1v1h-1v1h-1v-1h-1v-1h1zM330 329h1v1h1v1h-1v1h-1v-1h-1v-1h1zM340 299h1v1h1v1h-1v1h-1v-1h-1v-1h1zM350 269h1v1h1v1h-1v1h-1v-1h-1v-1h1zM360 257h1v1h1v1h-1v1h-1v-1h-1v-1h1zM370 269h1v1h1v1h-1v1h-1v-1h-1v-1h1zM380 299h1v1h1v1h-1v1h-1v-1h-1v-1h1zM390 322h1v1h1v1h-1v1h-1v-1h-1v-1h1zM400 335h1v1h1v1h-1v1h-1v-1h-1v-1h1zM410 337h1v1h1v1h-1v1h-1v-1h-1v-1h1zM420 352h1v1h1v1h-1v1h-1v-1h-1v-1h1zM430 360h1v1h1v1h-1v1h-1v-1h-1v-1h1zM440 374h1v1h1v1h-1v1h-1v-1h-1v-1h1zM450 382h1v1h1v1h-1v1h-1v-1h-1v-1h1zM460 382h1v1h1v1h-1v1h-1v-1h-1v-1h1zM470 374h1v1h1v1h-1v1h-1v-1h-1v-1h1zM480 361h1v1h1v1h-1v1h-1v-1h-1v-1h1zM490 350h1v1h1v1h-1v1h-1v-1h-1v-1h1zM500 346h1v1h1v1h-1v1h-1v-1h-1v-1h1zM510 354h1v1h1v1h-1v1h-1v-1h-1v-1h1zM520 372h1v1h1v1h-1v1h-1v-1h-1v-1h1zM530 392h1v1h1v1h-1v1h-1v-1h-1v-1h1zM540 409h1v1h1v1h-1v1h-1v-1h-1v-1h1zM550 418h1v1h1v1h-1v1h-1v-1h-1v-1h1zM560 422h1v1h1v1h-1v1h-1v-1h-1v-1h1zM570 420h1v1h1v1h-1v1h-1v-1h-1v-1h1zM580 414h1v1h1v1h-1v1h-1v-1h-1v-1h1zM590 403h1v1h1v1h-1v1h-1v-1h-1v-1h1zM600 392h1v1h1v1h-1v1h-1v-1h-1v-1h1zM610 366h1v1h1v1h-1v1h-1v-1h-1v-1h1zM620 349h1v1h1v1h-1v1h-1v-1h-1v-1h1zM630 324h1v1h1v1h-1v1h-1v-1h-1v-1h1zM640 284h1v1h1v1h-1v1h-1v-1h-1v-1h1zM650 269h1v1h1v1h-1v1h-1v-1h-1v-1h1zM660 254h1v1h1v1h-1v1h-1v-1h-1v-1h1zM670 239h1v1h1v1h-1v1h-1v-1h-1v-1h1zM680 229h1v1h1v1h-1v1h-1v-1h-1v-1h1zM690 223h1v1h1v1h-1v1h-1v-1h-1v-1h1z" fill="#90f030"/>
<polyline points="50.5,265.4 60.5,275.2 70.5,284.8 80.5,293.9 90.5,305.8 100.5,316.3 110.5,322.1 120.5,327.7 130.5,326.2 140.5,321.4 150.5,316.9 160.5,312.3 170.5,302.3 180.5,305.5 190.5,306.4 200.5,312.0 210.5,322.0 220.5,318.5 230.5,315.3 240.5,312.4 250.5,305.5 260.5,300.5 270.5,290.5 280.5,280.5 290.5,265.5 300.5,245.5 310.5,225.5 320.5,208.0 330.5,199.5 340.5,193.5 350.5,195.0 360.5,211.5 370.5,222.5 380.5,230.5 390.5,245.5 400.5,262.5 410.5,280.5 420.5,310.5 430.5,350.5 440.5,400.5 450.5,430.5 460.5,445.5 470.5,450.5 480.5,455.5 490.5,464.5 500.5,491.5 510.5,498.5 520.5,497.5 530.5,486.5 540.5,468.5 550.5,462.5 560.5,450.5 570.5,430.5 580.5,415.5 590.5,403.0 600.5,395.5 610.5,376.5 620.5,363.0 630.5,354.5 640.5,348.0 650.5,344.5 660.5,348.0 670.5,343.0 680.5,350.5 690.5,355.0" fill="none" stroke="#d070d0" stroke-width="1" /><path d="M50 264h1v1h1v1h-1v1h-1v-1h-1v-1h1zM60 274h1v1h1v1h-1v1h-1v-1h-1v-1h1zM70 283h1v1h1v1h-1v1h-1v-1h-1v-1h1zM80 292h1v1h1v1h-1v1h-1v-1h-1v-1h1zM90 304h1v1h1v1h-1v1h-1v-1h-1v-1h1zM100 315h1v1h1v1h-1v1h-1v-1h-1v-1h1zM110 321h1v1h1v1h-1v1h-1v-1h-1v-1h1zM120 326h1v1h1v1h-1v1h-1v-1h-1v-1h1zM130 325h1v1h1v1h-1v1h-1v-1h-1v-1h1zM140 320h1v1h1v1h-1v1h-1v-1h-1v-1h1zM150 315h1v1h1v1h-1v1h-1v-1h-1v-1h1zM160 311h1v1h1v1h-1v1h-1v-1h-1v-1h1zM170 301h1v1h1v1h-1v1h-1v-1h-1v-1h1zM180 304h1v1h1v1h-1v1h-1v-1h-1v-1h1zM190 305h1v1h1v1h-1v1h-1v-1h-1v-1h1zM200 310h1v1h1v1h-1v1h-1v-1h-1v-1h1zM210 320h1v1h1v1h-1v1h-1v-1h-1v-1h1zM220 317h1v1h1v1h-1v1h-1v-1h-1v-1h1zM230 314h1v1h1v1h-1v1h-1v-1h-1v-1h1zM240 311h1v1h1v1h-1v1h-1v-1h-1v-1h1zM250 304h1v1h1v1h-1v1h-1v-1h-1v-1h1zM260 299h1v1h1v1h-1v1h-1v-1h-1v-1h1zM270 289h1v1h1v1h-1v1h-1v-1h-1v-1h1zM280 279h1v1h1v1h-1v1h-1v-1h-1v-1h1zM290 264h1v1h1v1h-1v1h-1v-1h-1v-1h1zM300 244h1v1h1v1h-1v1h-1v-1h-1v-1h1zM310 224h1v1h1v1h-1v1h-1v-1h-1v-1h1zM320 207h1v1h1v1h-1v1h-1v-1h-1v-1h1zM330 198h1v1h1v1h-1v1h-1v-1h-1v-1h1zM340 192h1v1h1v1h-1v1h-1v-1h-1v-1h1zM350 194h1v1h1v1h-1v1h-1v-1h-1v-1h1zM360 210h1v1h1v1h-1v1h-1v-1h-1v-1h1zM370 221h1v1h1v1h-1v1h-1v-1h-1v-1h1zM380 229h1v1h1v1h-1v1h-1v-1h-1v-1h1zM390 244h1v1h1v1h-1v1h-1v-1h-1v-1h1zM400 261h1v1h1v1h-1v1h-1v-1h-1v-1h1zM410 279h1v1h1v1h-1v1h-1v-1h-1v-1h1zM420 309h1v1h1v1h-1v1h-1v-1h-1v-1h1zM430 349h1v1h1v1h-1v1h-1v-1h-1v-1h1zM440 399h1v1h1v1h-1v1h-1v-1h-1v-1h1zM450 429h1v1h1v1h-1v1h-1v-1h-1v-1h1zM460 444h1v1h1v1h-1v1h-1v-1h-1v-1h1zM470 449h1v1h1v1h-1v1h-1v-1h-1v-1h1zM480 454h1v1h1v1h-1v1h-1v-1h-1v-1h1zM490 463h1v1h1v1h-1v1h-1v-1h-1v-1h1zM500 490h1v1h1v1h-1v1h-1v-1h-1v-1h1zM510 497h1v1h1v1h-1v1h-1v-1h-1v-1h1zM520 496h1v1h1v1h-1v1h-1v-1h-1v-1h1zM530 485h1v1h1v1h-1v1h-1v-1h-1v-1h1zM540 467h1v1h1v1h-1v1h-1v-1h-1v-1h1zM550 461h1v1h1v1h-1v1h-1v-1h-1v-1h1zM560 449h1v1h1v1h-1v1h-1v-1h-1v-1h1zM570 429h1v1h1v1h-1v1h-1v-1h-1v-1h1zM580 414h1v1h1v1h-1v1h-1v-1h-1v-1h1zM590 402h1v1h1v1h-1v1h-1v-1h-1v-1h1zM600 394h1v1h1v1h-1v1h-1v-1h-1v-1h1zM610 375h1v1h1v1h-1v1h-1v-1h-1v-1h1zM620 362h1v1h1v1h-1v1h-1v-1h-1v-1h1zM630 353h1v1h1v1h-1v1h-1v-1h-1v-1h1zM640 347h1v1h1v1h-1v1h-1v-1h-1v-1h1zM650 343h1v1h1v1h-1v1h-1v-1h-1v-1h1zM660 347h1v1h1v1h-1v1h-1v-1h-1v-1h1zM670 342h1v1h1v1h-1v1h-1v-1h-1v-1h1zM680 349h1v1h1v1h-1v1h-1v-1h-1v-1h1zM690 354h1v1h1v1h-1v1h-1v-1h-1v-1h1z" fill="#d070d0"/>
<polyline points="50.5,270.3 60.5,282.2 70.5,294.4 80.5,305.1 90.5,322.0 100.5,335.7 110.5,344.6 120.5,352.5 130.5,352.5 140.5,354.5 150.5,344.5 160.5,336.5 170.5,330.5 180.5,331.5 190.5,329.5 200.5,338.5 210.5,345.5 220.5,348.0 230.5,344.5 240.5,335.5 250.5,318.5 260.5,300.5 270.5,279.5 280.5,263.0 290.5,246.5 300.5,229.5 310.5,219.5 320.5,217.5 330.5,215.0 340.5,220.0 350.5,229.5 360.5,236.0 370.5,225.5 380.5,220.0 390.5,224.5 400.5,248.0 410.5,275.5 420.5,320.5 430.5,380.5 440.5,440.5 450.5,500.5 460.5,545.5 470.5,575.5 480.5,590.5 490.5,618.8 491.1,620.5 500.5,613.8 500.9,613.5 506.3,595.5 510.5,570.5 520.5,530.5 530.5,490.5 540.5,450.5 550.5,408.0 560.5,363.0 570.5,329.5 580.5,308.0 590.5,303.0 600.5,311.5 610.5,318.0 620.5,331.5 630.5,326.5 640.5,305.5 650.5,275.5 660.5,259.5 670.5,243.5 680.5,238.0 690.5,218.0" fill="none" stroke="#2000a0" stroke-width="1" /><path d="M50 269h1v1h1v1h-1v1h-1v-1h-1v-1h1zM60 281h1v1h1v1h-1v1h-1v-1h-1v-1h1zM70 293h1v1h1v1h-1v1h-1v-1h-1v-1h1zM80 304h1v1h1v1h-1v1h-1v-1h-1v-1h1zM90 320h1v1h1v1h-1v1h-1v-1h-1v-1h1zM100 334h1v1h1v1h-1v1h-1v-1h-1v-1h1zM110 343h1v1h1v1h-1v1h-1v-1h-1v-1h1zM120 351h1v1h1v1h-1v1h-1v-1h-1v-1h1zM130 351h1v1h1v1h-1v1h-1v-1h-1v-1h1zM140 353h1v1h1v1h-1v1h-1v-1h-1v-1h1zM150 343h1v1h1v1h-1v1h-1v-1h-1v-1h1zM160 335h1v1h1v1h-1v1h-1v-1h-1v-1h1zM170 329h1v1h1v1h-1v1h-1v-1h-1v-1h1zM180 330h1v1h1v1h-1v1h-1v-1h-1v-1h1zM190 328h1v1h1v1h-1v1h-1v-1h-1v-1h1zM200 337h1v1h1v1h-1v1h-1v-1h-1v-1h1zM210 344h1v1h1v1h-1v1h-1v-1h-1v-1h1zM220 347h1v1h1v1h-1v1h-1v-1h-1v-1h1zM230 343h1v1h1v1h-1v1h-1v-1h-1v-1h1zM240 334h1v1h1v1h-1v1h-1v-1h-1v-1h1zM250 317h1v1h1v1h-1v1h-1v-1h-1v-1h1zM260 299h1v1h1v1h-1v1h-1v-1h-1v-1h1zM270 278h1v1h1v1h-1v1h-1v-1h-1v-1h1zM280 262h1v1h1v1h-1v1h-1v-1h-1v-1h1zM290 245h1v1h1v1h-1v1h-1v-1h-1v-1h1zM300 228h1v1h1v1h-1v1h-1v-1h-1v-1h1zM310 218h1v1h1v1h-1v1h-1v-1h-1v-1h1zM320 216h1v1h1v1h-1v1h-1v-1h-1v-1h1zM330 214h1v1h1v1h-1v1h-1v-1h-1v-1h1zM340 219h1v1h1v1h-1v1h-1v-1h-1v-1h1zM350 228h1v1h1v1h-1v1h-1v-1h-1v-1h1zM360 235h1v1h1v1h-1v1h-1v-1h-1v-1h1zM370 224h1v1h1v1h-1v1h-1v-1h-1v-1h1zM380 219h1v1h1v1h-1v1h-1v-1h-1v-1h1zM390 223h1v1h1v1h-1v1h-1v-1h-1v-1h1zM400 247h1v1h1v1h-1v1h-1v-1h-1v-1h1zM410 274h1v1h1v1h-1v1h-1v-1h-1v-1h1zM420 319h1v1h1v1h-1v1h-1v-1h-1v-1h1zM430 379h1v1h1v1h-1v1h-1v-1h-1v-1h1zM440 439h1v1h1v1h-1v1h-1v-1h-1v-1h1zM450 499h1v1h1v1h-1v1h-1v-1h-1v-1h1zM460 544h1v1h1v1h-1v1h-1v-1h-1v-1h1zM470 574h1v1h1v1h-1v1h-1v-1h-1v-1h1zM480 589h1v1h1v1h-1v1h-1v-1h-1v-1h1zM490 617h1v1h1v1h-1v1h-1v-1h-1v-1h1zM500 612h1v1h1v1h-1v1h-1v-1h-1v-1h1zM510 569h1v1h1v1h-1v1h-1v-1h-1v-1h1zM520 529h1v1h1v1h-1v1h-1v-1h-1v-1h1zM530 489h1v1h1v1h-1v1h-1v-1h-1v-1h1zM540 449h1v1h1v1h-1v1h-1v-1h-1v-1h1zM550 407h1v1h1v1h-1v1h-1v-1h-1v-1h1zM560 362h1v1h1v1h-1v1h-1v-1h-1v-1h1zM570 328h1v1h1v1h-1v1h-1v-1h-1v-1h1zM580 307h1v1h1v1h-1v1h-1v-1h-1v-1h1zM590 302h1v1h1v1h-1v1h-1v-1h-1v-1h1zM600 310h1v1h1v1h-1v1h-1v-1h-1v-1h1zM610 317h1v1h1v1h-1v1h-1v-1h-1v-1h1zM620 330h1v1h1v1h-1v1h-1v-1h-1v-1h1zM630 325h1v1h1v1h-1v1h-1v-1h-1v-1h1zM640 304h1v1h1v1h-1v1h-1v-1h-1v-1h1zM650 274h1v1h1v1h-1v1h-1v-1h-1v-1h1zM660 258h1v1h1v1h-1v1h-1v-1h-1v-1h1zM670 242h1v1h1v1h-1v1h-1v-1h-1v-1h1zM680 237h1v1h1v1h-1v1h-1v-1h-1v-1h1zM690 217h1v1h1v1h-1v1h-1v-1h-1v-1h1z" fill="#2000a0"/>
<polyline points="50.5,266.7 60.5,277.4 70.5,287.4 80.5,298.9 90.5,310.7 100.5,321.6 110.5,329.3 120.5,335.5 130.5,332.7 140.5,330.6 150.5,323.2 160.5,319.5 170.5,311.1 180.5,311.2 190.5,313.3 200.5,318.9 210.5,326.8 220.5,325.5 230.5,320.6 240.5,327.5 250.5,331.0 260.5,336.5 270.5,353.5 280.5,342.5 290.5,336.5 300.5,347.2 310.5,329.5 320.5,330.5 330.5,293.0 340.5,245.5 350.5,205.5 360.5,174.5 370.5,154.5 380.5,151.0 390.5,166.5 400.5,198.0 410.5,228.0 420.5,265.5 430.5,310.5 440.5,370.5 450.5,440.5 460.5,520.5 470.5,595.5 480.5,621.0 481.5,623.5 490.5,646.9 491.1,648.5 500.5,665.8 500.9,666.5 510.5,641.1 511.2,639.2 518.5,595.5 520.5,580.5 524.5,550.5 530.5,500.5 540.5,450.5 550.5,425.5 560.5,415.5 570.5,420.5 580.5,425.5 590.5,425.5 600.5,420.5 610.5,418.5 620.5,415.5 630.5,405.5 640.5,410.5 650.5,406.5 660.5,405.5 670.5,402.5 680.5,400.5 690.5,390.5" fill="none" stroke="#e0c8a0" stroke-width="1" /><path d="M50 265h1v1h1v1h-1v1h-1v-1h-1v-1h1zM60 276h1v1h1v1h-1v1h-1v-1h-1v-1h1zM70 286h1v1h1v1h-1v1h-1v-1h-1v-1h1zM80 297h1v1h1v1h-1v1h-1v-1h-1v-1h1zM90 309h1v1h1v1h-1v1h-1v-1h-1v-1h1zM100 320h1v1h1v1h-1v1h-1v-1h-1v-1h1zM110 328h1v1h1v1h-1v1h-1v-1h-1v-1h1zM120 334h1v1h1v1h-1v1h-1v-1h-1v-1h1zM130 331h1v1h1v1h-1v1h-1v-1h-1v-1h1zM140 329h1v1h1v1h-1v1h-1v-1h-1v-1h1zM150 322h1v1h1v1h-1v1h-1v-1h-1v-1h1zM160 318h1v1h1v1h-1v1h-1v-1h-1v-1h1zM170 310h1v1h1v1h-1v1h-1v-1h-1v-1h1zM180 310h1v1h1v1h-1v1h-1v-1h-1v-1h1zM190 312h1v1h1v1h-1v1h-1v-1h-1v-1h1zM200 317h1v1h1v1h-1v1h-1v-1h-1v-1h1zM210 325h1v1h1v1h-1v1h-1v-1h-1v-1h1zM220 324h1v1h1v1h-1v1h-1v-1h-1v-1h1zM230 319h1v1h1v1h-1v1h-1v-1h-1v-1h1zM240 326h1v1h1v1h-1v1h-1v-1h-1v-1h1zM250 330h1v1h1v1h-1v1h-1v-1h-1v-1h1zM260 335h1v1h1v1h-1v1h-1v-1h-1v-1h1zM270 352h1v1h1v1h-1v1h-1v-1h-1v-1h1zM280 341h1v1h1v1h-1v1h-1v-1h-1v-1h1zM290 335h1v1h1v1h-1v1h-1v-1h-1v-1h1zM300 346h1v1h1v1h-1v1h-1v-1h-1v-1h1zM310 328h1v1h1v1h-1v1h-1v-1h-1v-1h1zM320 329h1v1h1v1h-1v1h-1v-1h-1v-1h1zM330 292h1v1h1v1h-1v1h-1v-1h-1v-1h1zM340 244h1v1h1v1h-1v1h-1v-1h-1v-1h1zM350 204h1v1h1v1h-1v1h-1v-1h-1v-1h1zM360 173h1v1h1v1h-1v1h-1v-1h-1v-1h1zM370 153h1v1h1v1h-1v1h-1v-1h-1v-1h1zM380 150h1v1h1v1h-1v1h-1v-1h-1v-1h1zM390 165h1v1h1v1h-1v1h-1v-1h-1v-1h1zM400 197h1v1h1v1h-1v1h-1v-1h-1v-1h1zM410 227h1v1h1v1h-1v1h-1v-1h-1v-1h1zM420 264h1v1h1v1h-1v1h-1v-1h-1v-1h1zM430 309h1v1h1v1h-1v1h-1v-1h-1v-1h1zM440 369h1v1h1v1h-1v1h-1v-1h-1v-1h1zM450 439h1v1h1v1h-1v1h-1v-1h-1v-1h1zM460 519h1v1h1v1h-1v1h-1v-1h-1v-1h1zM470 594h1v1h1v1h-1v1h-1v-1h-1v-1h1zM480 619h1v1h1v1h-1v1h-1v-1h-1v-1h1zM490 645h1v1h1v1h-1v1h-1v-1h-1v-1h1zM500 664h1v1h1v1h-1v1h-1v-1h-1v-1h1zM510 640h1v1h1v1h-1v1h-1v-1h-1v-1h1zM520 579h1v1h1v1h-1v1h-1v-1h-1v-1h1zM530 499h1v1h1v1h-1v1h-1v-1h-1v-1h1zM540 449h1v1h1v1h-1v1h-1v-1h-1v-1h1zM550 424h1v1h1v1h-1v1h-1v-1h-1v-1h1zM560 414h1v1h1v1h-1v1h-1v-1h-1v-1h1zM570 419h1v1h1v1h-1v1h-1v-1h-1v-1h1zM580 424h1v1h1v1h-1v1h-1v-1h-1v-1h1zM590 424h1v1h1v1h-1v1h-1v-1h-1v-1h1zM600 419h1v1h1v1h-1v1h-1v-1h-1v-1h1zM610 417h1v1h1v1h-1v1h-1v-1h-1v-1h1zM620 414h1v1h1v1h-1v1h-1v-1h-1v-1h1zM630 404h1v1h1v1h-1v1h-1v-1h-1v-1h1zM640 409h1v1h1v1h-1v1h-1v-1h-1v-1h1zM650 405h1v1h1v1h-1v1h-1v-1h-1v-1h1zM660 404h1v1h1v1h-1v1h-1v-1h-1v-1h1zM670 401h1v1h1v1h-1v1h-1v-1h-1v-1h1zM680 399h1v1h1v1h-1v1h-1v-1h-1v-1h1zM690 389h1v1h1v1h-1v1h-1v-1h-1v-1h1z" fill="#e0c8a0"/>
<polyline points="50.5,265.6 60.5,275.9 70.5,285.5 80.5,294.9 90.5,306.8 100.5,317.4 110.5,323.9 120.5,328.2 130.5,324.8 140.5,323.9 150.5,315.6 160.5,308.2 170.5,302.6 180.5,300.2 190.5,306.4 200.5,313.8 210.5,317.5 220.5,316.5 230.5,319.5 240.5,310.5 250.5,303.0 260.5,293.0 270.5,278.0 280.5,260.5 290.5,238.0 300.5,216.0 310.5,195.5 320.5,178.5 330.5,160.5 340.5,150.5 350.5,145.5 360.5,150.0 370.5,153.0 380.5,164.5 390.5,193.0 400.5,224.5 410.5,215.5 420.5,208.0 430.5,198.5 440.5,209.5 450.5,230.5 460.5,280.5 470.5,363.0 480.5,423.0 490.5,498.0 500.5,496.5 510.5,461.5 520.5,440.5 530.5,465.5 540.5,560.5 550.5,480.5 560.5,470.5 570.5,478.0 580.5,423.0 590.5,331.5 600.5,304.5 610.5,285.5 620.5,303.0 630.5,345.5 640.5,378.0 650.5,392.5 660.5,390.5 670.5,383.0 680.5,376.5 690.5,383.5" fill="none" stroke="#800000" stroke-width="1" /><path d="M50 264h1v1h1v1h-1v1h-1v-1h-1v-1h1zM60 274h1v1h1v1h-1v1h-1v-1h-1v-1h1zM70 284h1v1h1v1h-1v1h-1v-1h-1v-1h1zM80 293h1v1h1v1h-1v1h-1v-1h-1v-1h1zM90 305h1v1h1v1h-1v1h-1v-1h-1v-1h1zM100 316h1v1h1v1h-1v1h-1v-1h-1v-1h1zM110 322h1v1h1v1h-1v1h-1v-1h-1v-1h1zM120 327h1v1h1v1h-1v1h-1v-1h-1v-1h1zM130 323h1v1h1v1h-1v1h-1v-1h-1v-1h1zM140 322h1v1h1v1h-1v1h-1v-1h-1v-1h1zM150 314h1v1h1v1h-1v1h-1v-1h-1v-1h1zM160 307h1v1h1v1h-1v1h-1v-1h-1v-1h1zM170 301h1v1h1v1h-1v1h-1v-1h-1v-1h1zM180 299h1v1h1v1h-1v1h-1v-1h-1v-1h1zM190 305h1v1h1v1h-1v1h-1v-1h-1v-1h1zM200 312h1v1h1v1h-1v1h-1v-1h-1v-1h1zM210 316h1v1h1v1h-1v1h-1v-1h-1v-1h1zM220 315h1v1h1v1h-1v1h-1v-1h-1v-1h1zM230 318h1v1h1v1h-1v1h-1v-1h-1v-1h1zM240 309h1v1h1v1h-1v1h-1v-1h-1v-1h1zM250 302h1v1h1v1h-1v1h-1v-1h-1v-1h1zM260 292h1v1h1v1h-1v1h-1v-1h-1v-1h1zM270 277h1v1h1v1h-1v1h-1v-1h-1v-1h1zM280 259h1v1h1v1h-1v1h-1v-1h-1v-1h1zM290 237h1v1h1v1h-1v1h-1v-1h-1v-1h1zM300 215h1v1h1v1h-1v1h-1v-1h-1v-1h1zM310 194h1v1h1v1h-1v1h-1v-1h-1v-1h1zM320 177h1v1h1v1h-1v1h-1v-1h-1v-1h1zM330 159h1v1h1v1h-1v1h-1v-1h-1v-1h1zM340 149h1v1h1v1h-1v1h-1v-1h-1v-1h1zM350 144h1v1h1v1h-1v1h-1v-1h-1v-1h1zM360 149h1v1h1v1h-1v1h-1v-1h-1v-1h1zM370 152h1v1h1v1h-1v1h-1v-1h-1v-1h1zM380 163h1v1h1v1h-1v1h-1v-1h-1v-1h1zM390 192h1v1h1v1h-1v1h-1v-1h-1v-1h1zM400 223h1v1h1v1h-1v1h-1v-1h-1v-1h1zM410 214h1v1h1v1h-1v1h-1v-1h-1v-1h1zM420 207h1v1h1v1h-1v1h-1v-1h-1v-1h1zM430 197h1v1h1v1h-1v1h-1v-1h-1v-1h1zM440 208h1v1h1v1h-1v1h-1v-1h-1v-1h1zM450 229h1v1h1v1h-1v1h-1v-1h-1v-1h1zM460 279h1v1h1v1h-1v1h-1v-1h-1v-1h1zM470 362h1v1h1v1h-1v1h-1v-1h-1v-1h1zM480 422h1v1h1v1h-1v1h-1v-1h-1v-1h1zM490 497h1v1h1v1h-1v1h-1v-1h-1v-1h1zM500 495h1v1h1v1h-1v1h-1v-1h-1v-1h1zM510 460h1v1h1v1h-1v1h-1v-1h-1v-1h1zM520 439h1v1h1v1h-1v1h-1v-1h-1v-1h1zM530 464h1v1h1v1h-1v1h-1v-1h-1v-1h1zM540 559h1v1h1v1h-1v1h-1v-1h-1v-1h1zM550 479h1v1h1v1h-1v1h-1v-1h-1v-1h1zM560 469h1v1h1v1h-1v1h-1v-1h-1v-1h1zM570 477h1v1h1v1h-1v1h-1v-1h-1v-1h1zM580 422h1v1h1v1h-1v1h-1v-1h-1v-1h1zM590 330h1v1h1v1h-1v1h-1v-1h-1v-1h1zM600 303h1v1h1v1h-1v1h-1v-1h-1v-1h1zM610 284h1v1h1v1h-1v1h-1v-1h-1v-1h1zM620 302h1v1h1v1h-1v1h-1v-1h-1v-1h1zM630 344h1v1h1v1h-1v1h-1v-1h-1v-1h1zM640 377h1v1h1v1h-1v1h-1v-1h-1v-1h1zM650 391h1v1h1v1h-1v1h-1v-1h-1v-1h1zM660 389h1v1h1v1h-1v1h-1v-1h-1v-1h1zM670 382h1v1h1v1h-1v1h-1v-1h-1v-1h1zM680 375h1v1h1v1h-1v1h-1v-1h-1v-1h1zM690 382h1v1h1v1h-1v1h-1v-1h-1v-1h1z" fill="#800000"/>
<polyline points="50.5,263.5 60.5,271.4 70.5,281.3 80.5,290.3 90.5,301.5 100.5,309.4 110.5,315.0 120.5,318.5 130.5,312.5 140.5,305.5 150.5,298.0 160.5,298.0 170.5,292.5 180.5,296.0 190.5,296.5 200.5,296.0 210.5,285.0 220.5,276.5 230.5,270.5 240.5,264.5 250.5,256.5 260.5,257.5 270.5,258.5 280.5,263.0 290.5,265.5 300.5,258.0 310.5,243.0 320.5,235.5 330.5,228.0 340.5,220.5 350.5,216.5 360.5,210.5 370.5,200.5 380.5,188.0 390.5,184.5 400.5,183.5 410.5,181.0 420.5,183.5 430.5,181.0 440.5,188.0 450.5,198.5 460.5,218.0 470.5,234.5 480.5,246.5 490.5,253.0 500.5,258.5 510.5,255.5 520.5,253.0 530.5,246.5 540.5,248.0 550.5,249.5 560.5,251.5 570.5,245.5 580.5,238.5 590.5,228.5 600.5,224.5 610.5,216.5 620.5,214.5 630.5,203.5 640.5,198.5 650.5,191.5 660.5,178.5 670.5,166.0 680.5,151.5 690.5,138.0" fill="none" stroke="#0030c0" stroke-width="1" /><path d="M50 262h1v1h1v1h-1v1h-1v-1h-1v-1h1zM60 270h1v1h1v1h-1v1h-1v-1h-1v-1h1zM70 280h1v1h1v1h-1v1h-1v-1h-1v-1h1zM80 289h1v1h1v1h-1v1h-1v-1h-1v-1h1zM90 300h1v1h1v1h-1v1h-1v-1h-1v-1h1zM100 308h1v1h1v1h-1v1h-1v-1h-1v-1h1zM110 314h1v1h1v1h-1v1h-1v-1h-1v-1h1zM120 317h1v1h1v1h-1v1h-1v-1h-1v-1h1zM130 311h1v1h1v1h-1v1h-1v-1h-1v-1h1zM140 304h1v1h1v1h-1v1h-1v-1h-1v-1h1zM150 297h1v1h1v1h-1v1h-1v-1h-1v-1h1zM160 297h1v1h1v1h-1v1h-1v-1h-1v-1h1zM170 291h1v1h1v1h-1v1h-1v-1h-1v-1h1zM180 295h1v1h1v1h-1v1h-1v-1h-1v-1h1zM190 295h1v1h1v1h-1v1h-1v-1h-1v-1h1zM200 295h1v1h1v1h-1v1h-1v-1h-1v-1h1zM210 284h1v1h1v1h-1v1h-1v-1h-1v-1h1zM220 275h1v1h1v1h-1v1h-1v-1h-1v-1h1zM230 269h1v1h1v1h-1v1h-1v-1h-1v-1h1zM240 263h1v1h1v1h-1v1h-1v-1h-1v-1h1zM250 255h1v1h1v1h-1v1h-1v-1h-1v-1h1zM260 256h1v1h1v1h-1v1h-1v-1h-1v-1h1zM270 257h1v1h1v1h-1v1h-1v-1h-1v-1h1zM280 262h1v1h1v1h-1v1h-1v-1h-1v-1h1zM290 264h1v1h1v1h-1v1h-1v-1h-1v-1h1zM300 257h1v1h1v1h-1v1h-1v-1h-1v-1h1zM310 242h1v1h1v1h-1v1h-1v-1h-1v-1h1zM320 234h1v1h1v1h-1v1h-1v-1h-1v-1h1zM330 227h1v1h1v1h-1v1h-1v-1h-1v-1h1zM340 219h1v1h1v1h-1v1h-1v-1h-1v-1h1zM350 215h1v1h1v1h-1v1h-1v-1h-1v-1h1zM360 209h1v1h1v1h-1v1h-1v-1h-1v-1h1zM370 199h1v1h1v1h-1v1h-1v-1h-1v-1h1zM380 187h1v1h1v1h-1v1h-1v-1h-1v-1h1zM390 183h1v1h1v1h-1v1h-1v-1h-1v-1h1zM400 182h1v1h1v1h-1v1h-1v-1h-1v-1h1zM410 180h1v1h1v1h-1v1h-1v-1h-1v-1h1zM420 182h1v1h1v1h-1v1h-1v-1h-1v-1h1zM430 180h1v1h1v1h-1v1h-1v-1h-1v-1h1zM440 187h1v1h1v1h-1v1h-1v-1h-1v-1h1zM450 197h1v1h1v1h-1v1h-1v-1h-1v-1h1zM460 217h1v1h1v1h-1v1h-1v-1h-1v-1h1zM470 233h1v1h1v1h-1v1h-1v-1h-1v-1h1zM480 245h1v1h1v1h-1v1h-1v-1h-1v-1h1zM490 252h1v1h1v1h-1v1h-1v-1h-1v-1h1zM500 257h1v1h1v1h-1v1h-1v-1h-1v-1h1zM510 254h1v1h1v1h-1v1h-1v-1h-1v-1h1zM520 252h1v1h1v1h-1v1h-1v-1h-1v-1h1zM530 245h1v1h1v1h-1v1h-1v-1h-1v-1h1zM540 247h1v1h1v1h-1v1h-1v-1h-1v-1h1zM550 248h1v1h1v1h-1v1h-1v-1h-1v-1h1zM560 250h1v1h1v1h-1v1h-1v-1h-1v-1h1zM570 244h1v1h1v1h-1v1h-1v-1h-1v-1h1zM580 237h1v1h1v1h-1v1h-1v-1h-1v-1h1zM590 227h1v1h1v1h-1v1h-1v-1h-1v-1h1zM600 223h1v1h1v1h-1v1h-1v-1h-1v-1h1zM610 215h1v1h1v1h-1v1h-1v-1h-1v-1h1zM620 213h1v1h1v1h-1v1h-1v-1h-1v-1h1zM630 202h1v1h1v1h-1v1h-1v-1h-1v-1h1zM640 197h1v1h1v1h-1v1h-1v-1h-1v-1h1zM650 190h1v1h1v1h-1v1h-1v-1h-1v-1h1zM660 177h1v1h1v1h-1v1h-1v-1h-1v-1h1zM670 165h1v1h1v1h-1v1h-1v-1h-1v-1h1zM680 150h1v1h1v1h-1v1h-1v-1h-1v-1h1zM690 137h1v1h1v1h-1v1h-1v-1h-1v-1h1z" fill="#0030c0"/>
<polyline points="50.5,266.2 60.5,276.5 70.5,287.5 80.5,297.5 90.5,310.0 100.5,321.0 110.5,328.0 120.5,333.5 130.5,330.5 140.5,328.0 150.5,320.5 160.5,315.5 170.5,306.5 180.5,306.0 190.5,308.0 200.5,312.0 210.5,315.5 220.5,318.0 230.5,318.5 240.5,318.0 250.5,314.2 260.5,315.5 270.5,318.5 280.5,315.5 290.5,306.5 300.5,301.5 310.5,303.0 320.5,304.5 330.5,300.5 340.5,296.0 350.5,293.5 360.5,292.5 370.5,290.0 380.5,296.5 390.5,305.5 400.5,313.0 410.5,320.5 420.5,330.5 430.5,343.0 440.5,360.5 450.5,379.5 460.5,405.5 470.5,428.0 480.5,445.5 490.5,453.5 500.5,451.5 510.5,441.5 520.5,436.5 530.5,430.5 540.5,423.0 550.5,416.5 560.5,413.0 570.5,405.5 580.5,398.0 590.5,388.0 600.5,379.5 610.5,370.5 620.5,365.5 630.5,361.5 640.5,356.5 650.5,348.0 660.5,343.0 670.5,339.5 680.5,336.5 690.5,332.5" fill="none" stroke="#ff0000" stroke-width="3.1" shape-rendering="geometricPrecision"/>
<polyline points="60.5,546.0 150.5,546.0 160.5,545.0 170.5,546.0 260.5,545.5 270.5,543.5 280.5,543.0 290.5,544.0 310.5,543.5 320.5,541.5 330.5,542.0 340.5,542.0 350.5,540.5 360.5,540.5 370.5,542.5 380.5,542.5 390.5,543.0 400.5,543.0 410.5,542.5 420.5,541.5 430.5,539.5 440.5,536.5 450.5,534.5 460.5,536.0 470.5,535.5 480.5,536.5 490.5,538.0 500.5,539.0 510.5,540.5 520.5,540.5 530.5,540.0 540.5,540.5 550.5,540.5 560.5,541.5 580.5,543.0 620.5,543.5 660.5,544.5 690.5,545.5" fill="none" stroke="#ff0000" stroke-width="3.1" shape-rendering="geometricPrecision"/>
</g>
<g shape-rendering="crispEdges">
<rect x="125" y="581" width="10" height="2" fill="#c4f6fe"/>
<rect x="135" y="579" width="10" height="4" fill="#c4f6fe"/>
<rect x="145" y="576" width="10" height="7" fill="#c4f6fe"/>
<rect x="155" y="574" width="10" height="9" fill="#c4f6fe"/>
<rect x="165" y="577" width="10" height="6" fill="#c4f6fe"/>
<rect x="175" y="576" width="10" height="7" fill="#c4f6fe"/>
<rect x="185" y="574" width="10" height="9" fill="#c4f6fe"/>
<rect x="195" y="568" width="10" height="15" fill="#c4f6fe"/>
<rect x="205" y="571" width="10" height="12" fill="#c4f6fe"/>
<rect x="215" y="572" width="10" height="11" fill="#c4f6fe"/>
<rect x="225" y="574" width="10" height="9" fill="#c4f6fe"/>
<rect x="235" y="574" width="10" height="9" fill="#c4f6fe"/>
<rect x="245" y="578" width="10" height="5" fill="#c4f6fe"/>
<rect x="255" y="574" width="10" height="9" fill="#c4f6fe"/>
<rect x="265" y="574" width="10" height="9" fill="#c4f6fe"/>
<rect x="275" y="574" width="10" height="9" fill="#c4f6fe"/>
<rect x="285" y="574" width="10" height="9" fill="#c4f6fe"/>
<rect x="295" y="571" width="10" height="12" fill="#c4f6fe"/>
<rect x="305" y="565" width="10" height="18" fill="#c4f6fe"/>
<rect x="315" y="569" width="10" height="14" fill="#c4f6fe"/>
<rect x="325" y="565" width="10" height="18" fill="#c4f6fe"/>
<rect x="335" y="569" width="10" height="14" fill="#c4f6fe"/>
<rect x="345" y="565" width="10" height="18" fill="#c4f6fe"/>
<rect x="355" y="562" width="10" height="21" fill="#c4f6fe"/>
<rect x="365" y="567" width="10" height="16" fill="#c4f6fe"/>
<rect x="375" y="567" width="10" height="16" fill="#c4f6fe"/>
<rect x="385" y="567" width="10" height="16" fill="#c4f6fe"/>
<rect x="395" y="564" width="10" height="19" fill="#c4f6fe"/>
<rect x="405" y="565" width="10" height="18" fill="#c4f6fe"/>
<rect x="415" y="564" width="10" height="19" fill="#c4f6fe"/>
<rect x="425" y="564" width="10" height="19" fill="#c4f6fe"/>
<rect x="435" y="561" width="10" height="22" fill="#c4f6fe"/>
<rect x="445" y="561" width="10" height="22" fill="#c4f6fe"/>
<rect x="455" y="561" width="10" height="22" fill="#c4f6fe"/>
<rect x="465" y="560" width="10" height="23" fill="#c4f6fe"/>
<rect x="475" y="561" width="10" height="22" fill="#c4f6fe"/>
<rect x="485" y="560" width="10" height="23" fill="#c4f6fe"/>
<rect x="495" y="565" width="10" height="18" fill="#c4f6fe"/>
<rect x="505" y="565" width="10" height="18" fill="#c4f6fe"/>
<rect x="515" y="562" width="10" height="21" fill="#c4f6fe"/>
<rect x="525" y="565" width="10" height="18" fill="#c4f6fe"/>
<rect x="535" y="565" width="10" height="18" fill="#c4f6fe"/>
<rect x="545" y="567" width="10" height="16" fill="#c4f6fe"/>
<rect x="555" y="572" width="10" height="11" fill="#c4f6fe"/>
<rect x="565" y="568" width="10" height="15" fill="#c4f6fe"/>
<rect x="575" y="567" width="10" height="16" fill="#c4f6fe"/>
<rect x="585" y="565" width="10" height="18" fill="#c4f6fe"/>
<rect x="595" y="567" width="10" height="16" fill="#c4f6fe"/>
<rect x="605" y="570" width="10" height="13" fill="#c4f6fe"/>
<rect x="615" y="571" width="10" height="12" fill="#c4f6fe"/>
<rect x="625" y="570" width="10" height="13" fill="#c4f6fe"/>
<rect x="635" y="570" width="10" height="13" fill="#c4f6fe"/>
<rect x="645" y="568" width="10" height="15" fill="#c4f6fe"/>
<rect x="655" y="569" width="10" height="14" fill="#c4f6fe"/>
<rect x="665" y="571" width="10" height="12" fill="#c4f6fe"/>
<rect x="675" y="572" width="10" height="11" fill="#c4f6fe"/>
</g>
<g fill="#70caf6">
<path d="M130.5 583l2.6 1.4 2.4 1.6v5.2l-2.4 1.6-2.6 1.4-2.6-1.4-2.4-1.6v-5.2l2.4-1.6z"/>
<path d="M140.5 583l2.6 1.4 2.4 1.6v5.2l-2.4 1.6-2.6 1.4-2.6-1.4-2.4-1.6v-5.2l2.4-1.6z"/>
<path d="M150.5 583l2.6 1.4 2.4 1.6v5.2l-2.4 1.6-2.6 1.4-2.6-1.4-2.4-1.6v-5.2l2.4-1.6z"/>
<path d="M160.5 583l2.6 1.4 2.4 1.6v5.2l-2.4 1.6-2.6 1.4-2.6-1.4-2.4-1.6v-5.2l2.4-1.6z"/>
<path d="M170.5 583l2.6 1.4 2.4 1.6v5.2l-2.4 1.6-2.6 1.4-2.6-1.4-2.4-1.6v-5.2l2.4-1.6z"/>
<path d="M180.5 583l2.6 1.4 2.4 1.6v5.2l-2.4 1.6-2.6 1.4-2.6-1.4-2.4-1.6v-5.2l2.4-1.6z"/>
<path d="M190.5 583l2.6 1.4 2.4 1.6v5.2l-2.4 1.6-2.6 1.4-2.6-1.4-2.4-1.6v-5.2l2.4-1.6z"/>
<path d="M200.5 583l2.6 1.4 2.4 1.6v5.2l-2.4 1.6-2.6 1.4-2.6-1.4-2.4-1.6v-5.2l2.4-1.6z"/>
<path d="M210.5 583l2.6 1.4 2.4 1.6v5.2l-2.4 1.6-2.6 1.4-2.6-1.4-2.4-1.6v-5.2l2.4-1.6z"/>
<path d="M220.5 583l2.6 1.4 2.4 1.6v5.2l-2.4 1.6-2.6 1.4-2.6-1.4-2.4-1.6v-5.2l2.4-1.6z"/>
<path d="M230.5 583l2.6 1.4 2.4 1.6v5.2l-2.4 1.6-2.6 1.4-2.6-1.4-2.4-1.6v-5.2l2.4-1.6z"/>
<path d="M240.5 583l2.6 1.4 2.4 1.6v5.2l-2.4 1.6-2.6 1.4-2.6-1.4-2.4-1.6v-5.2l2.4-1.6z"/>
<path d="M250.5 583l2.6 1.4 2.4 1.6v5.2l-2.4 1.6-2.6 1.4-2.6-1.4-2.4-1.6v-5.2l2.4-1.6z"/>
<path d="M260.5 583l2.6 1.4 2.4 1.6v5.2l-2.4 1.6-2.6 1.4-2.6-1.4-2.4-1.6v-5.2l2.4-1.6z"/>
<path d="M270.5 583l2.6 1.4 2.4 1.6v5.2l-2.4 1.6-2.6 1.4-2.6-1.4-2.4-1.6v-5.2l2.4-1.6z"/>
<path d="M280.5 583l2.6 1.4 2.4 1.6v5.2l-2.4 1.6-2.6 1.4-2.6-1.4-2.4-1.6v-5.2l2.4-1.6z"/>
<path d="M290.5 583l2.6 1.4 2.4 1.6v5.2l-2.4 1.6-2.6 1.4-2.6-1.4-2.4-1.6v-5.2l2.4-1.6z"/>
<path d="M300.5 583l2.6 1.4 2.4 1.6v5.2l-2.4 1.6-2.6 1.4-2.6-1.4-2.4-1.6v-5.2l2.4-1.6z"/>
<path d="M310.5 583l2.6 1.4 2.4 1.6v5.2l-2.4 1.6-2.6 1.4-2.6-1.4-2.4-1.6v-5.2l2.4-1.6z"/>
<path d="M320.5 583l2.6 1.4 2.4 1.6v5.2l-2.4 1.6-2.6 1.4-2.6-1.4-2.4-1.6v-5.2l2.4-1.6z"/>
<path d="M330.5 583l2.6 1.4 2.4 1.6v5.2l-2.4 1.6-2.6 1.4-2.6-1.4-2.4-1.6v-5.2l2.4-1.6z"/>
<path d="M340.5 583l2.6 1.4 2.4 1.6v5.2l-2.4 1.6-2.6 1.4-2.6-1.4-2.4-1.6v-5.2l2.4-1.6z"/>
<path d="M350.5 583l2.6 1.4 2.4 1.6v5.2l-2.4 1.6-2.6 1.4-2.6-1.4-2.4-1.6v-5.2l2.4-1.6z"/>
<path d="M360.5 583l2.6 1.4 2.4 1.6v5.2l-2.4 1.6-2.6 1.4-2.6-1.4-2.4-1.6v-5.2l2.4-1.6z"/>
<path d="M370.5 583l2.6 1.4 2.4 1.6v5.2l-2.4 1.6-2.6 1.4-2.6-1.4-2.4-1.6v-5.2l2.4-1.6z"/>
<path d="M380.5 583l2.6 1.4 2.4 1.6v5.2l-2.4 1.6-2.6 1.4-2.6-1.4-2.4-1.6v-5.2l2.4-1.6z"/>
<path d="M390.5 583l2.6 1.4 2.4 1.6v5.2l-2.4 1.6-2.6 1.4-2.6-1.4-2.4-1.6v-5.2l2.4-1.6z"/>
<path d="M400.5 583l2.6 1.4 2.4 1.6v5.2l-2.4 1.6-2.6 1.4-2.6-1.4-2.4-1.6v-5.2l2.4-1.6z"/>
<path d="M410.5 583l2.6 1.4 2.4 1.6v5.2l-2.4 1.6-2.6 1.4-2.6-1.4-2.4-1.6v-5.2l2.4-1.6z"/>
<path d="M420.5 583l2.6 1.4 2.4 1.6v5.2l-2.4 1.6-2.6 1.4-2.6-1.4-2.4-1.6v-5.2l2.4-1.6z"/>
<path d="M430.5 583l2.6 1.4 2.4 1.6v5.2l-2.4 1.6-2.6 1.4-2.6-1.4-2.4-1.6v-5.2l2.4-1.6z"/>
<path d="M440.5 583l2.6 1.4 2.4 1.6v5.2l-2.4 1.6-2.6 1.4-2.6-1.4-2.4-1.6v-5.2l2.4-1.6z"/>
<path d="M450.5 583l2.6 1.4 2.4 1.6v5.2l-2.4 1.6-2.6 1.4-2.6-1.4-2.4-1.6v-5.2l2.4-1.6z"/>
<path d="M460.5 583l2.6 1.4 2.4 1.6v5.2l-2.4 1.6-2.6 1.4-2.6-1.4-2.4-1.6v-5.2l2.4-1.6z"/>
<path d="M470.5 583l2.6 1.4 2.4 1.6v5.2l-2.4 1.6-2.6 1.4-2.6-1.4-2.4-1.6v-5.2l2.4-1.6z"/>
<path d="M480.5 583l2.6 1.4 2.4 1.6v5.2l-2.4 1.6-2.6 1.4-2.6-1.4-2.4-1.6v-5.2l2.4-1.6z"/>
<path d="M490.5 583l2.6 1.4 2.4 1.6v5.2l-2.4 1.6-2.6 1.4-2.6-1.4-2.4-1.6v-5.2l2.4-1.6z"/>
<path d="M500.5 583l2.6 1.4 2.4 1.6v5.2l-2.4 1.6-2.6 1.4-2.6-1.4-2.4-1.6v-5.2l2.4-1.6z"/>
<path d="M510.5 583l2.6 1.4 2.4 1.6v5.2l-2.4 1.6-2.6 1.4-2.6-1.4-2.4-1.6v-5.2l2.4-1.6z"/>
<path d="M520.5 583l2.6 1.4 2.4 1.6v5.2l-2.4 1.6-2.6 1.4-2.6-1.4-2.4-1.6v-5.2l2.4-1.6z"/>
<path d="M530.5 583l2.6 1.4 2.4 1.6v5.2l-2.4 1.6-2.6 1.4-2.6-1.4-2.4-1.6v-5.2l2.4-1.6z"/>
<path d="M540.5 583l2.6 1.4 2.4 1.6v5.2l-2.4 1.6-2.6 1.4-2.6-1.4-2.4-1.6v-5.2l2.4-1.6z"/>
<path d="M550.5 583l2.6 1.4 2.4 1.6v5.2l-2.4 1.6-2.6 1.4-2.6-1.4-2.4-1.6v-5.2l2.4-1.6z"/>
<path d="M560.5 583l2.6 1.4 2.4 1.6v5.2l-2.4 1.6-2.6 1.4-2.6-1.4-2.4-1.6v-5.2l2.4-1.6z"/>
<path d="M570.5 583l2.6 1.4 2.4 1.6v5.2l-2.4 1.6-2.6 1.4-2.6-1.4-2.4-1.6v-5.2l2.4-1.6z"/>
<path d="M580.5 583l2.6 1.4 2.4 1.6v5.2l-2.4 1.6-2.6 1.4-2.6-1.4-2.4-1.6v-5.2l2.4-1.6z"/>
<path d="M590.5 583l2.6 1.4 2.4 1.6v5.2l-2.4 1.6-2.6 1.4-2.6-1.4-2.4-1.6v-5.2l2.4-1.6z"/>
<path d="M600.5 583l2.6 1.4 2.4 1.6v5.2l-2.4 1.6-2.6 1.4-2.6-1.4-2.4-1.6v-5.2l2.4-1.6z"/>
<path d="M610.5 583l2.6 1.4 2.4 1.6v5.2l-2.4 1.6-2.6 1.4-2.6-1.4-2.4-1.6v-5.2l2.4-1.6z"/>
<path d="M620.5 583l2.6 1.4 2.4 1.6v5.2l-2.4 1.6-2.6 1.4-2.6-1.4-2.4-1.6v-5.2l2.4-1.6z"/>
<path d="M630.5 583l2.6 1.4 2.4 1.6v5.2l-2.4 1.6-2.6 1.4-2.6-1.4-2.4-1.6v-5.2l2.4-1.6z"/>
<path d="M640.5 583l2.6 1.4 2.4 1.6v5.2l-2.4 1.6-2.6 1.4-2.6-1.4-2.4-1.6v-5.2l2.4-1.6z"/>
<path d="M650.5 583l2.6 1.4 2.4 1.6v5.2l-2.4 1.6-2.6 1.4-2.6-1.4-2.4-1.6v-5.2l2.4-1.6z"/>
<path d="M660.5 583l2.6 1.4 2.4 1.6v5.2l-2.4 1.6-2.6 1.4-2.6-1.4-2.4-1.6v-5.2l2.4-1.6z"/>
<path d="M670.5 583l2.6 1.4 2.4 1.6v5.2l-2.4 1.6-2.6 1.4-2.6-1.4-2.4-1.6v-5.2l2.4-1.6z"/>
<path d="M680.5 583l2.6 1.4 2.4 1.6v5.2l-2.4 1.6-2.6 1.4-2.6-1.4-2.4-1.6v-5.2l2.4-1.6z"/>
</g>
<g fill="#e8f8fe">
<rect x="127.6" y="585.8" width="1.5" height="1.5"/>
<rect x="132.2" y="585.8" width="1.5" height="1.5"/>
<rect x="127.6" y="590.2" width="1.5" height="1.5"/>
<rect x="132.2" y="590.2" width="1.5" height="1.5"/>
<rect x="126.5" y="588" width="1.5" height="1.5"/>
<rect x="133.3" y="588" width="1.5" height="1.5"/>
<rect x="137.6" y="585.8" width="1.5" height="1.5"/>
<rect x="142.2" y="585.8" width="1.5" height="1.5"/>
<rect x="137.6" y="590.2" width="1.5" height="1.5"/>
<rect x="142.2" y="590.2" width="1.5" height="1.5"/>
<rect x="136.5" y="588" width="1.5" height="1.5"/>
<rect x="143.3" y="588" width="1.5" height="1.5"/>
<rect x="147.6" y="585.8" width="1.5" height="1.5"/>
<rect x="152.2" y="585.8" width="1.5" height="1.5"/>
<rect x="147.6" y="590.2" width="1.5" height="1.5"/>
<rect x="152.2" y="590.2" width="1.5" height="1.5"/>
<rect x="146.5" y="588" width="1.5" height="1.5"/>
<rect x="153.3" y="588" width="1.5" height="1.5"/>
<rect x="157.6" y="585.8" width="1.5" height="1.5"/>
<rect x="162.2" y="585.8" width="1.5" height="1.5"/>
<rect x="157.6" y="590.2" width="1.5" height="1.5"/>
<rect x="162.2" y="590.2" width="1.5" height="1.5"/>
<rect x="156.5" y="588" width="1.5" height="1.5"/>
<rect x="163.3" y="588" width="1.5" height="1.5"/>
<rect x="167.6" y="585.8" width="1.5" height="1.5"/>
<rect x="172.2" y="585.8" width="1.5" height="1.5"/>
<rect x="167.6" y="590.2" width="1.5" height="1.5"/>
<rect x="172.2" y="590.2" width="1.5" height="1.5"/>
<rect x="166.5" y="588" width="1.5" height="1.5"/>
<rect x="173.3" y="588" width="1.5" height="1.5"/>
<rect x="177.6" y="585.8" width="1.5" height="1.5"/>
<rect x="182.2" y="585.8" width="1.5" height="1.5"/>
<rect x="177.6" y="590.2" width="1.5" height="1.5"/>
<rect x="182.2" y="590.2" width="1.5" height="1.5"/>
<rect x="176.5" y="588" width="1.5" height="1.5"/>
<rect x="183.3" y="588" width="1.5" height="1.5"/>
<rect x="187.6" y="585.8" width="1.5" height="1.5"/>
<rect x="192.2" y="585.8" width="1.5" height="1.5"/>
<rect x="187.6" y="590.2" width="1.5" height="1.5"/>
<rect x="192.2" y="590.2" width="1.5" height="1.5"/>
<rect x="186.5" y="588" width="1.5" height="1.5"/>
<rect x="193.3" y="588" width="1.5" height="1.5"/>
<rect x="197.6" y="585.8" width="1.5" height="1.5"/>
<rect x="202.2" y="585.8" width="1.5" height="1.5"/>
<rect x="197.6" y="590.2" width="1.5" height="1.5"/>
<rect x="202.2" y="590.2" width="1.5" height="1.5"/>
<rect x="196.5" y="588" width="1.5" height="1.5"/>
<rect x="203.3" y="588" width="1.5" height="1.5"/>
<rect x="207.6" y="585.8" width="1.5" height="1.5"/>
<rect x="212.2" y="585.8" width="1.5" height="1.5"/>
<rect x="207.6" y="590.2" width="1.5" height="1.5"/>
<rect x="212.2" y="590.2" width="1.5" height="1.5"/>
<rect x="206.5" y="588" width="1.5" height="1.5"/>
<rect x="213.3" y="588" width="1.5" height="1.5"/>
<rect x="217.6" y="585.8" width="1.5" height="1.5"/>
<rect x="222.2" y="585.8" width="1.5" height="1.5"/>
<rect x="217.6" y="590.2" width="1.5" height="1.5"/>
<rect x="222.2" y="590.2" width="1.5" height="1.5"/>
<rect x="216.5" y="588" width="1.5" height="1.5"/>
<rect x="223.3" y="588" width="1.5" height="1.5"/>
<rect x="227.6" y="585.8" width="1.5" height="1.5"/>
<rect x="232.2" y="585.8" width="1.5" height="1.5"/>
<rect x="227.6" y="590.2" width="1.5" height="1.5"/>
<rect x="232.2" y="590.2" width="1.5" height="1.5"/>
<rect x="226.5" y="588" width="1.5" height="1.5"/>
<rect x="233.3" y="588" width="1.5" height="1.5"/>
<rect x="237.6" y="585.8" width="1.5" height="1.5"/>
<rect x="242.2" y="585.8" width="1.5" height="1.5"/>
<rect x="237.6" y="590.2" width="1.5" height="1.5"/>
<rect x="242.2" y="590.2" width="1.5" height="1.5"/>
<rect x="236.5" y="588" width="1.5" height="1.5"/>
<rect x="243.3" y="588" width="1.5" height="1.5"/>
<rect x="247.6" y="585.8" width="1.5" height="1.5"/>
<rect x="252.2" y="585.8" width="1.5" height="1.5"/>
<rect x="247.6" y="590.2" width="1.5" height="1.5"/>
<rect x="252.2" y="590.2" width="1.5" height="1.5"/>
<rect x="246.5" y="588" width="1.5" height="1.5"/>
<rect x="253.3" y="588" width="1.5" height="1.5"/>
<rect x="257.6" y="585.8" width="1.5" height="1.5"/>
<rect x="262.2" y="585.8" width="1.5" height="1.5"/>
<rect x="257.6" y="590.2" width="1.5" height="1.5"/>
<rect x="262.2" y="590.2" width="1.5" height="1.5"/>
<rect x="256.5" y="588" width="1.5" height="1.5"/>
<rect x="263.3" y="588" width="1.5" height="1.5"/>
<rect x="267.6" y="585.8" width="1.5" height="1.5"/>
<rect x="272.2" y="585.8" width="1.5" height="1.5"/>
<rect x="267.6" y="590.2" width="1.5" height="1.5"/>
<rect x="272.2" y="590.2" width="1.5" height="1.5"/>
<rect x="266.5" y="588" width="1.5" height="1.5"/>
<rect x="273.3" y="588" width="1.5" height="1.5"/>
<rect x="277.6" y="585.8" width="1.5" height="1.5"/>
<rect x="282.2" y="585.8" width="1.5" height="1.5"/>
<rect x="277.6" y="590.2" width="1.5" height="1.5"/>
<rect x="282.2" y="590.2" width="1.5" height="1.5"/>
<rect x="276.5" y="588" width="1.5" height="1.5"/>
<rect x="283.3" y="588" width="1.5" height="1.5"/>
<rect x="287.6" y="585.8" width="1.5" height="1.5"/>
<rect x="292.2" y="585.8" width="1.5" height="1.5"/>
<rect x="287.6" y="590.2" width="1.5" height="1.5"/>
<rect x="292.2" y="590.2" width="1.5" height="1.5"/>
<rect x="286.5" y="588" width="1.5" height="1.5"/>
<rect x="293.3" y="588" width="1.5" height="1.5"/>
<rect x="297.6" y="585.8" width="1.5" height="1.5"/>
<rect x="302.2" y="585.8" width="1.5" height="1.5"/>
<rect x="297.6" y="590.2" width="1.5" height="1.5"/>
<rect x="302.2" y="590.2" width="1.5" height="1.5"/>
<rect x="296.5" y="588" width="1.5" height="1.5"/>
<rect x="303.3" y="588" width="1.5" height="1.5"/>
<rect x="307.6" y="585.8" width="1.5" height="1.5"/>
<rect x="312.2" y="585.8" width="1.5" height="1.5"/>
<rect x="307.6" y="590.2" width="1.5" height="1.5"/>
<rect x="312.2" y="590.2" width="1.5" height="1.5"/>
<rect x="306.5" y="588" width="1.5" height="1.5"/>
<rect x="313.3" y="588" width="1.5" height="1.5"/>
<rect x="317.6" y="585.8" width="1.5" height="1.5"/>
<rect x="322.2" y="585.8" width="1.5" height="1.5"/>
<rect x="317.6" y="590.2" width="1.5" height="1.5"/>
<rect x="322.2" y="590.2" width="1.5" height="1.5"/>
<rect x="316.5" y="588" width="1.5" height="1.5"/>
<rect x="323.3" y="588" width="1.5" height="1.5"/>
<rect x="327.6" y="585.8" width="1.5" height="1.5"/>
<rect x="332.2" y="585.8" width="1.5" height="1.5"/>
<rect x="327.6" y="590.2" width="1.5" height="1.5"/>
<rect x="332.2" y="590.2" width="1.5" height="1.5"/>
<rect x="326.5" y="588" width="1.5" height="1.5"/>
<rect x="333.3" y="588" width="1.5" height="1.5"/>
<rect x="337.6" y="585.8" width="1.5" height="1.5"/>
<rect x="342.2" y="585.8" width="1.5" height="1.5"/>
<rect x="337.6" y="590.2" width="1.5" height="1.5"/>
<rect x="342.2" y="590.2" width="1.5" height="1.5"/>
<rect x="336.5" y="588" width="1.5" height="1.5"/>
<rect x="343.3" y="588" width="1.5" height="1.5"/>
<rect x="347.6" y="585.8" width="1.5" height="1.5"/>
<rect x="352.2" y="585.8" width="1.5" height="1.5"/>
<rect x="347.6" y="590.2" width="1.5" height="1.5"/>
<rect x="352.2" y="590.2" width="1.5" height="1.5"/>
<rect x="346.5" y="588" width="1.5" height="1.5"/>
<rect x="353.3" y="588" width="1.5" height="1.5"/>
<rect x="357.6" y="585.8" width="1.5" height="1.5"/>
<rect x="362.2" y="585.8" width="1.5" height="1.5"/>
<rect x="357.6" y="590.2" width="1.5" height="1.5"/>
<rect x="362.2" y="590.2" width="1.5" height="1.5"/>
<rect x="356.5" y="588" width="1.5" height="1.5"/>
<rect x="363.3" y="588" width="1.5" height="1.5"/>
<rect x="367.6" y="585.8" width="1.5" height="1.5"/>
<rect x="372.2" y="585.8" width="1.5" height="1.5"/>
<rect x="367.6" y="590.2" width="1.5" height="1.5"/>
<rect x="372.2" y="590.2" width="1.5" height="1.5"/>
<rect x="366.5" y="588" width="1.5" height="1.5"/>
<rect x="373.3" y="588" width="1.5" height="1.5"/>
<rect x="377.6" y="585.8" width="1.5" height="1.5"/>
<rect x="382.2" y="585.8" width="1.5" height="1.5"/>
<rect x="377.6" y="590.2" width="1.5" height="1.5"/>
<rect x="382.2" y="590.2" width="1.5" height="1.5"/>
<rect x="376.5" y="588" width="1.5" height="1.5"/>
<rect x="383.3" y="588" width="1.5" height="1.5"/>
<rect x="387.6" y="585.8" width="1.5" height="1.5"/>
<rect x="392.2" y="585.8" width="1.5" height="1.5"/>
<rect x="387.6" y="590.2" width="1.5" height="1.5"/>
<rect x="392.2" y="590.2" width="1.5" height="1.5"/>
<rect x="386.5" y="588" width="1.5" height="1.5"/>
<rect x="393.3" y="588" width="1.5" height="1.5"/>
<rect x="397.6" y="585.8" width="1.5" height="1.5"/>
<rect x="402.2" y="585.8" width="1.5" height="1.5"/>
<rect x="397.6" y="590.2" width="1.5" height="1.5"/>
<rect x="402.2" y="590.2" width="1.5" height="1.5"/>
<rect x="396.5" y="588" width="1.5" height="1.5"/>
<rect x="403.3" y="588" width="1.5" height="1.5"/>
<rect x="407.6" y="585.8" width="1.5" height="1.5"/>
<rect x="412.2" y="585.8" width="1.5" height="1.5"/>
<rect x="407.6" y="590.2" width="1.5" height="1.5"/>
<rect x="412.2" y="590.2" width="1.5" height="1.5"/>
<rect x="406.5" y="588" width="1.5" height="1.5"/>
<rect x="413.3" y="588" width="1.5" height="1.5"/>
<rect x="417.6" y="585.8" width="1.5" height="1.5"/>
<rect x="422.2" y="585.8" width="1.5" height="1.5"/>
<rect x="417.6" y="590.2" width="1.5" height="1.5"/>
<rect x="422.2" y="590.2" width="1.5" height="1.5"/>
<rect x="416.5" y="588" width="1.5" height="1.5"/>
<rect x="423.3" y="588" width="1.5" height="1.5"/>
<rect x="427.6" y="585.8" width="1.5" height="1.5"/>
<rect x="432.2" y="585.8" width="1.5" height="1.5"/>
<rect x="427.6" y="590.2" width="1.5" height="1.5"/>
<rect x="432.2" y="590.2" width="1.5" height="1.5"/>
<rect x="426.5" y="588" width="1.5" height="1.5"/>
<rect x="433.3" y="588" width="1.5" height="1.5"/>
<rect x="437.6" y="585.8" width="1.5" height="1.5"/>
<rect x="442.2" y="585.8" width="1.5" height="1.5"/>
<rect x="437.6" y="590.2" width="1.5" height="1.5"/>
<rect x="442.2" y="590.2" width="1.5" height="1.5"/>
<rect x="436.5" y="588" width="1.5" height="1.5"/>
<rect x="443.3" y="588" width="1.5" height="1.5"/>
<rect x="447.6" y="585.8" width="1.5" height="1.5"/>
<rect x="452.2" y="585.8" width="1.5" height="1.5"/>
<rect x="447.6" y="590.2" width="1.5" height="1.5"/>
<rect x="452.2" y="590.2" width="1.5" height="1.5"/>
<rect x="446.5" y="588" width="1.5" height="1.5"/>
<rect x="453.3" y="588" width="1.5" height="1.5"/>
<rect x="457.6" y="585.8" width="1.5" height="1.5"/>
<rect x="462.2" y="585.8" width="1.5" height="1.5"/>
<rect x="457.6" y="590.2" width="1.5" height="1.5"/>
<rect x="462.2" y="590.2" width="1.5" height="1.5"/>
<rect x="456.5" y="588" width="1.5" height="1.5"/>
<rect x="463.3" y="588" width="1.5" height="1.5"/>
<rect x="467.6" y="585.8" width="1.5" height="1.5"/>
<rect x="472.2" y="585.8" width="1.5" height="1.5"/>
<rect x="467.6" y="590.2" width="1.5" height="1.5"/>
<rect x="472.2" y="590.2" width="1.5" height="1.5"/>
<rect x="466.5" y="588" width="1.5" height="1.5"/>
<rect x="473.3" y="588" width="1.5" height="1.5"/>
<rect x="477.6" y="585.8" width="1.5" height="1.5"/>
<rect x="482.2" y="585.8" width="1.5" height="1.5"/>
<rect x="477.6" y="590.2" width="1.5" height="1.5"/>
<rect x="482.2" y="590.2" width="1.5" height="1.5"/>
<rect x="476.5" y="588" width="1.5" height="1.5"/>
<rect x="483.3" y="588" width="1.5" height="1.5"/>
<rect x="487.6" y="585.8" width="1.5" height="1.5"/>
<rect x="492.2" y="585.8" width="1.5" height="1.5"/>
<rect x="487.6" y="590.2" width="1.5" height="1.5"/>
<rect x="492.2" y="590.2" width="1.5" height="1.5"/>
<rect x="486.5" y="588" width="1.5" height="1.5"/>
<rect x="493.3" y="588" width="1.5" height="1.5"/>
<rect x="497.6" y="585.8" width="1.5" height="1.5"/>
<rect x="502.2" y="585.8" width="1.5" height="1.5"/>
<rect x="497.6" y="590.2" width="1.5" height="1.5"/>
<rect x="502.2" y="590.2" width="1.5" height="1.5"/>
<rect x="496.5" y="588" width="1.5" height="1.5"/>
<rect x="503.3" y="588" width="1.5" height="1.5"/>
<rect x="507.6" y="585.8" width="1.5" height="1.5"/>
<rect x="512.2" y="585.8" width="1.5" height="1.5"/>
<rect x="507.6" y="590.2" width="1.5" height="1.5"/>
<rect x="512.2" y="590.2" width="1.5" height="1.5"/>
<rect x="506.5" y="588" width="1.5" height="1.5"/>
<rect x="513.3" y="588" width="1.5" height="1.5"/>
<rect x="517.6" y="585.8" width="1.5" height="1.5"/>
<rect x="522.2" y="585.8" width="1.5" height="1.5"/>
<rect x="517.6" y="590.2" width="1.5" height="1.5"/>
<rect x="522.2" y="590.2" width="1.5" height="1.5"/>
<rect x="516.5" y="588" width="1.5" height="1.5"/>
<rect x="523.3" y="588" width="1.5" height="1.5"/>
<rect x="527.6" y="585.8" width="1.5" height="1.5"/>
<rect x="532.2" y="585.8" width="1.5" height="1.5"/>
<rect x="527.6" y="590.2" width="1.5" height="1.5"/>
<rect x="532.2" y="590.2" width="1.5" height="1.5"/>
<rect x="526.5" y="588" width="1.5" height="1.5"/>
<rect x="533.3" y="588" width="1.5" height="1.5"/>
<rect x="537.6" y="585.8" width="1.5" height="1.5"/>
<rect x="542.2" y="585.8" width="1.5" height="1.5"/>
<rect x="537.6" y="590.2" width="1.5" height="1.5"/>
<rect x="542.2" y="590.2" width="1.5" height="1.5"/>
<rect x="536.5" y="588" width="1.5" height="1.5"/>
<rect x="543.3" y="588" width="1.5" height="1.5"/>
<rect x="547.6" y="585.8" width="1.5" height="1.5"/>
<rect x="552.2" y="585.8" width="1.5" height="1.5"/>
<rect x="547.6" y="590.2" width="1.5" height="1.5"/>
<rect x="552.2" y="590.2" width="1.5" height="1.5"/>
<rect x="546.5" y="588" width="1.5" height="1.5"/>
<rect x="553.3" y="588" width="1.5" height="1.5"/>
<rect x="557.6" y="585.8" width="1.5" height="1.5"/>
<rect x="562.2" y="585.8" width="1.5" height="1.5"/>
<rect x="557.6" y="590.2" width="1.5" height="1.5"/>
<rect x="562.2" y="590.2" width="1.5" height="1.5"/>
<rect x="556.5" y="588" width="1.5" height="1.5"/>
<rect x="563.3" y="588" width="1.5" height="1.5"/>
<rect x="567.6" y="585.8" width="1.5" height="1.5"/>
<rect x="572.2" y="585.8" width="1.5" height="1.5"/>
<rect x="567.6" y="590.2" width="1.5" height="1.5"/>
<rect x="572.2" y="590.2" width="1.5" height="1.5"/>
<rect x="566.5" y="588" width="1.5" height="1.5"/>
<rect x="573.3" y="588" width="1.5" height="1.5"/>
<rect x="577.6" y="585.8" width="1.5" height="1.5"/>
<rect x="582.2" y="585.8" width="1.5" height="1.5"/>
<rect x="577.6" y="590.2" width="1.5" height="1.5"/>
<rect x="582.2" y="590.2" width="1.5" height="1.5"/>
<rect x="576.5" y="588" width="1.5" height="1.5"/>
<rect x="583.3" y="588" width="1.5" height="1.5"/>
<rect x="587.6" y="585.8" width="1.5" height="1.5"/>
<rect x="592.2" y="585.8" width="1.5" height="1.5"/>
<rect x="587.6" y="590.2" width="1.5" height="1.5"/>
<rect x="592.2" y="590.2" width="1.5" height="1.5"/>
<rect x="586.5" y="588" width="1.5" height="1.5"/>
<rect x="593.3" y="588" width="1.5" height="1.5"/>
<rect x="597.6" y="585.8" width="1.5" height="1.5"/>
<rect x="602.2" y="585.8" width="1.5" height="1.5"/>
<rect x="597.6" y="590.2" width="1.5" height="1.5"/>
<rect x="602.2" y="590.2" width="1.5" height="1.5"/>
<rect x="596.5" y="588" width="1.5" height="1.5"/>
<rect x="603.3" y="588" width="1.5" height="1.5"/>
<rect x="607.6" y="585.8" width="1.5" height="1.5"/>
<rect x="612.2" y="585.8" width="1.5" height="1.5"/>
<rect x="607.6" y="590.2" width="1.5" height="1.5"/>
<rect x="612.2" y="590.2" width="1.5" height="1.5"/>
<rect x="606.5" y="588" width="1.5" height="1.5"/>
<rect x="613.3" y="588" width="1.5" height="1.5"/>
<rect x="617.6" y="585.8" width="1.5" height="1.5"/>
<rect x="622.2" y="585.8" width="1.5" height="1.5"/>
<rect x="617.6" y="590.2" width="1.5" height="1.5"/>
<rect x="622.2" y="590.2" width="1.5" height="1.5"/>
<rect x="616.5" y="588" width="1.5" height="1.5"/>
<rect x="623.3" y="588" width="1.5" height="1.5"/>
<rect x="627.6" y="585.8" width="1.5" height="1.5"/>
<rect x="632.2" y="585.8" width="1.5" height="1.5"/>
<rect x="627.6" y="590.2" width="1.5" height="1.5"/>
<rect x="632.2" y="590.2" width="1.5" height="1.5"/>
<rect x="626.5" y="588" width="1.5" height="1.5"/>
<rect x="633.3" y="588" width="1.5" height="1.5"/>
<rect x="637.6" y="585.8" width="1.5" height="1.5"/>
<rect x="642.2" y="585.8" width="1.5" height="1.5"/>
<rect x="637.6" y="590.2" width="1.5" height="1.5"/>
<rect x="642.2" y="590.2" width="1.5" height="1.5"/>
<rect x="636.5" y="588" width="1.5" height="1.5"/>
<rect x="643.3" y="588" width="1.5" height="1.5"/>
<rect x="647.6" y="585.8" width="1.5" height="1.5"/>
<rect x="652.2" y="585.8" width="1.5" height="1.5"/>
<rect x="647.6" y="590.2" width="1.5" height="1.5"/>
<rect x="652.2" y="590.2" width="1.5" height="1.5"/>
<rect x="646.5" y="588" width="1.5" height="1.5"/>
<rect x="653.3" y="588" width="1.5" height="1.5"/>
<rect x="657.6" y="585.8" width="1.5" height="1.5"/>
<rect x="662.2" y="585.8" width="1.5" height="1.5"/>
<rect x="657.6" y="590.2" width="1.5" height="1.5"/>
<rect x="662.2" y="590.2" width="1.5" height="1.5"/>
<rect x="656.5" y="588" width="1.5" height="1.5"/>
<rect x="663.3" y="588" width="1.5" height="1.5"/>
<rect x="667.6" y="585.8" width="1.5" height="1.5"/>
<rect x="672.2" y="585.8" width="1.5" height="1.5"/>
<rect x="667.6" y="590.2" width="1.5" height="1.5"/>
<rect x="672.2" y="590.2" width="1.5" height="1.5"/>
<rect x="666.5" y="588" width="1.5" height="1.5"/>
<rect x="673.3" y="588" width="1.5" height="1.5"/>
<rect x="677.6" y="585.8" width="1.5" height="1.5"/>
<rect x="682.2" y="585.8" width="1.5" height="1.5"/>
<rect x="677.6" y="590.2" width="1.5" height="1.5"/>
<rect x="682.2" y="590.2" width="1.5" height="1.5"/>
<rect x="676.5" y="588" width="1.5" height="1.5"/>
<rect x="683.3" y="588" width="1.5" height="1.5"/>
</g>
<g font-family="'Liberation Mono', monospace" font-weight="bold" font-size="9.5" fill="#0000ff" stroke="#0000ff" stroke-width="0.35">
<text transform="translate(133,581) rotate(-90)" textLength="10" lengthAdjust="spacingAndGlyphs">6%</text>
<text transform="translate(143,581) rotate(-90)" textLength="15" lengthAdjust="spacingAndGlyphs">16%</text>
<text transform="translate(153,581) rotate(-90)" textLength="15" lengthAdjust="spacingAndGlyphs">26%</text>
<text transform="translate(163,581) rotate(-90)" textLength="15" lengthAdjust="spacingAndGlyphs">32%</text>
<text transform="translate(173,581) rotate(-90)" textLength="15" lengthAdjust="spacingAndGlyphs">23%</text>
<text transform="translate(183,581) rotate(-90)" textLength="15" lengthAdjust="spacingAndGlyphs">26%</text>
<text transform="translate(193,581) rotate(-90)" textLength="15" lengthAdjust="spacingAndGlyphs">35%</text>
<text transform="translate(203,581) rotate(-90)" textLength="15" lengthAdjust="spacingAndGlyphs">55%</text>
<text transform="translate(213,581) rotate(-90)" textLength="15" lengthAdjust="spacingAndGlyphs">45%</text>
<text transform="translate(223,581) rotate(-90)" textLength="15" lengthAdjust="spacingAndGlyphs">39%</text>
<text transform="translate(233,581) rotate(-90)" textLength="15" lengthAdjust="spacingAndGlyphs">32%</text>
<text transform="translate(243,581) rotate(-90)" textLength="15" lengthAdjust="spacingAndGlyphs">35%</text>
<text transform="translate(253,581) rotate(-90)" textLength="15" lengthAdjust="spacingAndGlyphs">19%</text>
<text transform="translate(263,581) rotate(-90)" textLength="15" lengthAdjust="spacingAndGlyphs">35%</text>
<text transform="translate(273,581) rotate(-90)" textLength="15" lengthAdjust="spacingAndGlyphs">35%</text>
<text transform="translate(283,581) rotate(-90)" textLength="15" lengthAdjust="spacingAndGlyphs">35%</text>
<text transform="translate(293,581) rotate(-90)" textLength="15" lengthAdjust="spacingAndGlyphs">32%</text>
<text transform="translate(303,581) rotate(-90)" textLength="15" lengthAdjust="spacingAndGlyphs">45%</text>
<text transform="translate(313,581) rotate(-90)" textLength="15" lengthAdjust="spacingAndGlyphs">65%</text>
<text transform="translate(323,581) rotate(-90)" textLength="15" lengthAdjust="spacingAndGlyphs">52%</text>
<text transform="translate(333,581) rotate(-90)" textLength="15" lengthAdjust="spacingAndGlyphs">68%</text>
<text transform="translate(343,581) rotate(-90)" textLength="15" lengthAdjust="spacingAndGlyphs">52%</text>
<text transform="translate(353,581) rotate(-90)" textLength="15" lengthAdjust="spacingAndGlyphs">68%</text>
<text transform="translate(363,581) rotate(-90)" textLength="15" lengthAdjust="spacingAndGlyphs">77%</text>
<text transform="translate(373,581) rotate(-90)" textLength="15" lengthAdjust="spacingAndGlyphs">61%</text>
<text transform="translate(383,581) rotate(-90)" textLength="15" lengthAdjust="spacingAndGlyphs">61%</text>
<text transform="translate(393,581) rotate(-90)" textLength="15" lengthAdjust="spacingAndGlyphs">58%</text>
<text transform="translate(403,581) rotate(-90)" textLength="15" lengthAdjust="spacingAndGlyphs">71%</text>
<text transform="translate(413,581) rotate(-90)" textLength="15" lengthAdjust="spacingAndGlyphs">68%</text>
<text transform="translate(423,581) rotate(-90)" textLength="15" lengthAdjust="spacingAndGlyphs">71%</text>
<text transform="translate(433,581) rotate(-90)" textLength="15" lengthAdjust="spacingAndGlyphs">71%</text>
<text transform="translate(443,581) rotate(-90)" textLength="15" lengthAdjust="spacingAndGlyphs">81%</text>
<text transform="translate(453,581) rotate(-90)" textLength="15" lengthAdjust="spacingAndGlyphs">81%</text>
<text transform="translate(463,581) rotate(-90)" textLength="15" lengthAdjust="spacingAndGlyphs">81%</text>
<text transform="translate(473,581) rotate(-90)" textLength="15" lengthAdjust="spacingAndGlyphs">84%</text>
<text transform="translate(483,581) rotate(-90)" textLength="15" lengthAdjust="spacingAndGlyphs">81%</text>
<text transform="translate(493,581) rotate(-90)" textLength="15" lengthAdjust="spacingAndGlyphs">84%</text>
<text transform="translate(503,581) rotate(-90)" textLength="15" lengthAdjust="spacingAndGlyphs">68%</text>
<text transform="translate(513,581) rotate(-90)" textLength="15" lengthAdjust="spacingAndGlyphs">65%</text>
<text transform="translate(523,581) rotate(-90)" textLength="15" lengthAdjust="spacingAndGlyphs">77%</text>
<text transform="translate(533,581) rotate(-90)" textLength="15" lengthAdjust="spacingAndGlyphs">68%</text>
<text transform="translate(543,581) rotate(-90)" textLength="15" lengthAdjust="spacingAndGlyphs">65%</text>
<text transform="translate(553,581) rotate(-90)" textLength="15" lengthAdjust="spacingAndGlyphs">61%</text>
<text transform="translate(563,581) rotate(-90)" textLength="15" lengthAdjust="spacingAndGlyphs">42%</text>
<text transform="translate(573,581) rotate(-90)" textLength="15" lengthAdjust="spacingAndGlyphs">55%</text>
<text transform="translate(583,581) rotate(-90)" textLength="15" lengthAdjust="spacingAndGlyphs">61%</text>
<text transform="translate(593,581) rotate(-90)" textLength="15" lengthAdjust="spacingAndGlyphs">68%</text>
<text transform="translate(603,581) rotate(-90)" textLength="15" lengthAdjust="spacingAndGlyphs">58%</text>
<text transform="translate(613,581) rotate(-90)" textLength="15" lengthAdjust="spacingAndGlyphs">48%</text>
<text transform="translate(623,581) rotate(-90)" textLength="15" lengthAdjust="spacingAndGlyphs">45%</text>
<text transform="translate(633,581) rotate(-90)" textLength="15" lengthAdjust="spacingAndGlyphs">48%</text>
<text transform="translate(643,581) rotate(-90)" textLength="15" lengthAdjust="spacingAndGlyphs">48%</text>
<text transform="translate(653,581) rotate(-90)" textLength="15" lengthAdjust="spacingAndGlyphs">55%</text>
<text transform="translate(663,581) rotate(-90)" textLength="15" lengthAdjust="spacingAndGlyphs">52%</text>
<text transform="translate(673,581) rotate(-90)" textLength="15" lengthAdjust="spacingAndGlyphs">45%</text>
<text transform="translate(683,581) rotate(-90)" textLength="15" lengthAdjust="spacingAndGlyphs">39%</text>
</g>
<g shape-rendering="crispEdges" stroke="#c0c0c0" stroke-width="1" opacity="0.22">
<line x1="150.5" y1="556" x2="150.5" y2="600"/>
<line x1="190.5" y1="556" x2="190.5" y2="600"/>
<line x1="230.5" y1="556" x2="230.5" y2="600"/>
<line x1="270.5" y1="556" x2="270.5" y2="600"/>
<line x1="310.5" y1="556" x2="310.5" y2="600"/>
<line x1="350.5" y1="556" x2="350.5" y2="600"/>
<line x1="390.5" y1="556" x2="390.5" y2="600"/>
<line x1="430.5" y1="556" x2="430.5" y2="600"/>
<line x1="470.5" y1="556" x2="470.5" y2="600"/>
<line x1="510.5" y1="556" x2="510.5" y2="600"/>
<line x1="550.5" y1="556" x2="550.5" y2="600"/>
<line x1="590.5" y1="556" x2="590.5" y2="600"/>
<line x1="630.5" y1="556" x2="630.5" y2="600"/>
<line x1="670.5" y1="556" x2="670.5" y2="600"/>
</g>
<g shape-rendering="crispEdges" fill="#000">
<rect x="50" y="0" width="1" height="601"/>
<rect x="690" y="0" width="1" height="601"/>
<rect x="50" y="600" width="641" height="1"/>
<rect x="49" y="131" width="3" height="1"/>
</g>
</svg>
</body></html>
